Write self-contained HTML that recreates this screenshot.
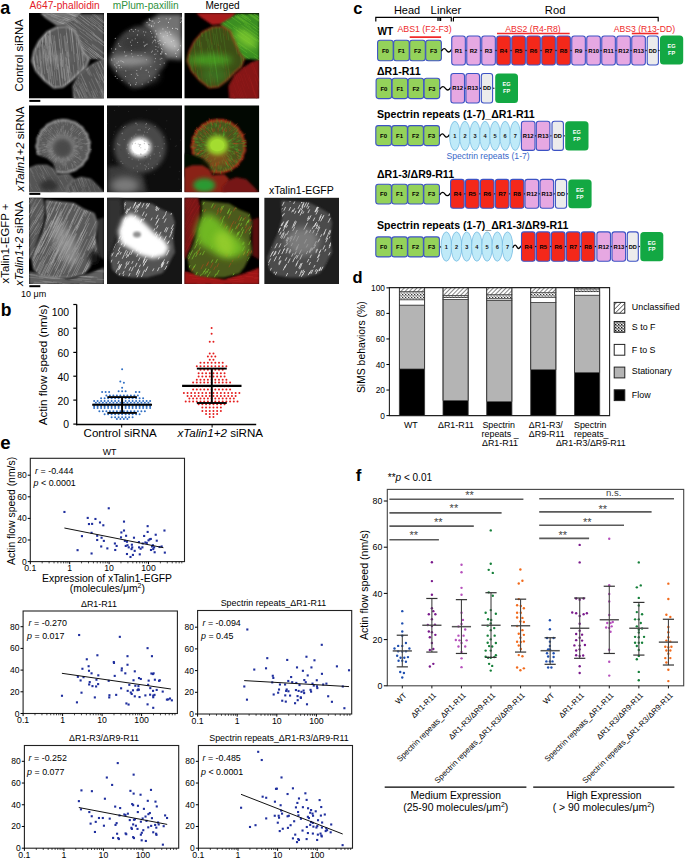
<!DOCTYPE html>
<html><head><meta charset="utf-8"><style>
html,body{margin:0;padding:0;background:#fff;}
svg{display:block;}
text{font-family:"Liberation Sans",sans-serif;}
</style></head><body>
<svg width="685" height="860" viewBox="0 0 685 860" font-family="Liberation Sans">
<defs>
<filter id="bl1" x="-20%" y="-20%" width="140%" height="140%"><feGaussianBlur stdDeviation="1"/></filter>
<filter id="bl2" x="-30%" y="-30%" width="160%" height="160%"><feGaussianBlur stdDeviation="2"/></filter>
<filter id="bl3" x="-50%" y="-50%" width="200%" height="200%"><feGaussianBlur stdDeviation="3.5"/></filter>
<filter id="bl5" x="-50%" y="-50%" width="200%" height="200%"><feGaussianBlur stdDeviation="5"/></filter>
<pattern id="hatch" width="3" height="3" patternUnits="userSpaceOnUse" patternTransform="rotate(45)"><rect width="3" height="3" fill="#fff"/><line x1="0" y1="0" x2="0" y2="3" stroke="#222" stroke-width="1.1"/></pattern>
<pattern id="hatchL" width="3.2" height="3.2" patternUnits="userSpaceOnUse" patternTransform="rotate(45)"><rect width="3.2" height="3.2" fill="#fff"/><line x1="0" y1="0" x2="0" y2="3.2" stroke="#222" stroke-width="1.2"/></pattern>
<pattern id="stip" width="3" height="3" patternUnits="userSpaceOnUse"><rect width="3" height="3" fill="#bbb"/><rect x="0" y="0" width="1" height="1" fill="#333"/><rect x="1.5" y="1.5" width="1" height="1" fill="#444"/><rect x="2" y="0" width="1" height="1" fill="#fff"/><rect x="0.5" y="2" width="1" height="1" fill="#fff"/></pattern>
<pattern id="stipL" width="3" height="3" patternUnits="userSpaceOnUse"><rect width="3" height="3" fill="#999"/><rect x="0" y="0" width="1" height="1" fill="#111"/><rect x="1.5" y="1.5" width="1" height="1" fill="#222"/><rect x="2" y="0" width="1" height="1" fill="#fff"/><rect x="0.5" y="2" width="1" height="1" fill="#eee"/></pattern>
</defs>
<clipPath id="cp1"><rect x="0" y="0" width="75.0" height="85.6"/></clipPath>
<g transform="translate(29.0,13.0)" clip-path="url(#cp1)">
<rect x="0.00" y="0.00" width="75.00" height="85.60" fill="#000" stroke="none" stroke-width="1" rx="0" />
<polygon points="12.0,0.0 52.0,0.0 46.0,7.0 38.0,11.0 28.0,12.0 22.0,8.0 16.0,4.0" fill="#6e6e6e" opacity="1" stroke="#b8b8b8" stroke-width="1" filter="url(#bl1)"/>
<clipPath id="cc1"><polygon points="12.0,0.0 52.0,0.0 46.0,7.0 38.0,11.0 28.0,12.0 22.0,8.0 16.0,4.0"/></clipPath>
<g clip-path="url(#cc1)">
<line x1="23.8" y1="1.5" x2="30.7" y2="4.0" stroke="#c0c0c0" stroke-width="0.6" opacity="0.45"/>
<line x1="43.0" y1="4.9" x2="54.1" y2="9.0" stroke="#c0c0c0" stroke-width="0.6" opacity="0.45"/>
<line x1="28.4" y1="2.5" x2="39.8" y2="6.7" stroke="#c0c0c0" stroke-width="0.6" opacity="0.45"/>
<line x1="29.6" y1="7.4" x2="40.5" y2="11.4" stroke="#c0c0c0" stroke-width="0.6" opacity="0.45"/>
<line x1="42.1" y1="4.0" x2="49.0" y2="6.5" stroke="#c0c0c0" stroke-width="0.6" opacity="0.45"/>
<line x1="14.5" y1="7.4" x2="21.5" y2="9.9" stroke="#c0c0c0" stroke-width="0.6" opacity="0.45"/>
<line x1="35.1" y1="6.3" x2="41.2" y2="8.6" stroke="#c0c0c0" stroke-width="0.6" opacity="0.45"/>
<line x1="37.1" y1="-1.9" x2="49.6" y2="2.7" stroke="#c0c0c0" stroke-width="0.6" opacity="0.45"/>
<line x1="40.0" y1="0.5" x2="51.3" y2="4.7" stroke="#c0c0c0" stroke-width="0.6" opacity="0.45"/>
<line x1="35.8" y1="-0.5" x2="46.8" y2="3.5" stroke="#c0c0c0" stroke-width="0.6" opacity="0.45"/>
<line x1="11.4" y1="8.9" x2="22.5" y2="13.0" stroke="#c0c0c0" stroke-width="0.6" opacity="0.45"/>
<line x1="47.1" y1="-0.8" x2="55.3" y2="2.1" stroke="#c0c0c0" stroke-width="0.6" opacity="0.45"/>
<line x1="33.3" y1="6.0" x2="40.3" y2="8.6" stroke="#c0c0c0" stroke-width="0.6" opacity="0.45"/>
<line x1="43.5" y1="8.7" x2="51.5" y2="11.6" stroke="#c0c0c0" stroke-width="0.6" opacity="0.45"/>
<line x1="13.4" y1="6.4" x2="22.3" y2="9.6" stroke="#c0c0c0" stroke-width="0.6" opacity="0.45"/>
<line x1="34.2" y1="4.3" x2="42.9" y2="7.5" stroke="#c0c0c0" stroke-width="0.6" opacity="0.45"/>
<line x1="8.2" y1="-0.1" x2="17.5" y2="3.3" stroke="#c0c0c0" stroke-width="0.6" opacity="0.45"/>
<line x1="35.4" y1="3.0" x2="46.9" y2="7.2" stroke="#c0c0c0" stroke-width="0.6" opacity="0.45"/>
<line x1="28.2" y1="8.6" x2="39.0" y2="12.5" stroke="#c0c0c0" stroke-width="0.6" opacity="0.45"/>
<line x1="21.8" y1="0.5" x2="28.0" y2="2.8" stroke="#c0c0c0" stroke-width="0.6" opacity="0.45"/>
<line x1="7.3" y1="8.1" x2="19.9" y2="12.6" stroke="#c0c0c0" stroke-width="0.6" opacity="0.45"/>
<line x1="36.6" y1="-0.7" x2="47.5" y2="3.3" stroke="#c0c0c0" stroke-width="0.6" opacity="0.45"/>
<line x1="11.7" y1="8.7" x2="22.5" y2="12.6" stroke="#c0c0c0" stroke-width="0.6" opacity="0.45"/>
<line x1="37.5" y1="5.7" x2="46.5" y2="8.9" stroke="#c0c0c0" stroke-width="0.6" opacity="0.45"/>
<line x1="42.2" y1="10.2" x2="49.7" y2="12.9" stroke="#c0c0c0" stroke-width="0.6" opacity="0.45"/>
<line x1="24.0" y1="6.8" x2="35.0" y2="10.8" stroke="#c0c0c0" stroke-width="0.6" opacity="0.45"/>
<line x1="21.8" y1="3.0" x2="35.1" y2="7.8" stroke="#c0c0c0" stroke-width="0.6" opacity="0.45"/>
<line x1="17.5" y1="0.5" x2="28.6" y2="4.6" stroke="#c0c0c0" stroke-width="0.6" opacity="0.45"/>
<line x1="19.0" y1="9.3" x2="27.2" y2="12.3" stroke="#c0c0c0" stroke-width="0.6" opacity="0.45"/>
<line x1="42.7" y1="2.3" x2="55.3" y2="6.9" stroke="#c0c0c0" stroke-width="0.6" opacity="0.45"/>
</g>
<polygon points="36.0,11.0 46.0,5.0 52.0,1.0 75.0,1.0 75.0,47.0 66.0,46.0 58.0,46.0 53.0,38.0 48.0,26.0" fill="#585858" opacity="1" filter="url(#bl1)"/>
<clipPath id="cc2"><polygon points="36.0,11.0 46.0,5.0 52.0,1.0 75.0,1.0 75.0,47.0 66.0,46.0 58.0,46.0 53.0,38.0 48.0,26.0"/></clipPath>
<g clip-path="url(#cc2)">
<line x1="38.5" y1="0.5" x2="51.9" y2="11.0" stroke="#b4b4b4" stroke-width="0.6" opacity="0.5"/>
<line x1="35.3" y1="-1.2" x2="48.8" y2="9.3" stroke="#b4b4b4" stroke-width="0.6" opacity="0.5"/>
<line x1="62.8" y1="30.8" x2="80.8" y2="44.8" stroke="#b4b4b4" stroke-width="0.6" opacity="0.5"/>
<line x1="38.6" y1="21.0" x2="50.7" y2="30.4" stroke="#b4b4b4" stroke-width="0.6" opacity="0.5"/>
<line x1="37.1" y1="1.5" x2="48.4" y2="10.3" stroke="#b4b4b4" stroke-width="0.6" opacity="0.5"/>
<line x1="62.9" y1="31.9" x2="81.4" y2="46.3" stroke="#b4b4b4" stroke-width="0.6" opacity="0.5"/>
<line x1="61.0" y1="5.0" x2="73.4" y2="14.8" stroke="#b4b4b4" stroke-width="0.6" opacity="0.5"/>
<line x1="50.9" y1="27.2" x2="70.0" y2="42.1" stroke="#b4b4b4" stroke-width="0.6" opacity="0.5"/>
<line x1="62.3" y1="-1.3" x2="78.3" y2="11.2" stroke="#b4b4b4" stroke-width="0.6" opacity="0.5"/>
<line x1="56.8" y1="20.0" x2="67.6" y2="28.5" stroke="#b4b4b4" stroke-width="0.6" opacity="0.5"/>
<line x1="44.5" y1="-2.7" x2="64.5" y2="12.9" stroke="#b4b4b4" stroke-width="0.6" opacity="0.5"/>
<line x1="63.6" y1="21.4" x2="75.9" y2="31.0" stroke="#b4b4b4" stroke-width="0.6" opacity="0.5"/>
<line x1="61.8" y1="19.8" x2="81.1" y2="34.9" stroke="#b4b4b4" stroke-width="0.6" opacity="0.5"/>
<line x1="62.2" y1="19.0" x2="75.9" y2="29.7" stroke="#b4b4b4" stroke-width="0.6" opacity="0.5"/>
<line x1="54.0" y1="16.7" x2="64.7" y2="25.0" stroke="#b4b4b4" stroke-width="0.6" opacity="0.5"/>
<line x1="43.3" y1="34.8" x2="52.5" y2="42.0" stroke="#b4b4b4" stroke-width="0.6" opacity="0.5"/>
<line x1="31.8" y1="25.1" x2="43.8" y2="34.5" stroke="#b4b4b4" stroke-width="0.6" opacity="0.5"/>
<line x1="50.4" y1="17.7" x2="63.3" y2="27.7" stroke="#b4b4b4" stroke-width="0.6" opacity="0.5"/>
<line x1="68.1" y1="4.7" x2="81.7" y2="15.3" stroke="#b4b4b4" stroke-width="0.6" opacity="0.5"/>
<line x1="37.9" y1="25.4" x2="49.9" y2="34.8" stroke="#b4b4b4" stroke-width="0.6" opacity="0.5"/>
<line x1="43.6" y1="30.5" x2="56.2" y2="40.3" stroke="#b4b4b4" stroke-width="0.6" opacity="0.5"/>
<line x1="52.8" y1="38.7" x2="62.7" y2="46.5" stroke="#b4b4b4" stroke-width="0.6" opacity="0.5"/>
<line x1="29.4" y1="4.5" x2="47.4" y2="18.5" stroke="#b4b4b4" stroke-width="0.6" opacity="0.5"/>
<line x1="53.7" y1="7.0" x2="66.3" y2="16.9" stroke="#b4b4b4" stroke-width="0.6" opacity="0.5"/>
<line x1="38.3" y1="18.5" x2="47.5" y2="25.7" stroke="#b4b4b4" stroke-width="0.6" opacity="0.5"/>
<line x1="53.1" y1="34.3" x2="73.3" y2="50.1" stroke="#b4b4b4" stroke-width="0.6" opacity="0.5"/>
<line x1="60.2" y1="41.7" x2="69.1" y2="48.6" stroke="#b4b4b4" stroke-width="0.6" opacity="0.5"/>
<line x1="38.2" y1="38.4" x2="56.3" y2="52.5" stroke="#b4b4b4" stroke-width="0.6" opacity="0.5"/>
<line x1="43.9" y1="38.1" x2="60.1" y2="50.7" stroke="#b4b4b4" stroke-width="0.6" opacity="0.5"/>
<line x1="62.4" y1="10.2" x2="73.4" y2="18.8" stroke="#b4b4b4" stroke-width="0.6" opacity="0.5"/>
<line x1="46.7" y1="2.1" x2="60.0" y2="12.5" stroke="#b4b4b4" stroke-width="0.6" opacity="0.5"/>
<line x1="69.1" y1="12.8" x2="77.9" y2="19.7" stroke="#b4b4b4" stroke-width="0.6" opacity="0.5"/>
<line x1="28.7" y1="1.7" x2="46.8" y2="15.9" stroke="#b4b4b4" stroke-width="0.6" opacity="0.5"/>
<line x1="45.2" y1="10.5" x2="55.1" y2="18.2" stroke="#b4b4b4" stroke-width="0.6" opacity="0.5"/>
<line x1="68.7" y1="16.1" x2="79.9" y2="24.9" stroke="#b4b4b4" stroke-width="0.6" opacity="0.5"/>
<line x1="33.0" y1="-0.6" x2="43.7" y2="7.7" stroke="#b4b4b4" stroke-width="0.6" opacity="0.5"/>
<line x1="57.8" y1="4.3" x2="67.0" y2="11.5" stroke="#b4b4b4" stroke-width="0.6" opacity="0.5"/>
<line x1="44.7" y1="4.3" x2="65.5" y2="20.6" stroke="#b4b4b4" stroke-width="0.6" opacity="0.5"/>
<line x1="31.7" y1="18.3" x2="49.8" y2="32.4" stroke="#b4b4b4" stroke-width="0.6" opacity="0.5"/>
<line x1="44.7" y1="40.8" x2="59.2" y2="52.1" stroke="#b4b4b4" stroke-width="0.6" opacity="0.5"/>
<line x1="40.9" y1="16.3" x2="50.0" y2="23.4" stroke="#b4b4b4" stroke-width="0.6" opacity="0.5"/>
<line x1="42.7" y1="4.8" x2="62.2" y2="20.0" stroke="#b4b4b4" stroke-width="0.6" opacity="0.5"/>
<line x1="63.9" y1="20.4" x2="72.9" y2="27.5" stroke="#b4b4b4" stroke-width="0.6" opacity="0.5"/>
<line x1="40.3" y1="7.8" x2="51.5" y2="16.5" stroke="#b4b4b4" stroke-width="0.6" opacity="0.5"/>
<line x1="39.8" y1="36.9" x2="50.2" y2="45.1" stroke="#b4b4b4" stroke-width="0.6" opacity="0.5"/>
<line x1="30.2" y1="37.6" x2="45.8" y2="49.8" stroke="#b4b4b4" stroke-width="0.6" opacity="0.5"/>
<line x1="64.8" y1="11.9" x2="84.4" y2="27.2" stroke="#b4b4b4" stroke-width="0.6" opacity="0.5"/>
<line x1="52.7" y1="30.5" x2="70.4" y2="44.3" stroke="#b4b4b4" stroke-width="0.6" opacity="0.5"/>
<line x1="49.7" y1="0.9" x2="60.9" y2="9.7" stroke="#b4b4b4" stroke-width="0.6" opacity="0.5"/>
<line x1="60.1" y1="34.6" x2="80.0" y2="50.2" stroke="#b4b4b4" stroke-width="0.6" opacity="0.5"/>
<line x1="39.9" y1="24.0" x2="58.3" y2="38.4" stroke="#b4b4b4" stroke-width="0.6" opacity="0.5"/>
<line x1="53.5" y1="32.6" x2="68.6" y2="44.4" stroke="#b4b4b4" stroke-width="0.6" opacity="0.5"/>
<line x1="55.6" y1="27.9" x2="67.5" y2="37.2" stroke="#b4b4b4" stroke-width="0.6" opacity="0.5"/>
<line x1="67.2" y1="41.3" x2="76.8" y2="48.7" stroke="#b4b4b4" stroke-width="0.6" opacity="0.5"/>
<line x1="65.5" y1="38.7" x2="82.3" y2="51.8" stroke="#b4b4b4" stroke-width="0.6" opacity="0.5"/>
<line x1="32.6" y1="38.4" x2="42.8" y2="46.3" stroke="#b4b4b4" stroke-width="0.6" opacity="0.5"/>
<line x1="69.1" y1="28.0" x2="78.5" y2="35.4" stroke="#b4b4b4" stroke-width="0.6" opacity="0.5"/>
<line x1="34.7" y1="24.1" x2="50.3" y2="36.3" stroke="#b4b4b4" stroke-width="0.6" opacity="0.5"/>
<line x1="59.5" y1="39.2" x2="70.8" y2="48.1" stroke="#b4b4b4" stroke-width="0.6" opacity="0.5"/>
<line x1="31.7" y1="40.0" x2="40.5" y2="46.9" stroke="#b4b4b4" stroke-width="0.6" opacity="0.5"/>
<line x1="60.9" y1="-0.9" x2="79.4" y2="13.6" stroke="#b4b4b4" stroke-width="0.6" opacity="0.5"/>
<line x1="58.9" y1="35.4" x2="74.2" y2="47.4" stroke="#b4b4b4" stroke-width="0.6" opacity="0.5"/>
<line x1="61.9" y1="3.7" x2="78.7" y2="16.8" stroke="#b4b4b4" stroke-width="0.6" opacity="0.5"/>
<line x1="39.9" y1="35.0" x2="57.9" y2="49.1" stroke="#b4b4b4" stroke-width="0.6" opacity="0.5"/>
<line x1="49.9" y1="21.7" x2="58.9" y2="28.7" stroke="#b4b4b4" stroke-width="0.6" opacity="0.5"/>
<line x1="30.0" y1="22.6" x2="44.6" y2="34.0" stroke="#b4b4b4" stroke-width="0.6" opacity="0.5"/>
<line x1="64.5" y1="24.9" x2="74.9" y2="33.0" stroke="#b4b4b4" stroke-width="0.6" opacity="0.5"/>
<line x1="42.6" y1="30.4" x2="57.6" y2="42.2" stroke="#b4b4b4" stroke-width="0.6" opacity="0.5"/>
<line x1="27.1" y1="32.2" x2="45.8" y2="46.8" stroke="#b4b4b4" stroke-width="0.6" opacity="0.5"/>
<line x1="32.7" y1="20.8" x2="46.0" y2="31.2" stroke="#b4b4b4" stroke-width="0.6" opacity="0.5"/>
</g>
<polygon points="44.0,73.0 50.0,62.0 58.0,55.0 66.0,50.0 75.0,46.0 75.0,86.0 45.0,86.0" fill="#545454" opacity="1" stroke="#a0a0a0" stroke-width="0.8" filter="url(#bl1)"/>
<clipPath id="cc3"><polygon points="44.0,73.0 50.0,62.0 58.0,55.0 66.0,50.0 75.0,46.0 75.0,86.0 45.0,86.0"/></clipPath>
<g clip-path="url(#cc3)">
<line x1="60.0" y1="68.5" x2="66.7" y2="82.9" stroke="#a8a8a8" stroke-width="0.6" opacity="0.45"/>
<line x1="69.6" y1="67.8" x2="76.8" y2="83.4" stroke="#a8a8a8" stroke-width="0.6" opacity="0.45"/>
<line x1="41.2" y1="56.7" x2="48.6" y2="72.5" stroke="#a8a8a8" stroke-width="0.6" opacity="0.45"/>
<line x1="62.3" y1="78.1" x2="66.0" y2="86.0" stroke="#a8a8a8" stroke-width="0.6" opacity="0.45"/>
<line x1="55.7" y1="49.9" x2="61.3" y2="61.8" stroke="#a8a8a8" stroke-width="0.6" opacity="0.45"/>
<line x1="59.7" y1="42.1" x2="63.9" y2="51.0" stroke="#a8a8a8" stroke-width="0.6" opacity="0.45"/>
<line x1="49.4" y1="75.6" x2="55.9" y2="89.7" stroke="#a8a8a8" stroke-width="0.6" opacity="0.45"/>
<line x1="47.1" y1="73.8" x2="50.8" y2="81.9" stroke="#a8a8a8" stroke-width="0.6" opacity="0.45"/>
<line x1="61.6" y1="47.7" x2="64.7" y2="54.5" stroke="#a8a8a8" stroke-width="0.6" opacity="0.45"/>
<line x1="69.0" y1="50.0" x2="73.1" y2="58.8" stroke="#a8a8a8" stroke-width="0.6" opacity="0.45"/>
<line x1="72.2" y1="76.1" x2="76.7" y2="85.7" stroke="#a8a8a8" stroke-width="0.6" opacity="0.45"/>
<line x1="70.7" y1="60.9" x2="76.9" y2="74.2" stroke="#a8a8a8" stroke-width="0.6" opacity="0.45"/>
<line x1="47.2" y1="77.0" x2="53.5" y2="90.3" stroke="#a8a8a8" stroke-width="0.6" opacity="0.45"/>
<line x1="71.7" y1="76.9" x2="76.2" y2="86.6" stroke="#a8a8a8" stroke-width="0.6" opacity="0.45"/>
<line x1="53.3" y1="48.5" x2="57.1" y2="56.7" stroke="#a8a8a8" stroke-width="0.6" opacity="0.45"/>
<line x1="43.1" y1="51.8" x2="48.9" y2="64.3" stroke="#a8a8a8" stroke-width="0.6" opacity="0.45"/>
<line x1="41.8" y1="68.1" x2="46.4" y2="78.1" stroke="#a8a8a8" stroke-width="0.6" opacity="0.45"/>
<line x1="51.0" y1="73.1" x2="56.3" y2="84.4" stroke="#a8a8a8" stroke-width="0.6" opacity="0.45"/>
<line x1="50.6" y1="58.5" x2="56.9" y2="72.0" stroke="#a8a8a8" stroke-width="0.6" opacity="0.45"/>
<line x1="44.1" y1="81.5" x2="47.4" y2="88.5" stroke="#a8a8a8" stroke-width="0.6" opacity="0.45"/>
<line x1="65.6" y1="76.3" x2="68.9" y2="83.3" stroke="#a8a8a8" stroke-width="0.6" opacity="0.45"/>
<line x1="65.6" y1="54.5" x2="71.3" y2="66.8" stroke="#a8a8a8" stroke-width="0.6" opacity="0.45"/>
<line x1="42.3" y1="43.6" x2="46.3" y2="52.1" stroke="#a8a8a8" stroke-width="0.6" opacity="0.45"/>
<line x1="70.3" y1="46.9" x2="76.9" y2="60.9" stroke="#a8a8a8" stroke-width="0.6" opacity="0.45"/>
<line x1="70.5" y1="78.6" x2="75.2" y2="88.7" stroke="#a8a8a8" stroke-width="0.6" opacity="0.45"/>
<line x1="51.7" y1="59.9" x2="58.3" y2="74.1" stroke="#a8a8a8" stroke-width="0.6" opacity="0.45"/>
<line x1="44.0" y1="68.7" x2="50.7" y2="83.1" stroke="#a8a8a8" stroke-width="0.6" opacity="0.45"/>
<line x1="67.0" y1="39.6" x2="74.3" y2="55.4" stroke="#a8a8a8" stroke-width="0.6" opacity="0.45"/>
<line x1="43.9" y1="53.3" x2="49.8" y2="65.9" stroke="#a8a8a8" stroke-width="0.6" opacity="0.45"/>
<line x1="68.8" y1="51.8" x2="76.1" y2="67.4" stroke="#a8a8a8" stroke-width="0.6" opacity="0.45"/>
<line x1="58.6" y1="53.6" x2="63.2" y2="63.4" stroke="#a8a8a8" stroke-width="0.6" opacity="0.45"/>
<line x1="47.6" y1="45.0" x2="51.4" y2="53.2" stroke="#a8a8a8" stroke-width="0.6" opacity="0.45"/>
<line x1="63.4" y1="81.7" x2="67.3" y2="90.0" stroke="#a8a8a8" stroke-width="0.6" opacity="0.45"/>
<line x1="42.7" y1="79.5" x2="48.3" y2="91.4" stroke="#a8a8a8" stroke-width="0.6" opacity="0.45"/>
<line x1="53.7" y1="49.3" x2="59.5" y2="61.7" stroke="#a8a8a8" stroke-width="0.6" opacity="0.45"/>
<line x1="67.1" y1="58.8" x2="72.1" y2="69.6" stroke="#a8a8a8" stroke-width="0.6" opacity="0.45"/>
<line x1="44.1" y1="79.1" x2="47.4" y2="86.2" stroke="#a8a8a8" stroke-width="0.6" opacity="0.45"/>
<line x1="57.4" y1="75.5" x2="61.2" y2="83.6" stroke="#a8a8a8" stroke-width="0.6" opacity="0.45"/>
<line x1="63.7" y1="77.6" x2="69.7" y2="90.4" stroke="#a8a8a8" stroke-width="0.6" opacity="0.45"/>
<line x1="65.9" y1="44.8" x2="71.0" y2="55.7" stroke="#a8a8a8" stroke-width="0.6" opacity="0.45"/>
<line x1="46.4" y1="75.0" x2="50.9" y2="84.6" stroke="#a8a8a8" stroke-width="0.6" opacity="0.45"/>
<line x1="54.6" y1="78.5" x2="61.5" y2="93.4" stroke="#a8a8a8" stroke-width="0.6" opacity="0.45"/>
<line x1="71.6" y1="58.4" x2="76.9" y2="69.9" stroke="#a8a8a8" stroke-width="0.6" opacity="0.45"/>
<line x1="64.4" y1="60.4" x2="68.8" y2="69.9" stroke="#a8a8a8" stroke-width="0.6" opacity="0.45"/>
<line x1="54.1" y1="46.7" x2="58.9" y2="57.1" stroke="#a8a8a8" stroke-width="0.6" opacity="0.45"/>
<line x1="71.7" y1="78.0" x2="77.6" y2="90.8" stroke="#a8a8a8" stroke-width="0.6" opacity="0.45"/>
<line x1="57.7" y1="55.7" x2="61.3" y2="63.4" stroke="#a8a8a8" stroke-width="0.6" opacity="0.45"/>
<line x1="48.9" y1="69.8" x2="56.0" y2="84.8" stroke="#a8a8a8" stroke-width="0.6" opacity="0.45"/>
<line x1="51.9" y1="70.4" x2="58.5" y2="84.5" stroke="#a8a8a8" stroke-width="0.6" opacity="0.45"/>
<line x1="62.3" y1="65.5" x2="68.8" y2="79.6" stroke="#a8a8a8" stroke-width="0.6" opacity="0.45"/>
<line x1="53.1" y1="69.4" x2="57.5" y2="78.9" stroke="#a8a8a8" stroke-width="0.6" opacity="0.45"/>
<line x1="55.9" y1="70.1" x2="62.2" y2="83.5" stroke="#a8a8a8" stroke-width="0.6" opacity="0.45"/>
<line x1="50.1" y1="77.3" x2="56.1" y2="90.3" stroke="#a8a8a8" stroke-width="0.6" opacity="0.45"/>
<line x1="59.2" y1="40.5" x2="64.8" y2="52.5" stroke="#a8a8a8" stroke-width="0.6" opacity="0.45"/>
<line x1="49.2" y1="67.3" x2="54.4" y2="78.5" stroke="#a8a8a8" stroke-width="0.6" opacity="0.45"/>
<line x1="66.0" y1="64.7" x2="72.7" y2="79.1" stroke="#a8a8a8" stroke-width="0.6" opacity="0.45"/>
<line x1="51.6" y1="64.9" x2="58.0" y2="78.7" stroke="#a8a8a8" stroke-width="0.6" opacity="0.45"/>
<line x1="66.2" y1="52.6" x2="73.1" y2="67.4" stroke="#a8a8a8" stroke-width="0.6" opacity="0.45"/>
<line x1="67.2" y1="65.5" x2="74.7" y2="81.6" stroke="#a8a8a8" stroke-width="0.6" opacity="0.45"/>
<line x1="70.9" y1="60.8" x2="76.4" y2="72.6" stroke="#a8a8a8" stroke-width="0.6" opacity="0.45"/>
</g>
<polygon points="5.0,38.0 10.0,28.0 18.0,19.0 28.0,14.0 38.0,13.0 46.0,18.0 51.0,30.0 55.0,40.0 60.0,46.0 57.0,54.0 50.0,60.0 43.0,67.0 34.0,74.0 25.0,75.0 15.0,67.0 7.0,58.0 3.0,48.0" fill="#585858" opacity="1" stroke="#c0c0c0" stroke-width="1.1" filter="url(#bl1)"/>
<clipPath id="cc4"><polygon points="5.0,38.0 10.0,28.0 18.0,19.0 28.0,14.0 38.0,13.0 46.0,18.0 51.0,30.0 55.0,40.0 60.0,46.0 57.0,54.0 50.0,60.0 43.0,67.0 34.0,74.0 25.0,75.0 15.0,67.0 7.0,58.0 3.0,48.0"/></clipPath>
<g clip-path="url(#cc4)">
<line x1="15.5" y1="36.2" x2="17.7" y2="57.3" stroke="#b8b8b8" stroke-width="0.6" opacity="0.5"/>
<line x1="36.6" y1="44.2" x2="38.2" y2="59.4" stroke="#b8b8b8" stroke-width="0.6" opacity="0.5"/>
<line x1="2.8" y1="55.4" x2="4.7" y2="74.4" stroke="#b8b8b8" stroke-width="0.6" opacity="0.5"/>
<line x1="15.1" y1="63.2" x2="17.6" y2="86.3" stroke="#b8b8b8" stroke-width="0.6" opacity="0.5"/>
<line x1="49.3" y1="29.3" x2="52.1" y2="55.7" stroke="#b8b8b8" stroke-width="0.6" opacity="0.5"/>
<line x1="10.0" y1="36.9" x2="13.2" y2="67.8" stroke="#b8b8b8" stroke-width="0.6" opacity="0.5"/>
<line x1="31.4" y1="45.5" x2="34.2" y2="72.5" stroke="#b8b8b8" stroke-width="0.6" opacity="0.5"/>
<line x1="5.3" y1="47.3" x2="8.0" y2="72.7" stroke="#b8b8b8" stroke-width="0.6" opacity="0.5"/>
<line x1="18.6" y1="-0.5" x2="21.8" y2="30.3" stroke="#b8b8b8" stroke-width="0.6" opacity="0.5"/>
<line x1="28.3" y1="42.0" x2="31.6" y2="73.1" stroke="#b8b8b8" stroke-width="0.6" opacity="0.5"/>
<line x1="42.6" y1="59.3" x2="44.8" y2="80.9" stroke="#b8b8b8" stroke-width="0.6" opacity="0.5"/>
<line x1="47.0" y1="24.5" x2="50.3" y2="56.6" stroke="#b8b8b8" stroke-width="0.6" opacity="0.5"/>
<line x1="52.2" y1="10.8" x2="54.0" y2="27.3" stroke="#b8b8b8" stroke-width="0.6" opacity="0.5"/>
<line x1="14.2" y1="61.6" x2="16.5" y2="84.1" stroke="#b8b8b8" stroke-width="0.6" opacity="0.5"/>
<line x1="37.5" y1="19.8" x2="40.0" y2="43.6" stroke="#b8b8b8" stroke-width="0.6" opacity="0.5"/>
<line x1="23.7" y1="22.1" x2="26.3" y2="47.4" stroke="#b8b8b8" stroke-width="0.6" opacity="0.5"/>
<line x1="34.9" y1="55.5" x2="37.7" y2="82.7" stroke="#b8b8b8" stroke-width="0.6" opacity="0.5"/>
<line x1="54.2" y1="49.5" x2="57.7" y2="82.7" stroke="#b8b8b8" stroke-width="0.6" opacity="0.5"/>
<line x1="39.6" y1="7.8" x2="42.9" y2="38.5" stroke="#b8b8b8" stroke-width="0.6" opacity="0.5"/>
<line x1="56.7" y1="56.6" x2="59.3" y2="81.6" stroke="#b8b8b8" stroke-width="0.6" opacity="0.5"/>
<line x1="42.1" y1="11.0" x2="45.3" y2="41.2" stroke="#b8b8b8" stroke-width="0.6" opacity="0.5"/>
<line x1="34.9" y1="23.1" x2="36.5" y2="38.2" stroke="#b8b8b8" stroke-width="0.6" opacity="0.5"/>
<line x1="50.9" y1="66.5" x2="52.5" y2="82.2" stroke="#b8b8b8" stroke-width="0.6" opacity="0.5"/>
<line x1="47.7" y1="30.0" x2="49.5" y2="46.9" stroke="#b8b8b8" stroke-width="0.6" opacity="0.5"/>
<line x1="18.1" y1="45.2" x2="21.4" y2="76.1" stroke="#b8b8b8" stroke-width="0.6" opacity="0.5"/>
<line x1="4.7" y1="43.7" x2="6.3" y2="58.5" stroke="#b8b8b8" stroke-width="0.6" opacity="0.5"/>
<line x1="42.3" y1="18.0" x2="45.6" y2="49.1" stroke="#b8b8b8" stroke-width="0.6" opacity="0.5"/>
<line x1="57.1" y1="27.6" x2="60.7" y2="61.0" stroke="#b8b8b8" stroke-width="0.6" opacity="0.5"/>
<line x1="19.3" y1="5.0" x2="22.0" y2="30.6" stroke="#b8b8b8" stroke-width="0.6" opacity="0.5"/>
<line x1="3.6" y1="14.3" x2="5.9" y2="36.2" stroke="#b8b8b8" stroke-width="0.6" opacity="0.5"/>
<line x1="37.0" y1="15.3" x2="38.6" y2="30.1" stroke="#b8b8b8" stroke-width="0.6" opacity="0.5"/>
<line x1="50.7" y1="16.2" x2="54.2" y2="48.8" stroke="#b8b8b8" stroke-width="0.6" opacity="0.5"/>
<line x1="52.9" y1="25.0" x2="55.3" y2="47.9" stroke="#b8b8b8" stroke-width="0.6" opacity="0.5"/>
<line x1="31.3" y1="40.2" x2="34.0" y2="65.7" stroke="#b8b8b8" stroke-width="0.6" opacity="0.5"/>
<line x1="33.2" y1="35.3" x2="36.6" y2="67.6" stroke="#b8b8b8" stroke-width="0.6" opacity="0.5"/>
<line x1="30.4" y1="25.8" x2="33.4" y2="53.7" stroke="#b8b8b8" stroke-width="0.6" opacity="0.5"/>
<line x1="14.8" y1="15.2" x2="18.3" y2="48.2" stroke="#b8b8b8" stroke-width="0.6" opacity="0.5"/>
<line x1="32.0" y1="39.9" x2="33.4" y2="54.1" stroke="#b8b8b8" stroke-width="0.6" opacity="0.5"/>
<line x1="25.9" y1="41.8" x2="27.4" y2="56.1" stroke="#b8b8b8" stroke-width="0.6" opacity="0.5"/>
<line x1="37.3" y1="44.6" x2="38.9" y2="59.7" stroke="#b8b8b8" stroke-width="0.6" opacity="0.5"/>
<line x1="37.3" y1="28.3" x2="40.2" y2="55.5" stroke="#b8b8b8" stroke-width="0.6" opacity="0.5"/>
<line x1="21.6" y1="42.7" x2="24.6" y2="71.0" stroke="#b8b8b8" stroke-width="0.6" opacity="0.5"/>
<line x1="2.8" y1="3.2" x2="5.7" y2="30.3" stroke="#b8b8b8" stroke-width="0.6" opacity="0.5"/>
<line x1="56.7" y1="17.2" x2="59.1" y2="40.0" stroke="#b8b8b8" stroke-width="0.6" opacity="0.5"/>
<line x1="35.7" y1="22.3" x2="37.9" y2="43.4" stroke="#b8b8b8" stroke-width="0.6" opacity="0.5"/>
<line x1="19.5" y1="23.1" x2="22.2" y2="48.7" stroke="#b8b8b8" stroke-width="0.6" opacity="0.5"/>
<line x1="18.6" y1="21.9" x2="21.6" y2="50.9" stroke="#b8b8b8" stroke-width="0.6" opacity="0.5"/>
<line x1="3.0" y1="34.2" x2="6.0" y2="62.4" stroke="#b8b8b8" stroke-width="0.6" opacity="0.5"/>
<line x1="19.1" y1="12.0" x2="22.2" y2="41.6" stroke="#b8b8b8" stroke-width="0.6" opacity="0.5"/>
<line x1="15.4" y1="13.4" x2="17.8" y2="35.8" stroke="#b8b8b8" stroke-width="0.6" opacity="0.5"/>
<line x1="41.7" y1="9.2" x2="43.9" y2="29.4" stroke="#b8b8b8" stroke-width="0.6" opacity="0.5"/>
<line x1="20.8" y1="53.4" x2="23.2" y2="75.9" stroke="#b8b8b8" stroke-width="0.6" opacity="0.5"/>
<line x1="50.7" y1="13.3" x2="52.8" y2="33.7" stroke="#b8b8b8" stroke-width="0.6" opacity="0.5"/>
<line x1="38.9" y1="56.5" x2="41.3" y2="79.2" stroke="#b8b8b8" stroke-width="0.6" opacity="0.5"/>
<line x1="14.6" y1="8.4" x2="17.1" y2="32.6" stroke="#b8b8b8" stroke-width="0.6" opacity="0.5"/>
<line x1="12.3" y1="47.9" x2="15.5" y2="78.2" stroke="#b8b8b8" stroke-width="0.6" opacity="0.5"/>
<line x1="11.9" y1="15.4" x2="15.0" y2="45.1" stroke="#b8b8b8" stroke-width="0.6" opacity="0.5"/>
<line x1="38.5" y1="52.7" x2="40.7" y2="73.3" stroke="#b8b8b8" stroke-width="0.6" opacity="0.5"/>
<line x1="8.8" y1="16.4" x2="11.9" y2="45.8" stroke="#b8b8b8" stroke-width="0.6" opacity="0.5"/>
<line x1="17.3" y1="23.4" x2="19.6" y2="45.5" stroke="#b8b8b8" stroke-width="0.6" opacity="0.5"/>
<line x1="25.3" y1="22.5" x2="28.6" y2="54.3" stroke="#b8b8b8" stroke-width="0.6" opacity="0.5"/>
<line x1="10.2" y1="-2.9" x2="13.6" y2="29.4" stroke="#b8b8b8" stroke-width="0.6" opacity="0.5"/>
<line x1="52.0" y1="63.0" x2="54.3" y2="85.4" stroke="#b8b8b8" stroke-width="0.6" opacity="0.5"/>
<line x1="56.2" y1="61.4" x2="58.1" y2="79.6" stroke="#b8b8b8" stroke-width="0.6" opacity="0.5"/>
<line x1="44.1" y1="51.5" x2="46.9" y2="78.3" stroke="#b8b8b8" stroke-width="0.6" opacity="0.5"/>
<line x1="31.5" y1="20.6" x2="33.7" y2="41.2" stroke="#b8b8b8" stroke-width="0.6" opacity="0.5"/>
<line x1="14.6" y1="4.5" x2="17.3" y2="29.9" stroke="#b8b8b8" stroke-width="0.6" opacity="0.5"/>
<line x1="18.6" y1="55.8" x2="20.1" y2="70.6" stroke="#b8b8b8" stroke-width="0.6" opacity="0.5"/>
<line x1="52.8" y1="40.0" x2="56.2" y2="72.0" stroke="#b8b8b8" stroke-width="0.6" opacity="0.5"/>
<line x1="52.8" y1="56.2" x2="55.4" y2="81.4" stroke="#b8b8b8" stroke-width="0.6" opacity="0.5"/>
<line x1="2.8" y1="50.6" x2="4.7" y2="67.8" stroke="#b8b8b8" stroke-width="0.6" opacity="0.5"/>
<line x1="18.8" y1="42.0" x2="21.4" y2="66.2" stroke="#b8b8b8" stroke-width="0.6" opacity="0.5"/>
<line x1="25.2" y1="58.3" x2="27.9" y2="84.1" stroke="#b8b8b8" stroke-width="0.6" opacity="0.5"/>
<line x1="20.8" y1="13.3" x2="24.1" y2="44.0" stroke="#b8b8b8" stroke-width="0.6" opacity="0.5"/>
<line x1="29.1" y1="51.1" x2="31.3" y2="71.9" stroke="#b8b8b8" stroke-width="0.6" opacity="0.5"/>
<line x1="12.7" y1="31.2" x2="15.8" y2="61.1" stroke="#b8b8b8" stroke-width="0.6" opacity="0.5"/>
<line x1="11.1" y1="46.1" x2="14.4" y2="78.0" stroke="#b8b8b8" stroke-width="0.6" opacity="0.5"/>
<line x1="48.2" y1="57.0" x2="49.7" y2="71.1" stroke="#b8b8b8" stroke-width="0.6" opacity="0.5"/>
<line x1="38.0" y1="59.0" x2="39.6" y2="73.9" stroke="#b8b8b8" stroke-width="0.6" opacity="0.5"/>
<line x1="17.2" y1="17.6" x2="19.7" y2="41.8" stroke="#b8b8b8" stroke-width="0.6" opacity="0.5"/>
<line x1="25.6" y1="27.8" x2="28.6" y2="56.8" stroke="#b8b8b8" stroke-width="0.6" opacity="0.5"/>
<line x1="2.2" y1="8.2" x2="4.0" y2="24.6" stroke="#b8b8b8" stroke-width="0.6" opacity="0.5"/>
<line x1="8.4" y1="0.8" x2="11.8" y2="33.7" stroke="#b8b8b8" stroke-width="0.6" opacity="0.5"/>
<line x1="50.5" y1="6.5" x2="52.9" y2="30.2" stroke="#b8b8b8" stroke-width="0.6" opacity="0.5"/>
<line x1="19.9" y1="22.1" x2="22.1" y2="42.9" stroke="#b8b8b8" stroke-width="0.6" opacity="0.5"/>
<line x1="38.8" y1="38.9" x2="41.0" y2="59.8" stroke="#b8b8b8" stroke-width="0.6" opacity="0.5"/>
<line x1="13.0" y1="25.2" x2="14.8" y2="41.6" stroke="#b8b8b8" stroke-width="0.6" opacity="0.5"/>
<line x1="33.5" y1="46.7" x2="35.8" y2="68.1" stroke="#b8b8b8" stroke-width="0.6" opacity="0.5"/>
<line x1="6.4" y1="13.5" x2="8.7" y2="34.7" stroke="#b8b8b8" stroke-width="0.6" opacity="0.5"/>
<line x1="36.3" y1="50.9" x2="38.6" y2="72.2" stroke="#b8b8b8" stroke-width="0.6" opacity="0.5"/>
<line x1="47.5" y1="40.5" x2="49.8" y2="62.8" stroke="#b8b8b8" stroke-width="0.6" opacity="0.5"/>
<line x1="22.8" y1="29.9" x2="25.7" y2="57.6" stroke="#b8b8b8" stroke-width="0.6" opacity="0.5"/>
<line x1="25.8" y1="44.6" x2="28.2" y2="67.5" stroke="#b8b8b8" stroke-width="0.6" opacity="0.5"/>
<line x1="15.5" y1="32.5" x2="18.4" y2="60.0" stroke="#b8b8b8" stroke-width="0.6" opacity="0.5"/>
<line x1="5.9" y1="28.2" x2="8.2" y2="50.5" stroke="#b8b8b8" stroke-width="0.6" opacity="0.5"/>
<line x1="52.0" y1="60.5" x2="54.3" y2="81.7" stroke="#b8b8b8" stroke-width="0.6" opacity="0.5"/>
<line x1="53.2" y1="52.5" x2="55.2" y2="71.6" stroke="#b8b8b8" stroke-width="0.6" opacity="0.5"/>
<line x1="27.9" y1="5.7" x2="31.0" y2="35.5" stroke="#b8b8b8" stroke-width="0.6" opacity="0.5"/>
<line x1="39.2" y1="53.3" x2="42.3" y2="82.7" stroke="#b8b8b8" stroke-width="0.6" opacity="0.5"/>
<line x1="39.7" y1="46.0" x2="42.4" y2="70.9" stroke="#b8b8b8" stroke-width="0.6" opacity="0.5"/>
<line x1="8.1" y1="42.4" x2="9.6" y2="56.5" stroke="#b8b8b8" stroke-width="0.6" opacity="0.5"/>
<line x1="10.4" y1="53.6" x2="12.0" y2="68.4" stroke="#b8b8b8" stroke-width="0.6" opacity="0.5"/>
<line x1="6.6" y1="3.6" x2="9.9" y2="34.7" stroke="#b8b8b8" stroke-width="0.6" opacity="0.5"/>
<line x1="11.6" y1="-0.7" x2="14.8" y2="29.6" stroke="#b8b8b8" stroke-width="0.6" opacity="0.5"/>
<line x1="8.5" y1="51.8" x2="11.3" y2="78.9" stroke="#b8b8b8" stroke-width="0.6" opacity="0.5"/>
<line x1="49.3" y1="59.4" x2="52.0" y2="84.7" stroke="#b8b8b8" stroke-width="0.6" opacity="0.5"/>
<line x1="47.0" y1="0.8" x2="50.0" y2="29.7" stroke="#b8b8b8" stroke-width="0.6" opacity="0.5"/>
<line x1="31.3" y1="49.3" x2="33.0" y2="65.3" stroke="#b8b8b8" stroke-width="0.6" opacity="0.5"/>
<line x1="44.9" y1="63.4" x2="46.5" y2="78.5" stroke="#b8b8b8" stroke-width="0.6" opacity="0.5"/>
<line x1="19.9" y1="32.9" x2="23.1" y2="63.0" stroke="#b8b8b8" stroke-width="0.6" opacity="0.5"/>
</g>
<ellipse cx="25" cy="45" rx="18" ry="4" fill="#9a9a9a" opacity="0.45" filter="url(#bl3)"/>
</g>
<clipPath id="cp2"><rect x="0" y="0" width="75.0" height="85.6"/></clipPath>
<g transform="translate(107.0,13.0)" clip-path="url(#cp2)">
<rect x="0.00" y="0.00" width="75.00" height="85.60" fill="#000" stroke="none" stroke-width="1" rx="0" />
<polygon points="36.0,11.0 46.0,5.0 52.0,1.0 75.0,1.0 75.0,47.0 66.0,46.0 58.0,46.0 53.0,38.0 48.0,26.0" fill="#727272" opacity="1" filter="url(#bl2)"/>
<ellipse cx="62" cy="28" rx="14" ry="7" fill="#c4c4c4" opacity="0.9" filter="url(#bl3)" transform="rotate(40 62 28)"/>
<polygon points="5.0,38.0 10.0,28.0 18.0,19.0 28.0,14.0 38.0,13.0 46.0,18.0 51.0,30.0 55.0,40.0 60.0,46.0 57.0,54.0 50.0,60.0 43.0,67.0 34.0,74.0 25.0,75.0 15.0,67.0 7.0,58.0 3.0,48.0" fill="#4a4a4a" opacity="1" filter="url(#bl2)"/>
<ellipse cx="28" cy="30" rx="16" ry="9" fill="#333" opacity="0.7" filter="url(#bl3)"/>
<ellipse cx="24" cy="48" rx="22" ry="5" fill="#a4a4a4" opacity="0.85" filter="url(#bl3)"/>
<ellipse cx="38" cy="62" rx="14" ry="9" fill="#5c5c5c" opacity="0.7" filter="url(#bl3)"/>
<circle cx="48.2" cy="64.8" r="0.55" fill="#c8c8c8" opacity="0.75"/>
<circle cx="30.6" cy="29.5" r="0.55" fill="#c8c8c8" opacity="0.75"/>
<circle cx="29.8" cy="60.9" r="0.55" fill="#c8c8c8" opacity="0.75"/>
<circle cx="24.3" cy="61.5" r="0.55" fill="#c8c8c8" opacity="0.75"/>
<circle cx="18.5" cy="63.5" r="0.55" fill="#c8c8c8" opacity="0.75"/>
<circle cx="44.6" cy="39.1" r="0.55" fill="#c8c8c8" opacity="0.75"/>
<circle cx="33.7" cy="56.0" r="0.55" fill="#c8c8c8" opacity="0.75"/>
<circle cx="14.0" cy="47.9" r="0.55" fill="#c8c8c8" opacity="0.75"/>
<circle cx="48.9" cy="29.7" r="0.55" fill="#c8c8c8" opacity="0.75"/>
<circle cx="48.8" cy="56.2" r="0.55" fill="#c8c8c8" opacity="0.75"/>
<circle cx="51.1" cy="34.1" r="0.55" fill="#c8c8c8" opacity="0.75"/>
<circle cx="8.3" cy="63.4" r="0.55" fill="#c8c8c8" opacity="0.75"/>
<circle cx="48.9" cy="41.0" r="0.55" fill="#c8c8c8" opacity="0.75"/>
<circle cx="8.3" cy="25.4" r="0.55" fill="#c8c8c8" opacity="0.75"/>
<circle cx="39.2" cy="31.3" r="0.55" fill="#c8c8c8" opacity="0.75"/>
<circle cx="57.2" cy="50.1" r="0.55" fill="#c8c8c8" opacity="0.75"/>
<circle cx="14.4" cy="54.3" r="0.55" fill="#c8c8c8" opacity="0.75"/>
<circle cx="23.5" cy="71.8" r="0.55" fill="#c8c8c8" opacity="0.75"/>
<circle cx="54.8" cy="45.4" r="0.55" fill="#c8c8c8" opacity="0.75"/>
<circle cx="39.7" cy="57.0" r="0.55" fill="#c8c8c8" opacity="0.75"/>
<circle cx="4.6" cy="35.8" r="0.55" fill="#c8c8c8" opacity="0.75"/>
<circle cx="37.3" cy="32.2" r="0.55" fill="#c8c8c8" opacity="0.75"/>
<circle cx="36.6" cy="18.7" r="0.55" fill="#c8c8c8" opacity="0.75"/>
<circle cx="53.2" cy="46.1" r="0.55" fill="#c8c8c8" opacity="0.75"/>
<circle cx="9.7" cy="54.8" r="0.55" fill="#c8c8c8" opacity="0.75"/>
<circle cx="20.8" cy="25.4" r="0.55" fill="#c8c8c8" opacity="0.75"/>
<circle cx="30.6" cy="21.7" r="0.55" fill="#c8c8c8" opacity="0.75"/>
<circle cx="15.0" cy="67.5" r="0.55" fill="#c8c8c8" opacity="0.75"/>
<circle cx="22.0" cy="70.0" r="0.55" fill="#c8c8c8" opacity="0.75"/>
<circle cx="38.4" cy="32.3" r="0.55" fill="#c8c8c8" opacity="0.75"/>
<circle cx="24.5" cy="37.5" r="0.55" fill="#c8c8c8" opacity="0.75"/>
<circle cx="6.1" cy="39.6" r="0.55" fill="#c8c8c8" opacity="0.75"/>
<circle cx="45.5" cy="38.1" r="0.55" fill="#c8c8c8" opacity="0.75"/>
<circle cx="41.2" cy="69.0" r="0.55" fill="#c8c8c8" opacity="0.75"/>
<circle cx="28.5" cy="65.4" r="0.55" fill="#c8c8c8" opacity="0.75"/>
<circle cx="48.4" cy="45.6" r="0.55" fill="#c8c8c8" opacity="0.75"/>
<circle cx="29.8" cy="57.5" r="0.55" fill="#c8c8c8" opacity="0.75"/>
<circle cx="26.3" cy="18.4" r="0.55" fill="#c8c8c8" opacity="0.75"/>
<circle cx="45.6" cy="29.7" r="0.55" fill="#c8c8c8" opacity="0.75"/>
<circle cx="30.8" cy="62.4" r="0.55" fill="#c8c8c8" opacity="0.75"/>
<circle cx="10.0" cy="50.1" r="0.55" fill="#c8c8c8" opacity="0.75"/>
<circle cx="23.6" cy="29.1" r="0.55" fill="#c8c8c8" opacity="0.75"/>
<circle cx="28.7" cy="71.4" r="0.55" fill="#c8c8c8" opacity="0.75"/>
<circle cx="17.5" cy="38.9" r="0.55" fill="#c8c8c8" opacity="0.75"/>
<circle cx="53.1" cy="51.6" r="0.55" fill="#c8c8c8" opacity="0.75"/>
<circle cx="18.3" cy="42.9" r="0.55" fill="#c8c8c8" opacity="0.75"/>
<circle cx="30.3" cy="22.0" r="0.55" fill="#c8c8c8" opacity="0.75"/>
<circle cx="24.5" cy="32.3" r="0.55" fill="#c8c8c8" opacity="0.75"/>
<circle cx="48.9" cy="33.4" r="0.55" fill="#c8c8c8" opacity="0.75"/>
<circle cx="55.6" cy="36.7" r="0.55" fill="#c8c8c8" opacity="0.75"/>
<circle cx="37.4" cy="33.2" r="0.55" fill="#c8c8c8" opacity="0.75"/>
<circle cx="25.7" cy="43.7" r="0.55" fill="#c8c8c8" opacity="0.75"/>
<circle cx="28.6" cy="16.6" r="0.55" fill="#c8c8c8" opacity="0.75"/>
<circle cx="9.4" cy="58.3" r="0.55" fill="#c8c8c8" opacity="0.75"/>
<circle cx="23.6" cy="72.1" r="0.55" fill="#c8c8c8" opacity="0.75"/>
<circle cx="38.0" cy="39.6" r="0.55" fill="#c8c8c8" opacity="0.75"/>
<circle cx="47.6" cy="64.3" r="0.55" fill="#c8c8c8" opacity="0.75"/>
<circle cx="31.0" cy="42.5" r="0.55" fill="#c8c8c8" opacity="0.75"/>
<circle cx="8.7" cy="35.8" r="0.55" fill="#c8c8c8" opacity="0.75"/>
<circle cx="11.3" cy="52.4" r="0.55" fill="#c8c8c8" opacity="0.75"/>
<circle cx="37.6" cy="22.1" r="0.55" fill="#c8c8c8" opacity="0.75"/>
<circle cx="38.8" cy="19.1" r="0.55" fill="#c8c8c8" opacity="0.75"/>
<circle cx="9.0" cy="53.7" r="0.55" fill="#c8c8c8" opacity="0.75"/>
<circle cx="29.4" cy="69.7" r="0.55" fill="#c8c8c8" opacity="0.75"/>
<circle cx="38.9" cy="57.2" r="0.55" fill="#c8c8c8" opacity="0.75"/>
<circle cx="10.2" cy="65.5" r="0.55" fill="#c8c8c8" opacity="0.75"/>
<circle cx="7.8" cy="51.9" r="0.55" fill="#c8c8c8" opacity="0.75"/>
<circle cx="53.9" cy="41.5" r="0.55" fill="#c8c8c8" opacity="0.75"/>
<circle cx="42.5" cy="62.9" r="0.55" fill="#c8c8c8" opacity="0.75"/>
<circle cx="54.8" cy="40.8" r="0.55" fill="#c8c8c8" opacity="0.75"/>
<circle cx="47.4" cy="41.2" r="0.55" fill="#c8c8c8" opacity="0.75"/>
<circle cx="18.8" cy="57.9" r="0.55" fill="#c8c8c8" opacity="0.75"/>
<circle cx="51.9" cy="30.6" r="0.55" fill="#c8c8c8" opacity="0.75"/>
<circle cx="39.4" cy="46.7" r="0.55" fill="#c8c8c8" opacity="0.75"/>
<circle cx="24.1" cy="16.3" r="0.55" fill="#c8c8c8" opacity="0.75"/>
<circle cx="22.6" cy="17.9" r="0.55" fill="#c8c8c8" opacity="0.75"/>
<circle cx="44.7" cy="20.2" r="0.55" fill="#c8c8c8" opacity="0.75"/>
<circle cx="34.2" cy="42.2" r="0.55" fill="#c8c8c8" opacity="0.75"/>
<circle cx="31.2" cy="17.7" r="0.55" fill="#c8c8c8" opacity="0.75"/>
<circle cx="7.2" cy="45.8" r="0.55" fill="#c8c8c8" opacity="0.75"/>
<circle cx="4.7" cy="46.1" r="0.55" fill="#c8c8c8" opacity="0.75"/>
<circle cx="11.6" cy="30.7" r="0.55" fill="#c8c8c8" opacity="0.75"/>
<circle cx="11.6" cy="48.8" r="0.55" fill="#c8c8c8" opacity="0.75"/>
<circle cx="25.1" cy="27.1" r="0.55" fill="#c8c8c8" opacity="0.75"/>
<circle cx="15.6" cy="48.5" r="0.55" fill="#c8c8c8" opacity="0.75"/>
<circle cx="54.9" cy="39.4" r="0.55" fill="#c8c8c8" opacity="0.75"/>
<circle cx="12.3" cy="32.9" r="0.55" fill="#c8c8c8" opacity="0.75"/>
<circle cx="16.7" cy="49.1" r="0.55" fill="#c8c8c8" opacity="0.75"/>
<circle cx="47.8" cy="48.8" r="0.55" fill="#c8c8c8" opacity="0.75"/>
<circle cx="13.7" cy="33.5" r="0.55" fill="#c8c8c8" opacity="0.75"/>
<circle cx="24.7" cy="40.8" r="0.55" fill="#c8c8c8" opacity="0.75"/>
<circle cx="34.4" cy="54.7" r="0.55" fill="#c8c8c8" opacity="0.75"/>
<circle cx="43.8" cy="53.6" r="0.55" fill="#c8c8c8" opacity="0.75"/>
<circle cx="48.9" cy="36.5" r="0.55" fill="#c8c8c8" opacity="0.75"/>
<circle cx="12.4" cy="52.4" r="0.55" fill="#c8c8c8" opacity="0.75"/>
<circle cx="24.9" cy="16.8" r="0.55" fill="#c8c8c8" opacity="0.75"/>
<circle cx="9.5" cy="57.8" r="0.55" fill="#c8c8c8" opacity="0.75"/>
<circle cx="8.7" cy="36.2" r="0.55" fill="#c8c8c8" opacity="0.75"/>
<circle cx="4.8" cy="47.2" r="0.55" fill="#c8c8c8" opacity="0.75"/>
<circle cx="47.8" cy="27.2" r="0.55" fill="#c8c8c8" opacity="0.75"/>
<circle cx="35.2" cy="71.1" r="0.55" fill="#c8c8c8" opacity="0.75"/>
<circle cx="19.7" cy="42.7" r="0.55" fill="#c8c8c8" opacity="0.75"/>
<circle cx="44.3" cy="67.4" r="0.55" fill="#c8c8c8" opacity="0.75"/>
<circle cx="12.6" cy="54.7" r="0.55" fill="#c8c8c8" opacity="0.75"/>
<circle cx="41.5" cy="59.0" r="0.55" fill="#c8c8c8" opacity="0.75"/>
<circle cx="40.1" cy="31.1" r="0.55" fill="#c8c8c8" opacity="0.75"/>
<circle cx="28.3" cy="25.7" r="0.55" fill="#c8c8c8" opacity="0.75"/>
<circle cx="52.0" cy="62.1" r="0.55" fill="#c8c8c8" opacity="0.75"/>
<circle cx="47.9" cy="26.5" r="0.55" fill="#c8c8c8" opacity="0.75"/>
<circle cx="36.8" cy="29.1" r="0.55" fill="#c8c8c8" opacity="0.75"/>
<circle cx="51.3" cy="9.5" r="0.55" fill="#e0e0e0" opacity="0.8"/>
<circle cx="62.8" cy="6.1" r="0.55" fill="#e0e0e0" opacity="0.8"/>
<circle cx="58.8" cy="18.7" r="0.55" fill="#e0e0e0" opacity="0.8"/>
<circle cx="42.4" cy="6.9" r="0.55" fill="#e0e0e0" opacity="0.8"/>
<circle cx="54.9" cy="38.6" r="0.55" fill="#e0e0e0" opacity="0.8"/>
<circle cx="44.3" cy="12.6" r="0.55" fill="#e0e0e0" opacity="0.8"/>
<circle cx="60.2" cy="20.1" r="0.55" fill="#e0e0e0" opacity="0.8"/>
<circle cx="74.2" cy="5.0" r="0.55" fill="#e0e0e0" opacity="0.8"/>
<circle cx="70.0" cy="15.5" r="0.55" fill="#e0e0e0" opacity="0.8"/>
<circle cx="45.0" cy="8.1" r="0.55" fill="#e0e0e0" opacity="0.8"/>
<circle cx="50.8" cy="38.1" r="0.55" fill="#e0e0e0" opacity="0.8"/>
<circle cx="46.3" cy="28.0" r="0.55" fill="#e0e0e0" opacity="0.8"/>
<circle cx="62.4" cy="19.0" r="0.55" fill="#e0e0e0" opacity="0.8"/>
<circle cx="59.2" cy="5.7" r="0.55" fill="#e0e0e0" opacity="0.8"/>
<circle cx="42.1" cy="11.9" r="0.55" fill="#e0e0e0" opacity="0.8"/>
<circle cx="63.8" cy="21.4" r="0.55" fill="#e0e0e0" opacity="0.8"/>
<circle cx="51.0" cy="28.2" r="0.55" fill="#e0e0e0" opacity="0.8"/>
<circle cx="55.9" cy="15.9" r="0.55" fill="#e0e0e0" opacity="0.8"/>
<circle cx="67.8" cy="33.1" r="0.55" fill="#e0e0e0" opacity="0.8"/>
<circle cx="48.5" cy="27.7" r="0.55" fill="#e0e0e0" opacity="0.8"/>
<circle cx="58.4" cy="40.6" r="0.55" fill="#e0e0e0" opacity="0.8"/>
<circle cx="65.5" cy="15.4" r="0.55" fill="#e0e0e0" opacity="0.8"/>
<circle cx="74.3" cy="8.1" r="0.55" fill="#e0e0e0" opacity="0.8"/>
<circle cx="54.6" cy="35.6" r="0.55" fill="#e0e0e0" opacity="0.8"/>
<circle cx="45.3" cy="24.0" r="0.55" fill="#e0e0e0" opacity="0.8"/>
<circle cx="66.8" cy="27.6" r="0.55" fill="#e0e0e0" opacity="0.8"/>
<circle cx="70.6" cy="16.5" r="0.55" fill="#e0e0e0" opacity="0.8"/>
<circle cx="64.3" cy="28.6" r="0.55" fill="#e0e0e0" opacity="0.8"/>
<circle cx="60.3" cy="22.6" r="0.55" fill="#e0e0e0" opacity="0.8"/>
<circle cx="69.4" cy="43.6" r="0.55" fill="#e0e0e0" opacity="0.8"/>
<circle cx="56.6" cy="31.6" r="0.55" fill="#e0e0e0" opacity="0.8"/>
<circle cx="68.8" cy="15.2" r="0.55" fill="#e0e0e0" opacity="0.8"/>
<circle cx="53.5" cy="31.8" r="0.55" fill="#e0e0e0" opacity="0.8"/>
<circle cx="45.9" cy="8.0" r="0.55" fill="#e0e0e0" opacity="0.8"/>
<circle cx="44.5" cy="13.6" r="0.55" fill="#e0e0e0" opacity="0.8"/>
<circle cx="53.7" cy="40.5" r="0.55" fill="#e0e0e0" opacity="0.8"/>
<circle cx="59.2" cy="41.0" r="0.55" fill="#e0e0e0" opacity="0.8"/>
<circle cx="68.7" cy="40.2" r="0.55" fill="#e0e0e0" opacity="0.8"/>
<circle cx="49.7" cy="20.9" r="0.55" fill="#e0e0e0" opacity="0.8"/>
<circle cx="73.5" cy="9.5" r="0.55" fill="#e0e0e0" opacity="0.8"/>
<circle cx="46.2" cy="13.0" r="0.55" fill="#e0e0e0" opacity="0.8"/>
<circle cx="48.2" cy="23.9" r="0.55" fill="#e0e0e0" opacity="0.8"/>
<circle cx="60.6" cy="14.3" r="0.55" fill="#e0e0e0" opacity="0.8"/>
<circle cx="52.9" cy="27.4" r="0.55" fill="#e0e0e0" opacity="0.8"/>
<circle cx="73.4" cy="32.7" r="0.55" fill="#e0e0e0" opacity="0.8"/>
<circle cx="58.0" cy="29.6" r="0.55" fill="#e0e0e0" opacity="0.8"/>
<circle cx="63.7" cy="5.3" r="0.55" fill="#e0e0e0" opacity="0.8"/>
<circle cx="71.5" cy="36.5" r="0.55" fill="#e0e0e0" opacity="0.8"/>
<circle cx="70.6" cy="37.3" r="0.55" fill="#e0e0e0" opacity="0.8"/>
<circle cx="53.7" cy="20.2" r="0.55" fill="#e0e0e0" opacity="0.8"/>
<circle cx="42.2" cy="5.9" r="0.55" fill="#e0e0e0" opacity="0.8"/>
<circle cx="47.3" cy="10.0" r="0.55" fill="#e0e0e0" opacity="0.8"/>
<circle cx="51.9" cy="5.3" r="0.55" fill="#e0e0e0" opacity="0.8"/>
<circle cx="40.0" cy="9.5" r="0.55" fill="#e0e0e0" opacity="0.8"/>
<circle cx="43.6" cy="18.6" r="0.55" fill="#e0e0e0" opacity="0.8"/>
<circle cx="61.5" cy="9.4" r="0.55" fill="#e0e0e0" opacity="0.8"/>
<circle cx="48.8" cy="17.9" r="0.55" fill="#e0e0e0" opacity="0.8"/>
<circle cx="52.7" cy="8.3" r="0.55" fill="#e0e0e0" opacity="0.8"/>
<circle cx="56.3" cy="23.8" r="0.55" fill="#e0e0e0" opacity="0.8"/>
<circle cx="43.0" cy="7.4" r="0.55" fill="#e0e0e0" opacity="0.8"/>
</g>
<clipPath id="cp3"><rect x="0" y="0" width="75.0" height="85.6"/></clipPath>
<g transform="translate(184.3,13.0)" clip-path="url(#cp3)">
<rect x="0.00" y="0.00" width="75.00" height="85.60" fill="#000" stroke="none" stroke-width="1" rx="0" />
<polygon points="12.0,0.0 52.0,0.0 46.0,7.0 38.0,11.0 28.0,12.0 22.0,8.0 16.0,4.0" fill="#a81a1a" opacity="1" filter="url(#bl1)"/>
<polygon points="44.0,73.0 50.0,62.0 58.0,55.0 66.0,50.0 75.0,46.0 75.0,86.0 45.0,86.0" fill="#861616" opacity="1" filter="url(#bl1)"/>
<clipPath id="cc5"><polygon points="44.0,73.0 50.0,62.0 58.0,55.0 66.0,50.0 75.0,46.0 75.0,86.0 45.0,86.0"/></clipPath>
<g clip-path="url(#cc5)">
<line x1="50.0" y1="61.8" x2="53.1" y2="70.4" stroke="#a02020" stroke-width="0.6" opacity="0.5"/>
<line x1="67.2" y1="49.0" x2="71.7" y2="61.5" stroke="#a02020" stroke-width="0.6" opacity="0.5"/>
<line x1="69.7" y1="53.6" x2="75.7" y2="70.2" stroke="#a02020" stroke-width="0.6" opacity="0.5"/>
<line x1="64.3" y1="61.3" x2="69.1" y2="74.6" stroke="#a02020" stroke-width="0.6" opacity="0.5"/>
<line x1="59.1" y1="52.0" x2="65.2" y2="68.8" stroke="#a02020" stroke-width="0.6" opacity="0.5"/>
<line x1="53.7" y1="77.6" x2="59.3" y2="93.1" stroke="#a02020" stroke-width="0.6" opacity="0.5"/>
<line x1="42.7" y1="50.4" x2="47.0" y2="62.2" stroke="#a02020" stroke-width="0.6" opacity="0.5"/>
<line x1="66.9" y1="46.5" x2="71.6" y2="59.7" stroke="#a02020" stroke-width="0.6" opacity="0.5"/>
<line x1="52.4" y1="69.3" x2="58.3" y2="85.5" stroke="#a02020" stroke-width="0.6" opacity="0.5"/>
<line x1="65.0" y1="46.5" x2="70.3" y2="61.0" stroke="#a02020" stroke-width="0.6" opacity="0.5"/>
<line x1="55.5" y1="73.6" x2="59.7" y2="85.3" stroke="#a02020" stroke-width="0.6" opacity="0.5"/>
<line x1="69.3" y1="77.9" x2="74.9" y2="93.0" stroke="#a02020" stroke-width="0.6" opacity="0.5"/>
<line x1="67.3" y1="72.3" x2="72.0" y2="85.2" stroke="#a02020" stroke-width="0.6" opacity="0.5"/>
<line x1="47.3" y1="79.6" x2="51.5" y2="91.3" stroke="#a02020" stroke-width="0.6" opacity="0.5"/>
<line x1="42.5" y1="57.8" x2="46.5" y2="68.9" stroke="#a02020" stroke-width="0.6" opacity="0.5"/>
<line x1="48.7" y1="80.3" x2="51.7" y2="88.5" stroke="#a02020" stroke-width="0.6" opacity="0.5"/>
<line x1="70.4" y1="63.6" x2="73.6" y2="72.4" stroke="#a02020" stroke-width="0.6" opacity="0.5"/>
<line x1="53.6" y1="59.9" x2="56.6" y2="68.1" stroke="#a02020" stroke-width="0.6" opacity="0.5"/>
<line x1="64.6" y1="63.7" x2="70.7" y2="80.4" stroke="#a02020" stroke-width="0.6" opacity="0.5"/>
<line x1="66.7" y1="69.0" x2="72.8" y2="85.9" stroke="#a02020" stroke-width="0.6" opacity="0.5"/>
<line x1="70.6" y1="65.6" x2="75.1" y2="77.9" stroke="#a02020" stroke-width="0.6" opacity="0.5"/>
<line x1="57.3" y1="70.5" x2="63.2" y2="86.6" stroke="#a02020" stroke-width="0.6" opacity="0.5"/>
<line x1="68.4" y1="75.9" x2="71.1" y2="83.2" stroke="#a02020" stroke-width="0.6" opacity="0.5"/>
<line x1="54.7" y1="43.1" x2="59.4" y2="55.9" stroke="#a02020" stroke-width="0.6" opacity="0.5"/>
<line x1="59.2" y1="60.7" x2="64.8" y2="76.2" stroke="#a02020" stroke-width="0.6" opacity="0.5"/>
<line x1="48.6" y1="68.7" x2="53.3" y2="81.6" stroke="#a02020" stroke-width="0.6" opacity="0.5"/>
<line x1="49.2" y1="81.4" x2="52.0" y2="88.9" stroke="#a02020" stroke-width="0.6" opacity="0.5"/>
<line x1="56.1" y1="61.0" x2="60.8" y2="73.9" stroke="#a02020" stroke-width="0.6" opacity="0.5"/>
<line x1="71.6" y1="60.2" x2="77.3" y2="76.0" stroke="#a02020" stroke-width="0.6" opacity="0.5"/>
<line x1="51.6" y1="61.0" x2="54.7" y2="69.5" stroke="#a02020" stroke-width="0.6" opacity="0.5"/>
</g>
<polygon points="36.0,11.0 46.0,5.0 52.0,1.0 75.0,1.0 75.0,47.0 66.0,46.0 58.0,46.0 53.0,38.0 48.0,26.0" fill="#3a8e22" opacity="1" filter="url(#bl1)"/>
<clipPath id="cc6"><polygon points="36.0,11.0 46.0,5.0 52.0,1.0 75.0,1.0 75.0,47.0 66.0,46.0 58.0,46.0 53.0,38.0 48.0,26.0"/></clipPath>
<g clip-path="url(#cc6)">
<line x1="48.7" y1="14.4" x2="59.4" y2="21.9" stroke="#70c830" stroke-width="0.7" opacity="0.5"/>
<line x1="62.1" y1="-4.1" x2="77.5" y2="6.7" stroke="#70c830" stroke-width="0.7" opacity="0.5"/>
<line x1="63.0" y1="-0.9" x2="79.0" y2="10.3" stroke="#70c830" stroke-width="0.7" opacity="0.5"/>
<line x1="53.2" y1="-1.9" x2="66.9" y2="7.7" stroke="#70c830" stroke-width="0.7" opacity="0.5"/>
<line x1="54.4" y1="15.4" x2="72.5" y2="28.1" stroke="#70c830" stroke-width="0.7" opacity="0.5"/>
<line x1="36.9" y1="8.3" x2="47.3" y2="15.6" stroke="#70c830" stroke-width="0.7" opacity="0.5"/>
<line x1="47.5" y1="37.7" x2="64.0" y2="49.3" stroke="#70c830" stroke-width="0.7" opacity="0.5"/>
<line x1="57.0" y1="12.2" x2="75.4" y2="25.1" stroke="#70c830" stroke-width="0.7" opacity="0.5"/>
<line x1="31.2" y1="8.3" x2="48.7" y2="20.5" stroke="#70c830" stroke-width="0.7" opacity="0.5"/>
<line x1="59.2" y1="16.9" x2="69.4" y2="23.9" stroke="#70c830" stroke-width="0.7" opacity="0.5"/>
<line x1="40.1" y1="6.3" x2="52.7" y2="15.1" stroke="#70c830" stroke-width="0.7" opacity="0.5"/>
<line x1="57.5" y1="3.1" x2="77.7" y2="17.2" stroke="#70c830" stroke-width="0.7" opacity="0.5"/>
<line x1="63.4" y1="-1.3" x2="77.2" y2="8.3" stroke="#70c830" stroke-width="0.7" opacity="0.5"/>
<line x1="48.0" y1="-3.0" x2="62.4" y2="7.1" stroke="#70c830" stroke-width="0.7" opacity="0.5"/>
<line x1="63.1" y1="0.4" x2="79.6" y2="11.9" stroke="#70c830" stroke-width="0.7" opacity="0.5"/>
<line x1="30.6" y1="20.5" x2="50.9" y2="34.7" stroke="#70c830" stroke-width="0.7" opacity="0.5"/>
<line x1="38.9" y1="-2.1" x2="49.0" y2="4.9" stroke="#70c830" stroke-width="0.7" opacity="0.5"/>
<line x1="52.0" y1="-1.7" x2="62.1" y2="5.3" stroke="#70c830" stroke-width="0.7" opacity="0.5"/>
<line x1="48.2" y1="38.4" x2="62.5" y2="48.4" stroke="#70c830" stroke-width="0.7" opacity="0.5"/>
<line x1="46.4" y1="26.8" x2="56.6" y2="33.9" stroke="#70c830" stroke-width="0.7" opacity="0.5"/>
<line x1="50.3" y1="3.1" x2="67.0" y2="14.8" stroke="#70c830" stroke-width="0.7" opacity="0.5"/>
<line x1="65.4" y1="-2.1" x2="81.4" y2="9.1" stroke="#70c830" stroke-width="0.7" opacity="0.5"/>
<line x1="53.5" y1="3.5" x2="65.8" y2="12.2" stroke="#70c830" stroke-width="0.7" opacity="0.5"/>
<line x1="69.5" y1="43.2" x2="80.1" y2="50.6" stroke="#70c830" stroke-width="0.7" opacity="0.5"/>
<line x1="57.5" y1="40.5" x2="69.5" y2="48.9" stroke="#70c830" stroke-width="0.7" opacity="0.5"/>
<line x1="53.0" y1="-1.8" x2="66.6" y2="7.8" stroke="#70c830" stroke-width="0.7" opacity="0.5"/>
<line x1="52.9" y1="21.6" x2="71.7" y2="34.7" stroke="#70c830" stroke-width="0.7" opacity="0.5"/>
<line x1="29.4" y1="10.0" x2="49.3" y2="23.9" stroke="#70c830" stroke-width="0.7" opacity="0.5"/>
<line x1="51.7" y1="16.8" x2="65.8" y2="26.7" stroke="#70c830" stroke-width="0.7" opacity="0.5"/>
<line x1="69.8" y1="24.2" x2="79.1" y2="30.7" stroke="#70c830" stroke-width="0.7" opacity="0.5"/>
<line x1="59.9" y1="11.1" x2="74.4" y2="21.2" stroke="#70c830" stroke-width="0.7" opacity="0.5"/>
<line x1="37.8" y1="16.8" x2="50.9" y2="26.0" stroke="#70c830" stroke-width="0.7" opacity="0.5"/>
<line x1="34.3" y1="26.3" x2="44.6" y2="33.6" stroke="#70c830" stroke-width="0.7" opacity="0.5"/>
<line x1="57.2" y1="-4.4" x2="76.0" y2="8.8" stroke="#70c830" stroke-width="0.7" opacity="0.5"/>
<line x1="58.5" y1="17.6" x2="76.5" y2="30.2" stroke="#70c830" stroke-width="0.7" opacity="0.5"/>
<line x1="38.5" y1="29.9" x2="52.9" y2="40.0" stroke="#70c830" stroke-width="0.7" opacity="0.5"/>
<line x1="38.0" y1="40.4" x2="52.0" y2="50.3" stroke="#70c830" stroke-width="0.7" opacity="0.5"/>
<line x1="43.7" y1="35.8" x2="57.4" y2="45.3" stroke="#70c830" stroke-width="0.7" opacity="0.5"/>
<line x1="52.2" y1="2.0" x2="71.9" y2="15.7" stroke="#70c830" stroke-width="0.7" opacity="0.5"/>
<line x1="35.4" y1="-4.1" x2="56.8" y2="10.8" stroke="#70c830" stroke-width="0.7" opacity="0.5"/>
<line x1="32.0" y1="37.0" x2="53.5" y2="52.0" stroke="#70c830" stroke-width="0.7" opacity="0.5"/>
<line x1="54.8" y1="-1.9" x2="64.5" y2="5.0" stroke="#70c830" stroke-width="0.7" opacity="0.5"/>
<line x1="35.8" y1="13.0" x2="52.5" y2="24.7" stroke="#70c830" stroke-width="0.7" opacity="0.5"/>
<line x1="68.3" y1="13.5" x2="79.1" y2="21.1" stroke="#70c830" stroke-width="0.7" opacity="0.5"/>
<line x1="52.9" y1="3.8" x2="63.0" y2="10.9" stroke="#70c830" stroke-width="0.7" opacity="0.5"/>
<line x1="52.8" y1="29.6" x2="62.6" y2="36.5" stroke="#70c830" stroke-width="0.7" opacity="0.5"/>
<line x1="44.3" y1="26.8" x2="62.9" y2="39.9" stroke="#70c830" stroke-width="0.7" opacity="0.5"/>
<line x1="45.4" y1="37.9" x2="56.5" y2="45.7" stroke="#70c830" stroke-width="0.7" opacity="0.5"/>
<line x1="53.8" y1="29.5" x2="74.0" y2="43.5" stroke="#70c830" stroke-width="0.7" opacity="0.5"/>
<line x1="50.5" y1="2.2" x2="60.1" y2="8.9" stroke="#70c830" stroke-width="0.7" opacity="0.5"/>
</g>
<polygon points="5.0,38.0 10.0,28.0 18.0,19.0 28.0,14.0 38.0,13.0 46.0,18.0 51.0,30.0 55.0,40.0 60.0,46.0 57.0,54.0 50.0,60.0 43.0,67.0 34.0,74.0 25.0,75.0 15.0,67.0 7.0,58.0 3.0,48.0" fill="#3e5018" opacity="1" stroke="#a8301c" stroke-width="1.1" filter="url(#bl1)"/>
<clipPath id="cc7"><polygon points="5.0,38.0 10.0,28.0 18.0,19.0 28.0,14.0 38.0,13.0 46.0,18.0 51.0,30.0 55.0,40.0 60.0,46.0 57.0,54.0 50.0,60.0 43.0,67.0 34.0,74.0 25.0,75.0 15.0,67.0 7.0,58.0 3.0,48.0"/></clipPath>
<g clip-path="url(#cc7)">
<line x1="14.8" y1="64.5" x2="17.1" y2="80.8" stroke="#58a030" stroke-width="0.7" opacity="0.35"/>
<line x1="41.9" y1="8.9" x2="44.5" y2="27.6" stroke="#58a030" stroke-width="0.7" opacity="0.35"/>
<line x1="58.1" y1="12.8" x2="61.8" y2="39.1" stroke="#58a030" stroke-width="0.7" opacity="0.35"/>
<line x1="27.5" y1="29.4" x2="30.8" y2="52.8" stroke="#58a030" stroke-width="0.7" opacity="0.35"/>
<line x1="12.9" y1="56.7" x2="15.1" y2="72.3" stroke="#58a030" stroke-width="0.7" opacity="0.35"/>
<line x1="15.0" y1="4.7" x2="17.7" y2="23.8" stroke="#58a030" stroke-width="0.7" opacity="0.35"/>
<line x1="24.7" y1="58.3" x2="27.7" y2="79.5" stroke="#58a030" stroke-width="0.7" opacity="0.35"/>
<line x1="7.2" y1="12.5" x2="11.8" y2="45.6" stroke="#58a030" stroke-width="0.7" opacity="0.35"/>
<line x1="5.1" y1="40.9" x2="8.1" y2="62.0" stroke="#58a030" stroke-width="0.7" opacity="0.35"/>
<line x1="38.8" y1="20.3" x2="42.6" y2="47.6" stroke="#58a030" stroke-width="0.7" opacity="0.35"/>
<line x1="29.2" y1="37.6" x2="33.6" y2="69.0" stroke="#58a030" stroke-width="0.7" opacity="0.35"/>
<line x1="35.1" y1="14.3" x2="37.2" y2="29.4" stroke="#58a030" stroke-width="0.7" opacity="0.35"/>
<line x1="55.7" y1="34.5" x2="58.2" y2="52.1" stroke="#58a030" stroke-width="0.7" opacity="0.35"/>
<line x1="55.0" y1="34.9" x2="58.9" y2="62.9" stroke="#58a030" stroke-width="0.7" opacity="0.35"/>
<line x1="51.8" y1="20.3" x2="54.7" y2="41.1" stroke="#58a030" stroke-width="0.7" opacity="0.35"/>
<line x1="51.0" y1="7.0" x2="55.1" y2="35.7" stroke="#58a030" stroke-width="0.7" opacity="0.35"/>
<line x1="6.6" y1="42.0" x2="10.5" y2="69.5" stroke="#58a030" stroke-width="0.7" opacity="0.35"/>
<line x1="55.5" y1="53.5" x2="58.8" y2="77.1" stroke="#58a030" stroke-width="0.7" opacity="0.35"/>
<line x1="12.6" y1="10.2" x2="16.0" y2="34.4" stroke="#58a030" stroke-width="0.7" opacity="0.35"/>
<line x1="29.9" y1="1.7" x2="34.3" y2="33.1" stroke="#58a030" stroke-width="0.7" opacity="0.35"/>
<line x1="30.6" y1="47.4" x2="33.2" y2="65.5" stroke="#58a030" stroke-width="0.7" opacity="0.35"/>
<line x1="15.5" y1="3.5" x2="18.3" y2="24.0" stroke="#58a030" stroke-width="0.7" opacity="0.35"/>
<line x1="16.7" y1="28.7" x2="19.7" y2="49.8" stroke="#58a030" stroke-width="0.7" opacity="0.35"/>
<line x1="49.3" y1="59.6" x2="51.8" y2="76.9" stroke="#58a030" stroke-width="0.7" opacity="0.35"/>
<line x1="23.7" y1="9.9" x2="27.5" y2="36.7" stroke="#58a030" stroke-width="0.7" opacity="0.35"/>
<line x1="56.5" y1="11.1" x2="60.6" y2="39.9" stroke="#58a030" stroke-width="0.7" opacity="0.35"/>
<line x1="18.1" y1="-0.5" x2="22.1" y2="28.2" stroke="#58a030" stroke-width="0.7" opacity="0.35"/>
<line x1="20.9" y1="12.4" x2="24.1" y2="34.7" stroke="#58a030" stroke-width="0.7" opacity="0.35"/>
<line x1="14.6" y1="27.2" x2="17.8" y2="49.7" stroke="#58a030" stroke-width="0.7" opacity="0.35"/>
<line x1="25.5" y1="39.8" x2="28.2" y2="59.2" stroke="#58a030" stroke-width="0.7" opacity="0.35"/>
<line x1="7.3" y1="10.3" x2="9.5" y2="26.3" stroke="#58a030" stroke-width="0.7" opacity="0.35"/>
<line x1="30.6" y1="20.6" x2="34.8" y2="50.1" stroke="#58a030" stroke-width="0.7" opacity="0.35"/>
<line x1="29.5" y1="40.5" x2="34.1" y2="73.4" stroke="#58a030" stroke-width="0.7" opacity="0.35"/>
<line x1="5.4" y1="5.8" x2="7.8" y2="22.3" stroke="#58a030" stroke-width="0.7" opacity="0.35"/>
<line x1="23.0" y1="34.4" x2="27.0" y2="62.7" stroke="#58a030" stroke-width="0.7" opacity="0.35"/>
<line x1="22.1" y1="65.9" x2="24.0" y2="79.8" stroke="#58a030" stroke-width="0.7" opacity="0.35"/>
<line x1="48.5" y1="10.6" x2="52.8" y2="41.5" stroke="#58a030" stroke-width="0.7" opacity="0.35"/>
<line x1="2.9" y1="58.5" x2="6.9" y2="87.1" stroke="#58a030" stroke-width="0.7" opacity="0.35"/>
<line x1="58.2" y1="40.3" x2="60.7" y2="57.6" stroke="#58a030" stroke-width="0.7" opacity="0.35"/>
<line x1="57.2" y1="32.6" x2="59.4" y2="48.1" stroke="#58a030" stroke-width="0.7" opacity="0.35"/>
<line x1="35.9" y1="32.3" x2="39.1" y2="55.4" stroke="#58a030" stroke-width="0.7" opacity="0.35"/>
<line x1="10.0" y1="8.0" x2="13.6" y2="33.1" stroke="#58a030" stroke-width="0.7" opacity="0.35"/>
<line x1="27.2" y1="9.6" x2="30.4" y2="32.0" stroke="#58a030" stroke-width="0.7" opacity="0.35"/>
<line x1="42.7" y1="45.9" x2="46.0" y2="68.9" stroke="#58a030" stroke-width="0.7" opacity="0.35"/>
<line x1="24.2" y1="26.2" x2="26.7" y2="44.5" stroke="#58a030" stroke-width="0.7" opacity="0.35"/>
<line x1="57.4" y1="6.4" x2="60.2" y2="26.4" stroke="#a04a20" stroke-width="0.6" opacity="0.35"/>
<line x1="29.5" y1="63.6" x2="31.7" y2="79.2" stroke="#a04a20" stroke-width="0.6" opacity="0.35"/>
<line x1="53.7" y1="11.0" x2="57.1" y2="34.7" stroke="#a04a20" stroke-width="0.6" opacity="0.35"/>
<line x1="25.5" y1="17.0" x2="27.6" y2="31.7" stroke="#a04a20" stroke-width="0.6" opacity="0.35"/>
<line x1="37.9" y1="7.5" x2="40.0" y2="22.8" stroke="#a04a20" stroke-width="0.6" opacity="0.35"/>
<line x1="2.8" y1="11.2" x2="4.5" y2="23.4" stroke="#a04a20" stroke-width="0.6" opacity="0.35"/>
<line x1="14.7" y1="19.7" x2="17.6" y2="40.4" stroke="#a04a20" stroke-width="0.6" opacity="0.35"/>
<line x1="25.1" y1="55.0" x2="28.3" y2="77.3" stroke="#a04a20" stroke-width="0.6" opacity="0.35"/>
<line x1="52.8" y1="62.8" x2="55.3" y2="80.7" stroke="#a04a20" stroke-width="0.6" opacity="0.35"/>
<line x1="40.0" y1="58.9" x2="42.5" y2="76.4" stroke="#a04a20" stroke-width="0.6" opacity="0.35"/>
<line x1="9.9" y1="36.6" x2="12.3" y2="53.9" stroke="#a04a20" stroke-width="0.6" opacity="0.35"/>
<line x1="12.4" y1="12.5" x2="14.1" y2="25.0" stroke="#a04a20" stroke-width="0.6" opacity="0.35"/>
<line x1="41.4" y1="53.9" x2="44.1" y2="72.9" stroke="#a04a20" stroke-width="0.6" opacity="0.35"/>
<line x1="26.6" y1="9.8" x2="28.0" y2="19.7" stroke="#a04a20" stroke-width="0.6" opacity="0.35"/>
<line x1="39.2" y1="37.7" x2="41.5" y2="54.0" stroke="#a04a20" stroke-width="0.6" opacity="0.35"/>
<line x1="11.9" y1="14.4" x2="13.6" y2="26.8" stroke="#a04a20" stroke-width="0.6" opacity="0.35"/>
<line x1="9.3" y1="43.1" x2="11.3" y2="57.2" stroke="#a04a20" stroke-width="0.6" opacity="0.35"/>
<line x1="33.4" y1="30.9" x2="35.9" y2="48.4" stroke="#a04a20" stroke-width="0.6" opacity="0.35"/>
<line x1="44.6" y1="55.4" x2="46.3" y2="67.4" stroke="#a04a20" stroke-width="0.6" opacity="0.35"/>
<line x1="56.2" y1="55.3" x2="59.2" y2="76.5" stroke="#a04a20" stroke-width="0.6" opacity="0.35"/>
<line x1="27.3" y1="61.4" x2="30.3" y2="82.6" stroke="#a04a20" stroke-width="0.6" opacity="0.35"/>
<line x1="15.1" y1="44.8" x2="18.1" y2="66.4" stroke="#a04a20" stroke-width="0.6" opacity="0.35"/>
<line x1="44.7" y1="60.2" x2="47.1" y2="77.4" stroke="#a04a20" stroke-width="0.6" opacity="0.35"/>
<line x1="39.9" y1="8.2" x2="42.6" y2="27.3" stroke="#a04a20" stroke-width="0.6" opacity="0.35"/>
<line x1="9.8" y1="46.7" x2="12.9" y2="69.1" stroke="#a04a20" stroke-width="0.6" opacity="0.35"/>
</g>
<ellipse cx="26" cy="47" rx="22" ry="6" fill="#4cae28" opacity="0.8" filter="url(#bl3)"/>
<ellipse cx="30" cy="62" rx="14" ry="8" fill="#3c8a2a" opacity="0.5" filter="url(#bl3)"/>
<ellipse cx="62" cy="26" rx="13" ry="7" fill="#8ad430" opacity="0.75" filter="url(#bl3)" transform="rotate(35 62 26)"/>
</g>
<clipPath id="cp4"><rect x="0" y="0" width="75.0" height="87.0"/></clipPath>
<g transform="translate(29.0,105.3)" clip-path="url(#cp4)">
<rect x="0.00" y="0.00" width="75.00" height="87.00" fill="#000" stroke="none" stroke-width="1" rx="0" />
<polygon points="60.1,41.0 61.0,45.1 58.8,49.2 58.4,53.0 55.0,56.6 53.5,59.7 49.2,62.4 46.8,64.6 41.8,66.2 38.9,67.2 33.6,67.5 30.7,67.2 25.4,66.2 22.8,64.6 18.0,62.4 16.1,59.7 12.2,56.6 11.2,53.0 8.4,49.2 8.6,45.1 7.1,41.0 8.6,36.9 8.4,32.8 11.2,29.0 12.2,25.4 16.1,22.3 18.0,19.6 22.8,17.4 25.4,15.8 30.7,14.8 33.6,14.5 38.9,14.8 41.8,15.8 46.8,17.4 49.2,19.6 53.5,22.3 55.0,25.4 58.4,29.0 58.8,32.8 61.0,36.9" fill="#5a5a5a" opacity="1" stroke="#b4b4b4" stroke-width="1.4" filter="url(#bl1)"/>
<line x1="15.7" y1="41.6" x2="11.6" y2="41.8" stroke="#a0a0a0" stroke-width="0.6" opacity="0.4"/>
<line x1="27.6" y1="54.4" x2="26.0" y2="57.8" stroke="#a0a0a0" stroke-width="0.6" opacity="0.4"/>
<line x1="18.7" y1="42.3" x2="15.7" y2="42.6" stroke="#a0a0a0" stroke-width="0.6" opacity="0.4"/>
<line x1="28.0" y1="52.0" x2="26.3" y2="55.1" stroke="#a0a0a0" stroke-width="0.6" opacity="0.4"/>
<line x1="50.0" y1="28.4" x2="52.8" y2="26.2" stroke="#a0a0a0" stroke-width="0.6" opacity="0.4"/>
<line x1="25.4" y1="55.1" x2="24.1" y2="57.1" stroke="#a0a0a0" stroke-width="0.6" opacity="0.4"/>
<line x1="32.1" y1="26.7" x2="31.7" y2="24.0" stroke="#a0a0a0" stroke-width="0.6" opacity="0.4"/>
<line x1="49.0" y1="39.2" x2="53.4" y2="38.6" stroke="#a0a0a0" stroke-width="0.6" opacity="0.4"/>
<line x1="18.2" y1="26.5" x2="15.6" y2="24.1" stroke="#a0a0a0" stroke-width="0.6" opacity="0.4"/>
<line x1="43.0" y1="59.7" x2="44.1" y2="62.0" stroke="#a0a0a0" stroke-width="0.6" opacity="0.4"/>
<line x1="24.0" y1="47.6" x2="22.2" y2="48.7" stroke="#a0a0a0" stroke-width="0.6" opacity="0.4"/>
<line x1="27.1" y1="48.5" x2="25.1" y2="50.7" stroke="#a0a0a0" stroke-width="0.6" opacity="0.4"/>
<line x1="48.7" y1="20.8" x2="50.5" y2="18.3" stroke="#a0a0a0" stroke-width="0.6" opacity="0.4"/>
<line x1="45.8" y1="50.5" x2="47.5" y2="51.9" stroke="#a0a0a0" stroke-width="0.6" opacity="0.4"/>
<line x1="37.9" y1="59.9" x2="38.6" y2="63.4" stroke="#a0a0a0" stroke-width="0.6" opacity="0.4"/>
<line x1="51.0" y1="44.4" x2="54.0" y2="45.0" stroke="#a0a0a0" stroke-width="0.6" opacity="0.4"/>
<line x1="24.4" y1="48.2" x2="22.0" y2="50.0" stroke="#a0a0a0" stroke-width="0.6" opacity="0.4"/>
<line x1="50.2" y1="53.2" x2="53.1" y2="55.3" stroke="#a0a0a0" stroke-width="0.6" opacity="0.4"/>
<line x1="22.9" y1="29.3" x2="19.8" y2="26.2" stroke="#a0a0a0" stroke-width="0.6" opacity="0.4"/>
<line x1="25.1" y1="50.6" x2="23.1" y2="52.7" stroke="#a0a0a0" stroke-width="0.6" opacity="0.4"/>
<line x1="44.6" y1="34.6" x2="47.9" y2="32.5" stroke="#a0a0a0" stroke-width="0.6" opacity="0.4"/>
<line x1="55.1" y1="32.4" x2="58.0" y2="31.2" stroke="#a0a0a0" stroke-width="0.6" opacity="0.4"/>
<line x1="12.1" y1="48.1" x2="8.5" y2="49.3" stroke="#a0a0a0" stroke-width="0.6" opacity="0.4"/>
<line x1="38.4" y1="29.1" x2="39.7" y2="25.8" stroke="#a0a0a0" stroke-width="0.6" opacity="0.4"/>
<line x1="33.0" y1="27.5" x2="32.8" y2="25.0" stroke="#a0a0a0" stroke-width="0.6" opacity="0.4"/>
<line x1="44.0" y1="25.4" x2="45.7" y2="22.9" stroke="#a0a0a0" stroke-width="0.6" opacity="0.4"/>
<line x1="20.2" y1="42.2" x2="17.6" y2="42.5" stroke="#a0a0a0" stroke-width="0.6" opacity="0.4"/>
<line x1="46.6" y1="50.9" x2="48.4" y2="52.4" stroke="#a0a0a0" stroke-width="0.6" opacity="0.4"/>
<line x1="53.4" y1="26.3" x2="56.2" y2="24.2" stroke="#a0a0a0" stroke-width="0.6" opacity="0.4"/>
<line x1="50.0" y1="51.2" x2="52.0" y2="52.5" stroke="#a0a0a0" stroke-width="0.6" opacity="0.4"/>
<line x1="25.8" y1="49.6" x2="23.5" y2="52.0" stroke="#a0a0a0" stroke-width="0.6" opacity="0.4"/>
<line x1="46.6" y1="47.5" x2="48.9" y2="48.6" stroke="#a0a0a0" stroke-width="0.6" opacity="0.4"/>
<line x1="10.6" y1="46.1" x2="7.2" y2="46.8" stroke="#a0a0a0" stroke-width="0.6" opacity="0.4"/>
<line x1="38.2" y1="20.6" x2="38.9" y2="17.3" stroke="#a0a0a0" stroke-width="0.6" opacity="0.4"/>
<line x1="43.9" y1="45.5" x2="46.0" y2="46.5" stroke="#a0a0a0" stroke-width="0.6" opacity="0.4"/>
<line x1="19.0" y1="39.5" x2="14.7" y2="39.0" stroke="#a0a0a0" stroke-width="0.6" opacity="0.4"/>
<line x1="37.7" y1="52.4" x2="38.9" y2="55.8" stroke="#a0a0a0" stroke-width="0.6" opacity="0.4"/>
<line x1="25.5" y1="34.3" x2="23.3" y2="32.5" stroke="#a0a0a0" stroke-width="0.6" opacity="0.4"/>
<line x1="13.0" y1="48.7" x2="9.3" y2="50.0" stroke="#a0a0a0" stroke-width="0.6" opacity="0.4"/>
<line x1="46.6" y1="28.1" x2="49.7" y2="25.0" stroke="#a0a0a0" stroke-width="0.6" opacity="0.4"/>
<line x1="19.9" y1="43.7" x2="17.6" y2="44.1" stroke="#a0a0a0" stroke-width="0.6" opacity="0.4"/>
<line x1="43.7" y1="23.8" x2="45.5" y2="20.7" stroke="#a0a0a0" stroke-width="0.6" opacity="0.4"/>
<line x1="53.3" y1="38.3" x2="56.0" y2="38.0" stroke="#a0a0a0" stroke-width="0.6" opacity="0.4"/>
<line x1="25.9" y1="18.5" x2="25.1" y2="16.2" stroke="#a0a0a0" stroke-width="0.6" opacity="0.4"/>
<line x1="49.2" y1="35.4" x2="51.4" y2="34.6" stroke="#a0a0a0" stroke-width="0.6" opacity="0.4"/>
<line x1="12.3" y1="39.9" x2="9.1" y2="39.7" stroke="#a0a0a0" stroke-width="0.6" opacity="0.4"/>
<line x1="31.4" y1="62.4" x2="31.1" y2="64.6" stroke="#a0a0a0" stroke-width="0.6" opacity="0.4"/>
<line x1="26.7" y1="27.4" x2="25.0" y2="24.3" stroke="#a0a0a0" stroke-width="0.6" opacity="0.4"/>
<line x1="19.8" y1="40.4" x2="17.3" y2="40.3" stroke="#a0a0a0" stroke-width="0.6" opacity="0.4"/>
<line x1="41.2" y1="25.8" x2="42.4" y2="23.3" stroke="#a0a0a0" stroke-width="0.6" opacity="0.4"/>
<line x1="16.0" y1="29.2" x2="14.1" y2="28.0" stroke="#a0a0a0" stroke-width="0.6" opacity="0.4"/>
<line x1="22.1" y1="44.2" x2="18.3" y2="45.2" stroke="#a0a0a0" stroke-width="0.6" opacity="0.4"/>
<line x1="55.6" y1="47.3" x2="58.8" y2="48.3" stroke="#a0a0a0" stroke-width="0.6" opacity="0.4"/>
<line x1="16.0" y1="39.2" x2="13.4" y2="38.9" stroke="#a0a0a0" stroke-width="0.6" opacity="0.4"/>
<line x1="22.0" y1="44.7" x2="19.2" y2="45.6" stroke="#a0a0a0" stroke-width="0.6" opacity="0.4"/>
<line x1="18.2" y1="30.1" x2="15.9" y2="28.5" stroke="#a0a0a0" stroke-width="0.6" opacity="0.4"/>
<line x1="17.8" y1="26.5" x2="14.8" y2="23.9" stroke="#a0a0a0" stroke-width="0.6" opacity="0.4"/>
<line x1="51.5" y1="41.4" x2="53.9" y2="41.4" stroke="#a0a0a0" stroke-width="0.6" opacity="0.4"/>
<line x1="41.9" y1="24.0" x2="43.2" y2="21.2" stroke="#a0a0a0" stroke-width="0.6" opacity="0.4"/>
<line x1="20.4" y1="29.8" x2="18.4" y2="28.2" stroke="#a0a0a0" stroke-width="0.6" opacity="0.4"/>
<line x1="43.3" y1="35.4" x2="45.1" y2="34.4" stroke="#a0a0a0" stroke-width="0.6" opacity="0.4"/>
<line x1="30.7" y1="52.7" x2="29.9" y2="55.5" stroke="#a0a0a0" stroke-width="0.6" opacity="0.4"/>
<line x1="22.2" y1="30.5" x2="18.8" y2="27.5" stroke="#a0a0a0" stroke-width="0.6" opacity="0.4"/>
<line x1="22.8" y1="62.4" x2="20.8" y2="66.3" stroke="#a0a0a0" stroke-width="0.6" opacity="0.4"/>
<line x1="12.9" y1="34.4" x2="10.8" y2="33.8" stroke="#a0a0a0" stroke-width="0.6" opacity="0.4"/>
<line x1="49.2" y1="34.3" x2="51.8" y2="33.1" stroke="#a0a0a0" stroke-width="0.6" opacity="0.4"/>
<line x1="48.1" y1="33.4" x2="50.1" y2="32.4" stroke="#a0a0a0" stroke-width="0.6" opacity="0.4"/>
<line x1="55.7" y1="44.8" x2="58.1" y2="45.2" stroke="#a0a0a0" stroke-width="0.6" opacity="0.4"/>
<line x1="26.6" y1="32.5" x2="23.9" y2="29.4" stroke="#a0a0a0" stroke-width="0.6" opacity="0.4"/>
<line x1="49.2" y1="38.0" x2="53.1" y2="37.3" stroke="#a0a0a0" stroke-width="0.6" opacity="0.4"/>
<line x1="44.8" y1="32.9" x2="47.4" y2="31.0" stroke="#a0a0a0" stroke-width="0.6" opacity="0.4"/>
<line x1="58.3" y1="40.7" x2="61.7" y2="40.7" stroke="#a0a0a0" stroke-width="0.6" opacity="0.4"/>
<line x1="24.2" y1="37.9" x2="20.3" y2="36.7" stroke="#a0a0a0" stroke-width="0.6" opacity="0.4"/>
<line x1="51.4" y1="34.9" x2="53.9" y2="34.1" stroke="#a0a0a0" stroke-width="0.6" opacity="0.4"/>
<line x1="47.7" y1="54.9" x2="50.3" y2="57.6" stroke="#a0a0a0" stroke-width="0.6" opacity="0.4"/>
<line x1="15.5" y1="28.0" x2="13.8" y2="26.8" stroke="#a0a0a0" stroke-width="0.6" opacity="0.4"/>
<line x1="45.5" y1="41.5" x2="48.3" y2="41.6" stroke="#a0a0a0" stroke-width="0.6" opacity="0.4"/>
<line x1="47.0" y1="45.1" x2="49.4" y2="45.9" stroke="#a0a0a0" stroke-width="0.6" opacity="0.4"/>
<line x1="40.9" y1="24.5" x2="41.9" y2="22.2" stroke="#a0a0a0" stroke-width="0.6" opacity="0.4"/>
<line x1="21.7" y1="40.5" x2="17.2" y2="40.3" stroke="#a0a0a0" stroke-width="0.6" opacity="0.4"/>
<line x1="45.4" y1="48.3" x2="48.3" y2="50.2" stroke="#a0a0a0" stroke-width="0.6" opacity="0.4"/>
<line x1="49.6" y1="28.7" x2="51.4" y2="27.3" stroke="#a0a0a0" stroke-width="0.6" opacity="0.4"/>
<line x1="17.7" y1="27.7" x2="14.3" y2="24.9" stroke="#a0a0a0" stroke-width="0.6" opacity="0.4"/>
<line x1="25.1" y1="30.5" x2="22.5" y2="27.4" stroke="#a0a0a0" stroke-width="0.6" opacity="0.4"/>
<line x1="26.7" y1="18.8" x2="25.9" y2="16.4" stroke="#a0a0a0" stroke-width="0.6" opacity="0.4"/>
<line x1="42.9" y1="26.3" x2="44.3" y2="24.1" stroke="#a0a0a0" stroke-width="0.6" opacity="0.4"/>
<line x1="33.7" y1="52.5" x2="33.6" y2="56.7" stroke="#a0a0a0" stroke-width="0.6" opacity="0.4"/>
<line x1="46.2" y1="56.2" x2="47.8" y2="58.3" stroke="#a0a0a0" stroke-width="0.6" opacity="0.4"/>
<line x1="34.0" y1="56.3" x2="34.0" y2="60.4" stroke="#a0a0a0" stroke-width="0.6" opacity="0.4"/>
<line x1="48.5" y1="47.4" x2="51.1" y2="48.6" stroke="#a0a0a0" stroke-width="0.6" opacity="0.4"/>
<line x1="14.7" y1="42.8" x2="10.6" y2="43.1" stroke="#a0a0a0" stroke-width="0.6" opacity="0.4"/>
<line x1="19.0" y1="23.9" x2="16.2" y2="20.7" stroke="#a0a0a0" stroke-width="0.6" opacity="0.4"/>
<line x1="38.0" y1="31.4" x2="38.9" y2="29.4" stroke="#a0a0a0" stroke-width="0.6" opacity="0.4"/>
<line x1="21.2" y1="39.1" x2="18.3" y2="38.6" stroke="#a0a0a0" stroke-width="0.6" opacity="0.4"/>
<line x1="16.3" y1="37.7" x2="12.5" y2="36.9" stroke="#a0a0a0" stroke-width="0.6" opacity="0.4"/>
<line x1="35.9" y1="27.9" x2="36.4" y2="24.5" stroke="#a0a0a0" stroke-width="0.6" opacity="0.4"/>
<line x1="17.6" y1="43.8" x2="13.8" y2="44.5" stroke="#a0a0a0" stroke-width="0.6" opacity="0.4"/>
<line x1="29.4" y1="20.9" x2="28.8" y2="18.0" stroke="#a0a0a0" stroke-width="0.6" opacity="0.4"/>
<line x1="50.2" y1="50.4" x2="52.5" y2="51.8" stroke="#a0a0a0" stroke-width="0.6" opacity="0.4"/>
<line x1="29.7" y1="51.7" x2="28.9" y2="53.7" stroke="#a0a0a0" stroke-width="0.6" opacity="0.4"/>
<line x1="11.1" y1="49.4" x2="7.8" y2="50.6" stroke="#a0a0a0" stroke-width="0.6" opacity="0.4"/>
<line x1="33.5" y1="65.3" x2="33.4" y2="67.7" stroke="#a0a0a0" stroke-width="0.6" opacity="0.4"/>
<line x1="29.0" y1="31.1" x2="27.0" y2="27.2" stroke="#a0a0a0" stroke-width="0.6" opacity="0.4"/>
<line x1="53.1" y1="29.0" x2="55.6" y2="27.5" stroke="#a0a0a0" stroke-width="0.6" opacity="0.4"/>
<line x1="17.3" y1="46.1" x2="13.2" y2="47.4" stroke="#a0a0a0" stroke-width="0.6" opacity="0.4"/>
<line x1="22.1" y1="34.2" x2="18.4" y2="32.1" stroke="#a0a0a0" stroke-width="0.6" opacity="0.4"/>
<line x1="15.5" y1="50.9" x2="11.7" y2="53.0" stroke="#a0a0a0" stroke-width="0.6" opacity="0.4"/>
<line x1="35.7" y1="29.3" x2="36.3" y2="25.3" stroke="#a0a0a0" stroke-width="0.6" opacity="0.4"/>
<line x1="10.2" y1="48.5" x2="7.4" y2="49.4" stroke="#a0a0a0" stroke-width="0.6" opacity="0.4"/>
<line x1="39.2" y1="51.6" x2="41.2" y2="55.6" stroke="#a0a0a0" stroke-width="0.6" opacity="0.4"/>
<line x1="24.8" y1="45.3" x2="21.8" y2="46.7" stroke="#a0a0a0" stroke-width="0.6" opacity="0.4"/>
<line x1="46.7" y1="37.6" x2="50.9" y2="36.5" stroke="#a0a0a0" stroke-width="0.6" opacity="0.4"/>
<line x1="47.1" y1="40.7" x2="49.6" y2="40.7" stroke="#a0a0a0" stroke-width="0.6" opacity="0.4"/>
<line x1="41.0" y1="50.1" x2="42.3" y2="51.7" stroke="#a0a0a0" stroke-width="0.6" opacity="0.4"/>
<line x1="38.4" y1="62.6" x2="39.0" y2="65.6" stroke="#a0a0a0" stroke-width="0.6" opacity="0.4"/>
<line x1="17.6" y1="51.2" x2="15.6" y2="52.4" stroke="#a0a0a0" stroke-width="0.6" opacity="0.4"/>
<line x1="36.3" y1="27.4" x2="36.9" y2="24.2" stroke="#a0a0a0" stroke-width="0.6" opacity="0.4"/>
<line x1="36.7" y1="54.6" x2="37.2" y2="56.9" stroke="#a0a0a0" stroke-width="0.6" opacity="0.4"/>
<line x1="21.1" y1="51.3" x2="19.4" y2="52.7" stroke="#a0a0a0" stroke-width="0.6" opacity="0.4"/>
<line x1="41.4" y1="28.0" x2="43.2" y2="24.8" stroke="#a0a0a0" stroke-width="0.6" opacity="0.4"/>
<line x1="37.9" y1="50.9" x2="39.5" y2="55.0" stroke="#a0a0a0" stroke-width="0.6" opacity="0.4"/>
<line x1="34.7" y1="51.2" x2="34.9" y2="55.5" stroke="#a0a0a0" stroke-width="0.6" opacity="0.4"/>
<line x1="25.0" y1="45.5" x2="21.8" y2="47.2" stroke="#a0a0a0" stroke-width="0.6" opacity="0.4"/>
<line x1="21.1" y1="61.9" x2="19.0" y2="65.3" stroke="#a0a0a0" stroke-width="0.6" opacity="0.4"/>
<line x1="23.2" y1="23.6" x2="21.7" y2="21.2" stroke="#a0a0a0" stroke-width="0.6" opacity="0.4"/>
<line x1="54.8" y1="29.1" x2="57.1" y2="27.8" stroke="#a0a0a0" stroke-width="0.6" opacity="0.4"/>
<line x1="44.4" y1="44.5" x2="47.5" y2="45.5" stroke="#a0a0a0" stroke-width="0.6" opacity="0.4"/>
<line x1="17.8" y1="26.0" x2="14.6" y2="23.1" stroke="#a0a0a0" stroke-width="0.6" opacity="0.4"/>
<line x1="21.6" y1="52.1" x2="19.4" y2="54.1" stroke="#a0a0a0" stroke-width="0.6" opacity="0.4"/>
<line x1="45.0" y1="33.6" x2="47.0" y2="32.3" stroke="#a0a0a0" stroke-width="0.6" opacity="0.4"/>
<line x1="41.9" y1="63.5" x2="42.7" y2="65.8" stroke="#a0a0a0" stroke-width="0.6" opacity="0.4"/>
<line x1="47.7" y1="40.6" x2="50.7" y2="40.5" stroke="#a0a0a0" stroke-width="0.6" opacity="0.4"/>
<line x1="44.4" y1="63.3" x2="45.3" y2="65.3" stroke="#a0a0a0" stroke-width="0.6" opacity="0.4"/>
<line x1="44.8" y1="58.3" x2="46.5" y2="61.0" stroke="#a0a0a0" stroke-width="0.6" opacity="0.4"/>
<line x1="21.0" y1="51.6" x2="17.7" y2="54.3" stroke="#a0a0a0" stroke-width="0.6" opacity="0.4"/>
<line x1="44.8" y1="55.8" x2="46.3" y2="57.8" stroke="#a0a0a0" stroke-width="0.6" opacity="0.4"/>
<line x1="18.2" y1="41.3" x2="15.2" y2="41.3" stroke="#a0a0a0" stroke-width="0.6" opacity="0.4"/>
<line x1="30.1" y1="50.4" x2="29.2" y2="52.7" stroke="#a0a0a0" stroke-width="0.6" opacity="0.4"/>
<line x1="32.3" y1="25.3" x2="32.1" y2="23.0" stroke="#a0a0a0" stroke-width="0.6" opacity="0.4"/>
<line x1="50.3" y1="54.0" x2="52.2" y2="55.5" stroke="#a0a0a0" stroke-width="0.6" opacity="0.4"/>
<line x1="50.7" y1="34.6" x2="52.7" y2="33.8" stroke="#a0a0a0" stroke-width="0.6" opacity="0.4"/>
<line x1="25.8" y1="58.5" x2="23.9" y2="62.5" stroke="#a0a0a0" stroke-width="0.6" opacity="0.4"/>
<line x1="45.7" y1="34.3" x2="48.8" y2="32.5" stroke="#a0a0a0" stroke-width="0.6" opacity="0.4"/>
<line x1="13.3" y1="30.5" x2="11.1" y2="29.4" stroke="#a0a0a0" stroke-width="0.6" opacity="0.4"/>
<line x1="15.4" y1="39.1" x2="12.2" y2="38.7" stroke="#a0a0a0" stroke-width="0.6" opacity="0.4"/>
<line x1="23.9" y1="42.8" x2="21.5" y2="43.2" stroke="#a0a0a0" stroke-width="0.6" opacity="0.4"/>
<line x1="48.0" y1="36.8" x2="52.2" y2="35.5" stroke="#a0a0a0" stroke-width="0.6" opacity="0.4"/>
<line x1="44.0" y1="41.7" x2="48.2" y2="42.0" stroke="#a0a0a0" stroke-width="0.6" opacity="0.4"/>
<line x1="27.6" y1="62.9" x2="27.0" y2="64.8" stroke="#a0a0a0" stroke-width="0.6" opacity="0.4"/>
<line x1="16.5" y1="26.8" x2="14.4" y2="25.2" stroke="#a0a0a0" stroke-width="0.6" opacity="0.4"/>
<line x1="46.9" y1="24.6" x2="49.4" y2="21.4" stroke="#a0a0a0" stroke-width="0.6" opacity="0.4"/>
<line x1="25.0" y1="50.2" x2="23.0" y2="52.3" stroke="#a0a0a0" stroke-width="0.6" opacity="0.4"/>
<line x1="28.1" y1="53.3" x2="26.3" y2="57.1" stroke="#a0a0a0" stroke-width="0.6" opacity="0.4"/>
<line x1="42.7" y1="58.4" x2="44.1" y2="61.2" stroke="#a0a0a0" stroke-width="0.6" opacity="0.4"/>
<line x1="16.8" y1="44.2" x2="13.7" y2="44.8" stroke="#a0a0a0" stroke-width="0.6" opacity="0.4"/>
<line x1="53.0" y1="34.5" x2="56.8" y2="33.2" stroke="#a0a0a0" stroke-width="0.6" opacity="0.4"/>
<line x1="34.1" y1="58.7" x2="34.2" y2="62.5" stroke="#a0a0a0" stroke-width="0.6" opacity="0.4"/>
<line x1="26.2" y1="20.2" x2="25.5" y2="18.3" stroke="#a0a0a0" stroke-width="0.6" opacity="0.4"/>
<line x1="52.1" y1="53.8" x2="54.5" y2="55.5" stroke="#a0a0a0" stroke-width="0.6" opacity="0.4"/>
<line x1="37.0" y1="57.3" x2="37.5" y2="59.7" stroke="#a0a0a0" stroke-width="0.6" opacity="0.4"/>
<line x1="32.7" y1="24.8" x2="32.4" y2="20.8" stroke="#a0a0a0" stroke-width="0.6" opacity="0.4"/>
<line x1="9.5" y1="45.8" x2="7.5" y2="46.2" stroke="#a0a0a0" stroke-width="0.6" opacity="0.4"/>
<line x1="41.3" y1="32.1" x2="43.4" y2="29.7" stroke="#a0a0a0" stroke-width="0.6" opacity="0.4"/>
<line x1="35.4" y1="57.0" x2="35.8" y2="61.2" stroke="#a0a0a0" stroke-width="0.6" opacity="0.4"/>
<line x1="36.3" y1="56.8" x2="36.8" y2="60.1" stroke="#a0a0a0" stroke-width="0.6" opacity="0.4"/>
<line x1="48.1" y1="51.8" x2="50.3" y2="53.5" stroke="#a0a0a0" stroke-width="0.6" opacity="0.4"/>
<line x1="57.4" y1="37.9" x2="60.7" y2="37.4" stroke="#a0a0a0" stroke-width="0.6" opacity="0.4"/>
<line x1="44.3" y1="36.4" x2="46.2" y2="35.5" stroke="#a0a0a0" stroke-width="0.6" opacity="0.4"/>
<line x1="14.3" y1="53.8" x2="10.7" y2="56.1" stroke="#a0a0a0" stroke-width="0.6" opacity="0.4"/>
<line x1="56.0" y1="38.9" x2="59.0" y2="38.6" stroke="#a0a0a0" stroke-width="0.6" opacity="0.4"/>
<line x1="36.6" y1="19.8" x2="37.0" y2="16.6" stroke="#a0a0a0" stroke-width="0.6" opacity="0.4"/>
<line x1="42.8" y1="21.9" x2="43.8" y2="19.6" stroke="#a0a0a0" stroke-width="0.6" opacity="0.4"/>
<line x1="46.5" y1="45.7" x2="50.3" y2="47.0" stroke="#a0a0a0" stroke-width="0.6" opacity="0.4"/>
<line x1="21.4" y1="48.6" x2="18.1" y2="50.6" stroke="#a0a0a0" stroke-width="0.6" opacity="0.4"/>
<line x1="39.6" y1="53.6" x2="40.5" y2="55.7" stroke="#a0a0a0" stroke-width="0.6" opacity="0.4"/>
<line x1="45.4" y1="33.4" x2="47.8" y2="31.8" stroke="#a0a0a0" stroke-width="0.6" opacity="0.4"/>
<line x1="22.0" y1="36.8" x2="18.0" y2="35.3" stroke="#a0a0a0" stroke-width="0.6" opacity="0.4"/>
<line x1="37.6" y1="30.1" x2="38.4" y2="27.8" stroke="#a0a0a0" stroke-width="0.6" opacity="0.4"/>
<line x1="41.3" y1="30.0" x2="42.9" y2="27.5" stroke="#a0a0a0" stroke-width="0.6" opacity="0.4"/>
<line x1="42.1" y1="29.0" x2="44.0" y2="26.2" stroke="#a0a0a0" stroke-width="0.6" opacity="0.4"/>
<line x1="15.6" y1="50.6" x2="12.1" y2="52.4" stroke="#a0a0a0" stroke-width="0.6" opacity="0.4"/>
<line x1="38.4" y1="28.4" x2="39.6" y2="25.1" stroke="#a0a0a0" stroke-width="0.6" opacity="0.4"/>
<line x1="43.8" y1="63.5" x2="44.9" y2="66.0" stroke="#a0a0a0" stroke-width="0.6" opacity="0.4"/>
<line x1="20.9" y1="37.1" x2="17.6" y2="36.1" stroke="#a0a0a0" stroke-width="0.6" opacity="0.4"/>
<line x1="30.5" y1="51.2" x2="29.9" y2="53.2" stroke="#a0a0a0" stroke-width="0.6" opacity="0.4"/>
<line x1="30.8" y1="27.9" x2="30.3" y2="25.6" stroke="#a0a0a0" stroke-width="0.6" opacity="0.4"/>
<line x1="28.3" y1="19.4" x2="27.6" y2="16.9" stroke="#a0a0a0" stroke-width="0.6" opacity="0.4"/>
<line x1="12.3" y1="32.0" x2="8.4" y2="30.4" stroke="#a0a0a0" stroke-width="0.6" opacity="0.4"/>
<line x1="14.1" y1="45.2" x2="10.6" y2="45.9" stroke="#a0a0a0" stroke-width="0.6" opacity="0.4"/>
<line x1="36.5" y1="17.0" x2="36.8" y2="14.5" stroke="#a0a0a0" stroke-width="0.6" opacity="0.4"/>
<line x1="15.3" y1="56.5" x2="13.3" y2="58.2" stroke="#a0a0a0" stroke-width="0.6" opacity="0.4"/>
<line x1="28.2" y1="62.7" x2="27.5" y2="65.4" stroke="#a0a0a0" stroke-width="0.6" opacity="0.4"/>
<line x1="24.7" y1="35.0" x2="20.9" y2="32.5" stroke="#a0a0a0" stroke-width="0.6" opacity="0.4"/>
<line x1="24.8" y1="34.8" x2="22.8" y2="33.5" stroke="#a0a0a0" stroke-width="0.6" opacity="0.4"/>
<line x1="48.9" y1="51.5" x2="52.0" y2="53.7" stroke="#a0a0a0" stroke-width="0.6" opacity="0.4"/>
<line x1="15.5" y1="30.4" x2="11.9" y2="28.3" stroke="#a0a0a0" stroke-width="0.6" opacity="0.4"/>
<line x1="16.3" y1="40.1" x2="12.7" y2="39.9" stroke="#a0a0a0" stroke-width="0.6" opacity="0.4"/>
<line x1="27.4" y1="18.8" x2="26.4" y2="15.4" stroke="#a0a0a0" stroke-width="0.6" opacity="0.4"/>
<line x1="17.6" y1="52.0" x2="14.3" y2="54.2" stroke="#a0a0a0" stroke-width="0.6" opacity="0.4"/>
<line x1="21.9" y1="32.6" x2="19.2" y2="30.7" stroke="#a0a0a0" stroke-width="0.6" opacity="0.4"/>
<line x1="21.4" y1="38.2" x2="17.3" y2="37.3" stroke="#a0a0a0" stroke-width="0.6" opacity="0.4"/>
<line x1="55.6" y1="49.0" x2="58.1" y2="49.9" stroke="#a0a0a0" stroke-width="0.6" opacity="0.4"/>
<line x1="25.1" y1="62.7" x2="23.9" y2="65.6" stroke="#a0a0a0" stroke-width="0.6" opacity="0.4"/>
<line x1="25.1" y1="34.9" x2="22.5" y2="33.1" stroke="#a0a0a0" stroke-width="0.6" opacity="0.4"/>
<line x1="17.7" y1="33.2" x2="15.2" y2="31.9" stroke="#a0a0a0" stroke-width="0.6" opacity="0.4"/>
<line x1="44.3" y1="44.3" x2="46.5" y2="45.0" stroke="#a0a0a0" stroke-width="0.6" opacity="0.4"/>
<line x1="34.1" y1="25.0" x2="34.2" y2="20.7" stroke="#a0a0a0" stroke-width="0.6" opacity="0.4"/>
<line x1="33.8" y1="23.7" x2="33.8" y2="20.1" stroke="#a0a0a0" stroke-width="0.6" opacity="0.4"/>
<line x1="30.6" y1="18.3" x2="30.2" y2="16.1" stroke="#a0a0a0" stroke-width="0.6" opacity="0.4"/>
<line x1="23.4" y1="45.5" x2="19.9" y2="47.0" stroke="#a0a0a0" stroke-width="0.6" opacity="0.4"/>
<line x1="12.0" y1="44.6" x2="9.8" y2="44.9" stroke="#a0a0a0" stroke-width="0.6" opacity="0.4"/>
<line x1="40.9" y1="31.4" x2="42.2" y2="29.7" stroke="#a0a0a0" stroke-width="0.6" opacity="0.4"/>
<line x1="32.0" y1="55.5" x2="31.7" y2="57.7" stroke="#a0a0a0" stroke-width="0.6" opacity="0.4"/>
<line x1="47.2" y1="20.3" x2="49.2" y2="17.3" stroke="#a0a0a0" stroke-width="0.6" opacity="0.4"/>
<line x1="18.0" y1="41.2" x2="15.3" y2="41.2" stroke="#a0a0a0" stroke-width="0.6" opacity="0.4"/>
<line x1="16.6" y1="45.0" x2="12.9" y2="45.8" stroke="#a0a0a0" stroke-width="0.6" opacity="0.4"/>
<line x1="23.2" y1="52.5" x2="20.4" y2="55.5" stroke="#a0a0a0" stroke-width="0.6" opacity="0.4"/>
<line x1="31.0" y1="30.2" x2="30.1" y2="27.1" stroke="#a0a0a0" stroke-width="0.6" opacity="0.4"/>
<line x1="26.8" y1="52.8" x2="25.0" y2="55.6" stroke="#a0a0a0" stroke-width="0.6" opacity="0.4"/>
<line x1="36.1" y1="58.8" x2="36.4" y2="61.2" stroke="#a0a0a0" stroke-width="0.6" opacity="0.4"/>
<line x1="32.2" y1="53.8" x2="31.7" y2="57.4" stroke="#a0a0a0" stroke-width="0.6" opacity="0.4"/>
<line x1="38.9" y1="63.0" x2="39.5" y2="65.5" stroke="#a0a0a0" stroke-width="0.6" opacity="0.4"/>
<line x1="42.7" y1="48.3" x2="45.8" y2="50.9" stroke="#a0a0a0" stroke-width="0.6" opacity="0.4"/>
<line x1="18.8" y1="34.6" x2="16.7" y2="33.8" stroke="#a0a0a0" stroke-width="0.6" opacity="0.4"/>
<line x1="29.5" y1="28.8" x2="28.0" y2="24.8" stroke="#a0a0a0" stroke-width="0.6" opacity="0.4"/>
<line x1="27.6" y1="23.1" x2="26.7" y2="20.3" stroke="#a0a0a0" stroke-width="0.6" opacity="0.4"/>
<line x1="41.8" y1="24.7" x2="43.0" y2="22.2" stroke="#a0a0a0" stroke-width="0.6" opacity="0.4"/>
<line x1="19.9" y1="26.1" x2="17.1" y2="23.1" stroke="#a0a0a0" stroke-width="0.6" opacity="0.4"/>
<line x1="23.3" y1="23.6" x2="22.0" y2="21.5" stroke="#a0a0a0" stroke-width="0.6" opacity="0.4"/>
<line x1="45.3" y1="26.6" x2="46.9" y2="24.5" stroke="#a0a0a0" stroke-width="0.6" opacity="0.4"/>
<line x1="43.6" y1="33.2" x2="46.3" y2="31.1" stroke="#a0a0a0" stroke-width="0.6" opacity="0.4"/>
<line x1="57.6" y1="34.8" x2="60.6" y2="33.9" stroke="#a0a0a0" stroke-width="0.6" opacity="0.4"/>
<line x1="55.0" y1="30.0" x2="57.6" y2="28.6" stroke="#a0a0a0" stroke-width="0.6" opacity="0.4"/>
<line x1="42.0" y1="49.1" x2="45.0" y2="52.2" stroke="#a0a0a0" stroke-width="0.6" opacity="0.4"/>
<line x1="51.3" y1="41.7" x2="54.3" y2="41.8" stroke="#a0a0a0" stroke-width="0.6" opacity="0.4"/>
<line x1="42.2" y1="52.7" x2="43.4" y2="54.4" stroke="#a0a0a0" stroke-width="0.6" opacity="0.4"/>
<line x1="30.8" y1="60.2" x2="30.3" y2="62.7" stroke="#a0a0a0" stroke-width="0.6" opacity="0.4"/>
<line x1="22.5" y1="45.4" x2="19.0" y2="46.8" stroke="#a0a0a0" stroke-width="0.6" opacity="0.4"/>
<line x1="13.0" y1="35.2" x2="10.3" y2="34.5" stroke="#a0a0a0" stroke-width="0.6" opacity="0.4"/>
<line x1="51.5" y1="57.8" x2="53.1" y2="59.4" stroke="#a0a0a0" stroke-width="0.6" opacity="0.4"/>
<line x1="14.3" y1="33.6" x2="11.1" y2="32.4" stroke="#a0a0a0" stroke-width="0.6" opacity="0.4"/>
<line x1="58.5" y1="43.7" x2="62.7" y2="44.2" stroke="#a0a0a0" stroke-width="0.6" opacity="0.4"/>
<line x1="43.5" y1="55.2" x2="45.7" y2="58.5" stroke="#a0a0a0" stroke-width="0.6" opacity="0.4"/>
<line x1="45.1" y1="49.9" x2="48.4" y2="52.5" stroke="#a0a0a0" stroke-width="0.6" opacity="0.4"/>
<line x1="12.0" y1="42.7" x2="8.5" y2="42.9" stroke="#a0a0a0" stroke-width="0.6" opacity="0.4"/>
<line x1="28.9" y1="28.1" x2="27.6" y2="24.6" stroke="#a0a0a0" stroke-width="0.6" opacity="0.4"/>
<line x1="48.1" y1="41.4" x2="52.5" y2="41.5" stroke="#a0a0a0" stroke-width="0.6" opacity="0.4"/>
<line x1="40.5" y1="31.7" x2="42.6" y2="28.7" stroke="#a0a0a0" stroke-width="0.6" opacity="0.4"/>
<line x1="56.6" y1="38.5" x2="60.8" y2="38.0" stroke="#a0a0a0" stroke-width="0.6" opacity="0.4"/>
<line x1="46.1" y1="58.8" x2="48.2" y2="61.8" stroke="#a0a0a0" stroke-width="0.6" opacity="0.4"/>
<line x1="46.2" y1="47.8" x2="49.8" y2="49.8" stroke="#a0a0a0" stroke-width="0.6" opacity="0.4"/>
<line x1="45.2" y1="55.4" x2="46.8" y2="57.5" stroke="#a0a0a0" stroke-width="0.6" opacity="0.4"/>
<line x1="55.1" y1="38.7" x2="58.3" y2="38.4" stroke="#a0a0a0" stroke-width="0.6" opacity="0.4"/>
<line x1="20.5" y1="58.9" x2="17.9" y2="62.4" stroke="#a0a0a0" stroke-width="0.6" opacity="0.4"/>
<line x1="42.7" y1="21.9" x2="44.0" y2="18.9" stroke="#a0a0a0" stroke-width="0.6" opacity="0.4"/>
<line x1="21.2" y1="35.9" x2="18.9" y2="34.9" stroke="#a0a0a0" stroke-width="0.6" opacity="0.4"/>
<line x1="15.7" y1="45.4" x2="13.7" y2="45.9" stroke="#a0a0a0" stroke-width="0.6" opacity="0.4"/>
<line x1="18.9" y1="46.1" x2="14.8" y2="47.5" stroke="#a0a0a0" stroke-width="0.6" opacity="0.4"/>
<line x1="27.2" y1="60.9" x2="25.9" y2="64.8" stroke="#a0a0a0" stroke-width="0.6" opacity="0.4"/>
<line x1="49.3" y1="29.0" x2="52.8" y2="26.3" stroke="#a0a0a0" stroke-width="0.6" opacity="0.4"/>
<line x1="45.3" y1="40.3" x2="48.0" y2="40.1" stroke="#a0a0a0" stroke-width="0.6" opacity="0.4"/>
<line x1="34.7" y1="22.0" x2="34.8" y2="19.1" stroke="#a0a0a0" stroke-width="0.6" opacity="0.4"/>
<line x1="22.6" y1="60.9" x2="21.5" y2="62.9" stroke="#a0a0a0" stroke-width="0.6" opacity="0.4"/>
<line x1="45.6" y1="40.9" x2="48.9" y2="40.9" stroke="#a0a0a0" stroke-width="0.6" opacity="0.4"/>
<line x1="12.1" y1="28.9" x2="9.5" y2="27.4" stroke="#a0a0a0" stroke-width="0.6" opacity="0.4"/>
<line x1="23.5" y1="32.3" x2="21.0" y2="30.1" stroke="#a0a0a0" stroke-width="0.6" opacity="0.4"/>
<line x1="38.0" y1="51.2" x2="39.4" y2="54.6" stroke="#a0a0a0" stroke-width="0.6" opacity="0.4"/>
<line x1="42.4" y1="25.0" x2="44.5" y2="21.1" stroke="#a0a0a0" stroke-width="0.6" opacity="0.4"/>
<line x1="42.6" y1="60.2" x2="44.0" y2="63.2" stroke="#a0a0a0" stroke-width="0.6" opacity="0.4"/>
<line x1="23.0" y1="26.3" x2="21.2" y2="23.8" stroke="#a0a0a0" stroke-width="0.6" opacity="0.4"/>
<line x1="33.0" y1="19.2" x2="32.8" y2="15.8" stroke="#a0a0a0" stroke-width="0.6" opacity="0.4"/>
<line x1="40.7" y1="64.0" x2="41.3" y2="66.1" stroke="#a0a0a0" stroke-width="0.6" opacity="0.4"/>
<line x1="48.1" y1="51.9" x2="50.5" y2="53.7" stroke="#a0a0a0" stroke-width="0.6" opacity="0.4"/>
<line x1="26.9" y1="32.7" x2="24.7" y2="30.1" stroke="#a0a0a0" stroke-width="0.6" opacity="0.4"/>
<line x1="49.4" y1="42.8" x2="53.3" y2="43.2" stroke="#a0a0a0" stroke-width="0.6" opacity="0.4"/>
<line x1="33.1" y1="55.8" x2="32.9" y2="59.3" stroke="#a0a0a0" stroke-width="0.6" opacity="0.4"/>
<line x1="42.3" y1="57.7" x2="43.4" y2="59.8" stroke="#a0a0a0" stroke-width="0.6" opacity="0.4"/>
<line x1="29.6" y1="26.0" x2="28.6" y2="22.7" stroke="#a0a0a0" stroke-width="0.6" opacity="0.4"/>
<line x1="49.0" y1="29.6" x2="51.8" y2="27.4" stroke="#a0a0a0" stroke-width="0.6" opacity="0.4"/>
<line x1="29.6" y1="16.6" x2="29.2" y2="14.3" stroke="#a0a0a0" stroke-width="0.6" opacity="0.4"/>
<line x1="36.4" y1="60.9" x2="36.9" y2="64.8" stroke="#a0a0a0" stroke-width="0.6" opacity="0.4"/>
<line x1="50.1" y1="42.5" x2="52.8" y2="42.8" stroke="#a0a0a0" stroke-width="0.6" opacity="0.4"/>
<line x1="45.1" y1="55.6" x2="46.8" y2="57.8" stroke="#a0a0a0" stroke-width="0.6" opacity="0.4"/>
<line x1="24.9" y1="63.0" x2="23.8" y2="65.7" stroke="#a0a0a0" stroke-width="0.6" opacity="0.4"/>
<line x1="11.6" y1="30.9" x2="7.9" y2="29.2" stroke="#a0a0a0" stroke-width="0.6" opacity="0.4"/>
<line x1="27.5" y1="52.3" x2="26.2" y2="54.5" stroke="#a0a0a0" stroke-width="0.6" opacity="0.4"/>
<line x1="34.5" y1="28.7" x2="34.6" y2="24.7" stroke="#a0a0a0" stroke-width="0.6" opacity="0.4"/>
<line x1="35.4" y1="30.6" x2="36.0" y2="26.6" stroke="#a0a0a0" stroke-width="0.6" opacity="0.4"/>
<line x1="29.5" y1="30.7" x2="28.6" y2="28.6" stroke="#a0a0a0" stroke-width="0.6" opacity="0.4"/>
<line x1="22.0" y1="24.7" x2="20.5" y2="22.6" stroke="#a0a0a0" stroke-width="0.6" opacity="0.4"/>
<line x1="41.3" y1="19.1" x2="42.2" y2="16.5" stroke="#a0a0a0" stroke-width="0.6" opacity="0.4"/>
<line x1="19.3" y1="41.3" x2="16.8" y2="41.4" stroke="#a0a0a0" stroke-width="0.6" opacity="0.4"/>
<line x1="32.0" y1="26.9" x2="31.6" y2="23.4" stroke="#a0a0a0" stroke-width="0.6" opacity="0.4"/>
<line x1="20.4" y1="38.9" x2="18.1" y2="38.6" stroke="#a0a0a0" stroke-width="0.6" opacity="0.4"/>
<line x1="29.5" y1="17.5" x2="28.8" y2="13.5" stroke="#a0a0a0" stroke-width="0.6" opacity="0.4"/>
<line x1="49.1" y1="31.1" x2="51.9" y2="29.2" stroke="#a0a0a0" stroke-width="0.6" opacity="0.4"/>
<line x1="21.6" y1="27.8" x2="18.6" y2="24.7" stroke="#a0a0a0" stroke-width="0.6" opacity="0.4"/>
<line x1="28.2" y1="31.0" x2="27.1" y2="29.1" stroke="#a0a0a0" stroke-width="0.6" opacity="0.4"/>
<line x1="46.5" y1="47.5" x2="49.1" y2="48.8" stroke="#a0a0a0" stroke-width="0.6" opacity="0.4"/>
<line x1="21.8" y1="26.8" x2="19.5" y2="24.1" stroke="#a0a0a0" stroke-width="0.6" opacity="0.4"/>
<polygon points="0.0,48.0 10.0,50.0 18.0,53.0 24.0,58.0 27.0,66.0 24.0,72.0 0.0,72.0" fill="#000" opacity="1" filter="url(#bl1)"/>
<circle cx="33" cy="43" r="12" fill="none" stroke="#8a8a8a" stroke-width="3" filter="url(#bl2)"/>
<ellipse cx="34" cy="43" rx="8" ry="8" fill="#4a4a4a" opacity="1" filter="url(#bl2)"/>
<polygon points="0.0,63.0 8.0,60.0 18.0,60.0 25.0,64.0 28.0,70.0 40.0,69.0 45.0,74.0 42.0,88.0 0.0,88.0" fill="#555" opacity="1" stroke="#909090" stroke-width="0.8" filter="url(#bl1)"/>
<clipPath id="cc8"><polygon points="0.0,63.0 8.0,60.0 18.0,60.0 25.0,64.0 28.0,70.0 40.0,69.0 45.0,74.0 42.0,88.0 0.0,88.0"/></clipPath>
<g clip-path="url(#cc8)">
<line x1="38.8" y1="59.7" x2="44.7" y2="70.0" stroke="#8a8a8a" stroke-width="0.6" opacity="0.45"/>
<line x1="7.9" y1="68.1" x2="13.5" y2="77.9" stroke="#8a8a8a" stroke-width="0.6" opacity="0.45"/>
<line x1="14.5" y1="71.6" x2="17.5" y2="76.9" stroke="#8a8a8a" stroke-width="0.6" opacity="0.45"/>
<line x1="41.7" y1="84.9" x2="44.8" y2="90.3" stroke="#8a8a8a" stroke-width="0.6" opacity="0.45"/>
<line x1="3.4" y1="69.5" x2="7.7" y2="77.0" stroke="#8a8a8a" stroke-width="0.6" opacity="0.45"/>
<line x1="32.6" y1="65.6" x2="37.2" y2="73.6" stroke="#8a8a8a" stroke-width="0.6" opacity="0.45"/>
<line x1="5.8" y1="63.5" x2="8.6" y2="68.4" stroke="#8a8a8a" stroke-width="0.6" opacity="0.45"/>
<line x1="22.2" y1="71.7" x2="26.9" y2="79.8" stroke="#8a8a8a" stroke-width="0.6" opacity="0.45"/>
<line x1="40.3" y1="65.4" x2="44.0" y2="71.8" stroke="#8a8a8a" stroke-width="0.6" opacity="0.45"/>
<line x1="19.0" y1="83.4" x2="22.6" y2="89.6" stroke="#8a8a8a" stroke-width="0.6" opacity="0.45"/>
<line x1="10.6" y1="67.7" x2="15.5" y2="76.2" stroke="#8a8a8a" stroke-width="0.6" opacity="0.45"/>
<line x1="10.1" y1="60.5" x2="15.1" y2="69.2" stroke="#8a8a8a" stroke-width="0.6" opacity="0.45"/>
<line x1="24.6" y1="74.0" x2="27.2" y2="78.4" stroke="#8a8a8a" stroke-width="0.6" opacity="0.45"/>
<line x1="9.3" y1="59.6" x2="13.1" y2="66.1" stroke="#8a8a8a" stroke-width="0.6" opacity="0.45"/>
<line x1="38.0" y1="83.0" x2="43.5" y2="92.4" stroke="#8a8a8a" stroke-width="0.6" opacity="0.45"/>
<line x1="13.8" y1="71.0" x2="19.5" y2="80.7" stroke="#8a8a8a" stroke-width="0.6" opacity="0.45"/>
<line x1="12.9" y1="66.8" x2="17.9" y2="75.5" stroke="#8a8a8a" stroke-width="0.6" opacity="0.45"/>
<line x1="13.5" y1="70.0" x2="17.3" y2="76.5" stroke="#8a8a8a" stroke-width="0.6" opacity="0.45"/>
<line x1="35.6" y1="72.1" x2="38.5" y2="77.0" stroke="#8a8a8a" stroke-width="0.6" opacity="0.45"/>
<line x1="-0.7" y1="75.5" x2="2.2" y2="80.5" stroke="#8a8a8a" stroke-width="0.6" opacity="0.45"/>
<line x1="27.9" y1="62.4" x2="32.3" y2="70.0" stroke="#8a8a8a" stroke-width="0.6" opacity="0.45"/>
<line x1="14.0" y1="75.8" x2="16.9" y2="80.9" stroke="#8a8a8a" stroke-width="0.6" opacity="0.45"/>
<line x1="16.7" y1="75.4" x2="20.1" y2="81.3" stroke="#8a8a8a" stroke-width="0.6" opacity="0.45"/>
<line x1="41.7" y1="82.7" x2="47.6" y2="92.9" stroke="#8a8a8a" stroke-width="0.6" opacity="0.45"/>
<line x1="39.7" y1="82.5" x2="44.2" y2="90.3" stroke="#8a8a8a" stroke-width="0.6" opacity="0.45"/>
<line x1="36.3" y1="69.0" x2="39.1" y2="73.7" stroke="#8a8a8a" stroke-width="0.6" opacity="0.45"/>
<line x1="39.9" y1="82.8" x2="43.3" y2="88.7" stroke="#8a8a8a" stroke-width="0.6" opacity="0.45"/>
<line x1="14.4" y1="62.2" x2="19.4" y2="70.9" stroke="#8a8a8a" stroke-width="0.6" opacity="0.45"/>
<line x1="6.3" y1="80.5" x2="8.9" y2="85.1" stroke="#8a8a8a" stroke-width="0.6" opacity="0.45"/>
<line x1="16.0" y1="78.3" x2="20.2" y2="85.5" stroke="#8a8a8a" stroke-width="0.6" opacity="0.45"/>
<line x1="3.8" y1="56.6" x2="8.6" y2="65.1" stroke="#8a8a8a" stroke-width="0.6" opacity="0.45"/>
<line x1="1.1" y1="63.9" x2="5.7" y2="71.9" stroke="#8a8a8a" stroke-width="0.6" opacity="0.45"/>
<line x1="11.3" y1="56.5" x2="16.5" y2="65.6" stroke="#8a8a8a" stroke-width="0.6" opacity="0.45"/>
<line x1="31.1" y1="74.7" x2="34.0" y2="79.6" stroke="#8a8a8a" stroke-width="0.6" opacity="0.45"/>
<line x1="19.7" y1="83.3" x2="24.0" y2="90.7" stroke="#8a8a8a" stroke-width="0.6" opacity="0.45"/>
<line x1="9.6" y1="83.0" x2="13.3" y2="89.4" stroke="#8a8a8a" stroke-width="0.6" opacity="0.45"/>
<line x1="20.8" y1="59.8" x2="26.3" y2="69.4" stroke="#8a8a8a" stroke-width="0.6" opacity="0.45"/>
<line x1="28.6" y1="71.2" x2="32.9" y2="78.5" stroke="#8a8a8a" stroke-width="0.6" opacity="0.45"/>
<line x1="13.2" y1="69.2" x2="17.4" y2="76.6" stroke="#8a8a8a" stroke-width="0.6" opacity="0.45"/>
<line x1="-1.7" y1="75.5" x2="3.5" y2="84.4" stroke="#8a8a8a" stroke-width="0.6" opacity="0.45"/>
<line x1="-1.2" y1="59.5" x2="3.8" y2="68.1" stroke="#8a8a8a" stroke-width="0.6" opacity="0.45"/>
<line x1="13.1" y1="59.7" x2="18.0" y2="68.2" stroke="#8a8a8a" stroke-width="0.6" opacity="0.45"/>
<line x1="41.9" y1="65.9" x2="46.5" y2="73.9" stroke="#8a8a8a" stroke-width="0.6" opacity="0.45"/>
<line x1="22.5" y1="71.6" x2="27.0" y2="79.6" stroke="#8a8a8a" stroke-width="0.6" opacity="0.45"/>
<line x1="38.3" y1="79.3" x2="43.9" y2="89.0" stroke="#8a8a8a" stroke-width="0.6" opacity="0.45"/>
<line x1="28.4" y1="76.9" x2="33.6" y2="85.8" stroke="#8a8a8a" stroke-width="0.6" opacity="0.45"/>
<line x1="30.8" y1="74.7" x2="36.0" y2="83.7" stroke="#8a8a8a" stroke-width="0.6" opacity="0.45"/>
<line x1="0.2" y1="60.6" x2="5.0" y2="68.9" stroke="#8a8a8a" stroke-width="0.6" opacity="0.45"/>
<line x1="16.7" y1="62.3" x2="21.4" y2="70.5" stroke="#8a8a8a" stroke-width="0.6" opacity="0.45"/>
<line x1="7.3" y1="78.1" x2="10.9" y2="84.3" stroke="#8a8a8a" stroke-width="0.6" opacity="0.45"/>
</g>
<ellipse cx="20" cy="80" rx="9" ry="6" fill="#333" opacity="1" filter="url(#bl2)"/>
<polygon points="38.0,82.0 44.0,75.0 52.0,72.0 62.0,74.0 70.0,82.0 75.0,88.0 38.0,88.0" fill="#505050" opacity="1" stroke="#909090" stroke-width="0.8" filter="url(#bl1)"/>
<clipPath id="cc9"><polygon points="38.0,82.0 44.0,75.0 52.0,72.0 62.0,74.0 70.0,82.0 75.0,88.0 38.0,88.0"/></clipPath>
<g clip-path="url(#cc9)">
<line x1="52.5" y1="71.4" x2="56.4" y2="82.0" stroke="#8a8a8a" stroke-width="0.6" opacity="0.45"/>
<line x1="54.2" y1="68.6" x2="57.7" y2="78.2" stroke="#8a8a8a" stroke-width="0.6" opacity="0.45"/>
<line x1="39.8" y1="72.6" x2="41.7" y2="77.8" stroke="#8a8a8a" stroke-width="0.6" opacity="0.45"/>
<line x1="59.7" y1="81.1" x2="62.8" y2="89.8" stroke="#8a8a8a" stroke-width="0.6" opacity="0.45"/>
<line x1="44.3" y1="80.3" x2="48.1" y2="90.7" stroke="#8a8a8a" stroke-width="0.6" opacity="0.45"/>
<line x1="48.5" y1="71.8" x2="51.8" y2="80.9" stroke="#8a8a8a" stroke-width="0.6" opacity="0.45"/>
<line x1="72.1" y1="81.4" x2="75.9" y2="91.8" stroke="#8a8a8a" stroke-width="0.6" opacity="0.45"/>
<line x1="62.9" y1="71.3" x2="66.1" y2="80.0" stroke="#8a8a8a" stroke-width="0.6" opacity="0.45"/>
<line x1="52.4" y1="78.3" x2="55.3" y2="86.2" stroke="#8a8a8a" stroke-width="0.6" opacity="0.45"/>
<line x1="44.7" y1="83.9" x2="46.5" y2="88.8" stroke="#8a8a8a" stroke-width="0.6" opacity="0.45"/>
<line x1="48.6" y1="71.7" x2="52.6" y2="82.8" stroke="#8a8a8a" stroke-width="0.6" opacity="0.45"/>
<line x1="40.4" y1="75.8" x2="44.3" y2="86.7" stroke="#8a8a8a" stroke-width="0.6" opacity="0.45"/>
<line x1="59.3" y1="83.2" x2="62.0" y2="90.5" stroke="#8a8a8a" stroke-width="0.6" opacity="0.45"/>
<line x1="52.9" y1="74.4" x2="55.5" y2="81.5" stroke="#8a8a8a" stroke-width="0.6" opacity="0.45"/>
<line x1="48.8" y1="67.6" x2="52.9" y2="78.8" stroke="#8a8a8a" stroke-width="0.6" opacity="0.45"/>
<line x1="63.7" y1="78.8" x2="66.6" y2="87.0" stroke="#8a8a8a" stroke-width="0.6" opacity="0.45"/>
<line x1="43.4" y1="70.1" x2="47.4" y2="81.1" stroke="#8a8a8a" stroke-width="0.6" opacity="0.45"/>
<line x1="66.7" y1="74.5" x2="70.2" y2="84.1" stroke="#8a8a8a" stroke-width="0.6" opacity="0.45"/>
<line x1="72.2" y1="69.1" x2="74.8" y2="76.2" stroke="#8a8a8a" stroke-width="0.6" opacity="0.45"/>
<line x1="51.4" y1="73.3" x2="54.4" y2="81.6" stroke="#8a8a8a" stroke-width="0.6" opacity="0.45"/>
<line x1="47.0" y1="68.7" x2="50.8" y2="79.1" stroke="#8a8a8a" stroke-width="0.6" opacity="0.45"/>
<line x1="52.7" y1="82.0" x2="54.7" y2="87.6" stroke="#8a8a8a" stroke-width="0.6" opacity="0.45"/>
<line x1="48.5" y1="77.4" x2="50.3" y2="82.4" stroke="#8a8a8a" stroke-width="0.6" opacity="0.45"/>
<line x1="52.0" y1="71.2" x2="54.7" y2="78.5" stroke="#8a8a8a" stroke-width="0.6" opacity="0.45"/>
<line x1="47.4" y1="80.4" x2="50.3" y2="88.5" stroke="#8a8a8a" stroke-width="0.6" opacity="0.45"/>
<line x1="45.9" y1="77.5" x2="48.7" y2="85.3" stroke="#8a8a8a" stroke-width="0.6" opacity="0.45"/>
<line x1="44.7" y1="80.2" x2="47.8" y2="88.7" stroke="#8a8a8a" stroke-width="0.6" opacity="0.45"/>
<line x1="37.1" y1="77.0" x2="39.8" y2="84.3" stroke="#8a8a8a" stroke-width="0.6" opacity="0.45"/>
<line x1="39.6" y1="83.1" x2="42.8" y2="91.9" stroke="#8a8a8a" stroke-width="0.6" opacity="0.45"/>
<line x1="73.4" y1="75.8" x2="76.1" y2="83.4" stroke="#8a8a8a" stroke-width="0.6" opacity="0.45"/>
<line x1="42.4" y1="78.7" x2="45.2" y2="86.6" stroke="#8a8a8a" stroke-width="0.6" opacity="0.45"/>
<line x1="43.1" y1="81.1" x2="46.2" y2="89.7" stroke="#8a8a8a" stroke-width="0.6" opacity="0.45"/>
<line x1="39.8" y1="84.0" x2="42.5" y2="91.4" stroke="#8a8a8a" stroke-width="0.6" opacity="0.45"/>
<line x1="71.3" y1="76.1" x2="73.1" y2="81.1" stroke="#8a8a8a" stroke-width="0.6" opacity="0.45"/>
<line x1="56.5" y1="73.6" x2="60.1" y2="83.4" stroke="#8a8a8a" stroke-width="0.6" opacity="0.45"/>
<line x1="55.0" y1="74.2" x2="57.7" y2="81.6" stroke="#8a8a8a" stroke-width="0.6" opacity="0.45"/>
<line x1="54.0" y1="78.7" x2="57.7" y2="88.7" stroke="#8a8a8a" stroke-width="0.6" opacity="0.45"/>
<line x1="51.8" y1="71.9" x2="53.6" y2="76.7" stroke="#8a8a8a" stroke-width="0.6" opacity="0.45"/>
<line x1="58.3" y1="70.6" x2="62.1" y2="80.9" stroke="#8a8a8a" stroke-width="0.6" opacity="0.45"/>
<line x1="52.7" y1="84.7" x2="54.6" y2="89.9" stroke="#8a8a8a" stroke-width="0.6" opacity="0.45"/>
</g>
</g>
<clipPath id="cp5"><rect x="0" y="0" width="75.0" height="87.0"/></clipPath>
<g transform="translate(107.0,105.3)" clip-path="url(#cp5)">
<rect x="0.00" y="0.00" width="75.00" height="87.00" fill="#0e0e0e" stroke="none" stroke-width="1" rx="0" />
<polygon points="0.0,62.0 14.0,60.0 26.0,64.0 36.0,70.0 40.0,88.0 0.0,88.0" fill="#3a3a3a" opacity="1" filter="url(#bl2)"/>
<ellipse cx="18" cy="80" rx="14" ry="8" fill="#7a7a7a" opacity="1" filter="url(#bl3)"/>
<circle cx="33" cy="42" r="26" fill="#4a4a4a" filter="url(#bl2)"/>
<ellipse cx="33" cy="42" rx="11" ry="10" fill="#ffffff" opacity="1" filter="url(#bl2)"/>
<ellipse cx="33" cy="42" rx="8" ry="7" fill="#ffffff" opacity="1"/>
<circle cx="37.3" cy="38.3" r="0.55" fill="#9a9a9a" opacity="0.7"/>
<circle cx="37.6" cy="26.7" r="0.55" fill="#9a9a9a" opacity="0.7"/>
<circle cx="50.1" cy="58.8" r="0.55" fill="#9a9a9a" opacity="0.7"/>
<circle cx="41.6" cy="24.3" r="0.55" fill="#9a9a9a" opacity="0.7"/>
<circle cx="34.6" cy="33.0" r="0.55" fill="#9a9a9a" opacity="0.7"/>
<circle cx="52.6" cy="47.4" r="0.55" fill="#9a9a9a" opacity="0.7"/>
<circle cx="27.2" cy="30.7" r="0.55" fill="#9a9a9a" opacity="0.7"/>
<circle cx="42.8" cy="39.8" r="0.55" fill="#9a9a9a" opacity="0.7"/>
<circle cx="43.4" cy="50.4" r="0.55" fill="#9a9a9a" opacity="0.7"/>
<circle cx="14.0" cy="55.9" r="0.55" fill="#9a9a9a" opacity="0.7"/>
<circle cx="39.5" cy="18.3" r="0.55" fill="#9a9a9a" opacity="0.7"/>
<circle cx="56.9" cy="31.7" r="0.55" fill="#9a9a9a" opacity="0.7"/>
<circle cx="26.4" cy="62.7" r="0.55" fill="#9a9a9a" opacity="0.7"/>
<circle cx="23.7" cy="44.5" r="0.55" fill="#9a9a9a" opacity="0.7"/>
<circle cx="30.1" cy="19.4" r="0.55" fill="#9a9a9a" opacity="0.7"/>
<circle cx="38.0" cy="59.9" r="0.55" fill="#9a9a9a" opacity="0.7"/>
<circle cx="15.3" cy="27.7" r="0.55" fill="#9a9a9a" opacity="0.7"/>
<circle cx="28.9" cy="17.9" r="0.55" fill="#9a9a9a" opacity="0.7"/>
<circle cx="33.3" cy="58.5" r="0.55" fill="#9a9a9a" opacity="0.7"/>
<circle cx="41.9" cy="43.7" r="0.55" fill="#9a9a9a" opacity="0.7"/>
<circle cx="37.1" cy="35.5" r="0.55" fill="#9a9a9a" opacity="0.7"/>
<circle cx="38.9" cy="21.9" r="0.55" fill="#9a9a9a" opacity="0.7"/>
<circle cx="48.1" cy="21.0" r="0.55" fill="#9a9a9a" opacity="0.7"/>
<circle cx="15.8" cy="58.0" r="0.55" fill="#9a9a9a" opacity="0.7"/>
<circle cx="57.2" cy="38.5" r="0.55" fill="#9a9a9a" opacity="0.7"/>
<circle cx="28.9" cy="28.8" r="0.55" fill="#9a9a9a" opacity="0.7"/>
<circle cx="21.6" cy="48.1" r="0.55" fill="#9a9a9a" opacity="0.7"/>
<circle cx="16.5" cy="22.2" r="0.55" fill="#9a9a9a" opacity="0.7"/>
<circle cx="31.2" cy="24.6" r="0.55" fill="#9a9a9a" opacity="0.7"/>
<circle cx="41.4" cy="58.7" r="0.55" fill="#9a9a9a" opacity="0.7"/>
<circle cx="48.2" cy="41.0" r="0.55" fill="#9a9a9a" opacity="0.7"/>
<circle cx="25.4" cy="38.6" r="0.55" fill="#9a9a9a" opacity="0.7"/>
<circle cx="24.6" cy="32.6" r="0.55" fill="#9a9a9a" opacity="0.7"/>
<circle cx="11.2" cy="39.3" r="0.55" fill="#9a9a9a" opacity="0.7"/>
<circle cx="37.9" cy="36.3" r="0.55" fill="#9a9a9a" opacity="0.7"/>
<circle cx="53.1" cy="51.0" r="0.55" fill="#9a9a9a" opacity="0.7"/>
<circle cx="19.8" cy="43.3" r="0.55" fill="#9a9a9a" opacity="0.7"/>
<circle cx="55.3" cy="43.0" r="0.55" fill="#9a9a9a" opacity="0.7"/>
<circle cx="38.9" cy="19.3" r="0.55" fill="#9a9a9a" opacity="0.7"/>
<circle cx="32.9" cy="40.0" r="0.55" fill="#9a9a9a" opacity="0.7"/>
<circle cx="28.3" cy="37.9" r="0.55" fill="#9a9a9a" opacity="0.7"/>
<circle cx="38.0" cy="44.0" r="0.55" fill="#9a9a9a" opacity="0.7"/>
<circle cx="33.0" cy="24.6" r="0.55" fill="#9a9a9a" opacity="0.7"/>
<circle cx="30.4" cy="66.4" r="0.55" fill="#9a9a9a" opacity="0.7"/>
<circle cx="29.0" cy="17.8" r="0.55" fill="#9a9a9a" opacity="0.7"/>
<circle cx="7.2" cy="43.8" r="0.55" fill="#9a9a9a" opacity="0.7"/>
<circle cx="12.8" cy="39.6" r="0.55" fill="#9a9a9a" opacity="0.7"/>
<circle cx="31.3" cy="38.7" r="0.55" fill="#9a9a9a" opacity="0.7"/>
<circle cx="33.6" cy="39.2" r="0.55" fill="#9a9a9a" opacity="0.7"/>
<circle cx="45.5" cy="62.7" r="0.55" fill="#9a9a9a" opacity="0.7"/>
<circle cx="44.0" cy="38.0" r="0.55" fill="#9a9a9a" opacity="0.7"/>
<circle cx="41.4" cy="63.3" r="0.55" fill="#9a9a9a" opacity="0.7"/>
<circle cx="15.1" cy="28.3" r="0.55" fill="#9a9a9a" opacity="0.7"/>
<circle cx="39.8" cy="51.7" r="0.55" fill="#9a9a9a" opacity="0.7"/>
<circle cx="41.1" cy="46.6" r="0.55" fill="#9a9a9a" opacity="0.7"/>
<circle cx="51.0" cy="40.9" r="0.55" fill="#9a9a9a" opacity="0.7"/>
<circle cx="30.1" cy="60.7" r="0.55" fill="#9a9a9a" opacity="0.7"/>
<circle cx="45.1" cy="62.2" r="0.55" fill="#9a9a9a" opacity="0.7"/>
<circle cx="42.5" cy="23.3" r="0.55" fill="#9a9a9a" opacity="0.7"/>
<circle cx="38.5" cy="63.8" r="0.55" fill="#9a9a9a" opacity="0.7"/>
<circle cx="17.2" cy="34.2" r="0.55" fill="#9a9a9a" opacity="0.7"/>
<circle cx="18.0" cy="21.0" r="0.55" fill="#9a9a9a" opacity="0.7"/>
<circle cx="31.6" cy="54.7" r="0.55" fill="#9a9a9a" opacity="0.7"/>
<circle cx="43.8" cy="43.2" r="0.55" fill="#9a9a9a" opacity="0.7"/>
<circle cx="29.4" cy="50.5" r="0.55" fill="#9a9a9a" opacity="0.7"/>
<circle cx="36.4" cy="29.8" r="0.55" fill="#9a9a9a" opacity="0.7"/>
<circle cx="26.3" cy="48.6" r="0.55" fill="#9a9a9a" opacity="0.7"/>
<circle cx="40.2" cy="26.9" r="0.55" fill="#9a9a9a" opacity="0.7"/>
<circle cx="39.3" cy="61.5" r="0.55" fill="#9a9a9a" opacity="0.7"/>
<circle cx="53.2" cy="49.9" r="0.55" fill="#9a9a9a" opacity="0.7"/>
<circle cx="10.7" cy="38.0" r="0.55" fill="#9a9a9a" opacity="0.7"/>
<circle cx="20.5" cy="39.8" r="0.55" fill="#9a9a9a" opacity="0.7"/>
<circle cx="47.2" cy="48.7" r="0.55" fill="#9a9a9a" opacity="0.7"/>
<circle cx="22.0" cy="52.1" r="0.55" fill="#9a9a9a" opacity="0.7"/>
<circle cx="33.8" cy="42.4" r="0.55" fill="#9a9a9a" opacity="0.7"/>
<circle cx="21.0" cy="39.0" r="0.55" fill="#9a9a9a" opacity="0.7"/>
<circle cx="25.1" cy="53.8" r="0.55" fill="#9a9a9a" opacity="0.7"/>
<circle cx="32.6" cy="39.2" r="0.55" fill="#9a9a9a" opacity="0.7"/>
<circle cx="32.3" cy="41.0" r="0.55" fill="#9a9a9a" opacity="0.7"/>
<circle cx="43.6" cy="53.4" r="0.55" fill="#9a9a9a" opacity="0.7"/>
<circle cx="33.9" cy="48.7" r="0.5" fill="#3a3a3a" opacity="0.8"/>
<circle cx="69.3" cy="40.5" r="0.5" fill="#3a3a3a" opacity="0.8"/>
<circle cx="38.1" cy="51.1" r="0.5" fill="#3a3a3a" opacity="0.8"/>
<circle cx="13.8" cy="44.5" r="0.5" fill="#3a3a3a" opacity="0.8"/>
<circle cx="47.2" cy="69.0" r="0.5" fill="#3a3a3a" opacity="0.8"/>
<circle cx="7.1" cy="26.4" r="0.5" fill="#3a3a3a" opacity="0.8"/>
<circle cx="6.8" cy="70.4" r="0.5" fill="#3a3a3a" opacity="0.8"/>
<circle cx="52.0" cy="3.6" r="0.5" fill="#3a3a3a" opacity="0.8"/>
<circle cx="73.7" cy="83.9" r="0.5" fill="#3a3a3a" opacity="0.8"/>
<circle cx="49.0" cy="53.6" r="0.5" fill="#3a3a3a" opacity="0.8"/>
<circle cx="11.8" cy="1.3" r="0.5" fill="#3a3a3a" opacity="0.8"/>
<circle cx="39.6" cy="5.2" r="0.5" fill="#3a3a3a" opacity="0.8"/>
<circle cx="14.3" cy="21.0" r="0.5" fill="#3a3a3a" opacity="0.8"/>
<circle cx="2.3" cy="40.4" r="0.5" fill="#3a3a3a" opacity="0.8"/>
<circle cx="33.0" cy="73.3" r="0.5" fill="#3a3a3a" opacity="0.8"/>
<circle cx="38.9" cy="55.7" r="0.5" fill="#3a3a3a" opacity="0.8"/>
<circle cx="37.5" cy="57.6" r="0.5" fill="#3a3a3a" opacity="0.8"/>
<circle cx="34.3" cy="24.2" r="0.5" fill="#3a3a3a" opacity="0.8"/>
<circle cx="74.8" cy="86.6" r="0.5" fill="#3a3a3a" opacity="0.8"/>
<circle cx="63.0" cy="61.6" r="0.5" fill="#3a3a3a" opacity="0.8"/>
<circle cx="23.6" cy="20.0" r="0.5" fill="#3a3a3a" opacity="0.8"/>
<circle cx="21.7" cy="6.1" r="0.5" fill="#3a3a3a" opacity="0.8"/>
<circle cx="57.5" cy="34.8" r="0.5" fill="#3a3a3a" opacity="0.8"/>
<circle cx="63.5" cy="33.6" r="0.5" fill="#3a3a3a" opacity="0.8"/>
<circle cx="71.9" cy="73.7" r="0.5" fill="#3a3a3a" opacity="0.8"/>
<circle cx="0.0" cy="18.2" r="0.5" fill="#3a3a3a" opacity="0.8"/>
<circle cx="68.3" cy="40.9" r="0.5" fill="#3a3a3a" opacity="0.8"/>
<circle cx="73.5" cy="34.6" r="0.5" fill="#3a3a3a" opacity="0.8"/>
<circle cx="5.5" cy="54.8" r="0.5" fill="#3a3a3a" opacity="0.8"/>
<circle cx="58.4" cy="23.5" r="0.5" fill="#3a3a3a" opacity="0.8"/>
<circle cx="6.5" cy="28.9" r="0.5" fill="#3a3a3a" opacity="0.8"/>
<circle cx="72.3" cy="65.9" r="0.5" fill="#3a3a3a" opacity="0.8"/>
<circle cx="8.8" cy="21.4" r="0.5" fill="#3a3a3a" opacity="0.8"/>
<circle cx="7.6" cy="5.2" r="0.5" fill="#3a3a3a" opacity="0.8"/>
<circle cx="59.8" cy="15.5" r="0.5" fill="#3a3a3a" opacity="0.8"/>
<circle cx="41.9" cy="38.9" r="0.5" fill="#3a3a3a" opacity="0.8"/>
<circle cx="14.3" cy="63.7" r="0.5" fill="#3a3a3a" opacity="0.8"/>
<circle cx="9.8" cy="56.0" r="0.5" fill="#3a3a3a" opacity="0.8"/>
<circle cx="8.7" cy="36.6" r="0.5" fill="#3a3a3a" opacity="0.8"/>
<circle cx="16.0" cy="23.5" r="0.5" fill="#3a3a3a" opacity="0.8"/>
</g>
<clipPath id="cp6"><rect x="0" y="0" width="75.0" height="87.0"/></clipPath>
<g transform="translate(184.3,105.3)" clip-path="url(#cp6)">
<rect x="0.00" y="0.00" width="75.00" height="87.00" fill="#020802" stroke="none" stroke-width="1" rx="0" />
<polygon points="60.1,41.0 61.0,45.1 58.8,49.2 58.4,53.0 55.0,56.6 53.5,59.7 49.2,62.4 46.8,64.6 41.8,66.2 38.9,67.2 33.6,67.5 30.7,67.2 25.4,66.2 22.8,64.6 18.0,62.4 16.1,59.7 12.2,56.6 11.2,53.0 8.4,49.2 8.6,45.1 7.1,41.0 8.6,36.9 8.4,32.8 11.2,29.0 12.2,25.4 16.1,22.3 18.0,19.6 22.8,17.4 25.4,15.8 30.7,14.8 33.6,14.5 38.9,14.8 41.8,15.8 46.8,17.4 49.2,19.6 53.5,22.3 55.0,25.4 58.4,29.0 58.8,32.8 61.0,36.9" fill="#4a561a" opacity="1" stroke="#c02a1a" stroke-width="1.6" filter="url(#bl1)"/>
<line x1="14.8" y1="43.9" x2="11.8" y2="44.4" stroke="#4aa830" stroke-width="0.7" opacity="0.5"/>
<line x1="43.0" y1="36.1" x2="46.9" y2="33.9" stroke="#4aa830" stroke-width="0.7" opacity="0.5"/>
<line x1="27.7" y1="19.9" x2="26.6" y2="16.0" stroke="#4aa830" stroke-width="0.7" opacity="0.5"/>
<line x1="40.7" y1="62.3" x2="41.8" y2="65.7" stroke="#4aa830" stroke-width="0.7" opacity="0.5"/>
<line x1="47.8" y1="59.3" x2="49.6" y2="61.8" stroke="#4aa830" stroke-width="0.7" opacity="0.5"/>
<line x1="32.0" y1="29.9" x2="31.3" y2="26.3" stroke="#4aa830" stroke-width="0.7" opacity="0.5"/>
<line x1="45.0" y1="41.4" x2="47.2" y2="41.4" stroke="#4aa830" stroke-width="0.7" opacity="0.5"/>
<line x1="52.1" y1="46.3" x2="54.5" y2="47.1" stroke="#4aa830" stroke-width="0.7" opacity="0.5"/>
<line x1="41.3" y1="62.0" x2="42.6" y2="65.7" stroke="#4aa830" stroke-width="0.7" opacity="0.5"/>
<line x1="23.5" y1="49.0" x2="20.4" y2="51.3" stroke="#4aa830" stroke-width="0.7" opacity="0.5"/>
<line x1="19.4" y1="36.3" x2="16.7" y2="35.4" stroke="#4aa830" stroke-width="0.7" opacity="0.5"/>
<line x1="22.6" y1="54.0" x2="21.0" y2="55.9" stroke="#4aa830" stroke-width="0.7" opacity="0.5"/>
<line x1="51.0" y1="41.2" x2="53.5" y2="41.2" stroke="#4aa830" stroke-width="0.7" opacity="0.5"/>
<line x1="47.3" y1="45.9" x2="50.8" y2="47.2" stroke="#4aa830" stroke-width="0.7" opacity="0.5"/>
<line x1="39.0" y1="31.8" x2="40.9" y2="28.3" stroke="#4aa830" stroke-width="0.7" opacity="0.5"/>
<line x1="26.5" y1="62.6" x2="25.1" y2="66.6" stroke="#4aa830" stroke-width="0.7" opacity="0.5"/>
<line x1="28.1" y1="59.7" x2="27.1" y2="63.0" stroke="#4aa830" stroke-width="0.7" opacity="0.5"/>
<line x1="36.0" y1="65.4" x2="36.2" y2="69.0" stroke="#4aa830" stroke-width="0.7" opacity="0.5"/>
<line x1="45.6" y1="37.1" x2="48.1" y2="36.3" stroke="#4aa830" stroke-width="0.7" opacity="0.5"/>
<line x1="46.8" y1="34.1" x2="49.3" y2="32.7" stroke="#4aa830" stroke-width="0.7" opacity="0.5"/>
<line x1="30.7" y1="63.2" x2="30.3" y2="65.9" stroke="#4aa830" stroke-width="0.7" opacity="0.5"/>
<line x1="42.1" y1="49.4" x2="45.1" y2="52.4" stroke="#4aa830" stroke-width="0.7" opacity="0.5"/>
<line x1="45.8" y1="45.3" x2="48.4" y2="46.3" stroke="#4aa830" stroke-width="0.7" opacity="0.5"/>
<line x1="13.2" y1="32.5" x2="9.1" y2="30.8" stroke="#4aa830" stroke-width="0.7" opacity="0.5"/>
<line x1="14.2" y1="44.4" x2="11.4" y2="44.9" stroke="#4aa830" stroke-width="0.7" opacity="0.5"/>
<line x1="23.5" y1="40.0" x2="19.6" y2="39.6" stroke="#4aa830" stroke-width="0.7" opacity="0.5"/>
<line x1="14.4" y1="36.6" x2="10.4" y2="35.7" stroke="#4aa830" stroke-width="0.7" opacity="0.5"/>
<line x1="44.9" y1="18.8" x2="46.6" y2="15.4" stroke="#4aa830" stroke-width="0.7" opacity="0.5"/>
<line x1="45.5" y1="50.5" x2="48.3" y2="52.7" stroke="#4aa830" stroke-width="0.7" opacity="0.5"/>
<line x1="45.0" y1="52.4" x2="47.1" y2="54.6" stroke="#4aa830" stroke-width="0.7" opacity="0.5"/>
<line x1="44.6" y1="53.3" x2="47.1" y2="56.1" stroke="#4aa830" stroke-width="0.7" opacity="0.5"/>
<line x1="52.0" y1="32.5" x2="55.2" y2="31.0" stroke="#4aa830" stroke-width="0.7" opacity="0.5"/>
<line x1="45.7" y1="62.8" x2="47.6" y2="66.3" stroke="#4aa830" stroke-width="0.7" opacity="0.5"/>
<line x1="27.9" y1="25.0" x2="26.7" y2="21.8" stroke="#4aa830" stroke-width="0.7" opacity="0.5"/>
<line x1="46.5" y1="48.2" x2="48.3" y2="49.2" stroke="#4aa830" stroke-width="0.7" opacity="0.5"/>
<line x1="49.4" y1="39.9" x2="53.0" y2="39.6" stroke="#4aa830" stroke-width="0.7" opacity="0.5"/>
<line x1="34.4" y1="23.9" x2="34.5" y2="19.5" stroke="#4aa830" stroke-width="0.7" opacity="0.5"/>
<line x1="51.2" y1="38.9" x2="53.3" y2="38.7" stroke="#4aa830" stroke-width="0.7" opacity="0.5"/>
<line x1="37.7" y1="23.7" x2="38.1" y2="21.7" stroke="#4aa830" stroke-width="0.7" opacity="0.5"/>
<line x1="31.2" y1="22.1" x2="30.5" y2="17.7" stroke="#4aa830" stroke-width="0.7" opacity="0.5"/>
<line x1="20.8" y1="31.7" x2="19.0" y2="30.4" stroke="#4aa830" stroke-width="0.7" opacity="0.5"/>
<line x1="45.1" y1="58.9" x2="47.2" y2="62.4" stroke="#4aa830" stroke-width="0.7" opacity="0.5"/>
<line x1="23.1" y1="55.9" x2="21.6" y2="57.9" stroke="#4aa830" stroke-width="0.7" opacity="0.5"/>
<line x1="47.4" y1="41.1" x2="49.7" y2="41.1" stroke="#4aa830" stroke-width="0.7" opacity="0.5"/>
<line x1="38.9" y1="30.8" x2="40.0" y2="28.6" stroke="#4aa830" stroke-width="0.7" opacity="0.5"/>
<line x1="13.1" y1="52.2" x2="10.7" y2="53.5" stroke="#4aa830" stroke-width="0.7" opacity="0.5"/>
<line x1="25.9" y1="60.8" x2="24.7" y2="63.7" stroke="#4aa830" stroke-width="0.7" opacity="0.5"/>
<line x1="49.1" y1="31.8" x2="51.4" y2="30.4" stroke="#4aa830" stroke-width="0.7" opacity="0.5"/>
<line x1="49.2" y1="29.3" x2="51.7" y2="27.4" stroke="#4aa830" stroke-width="0.7" opacity="0.5"/>
<line x1="41.2" y1="27.9" x2="42.4" y2="25.7" stroke="#4aa830" stroke-width="0.7" opacity="0.5"/>
<line x1="37.7" y1="54.4" x2="38.7" y2="58.3" stroke="#4aa830" stroke-width="0.7" opacity="0.5"/>
<line x1="38.8" y1="29.4" x2="39.6" y2="27.5" stroke="#4aa830" stroke-width="0.7" opacity="0.5"/>
<line x1="37.9" y1="50.3" x2="39.3" y2="53.5" stroke="#4aa830" stroke-width="0.7" opacity="0.5"/>
<line x1="24.4" y1="58.0" x2="23.2" y2="60.1" stroke="#4aa830" stroke-width="0.7" opacity="0.5"/>
<line x1="22.1" y1="23.4" x2="20.5" y2="21.1" stroke="#4aa830" stroke-width="0.7" opacity="0.5"/>
<line x1="48.0" y1="38.6" x2="52.4" y2="37.9" stroke="#4aa830" stroke-width="0.7" opacity="0.5"/>
<line x1="57.4" y1="38.3" x2="60.5" y2="38.0" stroke="#4aa830" stroke-width="0.7" opacity="0.5"/>
<line x1="42.8" y1="18.7" x2="43.8" y2="16.0" stroke="#4aa830" stroke-width="0.7" opacity="0.5"/>
<line x1="35.5" y1="25.8" x2="35.8" y2="23.2" stroke="#4aa830" stroke-width="0.7" opacity="0.5"/>
<line x1="50.0" y1="27.9" x2="53.0" y2="25.4" stroke="#4aa830" stroke-width="0.7" opacity="0.5"/>
<line x1="48.6" y1="48.2" x2="50.5" y2="49.1" stroke="#4aa830" stroke-width="0.7" opacity="0.5"/>
<line x1="15.7" y1="39.8" x2="12.7" y2="39.7" stroke="#4aa830" stroke-width="0.7" opacity="0.5"/>
<line x1="17.7" y1="44.8" x2="15.7" y2="45.2" stroke="#4aa830" stroke-width="0.7" opacity="0.5"/>
<line x1="17.8" y1="54.5" x2="15.3" y2="56.6" stroke="#4aa830" stroke-width="0.7" opacity="0.5"/>
<line x1="47.1" y1="41.8" x2="49.6" y2="41.9" stroke="#4aa830" stroke-width="0.7" opacity="0.5"/>
<line x1="49.6" y1="43.4" x2="52.2" y2="43.8" stroke="#4aa830" stroke-width="0.7" opacity="0.5"/>
<line x1="14.3" y1="48.7" x2="10.2" y2="50.3" stroke="#4aa830" stroke-width="0.7" opacity="0.5"/>
<line x1="22.4" y1="37.2" x2="18.4" y2="35.8" stroke="#4aa830" stroke-width="0.7" opacity="0.5"/>
<line x1="53.3" y1="31.1" x2="55.6" y2="29.9" stroke="#4aa830" stroke-width="0.7" opacity="0.5"/>
<line x1="20.5" y1="38.9" x2="16.9" y2="38.3" stroke="#4aa830" stroke-width="0.7" opacity="0.5"/>
<line x1="51.1" y1="29.6" x2="53.8" y2="27.8" stroke="#4aa830" stroke-width="0.7" opacity="0.5"/>
<line x1="30.4" y1="29.0" x2="29.5" y2="26.1" stroke="#4aa830" stroke-width="0.7" opacity="0.5"/>
<line x1="44.2" y1="44.9" x2="46.3" y2="45.6" stroke="#4aa830" stroke-width="0.7" opacity="0.5"/>
<line x1="21.0" y1="46.7" x2="17.4" y2="48.3" stroke="#4aa830" stroke-width="0.7" opacity="0.5"/>
<line x1="41.1" y1="56.9" x2="42.4" y2="60.0" stroke="#4aa830" stroke-width="0.7" opacity="0.5"/>
<line x1="27.4" y1="54.1" x2="26.1" y2="56.7" stroke="#4aa830" stroke-width="0.7" opacity="0.5"/>
<line x1="17.6" y1="24.6" x2="15.3" y2="22.4" stroke="#4aa830" stroke-width="0.7" opacity="0.5"/>
<line x1="45.9" y1="39.7" x2="49.7" y2="39.2" stroke="#4aa830" stroke-width="0.7" opacity="0.5"/>
<line x1="17.3" y1="28.6" x2="15.5" y2="27.3" stroke="#4aa830" stroke-width="0.7" opacity="0.5"/>
<line x1="41.8" y1="47.3" x2="43.7" y2="48.9" stroke="#4aa830" stroke-width="0.7" opacity="0.5"/>
<line x1="12.5" y1="29.6" x2="9.6" y2="28.1" stroke="#4aa830" stroke-width="0.7" opacity="0.5"/>
<line x1="35.2" y1="30.8" x2="35.4" y2="28.8" stroke="#4aa830" stroke-width="0.7" opacity="0.5"/>
<line x1="19.4" y1="56.2" x2="17.8" y2="57.9" stroke="#4aa830" stroke-width="0.7" opacity="0.5"/>
<line x1="23.7" y1="18.7" x2="22.2" y2="15.4" stroke="#4aa830" stroke-width="0.7" opacity="0.5"/>
<line x1="40.0" y1="25.1" x2="41.6" y2="21.1" stroke="#4aa830" stroke-width="0.7" opacity="0.5"/>
<line x1="51.7" y1="25.7" x2="54.0" y2="23.7" stroke="#4aa830" stroke-width="0.7" opacity="0.5"/>
<line x1="22.7" y1="30.2" x2="20.8" y2="28.4" stroke="#4aa830" stroke-width="0.7" opacity="0.5"/>
<line x1="48.6" y1="33.6" x2="50.8" y2="32.5" stroke="#4aa830" stroke-width="0.7" opacity="0.5"/>
<line x1="53.9" y1="50.9" x2="56.6" y2="52.2" stroke="#4aa830" stroke-width="0.7" opacity="0.5"/>
<line x1="51.6" y1="44.5" x2="54.6" y2="45.1" stroke="#4aa830" stroke-width="0.7" opacity="0.5"/>
<line x1="19.2" y1="42.7" x2="16.0" y2="43.0" stroke="#4aa830" stroke-width="0.7" opacity="0.5"/>
<line x1="18.0" y1="41.1" x2="15.6" y2="41.1" stroke="#4aa830" stroke-width="0.7" opacity="0.5"/>
<line x1="51.5" y1="45.9" x2="54.5" y2="46.8" stroke="#4aa830" stroke-width="0.7" opacity="0.5"/>
<line x1="43.6" y1="44.9" x2="46.2" y2="45.9" stroke="#4aa830" stroke-width="0.7" opacity="0.5"/>
<line x1="43.1" y1="50.6" x2="45.3" y2="53.0" stroke="#4aa830" stroke-width="0.7" opacity="0.5"/>
<line x1="27.6" y1="32.2" x2="25.5" y2="29.3" stroke="#4aa830" stroke-width="0.7" opacity="0.5"/>
<line x1="25.3" y1="30.1" x2="23.3" y2="27.6" stroke="#4aa830" stroke-width="0.7" opacity="0.5"/>
<line x1="58.4" y1="37.5" x2="62.1" y2="37.0" stroke="#4aa830" stroke-width="0.7" opacity="0.5"/>
<line x1="19.2" y1="47.7" x2="15.9" y2="49.2" stroke="#4aa830" stroke-width="0.7" opacity="0.5"/>
<line x1="51.0" y1="39.8" x2="54.6" y2="39.6" stroke="#4aa830" stroke-width="0.7" opacity="0.5"/>
<line x1="31.2" y1="52.4" x2="30.6" y2="54.7" stroke="#4aa830" stroke-width="0.7" opacity="0.5"/>
<line x1="35.8" y1="62.2" x2="36.0" y2="64.7" stroke="#4aa830" stroke-width="0.7" opacity="0.5"/>
<line x1="43.1" y1="53.1" x2="45.5" y2="56.3" stroke="#4aa830" stroke-width="0.7" opacity="0.5"/>
<line x1="51.3" y1="36.7" x2="55.6" y2="35.7" stroke="#4aa830" stroke-width="0.7" opacity="0.5"/>
<line x1="29.9" y1="65.6" x2="29.2" y2="70.0" stroke="#4aa830" stroke-width="0.7" opacity="0.5"/>
<line x1="32.8" y1="17.0" x2="32.6" y2="12.9" stroke="#4aa830" stroke-width="0.7" opacity="0.5"/>
<line x1="38.7" y1="31.4" x2="40.0" y2="28.6" stroke="#4aa830" stroke-width="0.7" opacity="0.5"/>
<line x1="54.3" y1="47.9" x2="57.5" y2="49.0" stroke="#4aa830" stroke-width="0.7" opacity="0.5"/>
<line x1="34.1" y1="59.6" x2="34.1" y2="63.5" stroke="#4aa830" stroke-width="0.7" opacity="0.5"/>
<line x1="40.8" y1="20.6" x2="41.8" y2="17.6" stroke="#4aa830" stroke-width="0.7" opacity="0.5"/>
<line x1="38.9" y1="26.7" x2="40.1" y2="23.3" stroke="#4aa830" stroke-width="0.7" opacity="0.5"/>
<line x1="45.4" y1="56.1" x2="47.2" y2="58.5" stroke="#4aa830" stroke-width="0.7" opacity="0.5"/>
<line x1="23.4" y1="45.2" x2="19.7" y2="46.6" stroke="#4aa830" stroke-width="0.7" opacity="0.5"/>
<line x1="49.4" y1="55.3" x2="51.9" y2="57.6" stroke="#4aa830" stroke-width="0.7" opacity="0.5"/>
<line x1="58.3" y1="40.8" x2="62.6" y2="40.8" stroke="#4aa830" stroke-width="0.7" opacity="0.5"/>
<line x1="38.6" y1="31.1" x2="40.2" y2="27.4" stroke="#4aa830" stroke-width="0.7" opacity="0.5"/>
<line x1="45.5" y1="42.3" x2="49.4" y2="42.7" stroke="#4aa830" stroke-width="0.7" opacity="0.5"/>
<line x1="42.0" y1="57.5" x2="43.9" y2="61.4" stroke="#4aa830" stroke-width="0.7" opacity="0.5"/>
<line x1="39.7" y1="50.2" x2="41.1" y2="52.5" stroke="#4aa830" stroke-width="0.7" opacity="0.5"/>
<line x1="46.4" y1="53.0" x2="49.4" y2="55.9" stroke="#4aa830" stroke-width="0.7" opacity="0.5"/>
<line x1="32.1" y1="21.5" x2="31.8" y2="18.2" stroke="#4aa830" stroke-width="0.7" opacity="0.5"/>
<line x1="32.1" y1="20.8" x2="31.8" y2="17.5" stroke="#4aa830" stroke-width="0.7" opacity="0.5"/>
<line x1="21.5" y1="49.3" x2="19.1" y2="50.9" stroke="#4aa830" stroke-width="0.7" opacity="0.5"/>
<line x1="29.5" y1="29.3" x2="28.7" y2="27.4" stroke="#4aa830" stroke-width="0.7" opacity="0.5"/>
<line x1="58.8" y1="40.7" x2="62.4" y2="40.6" stroke="#4aa830" stroke-width="0.7" opacity="0.5"/>
<line x1="40.3" y1="55.4" x2="41.9" y2="59.1" stroke="#4aa830" stroke-width="0.7" opacity="0.5"/>
<line x1="14.6" y1="49.4" x2="11.7" y2="50.6" stroke="#4aa830" stroke-width="0.7" opacity="0.5"/>
<line x1="17.6" y1="34.3" x2="14.8" y2="33.1" stroke="#4aa830" stroke-width="0.7" opacity="0.5"/>
<line x1="24.7" y1="33.2" x2="21.2" y2="30.3" stroke="#4aa830" stroke-width="0.7" opacity="0.5"/>
<line x1="47.7" y1="47.3" x2="50.6" y2="48.6" stroke="#4aa830" stroke-width="0.7" opacity="0.5"/>
<line x1="30.6" y1="52.6" x2="29.8" y2="55.4" stroke="#4aa830" stroke-width="0.7" opacity="0.5"/>
<line x1="27.8" y1="21.6" x2="26.4" y2="17.3" stroke="#4aa830" stroke-width="0.7" opacity="0.5"/>
<line x1="49.8" y1="24.9" x2="52.2" y2="22.5" stroke="#4aa830" stroke-width="0.7" opacity="0.5"/>
<line x1="34.9" y1="56.2" x2="35.1" y2="58.3" stroke="#4aa830" stroke-width="0.7" opacity="0.5"/>
<line x1="45.0" y1="38.6" x2="49.1" y2="37.7" stroke="#4aa830" stroke-width="0.7" opacity="0.5"/>
<line x1="44.6" y1="54.5" x2="46.0" y2="56.3" stroke="#4aa830" stroke-width="0.7" opacity="0.5"/>
<line x1="23.9" y1="58.2" x2="22.2" y2="61.1" stroke="#4aa830" stroke-width="0.7" opacity="0.5"/>
<line x1="23.7" y1="50.7" x2="20.6" y2="53.5" stroke="#4aa830" stroke-width="0.7" opacity="0.5"/>
<line x1="10.0" y1="41.6" x2="6.2" y2="41.7" stroke="#4aa830" stroke-width="0.7" opacity="0.5"/>
<line x1="16.5" y1="58.1" x2="15.0" y2="59.7" stroke="#4aa830" stroke-width="0.7" opacity="0.5"/>
<line x1="46.7" y1="26.2" x2="48.3" y2="24.4" stroke="#4aa830" stroke-width="0.7" opacity="0.5"/>
<line x1="44.4" y1="57.3" x2="45.5" y2="59.1" stroke="#4aa830" stroke-width="0.7" opacity="0.5"/>
<line x1="18.1" y1="40.9" x2="15.0" y2="40.9" stroke="#4aa830" stroke-width="0.7" opacity="0.5"/>
<line x1="17.2" y1="33.1" x2="15.0" y2="32.0" stroke="#4aa830" stroke-width="0.7" opacity="0.5"/>
<line x1="51.4" y1="56.4" x2="53.1" y2="57.9" stroke="#4aa830" stroke-width="0.7" opacity="0.5"/>
<line x1="24.6" y1="25.4" x2="22.7" y2="22.2" stroke="#4aa830" stroke-width="0.7" opacity="0.5"/>
<line x1="14.6" y1="48.0" x2="11.7" y2="49.1" stroke="#4aa830" stroke-width="0.7" opacity="0.5"/>
<line x1="24.9" y1="50.2" x2="22.0" y2="53.2" stroke="#4aa830" stroke-width="0.7" opacity="0.5"/>
<line x1="19.1" y1="39.7" x2="15.0" y2="39.3" stroke="#4aa830" stroke-width="0.7" opacity="0.5"/>
<line x1="20.0" y1="34.7" x2="16.4" y2="33.1" stroke="#4aa830" stroke-width="0.7" opacity="0.5"/>
<line x1="41.8" y1="56.1" x2="42.7" y2="58.0" stroke="#4aa830" stroke-width="0.7" opacity="0.5"/>
<line x1="31.4" y1="57.1" x2="30.8" y2="61.1" stroke="#4aa830" stroke-width="0.7" opacity="0.5"/>
<line x1="41.4" y1="48.7" x2="44.4" y2="51.8" stroke="#4aa830" stroke-width="0.7" opacity="0.5"/>
<line x1="45.2" y1="19.6" x2="46.6" y2="16.8" stroke="#4aa830" stroke-width="0.7" opacity="0.5"/>
<line x1="44.5" y1="52.9" x2="47.1" y2="55.9" stroke="#4aa830" stroke-width="0.7" opacity="0.5"/>
<line x1="58.2" y1="35.8" x2="62.0" y2="35.0" stroke="#4aa830" stroke-width="0.7" opacity="0.5"/>
<line x1="27.5" y1="28.6" x2="25.6" y2="24.8" stroke="#4aa830" stroke-width="0.7" opacity="0.5"/>
<line x1="17.3" y1="50.6" x2="13.6" y2="52.7" stroke="#4aa830" stroke-width="0.7" opacity="0.5"/>
<line x1="48.3" y1="34.9" x2="51.8" y2="33.3" stroke="#4aa830" stroke-width="0.7" opacity="0.5"/>
<line x1="22.8" y1="40.2" x2="20.1" y2="40.0" stroke="#4aa830" stroke-width="0.7" opacity="0.5"/>
<line x1="28.4" y1="26.0" x2="26.9" y2="21.9" stroke="#4aa830" stroke-width="0.7" opacity="0.5"/>
<line x1="48.8" y1="29.8" x2="51.9" y2="27.4" stroke="#4aa830" stroke-width="0.7" opacity="0.5"/>
<line x1="51.3" y1="44.1" x2="55.1" y2="44.8" stroke="#4aa830" stroke-width="0.7" opacity="0.5"/>
<line x1="43.5" y1="53.5" x2="45.2" y2="55.8" stroke="#4aa830" stroke-width="0.7" opacity="0.5"/>
<line x1="25.9" y1="47.5" x2="22.9" y2="50.0" stroke="#4aa830" stroke-width="0.7" opacity="0.5"/>
<line x1="14.9" y1="26.1" x2="11.6" y2="23.5" stroke="#4aa830" stroke-width="0.7" opacity="0.5"/>
<line x1="43.4" y1="62.0" x2="44.8" y2="65.1" stroke="#4aa830" stroke-width="0.7" opacity="0.5"/>
<line x1="35.5" y1="60.2" x2="35.8" y2="63.2" stroke="#4aa830" stroke-width="0.7" opacity="0.5"/>
<line x1="13.7" y1="37.4" x2="10.7" y2="36.9" stroke="#4aa830" stroke-width="0.7" opacity="0.5"/>
<line x1="36.8" y1="60.0" x2="37.3" y2="63.2" stroke="#4aa830" stroke-width="0.7" opacity="0.5"/>
<line x1="51.3" y1="55.6" x2="53.1" y2="57.1" stroke="#4aa830" stroke-width="0.7" opacity="0.5"/>
<line x1="46.4" y1="52.5" x2="49.0" y2="55.0" stroke="#4aa830" stroke-width="0.7" opacity="0.5"/>
<line x1="52.8" y1="49.7" x2="56.5" y2="51.4" stroke="#4aa830" stroke-width="0.7" opacity="0.5"/>
<line x1="19.8" y1="32.0" x2="17.9" y2="30.8" stroke="#4aa830" stroke-width="0.7" opacity="0.5"/>
<line x1="47.9" y1="41.4" x2="51.2" y2="41.6" stroke="#4aa830" stroke-width="0.7" opacity="0.5"/>
<line x1="15.8" y1="37.7" x2="13.1" y2="37.2" stroke="#4aa830" stroke-width="0.7" opacity="0.5"/>
<line x1="51.0" y1="44.3" x2="54.6" y2="45.0" stroke="#4aa830" stroke-width="0.7" opacity="0.5"/>
<line x1="53.3" y1="52.4" x2="56.7" y2="54.5" stroke="#4aa830" stroke-width="0.7" opacity="0.5"/>
<line x1="20.0" y1="25.6" x2="17.4" y2="22.9" stroke="#4aa830" stroke-width="0.7" opacity="0.5"/>
<line x1="21.9" y1="28.5" x2="19.2" y2="25.7" stroke="#4aa830" stroke-width="0.7" opacity="0.5"/>
<line x1="24.6" y1="23.3" x2="23.6" y2="21.3" stroke="#4aa830" stroke-width="0.7" opacity="0.5"/>
<line x1="50.9" y1="54.5" x2="53.4" y2="56.5" stroke="#4aa830" stroke-width="0.7" opacity="0.5"/>
<line x1="39.0" y1="29.4" x2="40.5" y2="26.1" stroke="#4aa830" stroke-width="0.7" opacity="0.5"/>
<line x1="18.3" y1="44.8" x2="14.9" y2="45.6" stroke="#4aa830" stroke-width="0.7" opacity="0.5"/>
<line x1="17.9" y1="30.3" x2="15.4" y2="28.5" stroke="#4aa830" stroke-width="0.7" opacity="0.5"/>
<line x1="22.4" y1="58.7" x2="20.4" y2="61.8" stroke="#4aa830" stroke-width="0.7" opacity="0.5"/>
<line x1="24.7" y1="48.0" x2="22.5" y2="49.7" stroke="#4aa830" stroke-width="0.7" opacity="0.5"/>
<line x1="44.1" y1="48.7" x2="47.6" y2="51.3" stroke="#4aa830" stroke-width="0.7" opacity="0.5"/>
<line x1="49.3" y1="22.4" x2="52.1" y2="18.9" stroke="#4aa830" stroke-width="0.7" opacity="0.5"/>
<line x1="21.6" y1="44.2" x2="19.4" y2="44.7" stroke="#4aa830" stroke-width="0.7" opacity="0.5"/>
<line x1="43.4" y1="59.5" x2="44.9" y2="62.6" stroke="#4aa830" stroke-width="0.7" opacity="0.5"/>
<line x1="16.0" y1="40.1" x2="12.7" y2="40.0" stroke="#4aa830" stroke-width="0.7" opacity="0.5"/>
<line x1="39.0" y1="53.6" x2="39.9" y2="55.8" stroke="#4aa830" stroke-width="0.7" opacity="0.5"/>
<line x1="18.9" y1="21.3" x2="17.4" y2="19.3" stroke="#4aa830" stroke-width="0.7" opacity="0.5"/>
<line x1="19.6" y1="43.5" x2="17.3" y2="43.9" stroke="#4aa830" stroke-width="0.7" opacity="0.5"/>
<line x1="46.6" y1="62.1" x2="48.0" y2="64.5" stroke="#4aa830" stroke-width="0.7" opacity="0.5"/>
<line x1="31.3" y1="57.7" x2="30.8" y2="60.7" stroke="#4aa830" stroke-width="0.7" opacity="0.5"/>
<line x1="22.3" y1="44.5" x2="18.9" y2="45.5" stroke="#4aa830" stroke-width="0.7" opacity="0.5"/>
<line x1="37.7" y1="24.5" x2="38.6" y2="20.3" stroke="#4aa830" stroke-width="0.7" opacity="0.5"/>
<line x1="42.1" y1="57.9" x2="43.9" y2="61.7" stroke="#4aa830" stroke-width="0.7" opacity="0.5"/>
<line x1="14.5" y1="51.5" x2="12.0" y2="52.8" stroke="#4aa830" stroke-width="0.7" opacity="0.5"/>
<line x1="43.3" y1="45.3" x2="46.9" y2="47.0" stroke="#4aa830" stroke-width="0.7" opacity="0.5"/>
<line x1="41.2" y1="53.1" x2="43.2" y2="56.4" stroke="#4aa830" stroke-width="0.7" opacity="0.5"/>
<line x1="44.3" y1="36.3" x2="47.5" y2="34.8" stroke="#4aa830" stroke-width="0.7" opacity="0.5"/>
<line x1="31.8" y1="30.5" x2="31.4" y2="28.2" stroke="#4aa830" stroke-width="0.7" opacity="0.5"/>
<line x1="20.8" y1="21.6" x2="19.0" y2="19.1" stroke="#4aa830" stroke-width="0.7" opacity="0.5"/>
<line x1="43.7" y1="36.7" x2="47.2" y2="35.2" stroke="#4aa830" stroke-width="0.7" opacity="0.5"/>
<line x1="39.1" y1="63.1" x2="39.9" y2="66.4" stroke="#4aa830" stroke-width="0.7" opacity="0.5"/>
<line x1="50.4" y1="42.7" x2="53.7" y2="43.1" stroke="#4aa830" stroke-width="0.7" opacity="0.5"/>
<line x1="44.5" y1="35.8" x2="48.3" y2="33.9" stroke="#4aa830" stroke-width="0.7" opacity="0.5"/>
<line x1="36.9" y1="24.0" x2="37.2" y2="21.7" stroke="#4aa830" stroke-width="0.7" opacity="0.5"/>
<line x1="36.7" y1="17.8" x2="37.1" y2="14.7" stroke="#4aa830" stroke-width="0.7" opacity="0.5"/>
<line x1="38.7" y1="28.3" x2="39.8" y2="25.2" stroke="#4aa830" stroke-width="0.7" opacity="0.5"/>
<line x1="53.3" y1="35.6" x2="56.4" y2="34.8" stroke="#4aa830" stroke-width="0.7" opacity="0.5"/>
<line x1="16.3" y1="57.4" x2="14.5" y2="59.1" stroke="#4aa830" stroke-width="0.7" opacity="0.5"/>
<line x1="13.4" y1="34.3" x2="11.3" y2="33.6" stroke="#4aa830" stroke-width="0.7" opacity="0.5"/>
<line x1="46.6" y1="52.2" x2="48.2" y2="53.6" stroke="#4aa830" stroke-width="0.7" opacity="0.5"/>
<line x1="41.1" y1="55.7" x2="42.9" y2="59.5" stroke="#4aa830" stroke-width="0.7" opacity="0.5"/>
<line x1="12.3" y1="34.1" x2="8.6" y2="32.9" stroke="#4aa830" stroke-width="0.7" opacity="0.5"/>
<line x1="13.6" y1="33.6" x2="9.3" y2="32.1" stroke="#4aa830" stroke-width="0.7" opacity="0.5"/>
<line x1="19.0" y1="49.9" x2="15.5" y2="52.0" stroke="#c83a20" stroke-width="0.7" opacity="0.45"/>
<line x1="14.9" y1="48.0" x2="11.7" y2="49.2" stroke="#c83a20" stroke-width="0.7" opacity="0.45"/>
<line x1="22.5" y1="59.4" x2="20.3" y2="63.0" stroke="#c83a20" stroke-width="0.7" opacity="0.45"/>
<line x1="52.6" y1="50.1" x2="55.0" y2="51.2" stroke="#c83a20" stroke-width="0.7" opacity="0.45"/>
<line x1="22.0" y1="23.2" x2="20.8" y2="21.4" stroke="#c83a20" stroke-width="0.7" opacity="0.45"/>
<line x1="49.4" y1="54.2" x2="52.6" y2="56.9" stroke="#c83a20" stroke-width="0.7" opacity="0.45"/>
<line x1="41.0" y1="18.2" x2="41.7" y2="15.9" stroke="#c83a20" stroke-width="0.7" opacity="0.45"/>
<line x1="21.6" y1="57.9" x2="19.9" y2="60.2" stroke="#c83a20" stroke-width="0.7" opacity="0.45"/>
<line x1="37.0" y1="65.9" x2="37.5" y2="69.4" stroke="#c83a20" stroke-width="0.7" opacity="0.45"/>
<line x1="18.2" y1="52.8" x2="15.2" y2="55.0" stroke="#c83a20" stroke-width="0.7" opacity="0.45"/>
<line x1="35.4" y1="17.7" x2="35.5" y2="14.9" stroke="#c83a20" stroke-width="0.7" opacity="0.45"/>
<line x1="56.7" y1="36.3" x2="59.3" y2="35.8" stroke="#c83a20" stroke-width="0.7" opacity="0.45"/>
<line x1="43.0" y1="57.9" x2="44.3" y2="60.2" stroke="#c83a20" stroke-width="0.7" opacity="0.45"/>
<line x1="44.1" y1="31.2" x2="47.0" y2="28.4" stroke="#c83a20" stroke-width="0.7" opacity="0.45"/>
<line x1="46.5" y1="61.2" x2="48.1" y2="63.8" stroke="#c83a20" stroke-width="0.7" opacity="0.45"/>
<line x1="51.5" y1="60.0" x2="53.5" y2="62.3" stroke="#c83a20" stroke-width="0.7" opacity="0.45"/>
<line x1="51.7" y1="38.6" x2="54.3" y2="38.2" stroke="#c83a20" stroke-width="0.7" opacity="0.45"/>
<line x1="18.6" y1="35.4" x2="15.4" y2="34.3" stroke="#c83a20" stroke-width="0.7" opacity="0.45"/>
<line x1="28.2" y1="20.1" x2="27.7" y2="18.1" stroke="#c83a20" stroke-width="0.7" opacity="0.45"/>
<line x1="25.5" y1="26.0" x2="24.0" y2="23.3" stroke="#c83a20" stroke-width="0.7" opacity="0.45"/>
<line x1="49.3" y1="22.0" x2="50.8" y2="20.2" stroke="#c83a20" stroke-width="0.7" opacity="0.45"/>
<line x1="53.3" y1="53.5" x2="55.9" y2="55.2" stroke="#c83a20" stroke-width="0.7" opacity="0.45"/>
<line x1="28.3" y1="20.0" x2="27.1" y2="15.7" stroke="#c83a20" stroke-width="0.7" opacity="0.45"/>
<line x1="50.6" y1="21.0" x2="53.3" y2="17.8" stroke="#c83a20" stroke-width="0.7" opacity="0.45"/>
<line x1="16.9" y1="33.1" x2="14.7" y2="32.1" stroke="#c83a20" stroke-width="0.7" opacity="0.45"/>
<line x1="44.6" y1="24.2" x2="46.4" y2="21.5" stroke="#c83a20" stroke-width="0.7" opacity="0.45"/>
<line x1="29.2" y1="58.3" x2="28.3" y2="61.4" stroke="#c83a20" stroke-width="0.7" opacity="0.45"/>
<line x1="23.0" y1="27.1" x2="21.5" y2="25.3" stroke="#c83a20" stroke-width="0.7" opacity="0.45"/>
<line x1="13.1" y1="26.7" x2="10.2" y2="24.8" stroke="#c83a20" stroke-width="0.7" opacity="0.45"/>
<line x1="50.0" y1="38.8" x2="54.0" y2="38.3" stroke="#c83a20" stroke-width="0.7" opacity="0.45"/>
<line x1="20.0" y1="37.6" x2="17.7" y2="37.0" stroke="#c83a20" stroke-width="0.7" opacity="0.45"/>
<line x1="29.6" y1="17.6" x2="29.2" y2="15.3" stroke="#c83a20" stroke-width="0.7" opacity="0.45"/>
<line x1="24.0" y1="18.5" x2="22.9" y2="16.1" stroke="#c83a20" stroke-width="0.7" opacity="0.45"/>
<line x1="41.5" y1="27.0" x2="42.7" y2="25.0" stroke="#c83a20" stroke-width="0.7" opacity="0.45"/>
<line x1="41.1" y1="17.4" x2="42.2" y2="13.8" stroke="#c83a20" stroke-width="0.7" opacity="0.45"/>
<line x1="12.1" y1="40.8" x2="8.7" y2="40.7" stroke="#c83a20" stroke-width="0.7" opacity="0.45"/>
<line x1="14.3" y1="25.4" x2="11.8" y2="23.4" stroke="#c83a20" stroke-width="0.7" opacity="0.45"/>
<line x1="31.8" y1="57.5" x2="31.4" y2="60.8" stroke="#c83a20" stroke-width="0.7" opacity="0.45"/>
<line x1="35.3" y1="22.4" x2="35.4" y2="19.8" stroke="#c83a20" stroke-width="0.7" opacity="0.45"/>
<line x1="46.0" y1="60.2" x2="47.1" y2="61.9" stroke="#c83a20" stroke-width="0.7" opacity="0.45"/>
<line x1="23.9" y1="53.3" x2="21.5" y2="56.3" stroke="#c83a20" stroke-width="0.7" opacity="0.45"/>
<line x1="32.4" y1="18.8" x2="32.2" y2="16.6" stroke="#c83a20" stroke-width="0.7" opacity="0.45"/>
<line x1="32.2" y1="58.2" x2="31.7" y2="62.5" stroke="#c83a20" stroke-width="0.7" opacity="0.45"/>
<line x1="55.6" y1="32.1" x2="58.8" y2="30.8" stroke="#c83a20" stroke-width="0.7" opacity="0.45"/>
<line x1="15.6" y1="51.3" x2="12.7" y2="53.0" stroke="#c83a20" stroke-width="0.7" opacity="0.45"/>
<line x1="22.4" y1="52.7" x2="20.9" y2="54.3" stroke="#c83a20" stroke-width="0.7" opacity="0.45"/>
<line x1="32.9" y1="56.9" x2="32.7" y2="60.7" stroke="#c83a20" stroke-width="0.7" opacity="0.45"/>
<line x1="39.7" y1="26.1" x2="41.2" y2="22.2" stroke="#c83a20" stroke-width="0.7" opacity="0.45"/>
<line x1="35.9" y1="22.7" x2="36.3" y2="18.9" stroke="#c83a20" stroke-width="0.7" opacity="0.45"/>
<line x1="12.2" y1="42.6" x2="8.3" y2="42.9" stroke="#c83a20" stroke-width="0.7" opacity="0.45"/>
<line x1="52.5" y1="31.3" x2="54.8" y2="30.1" stroke="#c83a20" stroke-width="0.7" opacity="0.45"/>
<line x1="20.8" y1="23.5" x2="18.8" y2="20.9" stroke="#c83a20" stroke-width="0.7" opacity="0.45"/>
<line x1="17.0" y1="60.6" x2="14.1" y2="63.9" stroke="#c83a20" stroke-width="0.7" opacity="0.45"/>
<line x1="35.6" y1="21.2" x2="35.9" y2="17.5" stroke="#c83a20" stroke-width="0.7" opacity="0.45"/>
<line x1="40.2" y1="54.2" x2="41.4" y2="56.6" stroke="#c83a20" stroke-width="0.7" opacity="0.45"/>
<line x1="14.7" y1="24.2" x2="11.7" y2="21.7" stroke="#c83a20" stroke-width="0.7" opacity="0.45"/>
<line x1="24.7" y1="29.1" x2="22.2" y2="25.9" stroke="#c83a20" stroke-width="0.7" opacity="0.45"/>
<line x1="49.6" y1="46.2" x2="52.8" y2="47.3" stroke="#c83a20" stroke-width="0.7" opacity="0.45"/>
<line x1="38.0" y1="26.9" x2="39.1" y2="23.1" stroke="#c83a20" stroke-width="0.7" opacity="0.45"/>
<line x1="20.5" y1="23.8" x2="18.4" y2="21.1" stroke="#c83a20" stroke-width="0.7" opacity="0.45"/>
<line x1="57.7" y1="36.4" x2="59.7" y2="36.0" stroke="#c83a20" stroke-width="0.7" opacity="0.45"/>
<line x1="52.7" y1="29.7" x2="56.5" y2="27.5" stroke="#c83a20" stroke-width="0.7" opacity="0.45"/>
<line x1="51.9" y1="35.0" x2="54.2" y2="34.2" stroke="#c83a20" stroke-width="0.7" opacity="0.45"/>
<line x1="48.0" y1="38.3" x2="50.4" y2="37.8" stroke="#c83a20" stroke-width="0.7" opacity="0.45"/>
<line x1="39.7" y1="64.0" x2="40.3" y2="66.4" stroke="#c83a20" stroke-width="0.7" opacity="0.45"/>
<line x1="21.6" y1="29.7" x2="19.0" y2="27.3" stroke="#c83a20" stroke-width="0.7" opacity="0.45"/>
<line x1="13.2" y1="52.5" x2="10.1" y2="54.2" stroke="#c83a20" stroke-width="0.7" opacity="0.45"/>
<line x1="49.0" y1="38.4" x2="51.2" y2="38.1" stroke="#c83a20" stroke-width="0.7" opacity="0.45"/>
<line x1="13.4" y1="28.9" x2="9.7" y2="26.7" stroke="#c83a20" stroke-width="0.7" opacity="0.45"/>
<line x1="53.1" y1="58.1" x2="55.4" y2="60.1" stroke="#c83a20" stroke-width="0.7" opacity="0.45"/>
<line x1="46.4" y1="34.0" x2="49.0" y2="32.5" stroke="#c83a20" stroke-width="0.7" opacity="0.45"/>
<line x1="12.7" y1="32.5" x2="8.9" y2="31.0" stroke="#c83a20" stroke-width="0.7" opacity="0.45"/>
<line x1="48.7" y1="55.5" x2="50.4" y2="57.2" stroke="#c83a20" stroke-width="0.7" opacity="0.45"/>
<line x1="29.6" y1="26.7" x2="28.4" y2="22.7" stroke="#c83a20" stroke-width="0.7" opacity="0.45"/>
<line x1="14.9" y1="49.0" x2="11.6" y2="50.4" stroke="#c83a20" stroke-width="0.7" opacity="0.45"/>
<line x1="55.8" y1="52.9" x2="58.8" y2="54.6" stroke="#c83a20" stroke-width="0.7" opacity="0.45"/>
<line x1="11.2" y1="42.5" x2="8.2" y2="42.7" stroke="#c83a20" stroke-width="0.7" opacity="0.45"/>
<line x1="47.4" y1="36.0" x2="49.4" y2="35.2" stroke="#c83a20" stroke-width="0.7" opacity="0.45"/>
<line x1="18.1" y1="24.6" x2="15.5" y2="21.9" stroke="#c83a20" stroke-width="0.7" opacity="0.45"/>
<line x1="49.0" y1="47.6" x2="51.4" y2="48.6" stroke="#c83a20" stroke-width="0.7" opacity="0.45"/>
<line x1="48.7" y1="25.5" x2="50.6" y2="23.6" stroke="#c83a20" stroke-width="0.7" opacity="0.45"/>
<line x1="32.6" y1="63.0" x2="32.5" y2="65.9" stroke="#c83a20" stroke-width="0.7" opacity="0.45"/>
<line x1="31.3" y1="63.2" x2="31.0" y2="65.6" stroke="#c83a20" stroke-width="0.7" opacity="0.45"/>
<line x1="25.4" y1="54.6" x2="23.9" y2="56.9" stroke="#c83a20" stroke-width="0.7" opacity="0.45"/>
<line x1="30.6" y1="26.0" x2="30.0" y2="23.2" stroke="#c83a20" stroke-width="0.7" opacity="0.45"/>
<line x1="18.0" y1="52.0" x2="15.5" y2="53.7" stroke="#c83a20" stroke-width="0.7" opacity="0.45"/>
<line x1="27.1" y1="57.7" x2="25.4" y2="61.6" stroke="#c83a20" stroke-width="0.7" opacity="0.45"/>
<line x1="18.6" y1="51.2" x2="16.3" y2="52.7" stroke="#c83a20" stroke-width="0.7" opacity="0.45"/>
<line x1="20.1" y1="24.4" x2="17.2" y2="21.1" stroke="#c83a20" stroke-width="0.7" opacity="0.45"/>
<line x1="52.7" y1="30.9" x2="56.2" y2="29.1" stroke="#c83a20" stroke-width="0.7" opacity="0.45"/>
<line x1="53.7" y1="44.7" x2="57.1" y2="45.4" stroke="#c83a20" stroke-width="0.7" opacity="0.45"/>
<line x1="27.0" y1="65.2" x2="26.0" y2="68.6" stroke="#c83a20" stroke-width="0.7" opacity="0.45"/>
<line x1="51.2" y1="53.4" x2="53.3" y2="54.9" stroke="#c83a20" stroke-width="0.7" opacity="0.45"/>
<line x1="34.3" y1="56.3" x2="34.3" y2="59.7" stroke="#c83a20" stroke-width="0.7" opacity="0.45"/>
<line x1="47.8" y1="53.4" x2="50.7" y2="56.0" stroke="#c83a20" stroke-width="0.7" opacity="0.45"/>
<line x1="41.2" y1="25.8" x2="42.6" y2="22.8" stroke="#c83a20" stroke-width="0.7" opacity="0.45"/>
<line x1="33.9" y1="26.5" x2="33.8" y2="23.3" stroke="#c83a20" stroke-width="0.7" opacity="0.45"/>
<line x1="17.7" y1="25.1" x2="15.1" y2="22.6" stroke="#c83a20" stroke-width="0.7" opacity="0.45"/>
<line x1="15.4" y1="47.5" x2="12.2" y2="48.6" stroke="#c83a20" stroke-width="0.7" opacity="0.45"/>
<line x1="19.7" y1="45.0" x2="16.6" y2="45.9" stroke="#c83a20" stroke-width="0.7" opacity="0.45"/>
<line x1="13.1" y1="39.1" x2="9.4" y2="38.8" stroke="#c83a20" stroke-width="0.7" opacity="0.45"/>
<line x1="51.8" y1="48.8" x2="54.3" y2="50.0" stroke="#c83a20" stroke-width="0.7" opacity="0.45"/>
<line x1="11.5" y1="42.3" x2="8.0" y2="42.5" stroke="#c83a20" stroke-width="0.7" opacity="0.45"/>
<line x1="41.3" y1="62.7" x2="42.7" y2="66.9" stroke="#c83a20" stroke-width="0.7" opacity="0.45"/>
<line x1="17.2" y1="46.5" x2="13.3" y2="47.8" stroke="#c83a20" stroke-width="0.7" opacity="0.45"/>
<line x1="14.8" y1="47.9" x2="12.2" y2="48.9" stroke="#c83a20" stroke-width="0.7" opacity="0.45"/>
<line x1="22.2" y1="28.7" x2="20.4" y2="26.8" stroke="#c83a20" stroke-width="0.7" opacity="0.45"/>
<line x1="48.4" y1="28.2" x2="51.4" y2="25.5" stroke="#c83a20" stroke-width="0.7" opacity="0.45"/>
<line x1="46.2" y1="55.3" x2="48.1" y2="57.5" stroke="#c83a20" stroke-width="0.7" opacity="0.45"/>
<line x1="29.9" y1="59.8" x2="29.1" y2="63.5" stroke="#c83a20" stroke-width="0.7" opacity="0.45"/>
<line x1="44.8" y1="26.1" x2="47.2" y2="22.7" stroke="#c83a20" stroke-width="0.7" opacity="0.45"/>
<line x1="53.8" y1="28.0" x2="57.1" y2="25.8" stroke="#c83a20" stroke-width="0.7" opacity="0.45"/>
<line x1="17.1" y1="58.0" x2="15.6" y2="59.4" stroke="#c83a20" stroke-width="0.7" opacity="0.45"/>
<line x1="20.7" y1="25.3" x2="19.2" y2="23.5" stroke="#c83a20" stroke-width="0.7" opacity="0.45"/>
<line x1="22.0" y1="49.1" x2="20.2" y2="50.4" stroke="#c83a20" stroke-width="0.7" opacity="0.45"/>
<line x1="41.6" y1="54.4" x2="43.6" y2="58.0" stroke="#c83a20" stroke-width="0.7" opacity="0.45"/>
<line x1="32.2" y1="64.6" x2="31.9" y2="67.7" stroke="#c83a20" stroke-width="0.7" opacity="0.45"/>
<line x1="22.1" y1="20.3" x2="21.0" y2="18.4" stroke="#c83a20" stroke-width="0.7" opacity="0.45"/>
<line x1="51.6" y1="46.9" x2="54.8" y2="47.9" stroke="#c83a20" stroke-width="0.7" opacity="0.45"/>
<line x1="28.8" y1="27.1" x2="27.4" y2="23.2" stroke="#c83a20" stroke-width="0.7" opacity="0.45"/>
<line x1="52.4" y1="51.6" x2="54.2" y2="52.6" stroke="#c83a20" stroke-width="0.7" opacity="0.45"/>
<line x1="27.4" y1="16.3" x2="26.8" y2="13.8" stroke="#c83a20" stroke-width="0.7" opacity="0.45"/>
<line x1="10.7" y1="36.3" x2="8.6" y2="35.9" stroke="#c83a20" stroke-width="0.7" opacity="0.45"/>
<line x1="42.4" y1="55.8" x2="43.8" y2="58.3" stroke="#c83a20" stroke-width="0.7" opacity="0.45"/>
<line x1="13.9" y1="40.2" x2="11.3" y2="40.1" stroke="#c83a20" stroke-width="0.7" opacity="0.45"/>
<line x1="21.1" y1="50.7" x2="18.2" y2="52.8" stroke="#c83a20" stroke-width="0.7" opacity="0.45"/>
<line x1="43.7" y1="22.5" x2="44.7" y2="20.6" stroke="#c83a20" stroke-width="0.7" opacity="0.45"/>
<line x1="53.8" y1="44.4" x2="56.2" y2="44.9" stroke="#c83a20" stroke-width="0.7" opacity="0.45"/>
<line x1="40.1" y1="57.4" x2="41.2" y2="60.2" stroke="#c83a20" stroke-width="0.7" opacity="0.45"/>
<line x1="17.7" y1="45.3" x2="14.7" y2="46.1" stroke="#c83a20" stroke-width="0.7" opacity="0.45"/>
<line x1="22.3" y1="61.7" x2="21.0" y2="64.0" stroke="#c83a20" stroke-width="0.7" opacity="0.45"/>
<line x1="52.7" y1="56.9" x2="54.3" y2="58.2" stroke="#c83a20" stroke-width="0.7" opacity="0.45"/>
<line x1="57.1" y1="50.5" x2="59.1" y2="51.4" stroke="#c83a20" stroke-width="0.7" opacity="0.45"/>
<line x1="49.4" y1="38.5" x2="52.2" y2="38.0" stroke="#c83a20" stroke-width="0.7" opacity="0.45"/>
<line x1="17.4" y1="26.2" x2="14.6" y2="23.7" stroke="#c83a20" stroke-width="0.7" opacity="0.45"/>
<line x1="18.5" y1="30.9" x2="16.0" y2="29.2" stroke="#c83a20" stroke-width="0.7" opacity="0.45"/>
<line x1="10.0" y1="38.0" x2="7.7" y2="37.7" stroke="#c83a20" stroke-width="0.7" opacity="0.45"/>
<line x1="13.5" y1="26.9" x2="10.6" y2="24.8" stroke="#c83a20" stroke-width="0.7" opacity="0.45"/>
<line x1="17.1" y1="32.8" x2="13.8" y2="31.2" stroke="#c83a20" stroke-width="0.7" opacity="0.45"/>
<line x1="54.8" y1="38.5" x2="58.4" y2="38.1" stroke="#c83a20" stroke-width="0.7" opacity="0.45"/>
<line x1="43.6" y1="52.8" x2="46.4" y2="56.2" stroke="#c83a20" stroke-width="0.7" opacity="0.45"/>
<line x1="45.0" y1="58.5" x2="46.7" y2="61.3" stroke="#c83a20" stroke-width="0.7" opacity="0.45"/>
<line x1="53.0" y1="32.4" x2="55.3" y2="31.4" stroke="#c83a20" stroke-width="0.7" opacity="0.45"/>
<line x1="43.2" y1="57.5" x2="45.1" y2="60.9" stroke="#c83a20" stroke-width="0.7" opacity="0.45"/>
<line x1="38.5" y1="15.8" x2="38.9" y2="13.6" stroke="#c83a20" stroke-width="0.7" opacity="0.45"/>
<line x1="33.8" y1="24.5" x2="33.8" y2="22.1" stroke="#c83a20" stroke-width="0.7" opacity="0.45"/>
<line x1="28.9" y1="56.6" x2="27.6" y2="60.6" stroke="#c83a20" stroke-width="0.7" opacity="0.45"/>
<line x1="15.8" y1="43.6" x2="13.8" y2="43.9" stroke="#c83a20" stroke-width="0.7" opacity="0.45"/>
<line x1="37.8" y1="25.6" x2="38.9" y2="21.4" stroke="#c83a20" stroke-width="0.7" opacity="0.45"/>
<line x1="47.4" y1="58.2" x2="49.6" y2="61.0" stroke="#c83a20" stroke-width="0.7" opacity="0.45"/>
<line x1="57.5" y1="30.3" x2="61.5" y2="28.4" stroke="#c83a20" stroke-width="0.7" opacity="0.45"/>
<line x1="21.6" y1="22.7" x2="19.1" y2="19.1" stroke="#c83a20" stroke-width="0.7" opacity="0.45"/>
<line x1="50.0" y1="56.6" x2="52.9" y2="59.4" stroke="#c83a20" stroke-width="0.7" opacity="0.45"/>
<line x1="10.2" y1="36.4" x2="6.6" y2="35.7" stroke="#c83a20" stroke-width="0.7" opacity="0.45"/>
<line x1="20.3" y1="54.1" x2="17.2" y2="57.0" stroke="#c83a20" stroke-width="0.7" opacity="0.45"/>
<line x1="26.0" y1="16.5" x2="24.7" y2="12.5" stroke="#c83a20" stroke-width="0.7" opacity="0.45"/>
<line x1="11.9" y1="47.2" x2="9.4" y2="47.9" stroke="#c83a20" stroke-width="0.7" opacity="0.45"/>
<line x1="55.3" y1="30.9" x2="58.6" y2="29.4" stroke="#c83a20" stroke-width="0.7" opacity="0.45"/>
<line x1="41.2" y1="26.4" x2="42.2" y2="24.4" stroke="#c83a20" stroke-width="0.7" opacity="0.45"/>
<line x1="51.8" y1="26.7" x2="53.7" y2="25.1" stroke="#c83a20" stroke-width="0.7" opacity="0.45"/>
<polygon points="0.0,48.0 10.0,50.0 18.0,53.0 24.0,58.0 27.0,66.0 24.0,72.0 0.0,72.0" fill="#020802" opacity="1" filter="url(#bl1)"/>
<ellipse cx="33" cy="52" rx="12" ry="10" fill="#b04a1a" opacity="0.5" filter="url(#bl3)"/>
<ellipse cx="33" cy="40" rx="11" ry="10" fill="#9ad22a" opacity="1" filter="url(#bl2)"/>
<ellipse cx="33" cy="40" rx="7" ry="6" fill="#a4dc30" opacity="1"/>
<polygon points="0.0,63.0 8.0,60.0 18.0,60.0 25.0,64.0 28.0,70.0 40.0,69.0 45.0,74.0 42.0,88.0 0.0,88.0" fill="#8a2018" opacity="1" filter="url(#bl1)"/>
<ellipse cx="20" cy="80" rx="11" ry="7" fill="#2a9a30" opacity="1" filter="url(#bl2)"/>
<polygon points="38.0,82.0 44.0,75.0 52.0,72.0 62.0,74.0 70.0,82.0 75.0,88.0 38.0,88.0" fill="#761616" opacity="1" filter="url(#bl1)"/>
</g>
<clipPath id="cp7"><rect x="0" y="0" width="75.0" height="86.5"/></clipPath>
<g transform="translate(29.0,197.6)" clip-path="url(#cp7)">
<rect x="0.00" y="0.00" width="75.00" height="86.50" fill="#000" stroke="none" stroke-width="1" rx="0" />
<polygon points="0.0,0.0 14.0,0.0 16.0,10.0 15.0,22.0 11.0,36.0 6.0,50.0 2.0,60.0 0.0,62.0" fill="#585858" opacity="1" filter="url(#bl1)"/>
<clipPath id="cc10"><polygon points="0.0,0.0 14.0,0.0 16.0,10.0 15.0,22.0 11.0,36.0 6.0,50.0 2.0,60.0 0.0,62.0"/></clipPath>
<g clip-path="url(#cc10)">
<line x1="3.3" y1="41.7" x2="7.1" y2="35.2" stroke="#a8a8a8" stroke-width="0.6" opacity="0.45"/>
<line x1="11.2" y1="58.8" x2="20.2" y2="43.2" stroke="#a8a8a8" stroke-width="0.6" opacity="0.45"/>
<line x1="2.2" y1="15.9" x2="6.2" y2="8.9" stroke="#a8a8a8" stroke-width="0.6" opacity="0.45"/>
<line x1="-0.6" y1="7.9" x2="6.8" y2="-4.9" stroke="#a8a8a8" stroke-width="0.6" opacity="0.45"/>
<line x1="2.0" y1="57.3" x2="9.7" y2="43.9" stroke="#a8a8a8" stroke-width="0.6" opacity="0.45"/>
<line x1="2.8" y1="15.2" x2="8.4" y2="5.5" stroke="#a8a8a8" stroke-width="0.6" opacity="0.45"/>
<line x1="-1.9" y1="44.3" x2="2.9" y2="36.1" stroke="#a8a8a8" stroke-width="0.6" opacity="0.45"/>
<line x1="-0.6" y1="60.3" x2="5.4" y2="49.8" stroke="#a8a8a8" stroke-width="0.6" opacity="0.45"/>
<line x1="11.5" y1="67.0" x2="18.8" y2="54.5" stroke="#a8a8a8" stroke-width="0.6" opacity="0.45"/>
<line x1="1.5" y1="13.5" x2="6.5" y2="4.8" stroke="#a8a8a8" stroke-width="0.6" opacity="0.45"/>
<line x1="9.1" y1="36.3" x2="14.4" y2="27.1" stroke="#a8a8a8" stroke-width="0.6" opacity="0.45"/>
<line x1="-2.6" y1="26.8" x2="3.2" y2="16.7" stroke="#a8a8a8" stroke-width="0.6" opacity="0.45"/>
<line x1="-1.5" y1="20.1" x2="3.8" y2="10.9" stroke="#a8a8a8" stroke-width="0.6" opacity="0.45"/>
<line x1="3.3" y1="36.4" x2="10.0" y2="24.8" stroke="#a8a8a8" stroke-width="0.6" opacity="0.45"/>
<line x1="11.5" y1="22.0" x2="15.7" y2="14.6" stroke="#a8a8a8" stroke-width="0.6" opacity="0.45"/>
<line x1="1.5" y1="19.3" x2="8.2" y2="7.5" stroke="#a8a8a8" stroke-width="0.6" opacity="0.45"/>
<line x1="5.5" y1="23.6" x2="9.7" y2="16.2" stroke="#a8a8a8" stroke-width="0.6" opacity="0.45"/>
<line x1="8.5" y1="44.8" x2="15.5" y2="32.6" stroke="#a8a8a8" stroke-width="0.6" opacity="0.45"/>
<line x1="9.3" y1="56.4" x2="13.2" y2="49.6" stroke="#a8a8a8" stroke-width="0.6" opacity="0.45"/>
<line x1="-0.7" y1="35.7" x2="6.7" y2="22.8" stroke="#a8a8a8" stroke-width="0.6" opacity="0.45"/>
<line x1="5.4" y1="36.0" x2="10.7" y2="26.7" stroke="#a8a8a8" stroke-width="0.6" opacity="0.45"/>
<line x1="-0.6" y1="61.9" x2="8.4" y2="46.5" stroke="#a8a8a8" stroke-width="0.6" opacity="0.45"/>
<line x1="5.8" y1="32.8" x2="10.2" y2="25.1" stroke="#a8a8a8" stroke-width="0.6" opacity="0.45"/>
<line x1="6.1" y1="19.2" x2="13.1" y2="7.0" stroke="#a8a8a8" stroke-width="0.6" opacity="0.45"/>
<line x1="0.3" y1="36.2" x2="8.6" y2="21.8" stroke="#a8a8a8" stroke-width="0.6" opacity="0.45"/>
<line x1="2.3" y1="37.9" x2="7.7" y2="28.5" stroke="#a8a8a8" stroke-width="0.6" opacity="0.45"/>
<line x1="4.6" y1="59.3" x2="10.9" y2="48.3" stroke="#a8a8a8" stroke-width="0.6" opacity="0.45"/>
<line x1="12.4" y1="30.6" x2="18.5" y2="20.0" stroke="#a8a8a8" stroke-width="0.6" opacity="0.45"/>
<line x1="6.7" y1="37.4" x2="14.0" y2="24.8" stroke="#a8a8a8" stroke-width="0.6" opacity="0.45"/>
<line x1="1.7" y1="6.0" x2="7.6" y2="-4.3" stroke="#a8a8a8" stroke-width="0.6" opacity="0.45"/>
<line x1="-2.4" y1="21.4" x2="4.5" y2="9.4" stroke="#a8a8a8" stroke-width="0.6" opacity="0.45"/>
<line x1="7.4" y1="62.7" x2="14.7" y2="50.1" stroke="#a8a8a8" stroke-width="0.6" opacity="0.45"/>
<line x1="5.8" y1="26.8" x2="12.0" y2="15.9" stroke="#a8a8a8" stroke-width="0.6" opacity="0.45"/>
<line x1="1.3" y1="12.0" x2="7.9" y2="0.7" stroke="#a8a8a8" stroke-width="0.6" opacity="0.45"/>
<line x1="6.3" y1="25.7" x2="13.9" y2="12.4" stroke="#a8a8a8" stroke-width="0.6" opacity="0.45"/>
<line x1="4.4" y1="26.3" x2="12.6" y2="12.1" stroke="#a8a8a8" stroke-width="0.6" opacity="0.45"/>
<line x1="-2.4" y1="21.4" x2="3.1" y2="12.0" stroke="#a8a8a8" stroke-width="0.6" opacity="0.45"/>
<line x1="6.3" y1="23.4" x2="15.2" y2="7.9" stroke="#a8a8a8" stroke-width="0.6" opacity="0.45"/>
<line x1="-1.4" y1="33.3" x2="4.8" y2="22.5" stroke="#a8a8a8" stroke-width="0.6" opacity="0.45"/>
<line x1="9.6" y1="19.7" x2="14.2" y2="11.8" stroke="#a8a8a8" stroke-width="0.6" opacity="0.45"/>
<line x1="8.5" y1="54.7" x2="15.3" y2="42.9" stroke="#a8a8a8" stroke-width="0.6" opacity="0.45"/>
<line x1="11.4" y1="29.8" x2="17.5" y2="19.2" stroke="#a8a8a8" stroke-width="0.6" opacity="0.45"/>
<line x1="3.9" y1="14.9" x2="12.0" y2="0.9" stroke="#a8a8a8" stroke-width="0.6" opacity="0.45"/>
<line x1="-3.3" y1="12.2" x2="5.3" y2="-2.6" stroke="#a8a8a8" stroke-width="0.6" opacity="0.45"/>
<line x1="3.0" y1="16.3" x2="11.4" y2="1.8" stroke="#a8a8a8" stroke-width="0.6" opacity="0.45"/>
<line x1="1.1" y1="31.4" x2="4.9" y2="24.8" stroke="#a8a8a8" stroke-width="0.6" opacity="0.45"/>
<line x1="-1.4" y1="36.3" x2="6.0" y2="23.4" stroke="#a8a8a8" stroke-width="0.6" opacity="0.45"/>
<line x1="-1.5" y1="53.4" x2="5.6" y2="41.0" stroke="#a8a8a8" stroke-width="0.6" opacity="0.45"/>
<line x1="7.6" y1="65.3" x2="13.9" y2="54.4" stroke="#a8a8a8" stroke-width="0.6" opacity="0.45"/>
<line x1="-4.1" y1="10.7" x2="4.2" y2="-3.7" stroke="#a8a8a8" stroke-width="0.6" opacity="0.45"/>
</g>
<polygon points="68.0,22.0 75.0,20.0 75.0,62.0 68.0,58.0" fill="#333" opacity="1" filter="url(#bl1)"/>
<polygon points="0.0,74.0 20.0,78.0 40.0,82.0 60.0,76.0 75.0,70.0 75.0,87.0 0.0,87.0" fill="#606060" opacity="1" filter="url(#bl1)"/>
<clipPath id="cc11"><polygon points="0.0,74.0 20.0,78.0 40.0,82.0 60.0,76.0 75.0,70.0 75.0,87.0 0.0,87.0"/></clipPath>
<g clip-path="url(#cc11)">
<line x1="-3.4" y1="79.3" x2="14.4" y2="80.9" stroke="#b0b0b0" stroke-width="0.6" opacity="0.45"/>
<line x1="20.1" y1="78.7" x2="31.5" y2="79.7" stroke="#b0b0b0" stroke-width="0.6" opacity="0.45"/>
<line x1="48.6" y1="81.1" x2="62.3" y2="82.3" stroke="#b0b0b0" stroke-width="0.6" opacity="0.45"/>
<line x1="67.7" y1="81.5" x2="78.7" y2="82.4" stroke="#b0b0b0" stroke-width="0.6" opacity="0.45"/>
<line x1="21.1" y1="80.1" x2="35.9" y2="81.4" stroke="#b0b0b0" stroke-width="0.6" opacity="0.45"/>
<line x1="10.6" y1="83.2" x2="22.7" y2="84.3" stroke="#b0b0b0" stroke-width="0.6" opacity="0.45"/>
<line x1="52.5" y1="71.1" x2="63.3" y2="72.0" stroke="#b0b0b0" stroke-width="0.6" opacity="0.45"/>
<line x1="-3.7" y1="76.6" x2="6.4" y2="77.5" stroke="#b0b0b0" stroke-width="0.6" opacity="0.45"/>
<line x1="17.8" y1="73.0" x2="34.2" y2="74.5" stroke="#b0b0b0" stroke-width="0.6" opacity="0.45"/>
<line x1="41.3" y1="75.4" x2="54.0" y2="76.5" stroke="#b0b0b0" stroke-width="0.6" opacity="0.45"/>
<line x1="5.4" y1="85.3" x2="22.3" y2="86.8" stroke="#b0b0b0" stroke-width="0.6" opacity="0.45"/>
<line x1="34.1" y1="71.8" x2="51.6" y2="73.4" stroke="#b0b0b0" stroke-width="0.6" opacity="0.45"/>
<line x1="10.3" y1="70.4" x2="22.2" y2="71.5" stroke="#b0b0b0" stroke-width="0.6" opacity="0.45"/>
<line x1="23.8" y1="84.1" x2="32.8" y2="84.8" stroke="#b0b0b0" stroke-width="0.6" opacity="0.45"/>
<line x1="0.6" y1="77.2" x2="8.5" y2="77.9" stroke="#b0b0b0" stroke-width="0.6" opacity="0.45"/>
<line x1="41.4" y1="77.6" x2="58.0" y2="79.0" stroke="#b0b0b0" stroke-width="0.6" opacity="0.45"/>
<line x1="62.3" y1="73.3" x2="78.0" y2="74.7" stroke="#b0b0b0" stroke-width="0.6" opacity="0.45"/>
<line x1="33.3" y1="85.8" x2="41.6" y2="86.5" stroke="#b0b0b0" stroke-width="0.6" opacity="0.45"/>
<line x1="30.2" y1="86.3" x2="38.3" y2="87.0" stroke="#b0b0b0" stroke-width="0.6" opacity="0.45"/>
<line x1="17.2" y1="74.8" x2="28.5" y2="75.8" stroke="#b0b0b0" stroke-width="0.6" opacity="0.45"/>
<line x1="66.4" y1="72.5" x2="82.5" y2="74.0" stroke="#b0b0b0" stroke-width="0.6" opacity="0.45"/>
<line x1="15.5" y1="84.5" x2="24.5" y2="85.3" stroke="#b0b0b0" stroke-width="0.6" opacity="0.45"/>
<line x1="3.7" y1="86.4" x2="11.3" y2="87.1" stroke="#b0b0b0" stroke-width="0.6" opacity="0.45"/>
<line x1="41.4" y1="72.9" x2="54.9" y2="74.1" stroke="#b0b0b0" stroke-width="0.6" opacity="0.45"/>
<line x1="16.5" y1="80.0" x2="31.1" y2="81.2" stroke="#b0b0b0" stroke-width="0.6" opacity="0.45"/>
<line x1="48.2" y1="71.4" x2="64.3" y2="72.8" stroke="#b0b0b0" stroke-width="0.6" opacity="0.45"/>
<line x1="9.9" y1="79.4" x2="25.9" y2="80.8" stroke="#b0b0b0" stroke-width="0.6" opacity="0.45"/>
<line x1="51.5" y1="78.5" x2="64.2" y2="79.6" stroke="#b0b0b0" stroke-width="0.6" opacity="0.45"/>
<line x1="4.7" y1="84.4" x2="18.4" y2="85.5" stroke="#b0b0b0" stroke-width="0.6" opacity="0.45"/>
<line x1="50.5" y1="85.8" x2="65.3" y2="87.1" stroke="#b0b0b0" stroke-width="0.6" opacity="0.45"/>
<line x1="17.9" y1="77.8" x2="27.2" y2="78.6" stroke="#b0b0b0" stroke-width="0.6" opacity="0.45"/>
<line x1="13.6" y1="83.9" x2="28.0" y2="85.2" stroke="#b0b0b0" stroke-width="0.6" opacity="0.45"/>
<line x1="6.6" y1="78.4" x2="18.4" y2="79.4" stroke="#b0b0b0" stroke-width="0.6" opacity="0.45"/>
<line x1="55.6" y1="83.6" x2="66.8" y2="84.6" stroke="#b0b0b0" stroke-width="0.6" opacity="0.45"/>
<line x1="-0.4" y1="72.6" x2="12.9" y2="73.8" stroke="#b0b0b0" stroke-width="0.6" opacity="0.45"/>
<line x1="19.7" y1="69.9" x2="34.9" y2="71.3" stroke="#b0b0b0" stroke-width="0.6" opacity="0.45"/>
<line x1="42.2" y1="75.2" x2="50.0" y2="75.9" stroke="#b0b0b0" stroke-width="0.6" opacity="0.45"/>
<line x1="22.5" y1="79.6" x2="30.7" y2="80.3" stroke="#b0b0b0" stroke-width="0.6" opacity="0.45"/>
<line x1="4.1" y1="70.4" x2="11.9" y2="71.0" stroke="#b0b0b0" stroke-width="0.6" opacity="0.45"/>
<line x1="38.8" y1="81.5" x2="53.0" y2="82.7" stroke="#b0b0b0" stroke-width="0.6" opacity="0.45"/>
<line x1="20.1" y1="75.7" x2="27.7" y2="76.4" stroke="#b0b0b0" stroke-width="0.6" opacity="0.45"/>
<line x1="55.8" y1="78.6" x2="65.2" y2="79.4" stroke="#b0b0b0" stroke-width="0.6" opacity="0.45"/>
<line x1="2.8" y1="74.2" x2="14.3" y2="75.2" stroke="#b0b0b0" stroke-width="0.6" opacity="0.45"/>
<line x1="44.7" y1="70.5" x2="60.3" y2="71.9" stroke="#b0b0b0" stroke-width="0.6" opacity="0.45"/>
<line x1="10.7" y1="72.0" x2="24.7" y2="73.2" stroke="#b0b0b0" stroke-width="0.6" opacity="0.45"/>
<line x1="3.8" y1="86.1" x2="18.4" y2="87.4" stroke="#b0b0b0" stroke-width="0.6" opacity="0.45"/>
<line x1="46.6" y1="78.6" x2="63.2" y2="80.1" stroke="#b0b0b0" stroke-width="0.6" opacity="0.45"/>
<line x1="59.5" y1="79.0" x2="68.5" y2="79.7" stroke="#b0b0b0" stroke-width="0.6" opacity="0.45"/>
<line x1="44.9" y1="86.5" x2="54.9" y2="87.3" stroke="#b0b0b0" stroke-width="0.6" opacity="0.45"/>
<line x1="44.4" y1="71.2" x2="60.5" y2="72.6" stroke="#b0b0b0" stroke-width="0.6" opacity="0.45"/>
</g>
<polygon points="17.0,3.0 45.0,6.0 55.0,12.0 65.0,16.0 68.0,25.0 66.0,40.0 68.0,55.0 64.0,62.0 60.0,70.0 55.0,76.0 40.0,80.0 25.0,80.0 12.0,78.0 5.0,72.0 3.0,60.0 8.0,48.0 14.0,35.0 18.0,20.0" fill="#5a5a5a" opacity="1" stroke="#a8a8a8" stroke-width="0.9" filter="url(#bl1)"/>
<clipPath id="cc12"><polygon points="17.0,3.0 45.0,6.0 55.0,12.0 65.0,16.0 68.0,25.0 66.0,40.0 68.0,55.0 64.0,62.0 60.0,70.0 55.0,76.0 40.0,80.0 25.0,80.0 12.0,78.0 5.0,72.0 3.0,60.0 8.0,48.0 14.0,35.0 18.0,20.0"/></clipPath>
<g clip-path="url(#cc12)">
<line x1="28.8" y1="64.0" x2="38.9" y2="43.2" stroke="#bcbcbc" stroke-width="0.7" opacity="0.5"/>
<line x1="8.3" y1="12.1" x2="16.3" y2="-4.4" stroke="#bcbcbc" stroke-width="0.7" opacity="0.5"/>
<line x1="15.6" y1="76.0" x2="26.0" y2="54.8" stroke="#bcbcbc" stroke-width="0.7" opacity="0.5"/>
<line x1="37.0" y1="56.4" x2="47.2" y2="35.6" stroke="#bcbcbc" stroke-width="0.7" opacity="0.5"/>
<line x1="9.2" y1="43.5" x2="15.7" y2="30.3" stroke="#bcbcbc" stroke-width="0.7" opacity="0.5"/>
<line x1="56.2" y1="19.1" x2="67.5" y2="-4.0" stroke="#bcbcbc" stroke-width="0.7" opacity="0.5"/>
<line x1="4.0" y1="63.8" x2="11.7" y2="48.0" stroke="#bcbcbc" stroke-width="0.7" opacity="0.5"/>
<line x1="26.6" y1="73.4" x2="32.0" y2="62.3" stroke="#bcbcbc" stroke-width="0.7" opacity="0.5"/>
<line x1="2.4" y1="82.7" x2="11.5" y2="64.2" stroke="#bcbcbc" stroke-width="0.7" opacity="0.5"/>
<line x1="2.8" y1="91.5" x2="15.0" y2="66.5" stroke="#bcbcbc" stroke-width="0.7" opacity="0.5"/>
<line x1="7.2" y1="42.0" x2="13.4" y2="29.2" stroke="#bcbcbc" stroke-width="0.7" opacity="0.5"/>
<line x1="20.1" y1="57.5" x2="26.5" y2="44.2" stroke="#bcbcbc" stroke-width="0.7" opacity="0.5"/>
<line x1="45.0" y1="13.6" x2="51.6" y2="0.3" stroke="#bcbcbc" stroke-width="0.7" opacity="0.5"/>
<line x1="51.8" y1="42.4" x2="60.2" y2="25.3" stroke="#bcbcbc" stroke-width="0.7" opacity="0.5"/>
<line x1="37.7" y1="48.0" x2="45.8" y2="31.4" stroke="#bcbcbc" stroke-width="0.7" opacity="0.5"/>
<line x1="-1.2" y1="71.6" x2="11.2" y2="46.2" stroke="#bcbcbc" stroke-width="0.7" opacity="0.5"/>
<line x1="62.5" y1="62.2" x2="70.4" y2="46.0" stroke="#bcbcbc" stroke-width="0.7" opacity="0.5"/>
<line x1="21.5" y1="66.6" x2="31.7" y2="45.7" stroke="#bcbcbc" stroke-width="0.7" opacity="0.5"/>
<line x1="6.4" y1="29.2" x2="14.4" y2="13.0" stroke="#bcbcbc" stroke-width="0.7" opacity="0.5"/>
<line x1="31.8" y1="74.5" x2="40.7" y2="56.2" stroke="#bcbcbc" stroke-width="0.7" opacity="0.5"/>
<line x1="0.6" y1="75.0" x2="9.0" y2="57.7" stroke="#bcbcbc" stroke-width="0.7" opacity="0.5"/>
<line x1="32.5" y1="28.7" x2="40.9" y2="11.5" stroke="#bcbcbc" stroke-width="0.7" opacity="0.5"/>
<line x1="25.2" y1="68.6" x2="31.2" y2="56.3" stroke="#bcbcbc" stroke-width="0.7" opacity="0.5"/>
<line x1="33.6" y1="27.4" x2="43.9" y2="6.1" stroke="#bcbcbc" stroke-width="0.7" opacity="0.5"/>
<line x1="1.5" y1="32.3" x2="9.3" y2="16.3" stroke="#bcbcbc" stroke-width="0.7" opacity="0.5"/>
<line x1="40.1" y1="15.9" x2="48.7" y2="-1.9" stroke="#bcbcbc" stroke-width="0.7" opacity="0.5"/>
<line x1="12.2" y1="33.7" x2="21.0" y2="15.7" stroke="#bcbcbc" stroke-width="0.7" opacity="0.5"/>
<line x1="59.2" y1="52.6" x2="71.5" y2="27.4" stroke="#bcbcbc" stroke-width="0.7" opacity="0.5"/>
<line x1="9.9" y1="82.3" x2="17.9" y2="66.0" stroke="#bcbcbc" stroke-width="0.7" opacity="0.5"/>
<line x1="9.3" y1="72.9" x2="21.3" y2="48.4" stroke="#bcbcbc" stroke-width="0.7" opacity="0.5"/>
<line x1="-2.0" y1="34.9" x2="8.9" y2="12.4" stroke="#bcbcbc" stroke-width="0.7" opacity="0.5"/>
<line x1="22.6" y1="27.1" x2="27.9" y2="16.1" stroke="#bcbcbc" stroke-width="0.7" opacity="0.5"/>
<line x1="-0.7" y1="63.5" x2="11.9" y2="37.8" stroke="#bcbcbc" stroke-width="0.7" opacity="0.5"/>
<line x1="65.2" y1="47.4" x2="70.6" y2="36.2" stroke="#bcbcbc" stroke-width="0.7" opacity="0.5"/>
<line x1="18.3" y1="75.3" x2="29.7" y2="52.0" stroke="#bcbcbc" stroke-width="0.7" opacity="0.5"/>
<line x1="40.0" y1="30.0" x2="49.1" y2="11.3" stroke="#bcbcbc" stroke-width="0.7" opacity="0.5"/>
<line x1="30.4" y1="58.7" x2="37.6" y2="43.9" stroke="#bcbcbc" stroke-width="0.7" opacity="0.5"/>
<line x1="61.3" y1="78.5" x2="67.8" y2="65.2" stroke="#bcbcbc" stroke-width="0.7" opacity="0.5"/>
<line x1="18.3" y1="77.7" x2="25.6" y2="62.7" stroke="#bcbcbc" stroke-width="0.7" opacity="0.5"/>
<line x1="59.2" y1="53.3" x2="69.5" y2="32.0" stroke="#bcbcbc" stroke-width="0.7" opacity="0.5"/>
<line x1="45.1" y1="27.0" x2="52.5" y2="11.9" stroke="#bcbcbc" stroke-width="0.7" opacity="0.5"/>
<line x1="14.4" y1="66.2" x2="24.8" y2="45.0" stroke="#bcbcbc" stroke-width="0.7" opacity="0.5"/>
<line x1="7.4" y1="79.8" x2="15.7" y2="62.7" stroke="#bcbcbc" stroke-width="0.7" opacity="0.5"/>
<line x1="12.4" y1="49.3" x2="24.9" y2="23.7" stroke="#bcbcbc" stroke-width="0.7" opacity="0.5"/>
<line x1="33.4" y1="63.4" x2="45.4" y2="38.8" stroke="#bcbcbc" stroke-width="0.7" opacity="0.5"/>
<line x1="61.4" y1="70.1" x2="69.7" y2="53.0" stroke="#bcbcbc" stroke-width="0.7" opacity="0.5"/>
<line x1="35.7" y1="83.7" x2="46.8" y2="61.0" stroke="#bcbcbc" stroke-width="0.7" opacity="0.5"/>
<line x1="36.7" y1="37.9" x2="44.7" y2="21.6" stroke="#bcbcbc" stroke-width="0.7" opacity="0.5"/>
<line x1="48.1" y1="51.9" x2="53.5" y2="40.9" stroke="#bcbcbc" stroke-width="0.7" opacity="0.5"/>
<line x1="43.6" y1="84.0" x2="54.7" y2="61.2" stroke="#bcbcbc" stroke-width="0.7" opacity="0.5"/>
<line x1="56.7" y1="82.5" x2="65.9" y2="63.7" stroke="#bcbcbc" stroke-width="0.7" opacity="0.5"/>
<line x1="51.3" y1="38.4" x2="57.3" y2="26.1" stroke="#bcbcbc" stroke-width="0.7" opacity="0.5"/>
<line x1="19.9" y1="39.5" x2="32.0" y2="14.6" stroke="#bcbcbc" stroke-width="0.7" opacity="0.5"/>
<line x1="42.9" y1="54.8" x2="52.7" y2="34.6" stroke="#bcbcbc" stroke-width="0.7" opacity="0.5"/>
<line x1="5.9" y1="54.8" x2="16.3" y2="33.5" stroke="#bcbcbc" stroke-width="0.7" opacity="0.5"/>
<line x1="24.5" y1="30.4" x2="32.7" y2="13.5" stroke="#bcbcbc" stroke-width="0.7" opacity="0.5"/>
<line x1="20.9" y1="62.2" x2="27.2" y2="49.3" stroke="#bcbcbc" stroke-width="0.7" opacity="0.5"/>
<line x1="3.7" y1="37.7" x2="14.1" y2="16.4" stroke="#bcbcbc" stroke-width="0.7" opacity="0.5"/>
<line x1="46.3" y1="66.2" x2="58.4" y2="41.3" stroke="#bcbcbc" stroke-width="0.7" opacity="0.5"/>
<line x1="22.3" y1="14.4" x2="31.2" y2="-3.8" stroke="#bcbcbc" stroke-width="0.7" opacity="0.5"/>
<line x1="26.8" y1="27.2" x2="36.9" y2="6.4" stroke="#bcbcbc" stroke-width="0.7" opacity="0.5"/>
<line x1="21.3" y1="29.2" x2="29.0" y2="13.5" stroke="#bcbcbc" stroke-width="0.7" opacity="0.5"/>
<line x1="60.4" y1="11.7" x2="68.3" y2="-4.5" stroke="#bcbcbc" stroke-width="0.7" opacity="0.5"/>
<line x1="17.0" y1="27.2" x2="25.4" y2="9.8" stroke="#bcbcbc" stroke-width="0.7" opacity="0.5"/>
<line x1="12.8" y1="82.9" x2="21.8" y2="64.6" stroke="#bcbcbc" stroke-width="0.7" opacity="0.5"/>
<line x1="44.0" y1="24.4" x2="52.7" y2="6.6" stroke="#bcbcbc" stroke-width="0.7" opacity="0.5"/>
<line x1="38.9" y1="75.2" x2="46.0" y2="60.6" stroke="#bcbcbc" stroke-width="0.7" opacity="0.5"/>
<line x1="27.2" y1="80.5" x2="38.6" y2="57.1" stroke="#bcbcbc" stroke-width="0.7" opacity="0.5"/>
<line x1="12.4" y1="55.6" x2="23.2" y2="33.3" stroke="#bcbcbc" stroke-width="0.7" opacity="0.5"/>
<line x1="23.6" y1="65.3" x2="33.8" y2="44.5" stroke="#bcbcbc" stroke-width="0.7" opacity="0.5"/>
<line x1="61.1" y1="56.2" x2="71.3" y2="35.1" stroke="#bcbcbc" stroke-width="0.7" opacity="0.5"/>
<line x1="21.9" y1="67.2" x2="29.6" y2="51.6" stroke="#bcbcbc" stroke-width="0.7" opacity="0.5"/>
<line x1="31.7" y1="38.5" x2="39.3" y2="23.1" stroke="#bcbcbc" stroke-width="0.7" opacity="0.5"/>
<line x1="7.2" y1="29.9" x2="16.5" y2="10.9" stroke="#bcbcbc" stroke-width="0.7" opacity="0.5"/>
<line x1="13.8" y1="18.0" x2="25.0" y2="-4.9" stroke="#bcbcbc" stroke-width="0.7" opacity="0.5"/>
<line x1="16.7" y1="85.0" x2="26.4" y2="65.2" stroke="#bcbcbc" stroke-width="0.7" opacity="0.5"/>
<line x1="22.4" y1="82.4" x2="34.2" y2="58.1" stroke="#bcbcbc" stroke-width="0.7" opacity="0.5"/>
<line x1="18.9" y1="22.9" x2="28.9" y2="2.5" stroke="#bcbcbc" stroke-width="0.7" opacity="0.5"/>
<line x1="52.3" y1="61.2" x2="63.3" y2="38.5" stroke="#bcbcbc" stroke-width="0.7" opacity="0.5"/>
<line x1="26.2" y1="58.0" x2="33.4" y2="43.2" stroke="#bcbcbc" stroke-width="0.7" opacity="0.5"/>
<line x1="25.4" y1="40.5" x2="33.5" y2="23.9" stroke="#bcbcbc" stroke-width="0.7" opacity="0.5"/>
<line x1="25.7" y1="71.8" x2="32.2" y2="58.5" stroke="#bcbcbc" stroke-width="0.7" opacity="0.5"/>
<line x1="10.1" y1="35.3" x2="22.5" y2="9.9" stroke="#bcbcbc" stroke-width="0.7" opacity="0.5"/>
<line x1="31.3" y1="18.8" x2="42.7" y2="-4.6" stroke="#bcbcbc" stroke-width="0.7" opacity="0.5"/>
<line x1="55.8" y1="74.3" x2="63.7" y2="58.1" stroke="#bcbcbc" stroke-width="0.7" opacity="0.5"/>
<line x1="47.6" y1="33.0" x2="53.9" y2="20.1" stroke="#bcbcbc" stroke-width="0.7" opacity="0.5"/>
<line x1="55.8" y1="74.1" x2="62.7" y2="60.2" stroke="#bcbcbc" stroke-width="0.7" opacity="0.5"/>
<line x1="56.4" y1="12.6" x2="64.0" y2="-2.8" stroke="#bcbcbc" stroke-width="0.7" opacity="0.5"/>
<line x1="0.6" y1="22.8" x2="7.1" y2="9.5" stroke="#bcbcbc" stroke-width="0.7" opacity="0.5"/>
<line x1="46.2" y1="32.7" x2="52.9" y2="19.0" stroke="#bcbcbc" stroke-width="0.7" opacity="0.5"/>
<line x1="9.2" y1="38.9" x2="20.8" y2="15.1" stroke="#bcbcbc" stroke-width="0.7" opacity="0.5"/>
<line x1="37.3" y1="21.4" x2="47.6" y2="0.3" stroke="#bcbcbc" stroke-width="0.7" opacity="0.5"/>
<line x1="33.3" y1="46.9" x2="42.4" y2="28.2" stroke="#bcbcbc" stroke-width="0.7" opacity="0.5"/>
<line x1="40.9" y1="73.9" x2="49.8" y2="55.4" stroke="#bcbcbc" stroke-width="0.7" opacity="0.5"/>
<line x1="39.3" y1="49.2" x2="49.3" y2="28.8" stroke="#bcbcbc" stroke-width="0.7" opacity="0.5"/>
<line x1="23.7" y1="44.2" x2="32.8" y2="25.7" stroke="#bcbcbc" stroke-width="0.7" opacity="0.5"/>
<line x1="43.4" y1="36.8" x2="55.5" y2="12.1" stroke="#bcbcbc" stroke-width="0.7" opacity="0.5"/>
<line x1="29.8" y1="79.5" x2="40.1" y2="58.3" stroke="#bcbcbc" stroke-width="0.7" opacity="0.5"/>
<line x1="61.0" y1="64.2" x2="69.4" y2="46.9" stroke="#bcbcbc" stroke-width="0.7" opacity="0.5"/>
<line x1="24.0" y1="60.9" x2="34.8" y2="38.7" stroke="#bcbcbc" stroke-width="0.7" opacity="0.5"/>
<line x1="54.7" y1="18.8" x2="60.4" y2="7.1" stroke="#bcbcbc" stroke-width="0.7" opacity="0.5"/>
<line x1="7.2" y1="15.3" x2="12.9" y2="3.7" stroke="#bcbcbc" stroke-width="0.7" opacity="0.5"/>
<line x1="0.5" y1="28.5" x2="6.6" y2="16.0" stroke="#bcbcbc" stroke-width="0.7" opacity="0.5"/>
<line x1="41.4" y1="63.1" x2="53.7" y2="37.7" stroke="#bcbcbc" stroke-width="0.7" opacity="0.5"/>
<line x1="59.3" y1="73.1" x2="71.6" y2="47.9" stroke="#bcbcbc" stroke-width="0.7" opacity="0.5"/>
<line x1="-1.2" y1="32.9" x2="10.9" y2="8.2" stroke="#bcbcbc" stroke-width="0.7" opacity="0.5"/>
<line x1="28.5" y1="30.0" x2="39.3" y2="7.8" stroke="#bcbcbc" stroke-width="0.7" opacity="0.5"/>
<line x1="26.7" y1="52.6" x2="34.3" y2="37.0" stroke="#bcbcbc" stroke-width="0.7" opacity="0.5"/>
<line x1="13.8" y1="19.7" x2="23.6" y2="-0.3" stroke="#bcbcbc" stroke-width="0.7" opacity="0.5"/>
<line x1="59.5" y1="90.1" x2="70.4" y2="67.8" stroke="#bcbcbc" stroke-width="0.7" opacity="0.5"/>
<line x1="59.9" y1="38.5" x2="67.4" y2="23.2" stroke="#bcbcbc" stroke-width="0.7" opacity="0.5"/>
<line x1="57.9" y1="59.7" x2="68.1" y2="38.8" stroke="#bcbcbc" stroke-width="0.7" opacity="0.5"/>
<line x1="-0.6" y1="29.6" x2="8.2" y2="11.6" stroke="#bcbcbc" stroke-width="0.7" opacity="0.5"/>
<line x1="45.1" y1="77.7" x2="55.9" y2="55.5" stroke="#bcbcbc" stroke-width="0.7" opacity="0.5"/>
<line x1="19.3" y1="44.3" x2="30.9" y2="20.5" stroke="#bcbcbc" stroke-width="0.7" opacity="0.5"/>
<line x1="64.0" y1="47.2" x2="70.7" y2="33.5" stroke="#bcbcbc" stroke-width="0.7" opacity="0.5"/>
<line x1="39.6" y1="52.4" x2="47.6" y2="36.1" stroke="#bcbcbc" stroke-width="0.7" opacity="0.5"/>
<line x1="13.1" y1="42.7" x2="22.9" y2="22.7" stroke="#bcbcbc" stroke-width="0.7" opacity="0.5"/>
<line x1="5.1" y1="57.2" x2="17.4" y2="32.1" stroke="#bcbcbc" stroke-width="0.7" opacity="0.5"/>
<line x1="47.3" y1="31.0" x2="55.6" y2="13.9" stroke="#bcbcbc" stroke-width="0.7" opacity="0.5"/>
<line x1="4.7" y1="69.9" x2="14.6" y2="49.6" stroke="#bcbcbc" stroke-width="0.7" opacity="0.5"/>
<line x1="9.4" y1="55.1" x2="19.1" y2="35.3" stroke="#bcbcbc" stroke-width="0.7" opacity="0.5"/>
<line x1="36.7" y1="39.9" x2="44.3" y2="24.4" stroke="#bcbcbc" stroke-width="0.7" opacity="0.5"/>
<line x1="22.2" y1="87.7" x2="29.9" y2="71.9" stroke="#bcbcbc" stroke-width="0.7" opacity="0.5"/>
<line x1="32.4" y1="45.1" x2="38.9" y2="31.7" stroke="#bcbcbc" stroke-width="0.7" opacity="0.5"/>
<line x1="25.2" y1="26.6" x2="32.8" y2="11.0" stroke="#bcbcbc" stroke-width="0.7" opacity="0.5"/>
<line x1="20.8" y1="42.4" x2="32.9" y2="17.5" stroke="#bcbcbc" stroke-width="0.7" opacity="0.5"/>
<line x1="17.2" y1="39.0" x2="27.3" y2="18.2" stroke="#bcbcbc" stroke-width="0.7" opacity="0.5"/>
<line x1="23.8" y1="53.0" x2="33.8" y2="32.4" stroke="#bcbcbc" stroke-width="0.7" opacity="0.5"/>
<line x1="4.8" y1="60.9" x2="10.8" y2="48.6" stroke="#bcbcbc" stroke-width="0.7" opacity="0.5"/>
<line x1="13.0" y1="78.2" x2="25.5" y2="52.5" stroke="#bcbcbc" stroke-width="0.7" opacity="0.5"/>
<line x1="42.5" y1="24.9" x2="51.0" y2="7.5" stroke="#bcbcbc" stroke-width="0.7" opacity="0.5"/>
<line x1="17.9" y1="74.9" x2="24.9" y2="60.6" stroke="#bcbcbc" stroke-width="0.7" opacity="0.5"/>
<line x1="10.8" y1="62.3" x2="20.7" y2="41.9" stroke="#bcbcbc" stroke-width="0.7" opacity="0.5"/>
<line x1="35.2" y1="52.5" x2="47.5" y2="27.2" stroke="#bcbcbc" stroke-width="0.7" opacity="0.5"/>
<line x1="28.7" y1="83.5" x2="36.9" y2="66.8" stroke="#bcbcbc" stroke-width="0.7" opacity="0.5"/>
<line x1="28.0" y1="41.5" x2="38.5" y2="19.9" stroke="#bcbcbc" stroke-width="0.7" opacity="0.5"/>
<line x1="47.3" y1="30.8" x2="56.4" y2="12.1" stroke="#bcbcbc" stroke-width="0.7" opacity="0.5"/>
<line x1="45.2" y1="52.0" x2="55.3" y2="31.2" stroke="#bcbcbc" stroke-width="0.7" opacity="0.5"/>
<line x1="39.1" y1="66.1" x2="47.0" y2="49.9" stroke="#bcbcbc" stroke-width="0.7" opacity="0.5"/>
<line x1="17.0" y1="17.0" x2="28.8" y2="-7.2" stroke="#bcbcbc" stroke-width="0.7" opacity="0.5"/>
<line x1="48.2" y1="45.7" x2="60.5" y2="20.4" stroke="#bcbcbc" stroke-width="0.7" opacity="0.5"/>
<line x1="55.9" y1="26.4" x2="67.4" y2="3.0" stroke="#bcbcbc" stroke-width="0.7" opacity="0.5"/>
<line x1="26.8" y1="34.5" x2="33.9" y2="19.8" stroke="#bcbcbc" stroke-width="0.7" opacity="0.5"/>
<line x1="27.1" y1="12.8" x2="32.7" y2="1.2" stroke="#bcbcbc" stroke-width="0.7" opacity="0.5"/>
<line x1="7.4" y1="33.3" x2="13.8" y2="20.1" stroke="#bcbcbc" stroke-width="0.7" opacity="0.5"/>
<line x1="6.9" y1="75.3" x2="14.9" y2="58.8" stroke="#bcbcbc" stroke-width="0.7" opacity="0.5"/>
<line x1="28.8" y1="61.7" x2="40.9" y2="36.9" stroke="#bcbcbc" stroke-width="0.7" opacity="0.5"/>
<line x1="6.7" y1="32.5" x2="18.3" y2="8.7" stroke="#bcbcbc" stroke-width="0.7" opacity="0.5"/>
<line x1="57.6" y1="84.1" x2="66.7" y2="65.4" stroke="#bcbcbc" stroke-width="0.7" opacity="0.5"/>
<line x1="20.9" y1="29.8" x2="32.8" y2="5.3" stroke="#bcbcbc" stroke-width="0.7" opacity="0.5"/>
<line x1="47.2" y1="56.8" x2="58.3" y2="34.1" stroke="#bcbcbc" stroke-width="0.7" opacity="0.5"/>
<line x1="14.0" y1="56.3" x2="25.9" y2="31.9" stroke="#bcbcbc" stroke-width="0.7" opacity="0.5"/>
<line x1="6.7" y1="57.3" x2="13.4" y2="43.7" stroke="#bcbcbc" stroke-width="0.7" opacity="0.5"/>
<line x1="52.5" y1="77.9" x2="62.5" y2="57.4" stroke="#bcbcbc" stroke-width="0.7" opacity="0.5"/>
<line x1="26.9" y1="13.8" x2="35.8" y2="-4.5" stroke="#bcbcbc" stroke-width="0.7" opacity="0.5"/>
<line x1="23.4" y1="39.8" x2="29.3" y2="27.8" stroke="#bcbcbc" stroke-width="0.7" opacity="0.5"/>
<line x1="58.1" y1="52.8" x2="67.5" y2="33.6" stroke="#bcbcbc" stroke-width="0.7" opacity="0.5"/>
<line x1="53.1" y1="81.6" x2="62.4" y2="62.5" stroke="#bcbcbc" stroke-width="0.7" opacity="0.5"/>
<line x1="34.4" y1="76.4" x2="42.4" y2="60.0" stroke="#bcbcbc" stroke-width="0.7" opacity="0.5"/>
<line x1="56.0" y1="16.3" x2="67.1" y2="-6.5" stroke="#bcbcbc" stroke-width="0.7" opacity="0.5"/>
<line x1="31.0" y1="63.8" x2="43.6" y2="38.1" stroke="#bcbcbc" stroke-width="0.7" opacity="0.5"/>
<line x1="11.7" y1="45.8" x2="22.9" y2="22.9" stroke="#bcbcbc" stroke-width="0.7" opacity="0.5"/>
<line x1="46.0" y1="54.6" x2="57.0" y2="32.1" stroke="#bcbcbc" stroke-width="0.7" opacity="0.5"/>
<line x1="42.0" y1="80.2" x2="52.0" y2="59.6" stroke="#bcbcbc" stroke-width="0.7" opacity="0.5"/>
<line x1="23.7" y1="31.1" x2="29.5" y2="19.1" stroke="#bcbcbc" stroke-width="0.7" opacity="0.5"/>
<line x1="4.8" y1="19.0" x2="17.2" y2="-6.5" stroke="#bcbcbc" stroke-width="0.7" opacity="0.5"/>
<line x1="9.0" y1="55.8" x2="15.3" y2="43.0" stroke="#bcbcbc" stroke-width="0.7" opacity="0.5"/>
<line x1="62.5" y1="50.8" x2="69.1" y2="37.3" stroke="#bcbcbc" stroke-width="0.7" opacity="0.5"/>
<line x1="50.5" y1="82.0" x2="63.0" y2="56.5" stroke="#bcbcbc" stroke-width="0.7" opacity="0.5"/>
</g>
<ellipse cx="36" cy="46" rx="10" ry="24" fill="#a8a8a8" opacity="0.6" filter="url(#bl3)" transform="rotate(-25 36 46)"/>
<ellipse cx="65" cy="60" rx="5" ry="7" fill="#151515" opacity="1" filter="url(#bl2)"/>
</g>
<clipPath id="cp8"><rect x="0" y="0" width="75.0" height="86.5"/></clipPath>
<g transform="translate(107.0,197.6)" clip-path="url(#cp8)">
<rect x="0.00" y="0.00" width="75.00" height="86.50" fill="#161616" stroke="none" stroke-width="1" rx="0" />
<polygon points="0.0,0.0 14.0,0.0 16.0,10.0 15.0,22.0 11.0,36.0 6.0,50.0 2.0,60.0 0.0,62.0" fill="#333" opacity="1" filter="url(#bl2)"/>
<polygon points="17.0,3.0 45.0,6.0 55.0,12.0 65.0,16.0 68.0,25.0 66.0,40.0 68.0,55.0 64.0,62.0 60.0,70.0 55.0,76.0 40.0,80.0 25.0,80.0 12.0,78.0 5.0,72.0 3.0,60.0 8.0,48.0 14.0,35.0 18.0,20.0" fill="#525252" opacity="1" filter="url(#bl1)"/>
<clipPath id="cc13"><polygon points="17.0,3.0 45.0,6.0 55.0,12.0 65.0,16.0 68.0,25.0 66.0,40.0 68.0,55.0 64.0,62.0 60.0,70.0 55.0,76.0 40.0,80.0 25.0,80.0 12.0,78.0 5.0,72.0 3.0,60.0 8.0,48.0 14.0,35.0 18.0,20.0"/></clipPath>
<g clip-path="url(#cc13)">
<line x1="18.8" y1="58.0" x2="20.9" y2="53.6" stroke="#dcdcdc" stroke-width="1.0" opacity="0.8"/>
<line x1="57.5" y1="18.8" x2="58.9" y2="15.8" stroke="#dcdcdc" stroke-width="1.0" opacity="0.8"/>
<line x1="11.5" y1="22.6" x2="13.7" y2="18.1" stroke="#dcdcdc" stroke-width="1.0" opacity="0.8"/>
<line x1="10.8" y1="45.4" x2="12.2" y2="42.5" stroke="#dcdcdc" stroke-width="1.0" opacity="0.8"/>
<line x1="21.0" y1="38.7" x2="23.3" y2="33.8" stroke="#dcdcdc" stroke-width="1.0" opacity="0.8"/>
<line x1="41.8" y1="5.7" x2="43.3" y2="2.6" stroke="#dcdcdc" stroke-width="1.0" opacity="0.8"/>
<line x1="11.4" y1="72.5" x2="13.7" y2="67.7" stroke="#dcdcdc" stroke-width="1.0" opacity="0.8"/>
<line x1="54.3" y1="68.9" x2="56.5" y2="64.3" stroke="#dcdcdc" stroke-width="1.0" opacity="0.8"/>
<line x1="64.0" y1="65.6" x2="65.5" y2="62.6" stroke="#dcdcdc" stroke-width="1.0" opacity="0.8"/>
<line x1="57.1" y1="42.8" x2="59.4" y2="38.2" stroke="#dcdcdc" stroke-width="1.0" opacity="0.8"/>
<line x1="38.8" y1="37.8" x2="40.5" y2="34.4" stroke="#dcdcdc" stroke-width="1.0" opacity="0.8"/>
<line x1="30.3" y1="28.5" x2="31.6" y2="25.9" stroke="#dcdcdc" stroke-width="1.0" opacity="0.8"/>
<line x1="55.0" y1="67.1" x2="57.6" y2="61.8" stroke="#dcdcdc" stroke-width="1.0" opacity="0.8"/>
<line x1="46.8" y1="48.0" x2="49.0" y2="43.4" stroke="#dcdcdc" stroke-width="1.0" opacity="0.8"/>
<line x1="10.9" y1="56.9" x2="12.7" y2="53.3" stroke="#dcdcdc" stroke-width="1.0" opacity="0.8"/>
<line x1="13.5" y1="20.5" x2="15.4" y2="16.7" stroke="#dcdcdc" stroke-width="1.0" opacity="0.8"/>
<line x1="18.5" y1="40.5" x2="20.5" y2="36.3" stroke="#dcdcdc" stroke-width="1.0" opacity="0.8"/>
<line x1="27.8" y1="15.0" x2="29.6" y2="11.2" stroke="#dcdcdc" stroke-width="1.0" opacity="0.8"/>
<line x1="17.6" y1="22.6" x2="19.0" y2="19.7" stroke="#dcdcdc" stroke-width="1.0" opacity="0.8"/>
<line x1="25.8" y1="10.8" x2="27.9" y2="6.5" stroke="#dcdcdc" stroke-width="1.0" opacity="0.8"/>
<line x1="63.9" y1="35.3" x2="66.1" y2="30.8" stroke="#dcdcdc" stroke-width="1.0" opacity="0.8"/>
<line x1="63.0" y1="7.7" x2="64.3" y2="5.0" stroke="#dcdcdc" stroke-width="1.0" opacity="0.8"/>
<line x1="54.4" y1="69.7" x2="56.4" y2="65.4" stroke="#dcdcdc" stroke-width="1.0" opacity="0.8"/>
<line x1="12.2" y1="37.3" x2="14.6" y2="32.3" stroke="#dcdcdc" stroke-width="1.0" opacity="0.8"/>
<line x1="59.9" y1="66.3" x2="61.3" y2="63.4" stroke="#dcdcdc" stroke-width="1.0" opacity="0.8"/>
<line x1="57.4" y1="34.1" x2="59.6" y2="29.6" stroke="#dcdcdc" stroke-width="1.0" opacity="0.8"/>
<line x1="10.9" y1="79.9" x2="12.9" y2="75.7" stroke="#dcdcdc" stroke-width="1.0" opacity="0.8"/>
<line x1="49.0" y1="21.4" x2="51.0" y2="17.2" stroke="#dcdcdc" stroke-width="1.0" opacity="0.8"/>
<line x1="39.9" y1="50.2" x2="41.6" y2="46.8" stroke="#dcdcdc" stroke-width="1.0" opacity="0.8"/>
<line x1="49.5" y1="30.9" x2="51.1" y2="27.7" stroke="#dcdcdc" stroke-width="1.0" opacity="0.8"/>
<line x1="13.1" y1="57.0" x2="14.3" y2="54.4" stroke="#dcdcdc" stroke-width="1.0" opacity="0.8"/>
<line x1="16.6" y1="10.5" x2="18.7" y2="6.2" stroke="#dcdcdc" stroke-width="1.0" opacity="0.8"/>
<line x1="38.6" y1="46.0" x2="39.7" y2="43.7" stroke="#dcdcdc" stroke-width="1.0" opacity="0.8"/>
<line x1="31.0" y1="30.7" x2="32.2" y2="28.1" stroke="#dcdcdc" stroke-width="1.0" opacity="0.8"/>
<line x1="2.6" y1="81.2" x2="3.8" y2="78.5" stroke="#dcdcdc" stroke-width="1.0" opacity="0.8"/>
<line x1="21.6" y1="25.8" x2="23.6" y2="21.6" stroke="#dcdcdc" stroke-width="1.0" opacity="0.8"/>
<line x1="7.2" y1="40.9" x2="8.9" y2="37.5" stroke="#dcdcdc" stroke-width="1.0" opacity="0.8"/>
<line x1="56.4" y1="5.1" x2="58.0" y2="1.8" stroke="#dcdcdc" stroke-width="1.0" opacity="0.8"/>
<line x1="34.3" y1="79.6" x2="36.2" y2="75.7" stroke="#dcdcdc" stroke-width="1.0" opacity="0.8"/>
<line x1="33.0" y1="56.1" x2="34.6" y2="53.0" stroke="#dcdcdc" stroke-width="1.0" opacity="0.8"/>
<line x1="3.8" y1="44.2" x2="6.3" y2="39.1" stroke="#dcdcdc" stroke-width="1.0" opacity="0.8"/>
<line x1="49.9" y1="25.1" x2="52.1" y2="20.7" stroke="#dcdcdc" stroke-width="1.0" opacity="0.8"/>
<line x1="57.2" y1="25.0" x2="59.2" y2="20.9" stroke="#dcdcdc" stroke-width="1.0" opacity="0.8"/>
<line x1="25.3" y1="23.4" x2="26.9" y2="20.2" stroke="#dcdcdc" stroke-width="1.0" opacity="0.8"/>
<line x1="15.7" y1="31.2" x2="16.8" y2="28.8" stroke="#dcdcdc" stroke-width="1.0" opacity="0.8"/>
<line x1="27.7" y1="12.0" x2="30.0" y2="7.4" stroke="#dcdcdc" stroke-width="1.0" opacity="0.8"/>
<line x1="40.8" y1="5.7" x2="43.1" y2="1.0" stroke="#dcdcdc" stroke-width="1.0" opacity="0.8"/>
<line x1="14.4" y1="42.0" x2="16.4" y2="38.0" stroke="#dcdcdc" stroke-width="1.0" opacity="0.8"/>
<line x1="23.8" y1="27.1" x2="25.5" y2="23.5" stroke="#dcdcdc" stroke-width="1.0" opacity="0.8"/>
<line x1="11.3" y1="70.8" x2="12.5" y2="68.2" stroke="#dcdcdc" stroke-width="1.0" opacity="0.8"/>
<line x1="55.7" y1="21.4" x2="57.3" y2="18.2" stroke="#dcdcdc" stroke-width="1.0" opacity="0.8"/>
<line x1="27.6" y1="6.9" x2="28.9" y2="4.2" stroke="#dcdcdc" stroke-width="1.0" opacity="0.8"/>
<line x1="25.2" y1="39.5" x2="27.7" y2="34.5" stroke="#dcdcdc" stroke-width="1.0" opacity="0.8"/>
<line x1="66.4" y1="8.3" x2="68.3" y2="4.4" stroke="#dcdcdc" stroke-width="1.0" opacity="0.8"/>
<line x1="10.6" y1="66.5" x2="12.2" y2="63.3" stroke="#dcdcdc" stroke-width="1.0" opacity="0.8"/>
<line x1="60.4" y1="46.3" x2="61.7" y2="43.7" stroke="#dcdcdc" stroke-width="1.0" opacity="0.8"/>
<line x1="2.1" y1="24.6" x2="4.5" y2="19.6" stroke="#dcdcdc" stroke-width="1.0" opacity="0.8"/>
<line x1="11.9" y1="41.6" x2="13.6" y2="38.2" stroke="#dcdcdc" stroke-width="1.0" opacity="0.8"/>
<line x1="24.7" y1="66.2" x2="26.1" y2="63.3" stroke="#dcdcdc" stroke-width="1.0" opacity="0.8"/>
<line x1="48.4" y1="56.9" x2="51.0" y2="51.7" stroke="#dcdcdc" stroke-width="1.0" opacity="0.8"/>
<line x1="35.9" y1="75.7" x2="37.7" y2="72.1" stroke="#dcdcdc" stroke-width="1.0" opacity="0.8"/>
<line x1="39.1" y1="53.2" x2="41.5" y2="48.3" stroke="#dcdcdc" stroke-width="1.0" opacity="0.8"/>
<line x1="60.7" y1="13.2" x2="62.0" y2="10.5" stroke="#dcdcdc" stroke-width="1.0" opacity="0.8"/>
<line x1="36.7" y1="67.5" x2="38.7" y2="63.6" stroke="#dcdcdc" stroke-width="1.0" opacity="0.8"/>
<line x1="21.7" y1="78.7" x2="23.2" y2="75.5" stroke="#dcdcdc" stroke-width="1.0" opacity="0.8"/>
<line x1="8.1" y1="8.2" x2="9.2" y2="5.8" stroke="#dcdcdc" stroke-width="1.0" opacity="0.8"/>
<line x1="49.2" y1="13.5" x2="51.3" y2="9.0" stroke="#dcdcdc" stroke-width="1.0" opacity="0.8"/>
<line x1="58.1" y1="82.4" x2="60.5" y2="77.6" stroke="#dcdcdc" stroke-width="1.0" opacity="0.8"/>
<line x1="29.4" y1="53.3" x2="31.8" y2="48.5" stroke="#dcdcdc" stroke-width="1.0" opacity="0.8"/>
<line x1="48.4" y1="27.7" x2="50.7" y2="23.0" stroke="#dcdcdc" stroke-width="1.0" opacity="0.8"/>
<line x1="8.8" y1="29.4" x2="11.4" y2="24.1" stroke="#dcdcdc" stroke-width="1.0" opacity="0.8"/>
<line x1="32.5" y1="26.0" x2="34.8" y2="21.3" stroke="#dcdcdc" stroke-width="1.0" opacity="0.8"/>
<line x1="31.7" y1="4.5" x2="32.8" y2="2.1" stroke="#dcdcdc" stroke-width="1.0" opacity="0.8"/>
<line x1="18.6" y1="31.2" x2="21.1" y2="26.0" stroke="#dcdcdc" stroke-width="1.0" opacity="0.8"/>
<line x1="17.9" y1="70.9" x2="20.3" y2="66.0" stroke="#dcdcdc" stroke-width="1.0" opacity="0.8"/>
<line x1="28.9" y1="81.8" x2="31.2" y2="77.2" stroke="#dcdcdc" stroke-width="1.0" opacity="0.8"/>
<line x1="33.6" y1="25.0" x2="35.4" y2="21.3" stroke="#dcdcdc" stroke-width="1.0" opacity="0.8"/>
<line x1="60.9" y1="45.8" x2="62.3" y2="42.9" stroke="#dcdcdc" stroke-width="1.0" opacity="0.8"/>
<line x1="26.7" y1="41.1" x2="28.1" y2="38.2" stroke="#dcdcdc" stroke-width="1.0" opacity="0.8"/>
<line x1="39.1" y1="8.0" x2="41.4" y2="3.2" stroke="#dcdcdc" stroke-width="1.0" opacity="0.8"/>
<line x1="13.6" y1="13.0" x2="15.6" y2="8.9" stroke="#dcdcdc" stroke-width="1.0" opacity="0.8"/>
<line x1="22.0" y1="73.1" x2="23.9" y2="69.3" stroke="#dcdcdc" stroke-width="1.0" opacity="0.8"/>
<line x1="36.2" y1="68.7" x2="37.6" y2="65.8" stroke="#dcdcdc" stroke-width="1.0" opacity="0.8"/>
<line x1="50.6" y1="54.8" x2="52.3" y2="51.2" stroke="#dcdcdc" stroke-width="1.0" opacity="0.8"/>
<line x1="64.1" y1="7.2" x2="66.6" y2="2.2" stroke="#dcdcdc" stroke-width="1.0" opacity="0.8"/>
<line x1="11.7" y1="69.0" x2="13.0" y2="66.3" stroke="#dcdcdc" stroke-width="1.0" opacity="0.8"/>
<line x1="5.2" y1="44.1" x2="7.7" y2="39.0" stroke="#dcdcdc" stroke-width="1.0" opacity="0.8"/>
<line x1="18.7" y1="42.5" x2="20.7" y2="38.4" stroke="#dcdcdc" stroke-width="1.0" opacity="0.8"/>
<line x1="18.3" y1="45.0" x2="19.4" y2="42.7" stroke="#dcdcdc" stroke-width="1.0" opacity="0.8"/>
<line x1="31.4" y1="63.2" x2="33.0" y2="59.8" stroke="#dcdcdc" stroke-width="1.0" opacity="0.8"/>
<line x1="16.2" y1="9.1" x2="18.4" y2="4.7" stroke="#dcdcdc" stroke-width="1.0" opacity="0.8"/>
<line x1="29.7" y1="75.7" x2="31.9" y2="71.1" stroke="#dcdcdc" stroke-width="1.0" opacity="0.8"/>
<line x1="8.3" y1="76.0" x2="10.8" y2="70.8" stroke="#dcdcdc" stroke-width="1.0" opacity="0.8"/>
<line x1="55.0" y1="69.2" x2="57.2" y2="64.8" stroke="#dcdcdc" stroke-width="1.0" opacity="0.8"/>
<line x1="48.9" y1="56.4" x2="50.9" y2="52.3" stroke="#dcdcdc" stroke-width="1.0" opacity="0.8"/>
<line x1="18.6" y1="15.5" x2="20.8" y2="11.0" stroke="#dcdcdc" stroke-width="1.0" opacity="0.8"/>
<line x1="40.7" y1="9.5" x2="42.8" y2="5.2" stroke="#dcdcdc" stroke-width="1.0" opacity="0.8"/>
<line x1="41.5" y1="44.7" x2="43.8" y2="40.0" stroke="#dcdcdc" stroke-width="1.0" opacity="0.8"/>
<line x1="58.8" y1="34.8" x2="61.1" y2="29.9" stroke="#dcdcdc" stroke-width="1.0" opacity="0.8"/>
<line x1="34.6" y1="48.8" x2="36.3" y2="45.3" stroke="#dcdcdc" stroke-width="1.0" opacity="0.8"/>
<line x1="62.4" y1="39.8" x2="64.9" y2="34.6" stroke="#dcdcdc" stroke-width="1.0" opacity="0.8"/>
<line x1="23.7" y1="57.3" x2="26.2" y2="52.2" stroke="#dcdcdc" stroke-width="1.0" opacity="0.8"/>
<line x1="46.8" y1="33.1" x2="48.0" y2="30.7" stroke="#dcdcdc" stroke-width="1.0" opacity="0.8"/>
<line x1="32.9" y1="37.3" x2="35.3" y2="32.5" stroke="#dcdcdc" stroke-width="1.0" opacity="0.8"/>
<line x1="53.1" y1="80.8" x2="54.9" y2="77.1" stroke="#dcdcdc" stroke-width="1.0" opacity="0.8"/>
<line x1="28.6" y1="48.7" x2="30.8" y2="44.1" stroke="#dcdcdc" stroke-width="1.0" opacity="0.8"/>
<line x1="7.5" y1="20.9" x2="8.9" y2="18.2" stroke="#dcdcdc" stroke-width="1.0" opacity="0.8"/>
<line x1="22.8" y1="28.7" x2="25.4" y2="23.4" stroke="#dcdcdc" stroke-width="1.0" opacity="0.8"/>
<line x1="15.7" y1="76.5" x2="17.3" y2="73.3" stroke="#dcdcdc" stroke-width="1.0" opacity="0.8"/>
<line x1="15.6" y1="79.3" x2="16.9" y2="76.8" stroke="#dcdcdc" stroke-width="1.0" opacity="0.8"/>
<line x1="9.7" y1="14.1" x2="10.9" y2="11.7" stroke="#dcdcdc" stroke-width="1.0" opacity="0.8"/>
<line x1="27.5" y1="20.7" x2="28.8" y2="18.0" stroke="#dcdcdc" stroke-width="1.0" opacity="0.8"/>
<line x1="3.4" y1="58.0" x2="4.6" y2="55.6" stroke="#dcdcdc" stroke-width="1.0" opacity="0.8"/>
<line x1="16.8" y1="49.1" x2="19.3" y2="44.0" stroke="#dcdcdc" stroke-width="1.0" opacity="0.8"/>
<line x1="44.8" y1="59.8" x2="46.9" y2="55.4" stroke="#dcdcdc" stroke-width="1.0" opacity="0.8"/>
<line x1="54.1" y1="70.1" x2="55.5" y2="67.3" stroke="#dcdcdc" stroke-width="1.0" opacity="0.8"/>
<line x1="5.6" y1="52.8" x2="7.5" y2="48.9" stroke="#dcdcdc" stroke-width="1.0" opacity="0.8"/>
<line x1="36.2" y1="64.6" x2="37.5" y2="61.8" stroke="#dcdcdc" stroke-width="1.0" opacity="0.8"/>
<line x1="48.0" y1="37.6" x2="49.8" y2="34.1" stroke="#dcdcdc" stroke-width="1.0" opacity="0.8"/>
<line x1="17.9" y1="26.7" x2="19.9" y2="22.6" stroke="#dcdcdc" stroke-width="1.0" opacity="0.8"/>
<line x1="38.2" y1="74.4" x2="39.8" y2="71.3" stroke="#dcdcdc" stroke-width="1.0" opacity="0.8"/>
<line x1="48.5" y1="12.6" x2="50.6" y2="8.3" stroke="#dcdcdc" stroke-width="1.0" opacity="0.8"/>
<line x1="12.2" y1="71.7" x2="14.7" y2="66.4" stroke="#dcdcdc" stroke-width="1.0" opacity="0.8"/>
<line x1="18.8" y1="66.7" x2="20.3" y2="63.8" stroke="#dcdcdc" stroke-width="1.0" opacity="0.8"/>
<line x1="22.0" y1="12.8" x2="23.7" y2="9.1" stroke="#dcdcdc" stroke-width="1.0" opacity="0.8"/>
<line x1="8.8" y1="59.3" x2="10.8" y2="55.2" stroke="#dcdcdc" stroke-width="1.0" opacity="0.8"/>
<line x1="29.6" y1="59.2" x2="31.0" y2="56.2" stroke="#dcdcdc" stroke-width="1.0" opacity="0.8"/>
<line x1="24.0" y1="32.1" x2="25.1" y2="29.9" stroke="#dcdcdc" stroke-width="1.0" opacity="0.8"/>
<line x1="60.0" y1="11.1" x2="61.3" y2="8.5" stroke="#dcdcdc" stroke-width="1.0" opacity="0.8"/>
<line x1="54.0" y1="67.8" x2="55.8" y2="64.2" stroke="#dcdcdc" stroke-width="1.0" opacity="0.8"/>
<line x1="29.8" y1="14.8" x2="30.9" y2="12.6" stroke="#dcdcdc" stroke-width="1.0" opacity="0.8"/>
<line x1="36.2" y1="23.1" x2="37.5" y2="20.4" stroke="#dcdcdc" stroke-width="1.0" opacity="0.8"/>
<line x1="61.0" y1="6.2" x2="62.7" y2="2.8" stroke="#dcdcdc" stroke-width="1.0" opacity="0.8"/>
<line x1="51.2" y1="61.8" x2="52.5" y2="59.2" stroke="#dcdcdc" stroke-width="1.0" opacity="0.8"/>
<line x1="50.2" y1="48.5" x2="52.3" y2="44.3" stroke="#dcdcdc" stroke-width="1.0" opacity="0.8"/>
<line x1="63.3" y1="66.6" x2="65.3" y2="62.4" stroke="#dcdcdc" stroke-width="1.0" opacity="0.8"/>
<line x1="52.1" y1="42.9" x2="54.0" y2="38.9" stroke="#dcdcdc" stroke-width="1.0" opacity="0.8"/>
<line x1="55.3" y1="52.4" x2="57.0" y2="49.0" stroke="#dcdcdc" stroke-width="1.0" opacity="0.8"/>
<line x1="3.5" y1="65.5" x2="5.1" y2="62.1" stroke="#dcdcdc" stroke-width="1.0" opacity="0.8"/>
<line x1="29.9" y1="27.1" x2="31.9" y2="23.1" stroke="#dcdcdc" stroke-width="1.0" opacity="0.8"/>
<line x1="28.1" y1="69.3" x2="30.1" y2="65.2" stroke="#dcdcdc" stroke-width="1.0" opacity="0.8"/>
<line x1="38.4" y1="65.1" x2="40.2" y2="61.5" stroke="#dcdcdc" stroke-width="1.0" opacity="0.8"/>
<line x1="36.8" y1="63.0" x2="39.0" y2="58.5" stroke="#dcdcdc" stroke-width="1.0" opacity="0.8"/>
<line x1="50.4" y1="73.6" x2="52.3" y2="69.6" stroke="#dcdcdc" stroke-width="1.0" opacity="0.8"/>
<line x1="38.4" y1="19.0" x2="39.8" y2="16.0" stroke="#dcdcdc" stroke-width="1.0" opacity="0.8"/>
<line x1="30.0" y1="43.9" x2="32.5" y2="38.9" stroke="#dcdcdc" stroke-width="1.0" opacity="0.8"/>
<line x1="4.7" y1="32.2" x2="6.9" y2="27.6" stroke="#dcdcdc" stroke-width="1.0" opacity="0.8"/>
<line x1="32.2" y1="69.7" x2="33.5" y2="67.0" stroke="#dcdcdc" stroke-width="1.0" opacity="0.8"/>
<line x1="52.1" y1="38.2" x2="54.1" y2="34.2" stroke="#dcdcdc" stroke-width="1.0" opacity="0.8"/>
<line x1="5.5" y1="36.4" x2="7.9" y2="31.6" stroke="#dcdcdc" stroke-width="1.0" opacity="0.8"/>
<line x1="49.9" y1="48.2" x2="51.7" y2="44.6" stroke="#dcdcdc" stroke-width="1.0" opacity="0.8"/>
<line x1="4.6" y1="58.7" x2="6.4" y2="55.0" stroke="#dcdcdc" stroke-width="1.0" opacity="0.8"/>
<line x1="49.2" y1="51.9" x2="50.9" y2="48.4" stroke="#dcdcdc" stroke-width="1.0" opacity="0.8"/>
<line x1="58.6" y1="15.8" x2="61.1" y2="10.5" stroke="#dcdcdc" stroke-width="1.0" opacity="0.8"/>
<line x1="7.6" y1="79.7" x2="9.6" y2="75.6" stroke="#dcdcdc" stroke-width="1.0" opacity="0.8"/>
<line x1="31.2" y1="77.0" x2="33.0" y2="73.1" stroke="#dcdcdc" stroke-width="1.0" opacity="0.8"/>
<line x1="34.9" y1="10.0" x2="37.2" y2="5.2" stroke="#dcdcdc" stroke-width="1.0" opacity="0.8"/>
<line x1="43.9" y1="22.8" x2="45.2" y2="20.1" stroke="#dcdcdc" stroke-width="1.0" opacity="0.8"/>
<line x1="29.1" y1="77.5" x2="31.5" y2="72.5" stroke="#dcdcdc" stroke-width="1.0" opacity="0.8"/>
<line x1="32.1" y1="8.2" x2="34.4" y2="3.3" stroke="#dcdcdc" stroke-width="1.0" opacity="0.8"/>
<line x1="15.2" y1="61.2" x2="17.1" y2="57.4" stroke="#dcdcdc" stroke-width="1.0" opacity="0.8"/>
<line x1="64.5" y1="16.7" x2="66.8" y2="12.0" stroke="#dcdcdc" stroke-width="1.0" opacity="0.8"/>
<line x1="48.8" y1="6.3" x2="50.8" y2="2.3" stroke="#dcdcdc" stroke-width="1.0" opacity="0.8"/>
<line x1="20.9" y1="59.2" x2="23.4" y2="53.9" stroke="#dcdcdc" stroke-width="1.0" opacity="0.8"/>
<line x1="45.3" y1="43.1" x2="47.3" y2="39.0" stroke="#dcdcdc" stroke-width="1.0" opacity="0.8"/>
<line x1="18.5" y1="40.3" x2="19.8" y2="37.7" stroke="#dcdcdc" stroke-width="1.0" opacity="0.8"/>
<line x1="48.9" y1="10.0" x2="50.8" y2="6.1" stroke="#dcdcdc" stroke-width="1.0" opacity="0.8"/>
<line x1="14.1" y1="47.6" x2="15.3" y2="45.2" stroke="#dcdcdc" stroke-width="1.0" opacity="0.8"/>
<line x1="3.7" y1="53.4" x2="5.9" y2="48.9" stroke="#dcdcdc" stroke-width="1.0" opacity="0.8"/>
<line x1="59.4" y1="57.8" x2="62.0" y2="52.5" stroke="#dcdcdc" stroke-width="1.0" opacity="0.8"/>
<line x1="11.2" y1="53.5" x2="13.3" y2="49.3" stroke="#dcdcdc" stroke-width="1.0" opacity="0.8"/>
<line x1="13.7" y1="15.3" x2="15.1" y2="12.3" stroke="#dcdcdc" stroke-width="1.0" opacity="0.8"/>
<line x1="35.9" y1="65.9" x2="38.1" y2="61.4" stroke="#dcdcdc" stroke-width="1.0" opacity="0.8"/>
<line x1="39.1" y1="11.2" x2="41.3" y2="6.7" stroke="#dcdcdc" stroke-width="1.0" opacity="0.8"/>
<line x1="35.3" y1="18.2" x2="37.3" y2="14.0" stroke="#dcdcdc" stroke-width="1.0" opacity="0.8"/>
<line x1="18.1" y1="28.6" x2="19.9" y2="24.9" stroke="#dcdcdc" stroke-width="1.0" opacity="0.8"/>
<line x1="50.9" y1="13.0" x2="52.7" y2="9.4" stroke="#dcdcdc" stroke-width="1.0" opacity="0.8"/>
<line x1="17.1" y1="57.1" x2="19.5" y2="52.3" stroke="#dcdcdc" stroke-width="1.0" opacity="0.8"/>
<line x1="19.3" y1="60.3" x2="21.1" y2="56.6" stroke="#dcdcdc" stroke-width="1.0" opacity="0.8"/>
<line x1="16.2" y1="26.2" x2="18.1" y2="22.3" stroke="#dcdcdc" stroke-width="1.0" opacity="0.8"/>
<line x1="54.9" y1="50.5" x2="56.0" y2="48.2" stroke="#dcdcdc" stroke-width="1.0" opacity="0.8"/>
<line x1="52.9" y1="49.5" x2="54.7" y2="45.9" stroke="#dcdcdc" stroke-width="1.0" opacity="0.8"/>
<line x1="17.6" y1="39.2" x2="19.8" y2="34.7" stroke="#dcdcdc" stroke-width="1.0" opacity="0.8"/>
<line x1="19.4" y1="16.2" x2="21.8" y2="11.2" stroke="#dcdcdc" stroke-width="1.0" opacity="0.8"/>
<line x1="30.5" y1="11.0" x2="33.0" y2="5.9" stroke="#dcdcdc" stroke-width="1.0" opacity="0.8"/>
<line x1="9.1" y1="33.2" x2="11.1" y2="29.0" stroke="#dcdcdc" stroke-width="1.0" opacity="0.8"/>
<line x1="45.5" y1="73.6" x2="46.9" y2="70.8" stroke="#dcdcdc" stroke-width="1.0" opacity="0.8"/>
<line x1="39.1" y1="72.6" x2="40.9" y2="68.9" stroke="#dcdcdc" stroke-width="1.0" opacity="0.8"/>
<line x1="48.4" y1="41.2" x2="50.5" y2="36.7" stroke="#dcdcdc" stroke-width="1.0" opacity="0.8"/>
<line x1="64.2" y1="31.4" x2="66.4" y2="26.9" stroke="#dcdcdc" stroke-width="1.0" opacity="0.8"/>
<line x1="24.3" y1="73.7" x2="26.6" y2="69.0" stroke="#dcdcdc" stroke-width="1.0" opacity="0.8"/>
<line x1="57.8" y1="72.3" x2="59.8" y2="68.2" stroke="#dcdcdc" stroke-width="1.0" opacity="0.8"/>
<line x1="63.8" y1="17.0" x2="65.8" y2="12.9" stroke="#dcdcdc" stroke-width="1.0" opacity="0.8"/>
<line x1="6.8" y1="50.1" x2="8.9" y2="45.7" stroke="#dcdcdc" stroke-width="1.0" opacity="0.8"/>
<line x1="20.7" y1="67.3" x2="22.4" y2="63.7" stroke="#dcdcdc" stroke-width="1.0" opacity="0.8"/>
<line x1="14.8" y1="19.9" x2="16.8" y2="15.9" stroke="#dcdcdc" stroke-width="1.0" opacity="0.8"/>
<line x1="27.2" y1="8.2" x2="28.8" y2="5.0" stroke="#dcdcdc" stroke-width="1.0" opacity="0.8"/>
<line x1="65.3" y1="41.6" x2="67.4" y2="37.2" stroke="#dcdcdc" stroke-width="1.0" opacity="0.8"/>
<line x1="29.7" y1="10.6" x2="31.7" y2="6.4" stroke="#dcdcdc" stroke-width="1.0" opacity="0.8"/>
<line x1="15.6" y1="14.5" x2="17.7" y2="10.3" stroke="#dcdcdc" stroke-width="1.0" opacity="0.8"/>
</g>
<polygon points="16.0,20.0 24.0,16.0 32.0,20.0 40.0,28.0 48.0,36.0 57.0,42.0 62.0,50.0 58.0,58.0 46.0,61.0 34.0,58.0 24.0,52.0 14.0,46.0 11.0,34.0" fill="#ffffff" opacity="1" filter="url(#bl2)"/>
<ellipse cx="30" cy="37" rx="4" ry="3" fill="#909090" opacity="1" filter="url(#bl1)"/>
</g>
<clipPath id="cp9"><rect x="0" y="0" width="75.0" height="86.5"/></clipPath>
<g transform="translate(184.3,197.6)" clip-path="url(#cp9)">
<rect x="0.00" y="0.00" width="75.00" height="86.50" fill="#000" stroke="none" stroke-width="1" rx="0" />
<polygon points="0.0,0.0 14.0,0.0 16.0,10.0 15.0,22.0 11.0,36.0 6.0,50.0 2.0,60.0 0.0,62.0" fill="#7a1818" opacity="1" filter="url(#bl1)"/>
<clipPath id="cc14"><polygon points="0.0,0.0 14.0,0.0 16.0,10.0 15.0,22.0 11.0,36.0 6.0,50.0 2.0,60.0 0.0,62.0"/></clipPath>
<g clip-path="url(#cc14)">
<line x1="1.1" y1="36.9" x2="7.8" y2="25.3" stroke="#a02020" stroke-width="0.6" opacity="0.5"/>
<line x1="4.2" y1="41.8" x2="10.5" y2="30.9" stroke="#a02020" stroke-width="0.6" opacity="0.5"/>
<line x1="6.1" y1="16.3" x2="10.5" y2="8.8" stroke="#a02020" stroke-width="0.6" opacity="0.5"/>
<line x1="2.1" y1="51.7" x2="6.0" y2="45.0" stroke="#a02020" stroke-width="0.6" opacity="0.5"/>
<line x1="2.3" y1="31.9" x2="9.0" y2="20.4" stroke="#a02020" stroke-width="0.6" opacity="0.5"/>
<line x1="2.6" y1="60.5" x2="11.3" y2="45.5" stroke="#a02020" stroke-width="0.6" opacity="0.5"/>
<line x1="4.9" y1="19.8" x2="13.3" y2="5.3" stroke="#a02020" stroke-width="0.6" opacity="0.5"/>
<line x1="9.7" y1="35.7" x2="17.7" y2="21.9" stroke="#a02020" stroke-width="0.6" opacity="0.5"/>
<line x1="11.7" y1="63.2" x2="16.6" y2="54.7" stroke="#a02020" stroke-width="0.6" opacity="0.5"/>
<line x1="0.9" y1="54.2" x2="6.1" y2="45.3" stroke="#a02020" stroke-width="0.6" opacity="0.5"/>
<line x1="0.5" y1="9.7" x2="8.3" y2="-3.7" stroke="#a02020" stroke-width="0.6" opacity="0.5"/>
<line x1="0.3" y1="16.6" x2="7.3" y2="4.5" stroke="#a02020" stroke-width="0.6" opacity="0.5"/>
<line x1="-0.7" y1="52.3" x2="3.4" y2="45.0" stroke="#a02020" stroke-width="0.6" opacity="0.5"/>
<line x1="13.3" y1="12.1" x2="17.8" y2="4.3" stroke="#a02020" stroke-width="0.6" opacity="0.5"/>
<line x1="4.2" y1="52.9" x2="10.5" y2="42.0" stroke="#a02020" stroke-width="0.6" opacity="0.5"/>
<line x1="7.2" y1="22.1" x2="15.5" y2="7.8" stroke="#a02020" stroke-width="0.6" opacity="0.5"/>
<line x1="-0.7" y1="32.3" x2="7.2" y2="18.5" stroke="#a02020" stroke-width="0.6" opacity="0.5"/>
<line x1="2.5" y1="10.2" x2="10.0" y2="-2.9" stroke="#a02020" stroke-width="0.6" opacity="0.5"/>
<line x1="-1.3" y1="30.3" x2="4.2" y2="20.6" stroke="#a02020" stroke-width="0.6" opacity="0.5"/>
<line x1="3.5" y1="15.9" x2="12.1" y2="1.0" stroke="#a02020" stroke-width="0.6" opacity="0.5"/>
<line x1="10.3" y1="38.6" x2="15.7" y2="29.4" stroke="#a02020" stroke-width="0.6" opacity="0.5"/>
<line x1="3.2" y1="21.2" x2="9.1" y2="11.0" stroke="#a02020" stroke-width="0.6" opacity="0.5"/>
<line x1="5.7" y1="50.1" x2="9.9" y2="42.8" stroke="#a02020" stroke-width="0.6" opacity="0.5"/>
<line x1="11.6" y1="61.3" x2="18.2" y2="50.0" stroke="#a02020" stroke-width="0.6" opacity="0.5"/>
<line x1="6.3" y1="9.8" x2="11.2" y2="1.4" stroke="#a02020" stroke-width="0.6" opacity="0.5"/>
<line x1="-3.1" y1="13.3" x2="4.5" y2="0.3" stroke="#a02020" stroke-width="0.6" opacity="0.5"/>
<line x1="-0.8" y1="49.9" x2="7.1" y2="36.3" stroke="#a02020" stroke-width="0.6" opacity="0.5"/>
<line x1="3.2" y1="48.1" x2="10.1" y2="36.2" stroke="#a02020" stroke-width="0.6" opacity="0.5"/>
<line x1="6.3" y1="42.8" x2="13.5" y2="30.5" stroke="#a02020" stroke-width="0.6" opacity="0.5"/>
<line x1="0.1" y1="65.9" x2="4.9" y2="57.5" stroke="#a02020" stroke-width="0.6" opacity="0.5"/>
</g>
<polygon points="68.0,22.0 75.0,20.0 75.0,62.0 68.0,58.0" fill="#5a1010" opacity="1" filter="url(#bl1)"/>
<polygon points="0.0,74.0 20.0,78.0 40.0,82.0 60.0,76.0 75.0,70.0 75.0,87.0 0.0,87.0" fill="#a01818" opacity="1" filter="url(#bl1)"/>
<clipPath id="cc15"><polygon points="0.0,74.0 20.0,78.0 40.0,82.0 60.0,76.0 75.0,70.0 75.0,87.0 0.0,87.0"/></clipPath>
<g clip-path="url(#cc15)">
<line x1="60.1" y1="78.4" x2="68.8" y2="79.1" stroke="#c02a2a" stroke-width="0.6" opacity="0.5"/>
<line x1="0.7" y1="74.5" x2="17.4" y2="76.0" stroke="#c02a2a" stroke-width="0.6" opacity="0.5"/>
<line x1="64.0" y1="75.4" x2="76.1" y2="76.5" stroke="#c02a2a" stroke-width="0.6" opacity="0.5"/>
<line x1="28.2" y1="85.2" x2="40.3" y2="86.2" stroke="#c02a2a" stroke-width="0.6" opacity="0.5"/>
<line x1="19.7" y1="78.2" x2="27.3" y2="78.9" stroke="#c02a2a" stroke-width="0.6" opacity="0.5"/>
<line x1="30.5" y1="71.5" x2="46.6" y2="72.9" stroke="#c02a2a" stroke-width="0.6" opacity="0.5"/>
<line x1="26.9" y1="85.7" x2="38.8" y2="86.7" stroke="#c02a2a" stroke-width="0.6" opacity="0.5"/>
<line x1="11.9" y1="86.2" x2="28.5" y2="87.6" stroke="#c02a2a" stroke-width="0.6" opacity="0.5"/>
<line x1="-8.2" y1="86.0" x2="8.2" y2="87.4" stroke="#c02a2a" stroke-width="0.6" opacity="0.5"/>
<line x1="61.8" y1="79.0" x2="77.0" y2="80.3" stroke="#c02a2a" stroke-width="0.6" opacity="0.5"/>
<line x1="49.8" y1="75.3" x2="57.5" y2="76.0" stroke="#c02a2a" stroke-width="0.6" opacity="0.5"/>
<line x1="47.5" y1="85.9" x2="56.1" y2="86.6" stroke="#c02a2a" stroke-width="0.6" opacity="0.5"/>
<line x1="46.2" y1="77.9" x2="57.8" y2="78.9" stroke="#c02a2a" stroke-width="0.6" opacity="0.5"/>
<line x1="44.5" y1="79.5" x2="60.1" y2="80.9" stroke="#c02a2a" stroke-width="0.6" opacity="0.5"/>
<line x1="25.2" y1="77.3" x2="39.2" y2="78.5" stroke="#c02a2a" stroke-width="0.6" opacity="0.5"/>
<line x1="13.1" y1="85.2" x2="21.1" y2="85.9" stroke="#c02a2a" stroke-width="0.6" opacity="0.5"/>
<line x1="58.3" y1="71.7" x2="67.4" y2="72.5" stroke="#c02a2a" stroke-width="0.6" opacity="0.5"/>
<line x1="69.7" y1="80.8" x2="80.2" y2="81.7" stroke="#c02a2a" stroke-width="0.6" opacity="0.5"/>
<line x1="44.7" y1="74.6" x2="59.6" y2="75.9" stroke="#c02a2a" stroke-width="0.6" opacity="0.5"/>
<line x1="19.7" y1="76.0" x2="28.3" y2="76.8" stroke="#c02a2a" stroke-width="0.6" opacity="0.5"/>
<line x1="36.0" y1="72.4" x2="49.1" y2="73.5" stroke="#c02a2a" stroke-width="0.6" opacity="0.5"/>
<line x1="26.0" y1="81.7" x2="35.8" y2="82.6" stroke="#c02a2a" stroke-width="0.6" opacity="0.5"/>
<line x1="46.6" y1="70.8" x2="63.3" y2="72.3" stroke="#c02a2a" stroke-width="0.6" opacity="0.5"/>
<line x1="4.7" y1="77.8" x2="13.5" y2="78.6" stroke="#c02a2a" stroke-width="0.6" opacity="0.5"/>
<line x1="58.3" y1="74.5" x2="67.3" y2="75.3" stroke="#c02a2a" stroke-width="0.6" opacity="0.5"/>
<line x1="45.2" y1="83.2" x2="59.2" y2="84.4" stroke="#c02a2a" stroke-width="0.6" opacity="0.5"/>
<line x1="38.5" y1="80.9" x2="55.6" y2="82.4" stroke="#c02a2a" stroke-width="0.6" opacity="0.5"/>
<line x1="13.6" y1="70.7" x2="31.0" y2="72.2" stroke="#c02a2a" stroke-width="0.6" opacity="0.5"/>
<line x1="43.0" y1="81.2" x2="59.5" y2="82.7" stroke="#c02a2a" stroke-width="0.6" opacity="0.5"/>
<line x1="7.8" y1="80.6" x2="20.4" y2="81.7" stroke="#c02a2a" stroke-width="0.6" opacity="0.5"/>
</g>
<polygon points="17.0,3.0 45.0,6.0 55.0,12.0 65.0,16.0 68.0,25.0 66.0,40.0 68.0,55.0 64.0,62.0 60.0,70.0 55.0,76.0 40.0,80.0 25.0,80.0 12.0,78.0 5.0,72.0 3.0,60.0 8.0,48.0 14.0,35.0 18.0,20.0" fill="#4c5a1a" opacity="1" filter="url(#bl1)"/>
<clipPath id="cc16"><polygon points="17.0,3.0 45.0,6.0 55.0,12.0 65.0,16.0 68.0,25.0 66.0,40.0 68.0,55.0 64.0,62.0 60.0,70.0 55.0,76.0 40.0,80.0 25.0,80.0 12.0,78.0 5.0,72.0 3.0,60.0 8.0,48.0 14.0,35.0 18.0,20.0"/></clipPath>
<g clip-path="url(#cc16)">
<line x1="8.9" y1="59.2" x2="11.0" y2="55.0" stroke="#7ac030" stroke-width="1.0" opacity="0.7"/>
<line x1="63.4" y1="25.4" x2="64.9" y2="22.4" stroke="#7ac030" stroke-width="1.0" opacity="0.7"/>
<line x1="49.9" y1="55.3" x2="51.5" y2="52.1" stroke="#7ac030" stroke-width="1.0" opacity="0.7"/>
<line x1="46.3" y1="35.9" x2="48.6" y2="31.2" stroke="#7ac030" stroke-width="1.0" opacity="0.7"/>
<line x1="9.5" y1="22.7" x2="11.9" y2="17.7" stroke="#7ac030" stroke-width="1.0" opacity="0.7"/>
<line x1="25.1" y1="25.4" x2="27.4" y2="20.7" stroke="#7ac030" stroke-width="1.0" opacity="0.7"/>
<line x1="43.1" y1="16.5" x2="45.0" y2="12.5" stroke="#7ac030" stroke-width="1.0" opacity="0.7"/>
<line x1="45.1" y1="17.8" x2="47.2" y2="13.6" stroke="#7ac030" stroke-width="1.0" opacity="0.7"/>
<line x1="10.4" y1="30.2" x2="11.6" y2="27.7" stroke="#7ac030" stroke-width="1.0" opacity="0.7"/>
<line x1="15.4" y1="80.1" x2="17.1" y2="76.5" stroke="#7ac030" stroke-width="1.0" opacity="0.7"/>
<line x1="66.4" y1="38.9" x2="68.4" y2="34.7" stroke="#7ac030" stroke-width="1.0" opacity="0.7"/>
<line x1="59.1" y1="57.2" x2="60.4" y2="54.6" stroke="#7ac030" stroke-width="1.0" opacity="0.7"/>
<line x1="40.6" y1="53.2" x2="42.0" y2="50.4" stroke="#7ac030" stroke-width="1.0" opacity="0.7"/>
<line x1="8.2" y1="72.3" x2="10.1" y2="68.4" stroke="#7ac030" stroke-width="1.0" opacity="0.7"/>
<line x1="14.9" y1="39.3" x2="16.3" y2="36.4" stroke="#7ac030" stroke-width="1.0" opacity="0.7"/>
<line x1="54.3" y1="42.8" x2="55.5" y2="40.3" stroke="#7ac030" stroke-width="1.0" opacity="0.7"/>
<line x1="55.4" y1="11.5" x2="56.9" y2="8.3" stroke="#7ac030" stroke-width="1.0" opacity="0.7"/>
<line x1="4.2" y1="61.3" x2="5.5" y2="58.7" stroke="#7ac030" stroke-width="1.0" opacity="0.7"/>
<line x1="36.3" y1="12.0" x2="38.1" y2="8.3" stroke="#7ac030" stroke-width="1.0" opacity="0.7"/>
<line x1="46.7" y1="46.0" x2="48.4" y2="42.3" stroke="#7ac030" stroke-width="1.0" opacity="0.7"/>
<line x1="33.5" y1="38.7" x2="35.5" y2="34.6" stroke="#7ac030" stroke-width="1.0" opacity="0.7"/>
<line x1="8.4" y1="41.0" x2="9.9" y2="38.0" stroke="#7ac030" stroke-width="1.0" opacity="0.7"/>
<line x1="58.7" y1="76.5" x2="59.9" y2="74.1" stroke="#7ac030" stroke-width="1.0" opacity="0.7"/>
<line x1="11.3" y1="59.2" x2="13.3" y2="55.1" stroke="#7ac030" stroke-width="1.0" opacity="0.7"/>
<line x1="3.0" y1="59.9" x2="5.5" y2="54.7" stroke="#7ac030" stroke-width="1.0" opacity="0.7"/>
<line x1="29.5" y1="31.8" x2="31.5" y2="27.7" stroke="#7ac030" stroke-width="1.0" opacity="0.7"/>
<line x1="63.3" y1="24.9" x2="64.8" y2="21.7" stroke="#7ac030" stroke-width="1.0" opacity="0.7"/>
<line x1="14.4" y1="53.2" x2="16.2" y2="49.5" stroke="#7ac030" stroke-width="1.0" opacity="0.7"/>
<line x1="19.1" y1="34.0" x2="20.2" y2="31.7" stroke="#7ac030" stroke-width="1.0" opacity="0.7"/>
<line x1="22.3" y1="80.7" x2="24.3" y2="76.6" stroke="#7ac030" stroke-width="1.0" opacity="0.7"/>
<line x1="20.5" y1="76.8" x2="22.2" y2="73.4" stroke="#7ac030" stroke-width="1.0" opacity="0.7"/>
<line x1="18.7" y1="7.1" x2="20.0" y2="4.4" stroke="#7ac030" stroke-width="1.0" opacity="0.7"/>
<line x1="14.7" y1="23.2" x2="17.2" y2="18.2" stroke="#7ac030" stroke-width="1.0" opacity="0.7"/>
<line x1="19.2" y1="24.2" x2="21.2" y2="20.1" stroke="#7ac030" stroke-width="1.0" opacity="0.7"/>
<line x1="61.5" y1="27.8" x2="63.7" y2="23.1" stroke="#7ac030" stroke-width="1.0" opacity="0.7"/>
<line x1="26.0" y1="48.3" x2="28.0" y2="44.1" stroke="#7ac030" stroke-width="1.0" opacity="0.7"/>
<line x1="63.3" y1="63.2" x2="65.2" y2="59.4" stroke="#7ac030" stroke-width="1.0" opacity="0.7"/>
<line x1="56.8" y1="32.9" x2="58.5" y2="29.5" stroke="#7ac030" stroke-width="1.0" opacity="0.7"/>
<line x1="64.3" y1="47.4" x2="66.5" y2="42.7" stroke="#7ac030" stroke-width="1.0" opacity="0.7"/>
<line x1="22.4" y1="75.6" x2="24.5" y2="71.4" stroke="#7ac030" stroke-width="1.0" opacity="0.7"/>
<line x1="18.2" y1="76.8" x2="20.0" y2="73.0" stroke="#7ac030" stroke-width="1.0" opacity="0.7"/>
<line x1="24.4" y1="24.5" x2="25.7" y2="21.9" stroke="#7ac030" stroke-width="1.0" opacity="0.7"/>
<line x1="15.4" y1="57.6" x2="16.7" y2="55.0" stroke="#7ac030" stroke-width="1.0" opacity="0.7"/>
<line x1="18.9" y1="39.4" x2="20.8" y2="35.5" stroke="#7ac030" stroke-width="1.0" opacity="0.7"/>
<line x1="27.0" y1="65.0" x2="28.5" y2="61.9" stroke="#7ac030" stroke-width="1.0" opacity="0.7"/>
<line x1="26.3" y1="37.1" x2="27.6" y2="34.4" stroke="#7ac030" stroke-width="1.0" opacity="0.7"/>
<line x1="16.3" y1="16.5" x2="18.6" y2="12.0" stroke="#7ac030" stroke-width="1.0" opacity="0.7"/>
<line x1="11.8" y1="55.9" x2="13.2" y2="53.0" stroke="#7ac030" stroke-width="1.0" opacity="0.7"/>
<line x1="44.2" y1="55.2" x2="45.9" y2="51.9" stroke="#7ac030" stroke-width="1.0" opacity="0.7"/>
<line x1="62.7" y1="55.6" x2="64.6" y2="51.6" stroke="#7ac030" stroke-width="1.0" opacity="0.7"/>
<line x1="5.3" y1="35.8" x2="6.8" y2="32.8" stroke="#7ac030" stroke-width="1.0" opacity="0.7"/>
<line x1="32.3" y1="77.3" x2="34.8" y2="72.4" stroke="#7ac030" stroke-width="1.0" opacity="0.7"/>
<line x1="5.8" y1="58.0" x2="8.3" y2="52.8" stroke="#7ac030" stroke-width="1.0" opacity="0.7"/>
<line x1="37.0" y1="12.9" x2="39.5" y2="8.0" stroke="#7ac030" stroke-width="1.0" opacity="0.7"/>
<line x1="29.5" y1="81.0" x2="31.9" y2="76.0" stroke="#7ac030" stroke-width="1.0" opacity="0.7"/>
<line x1="56.3" y1="75.9" x2="57.5" y2="73.5" stroke="#7ac030" stroke-width="1.0" opacity="0.7"/>
<line x1="53.9" y1="27.8" x2="55.2" y2="25.2" stroke="#7ac030" stroke-width="1.0" opacity="0.7"/>
<line x1="27.1" y1="49.5" x2="28.2" y2="47.2" stroke="#7ac030" stroke-width="1.0" opacity="0.7"/>
<line x1="31.3" y1="65.3" x2="33.2" y2="61.5" stroke="#7ac030" stroke-width="1.0" opacity="0.7"/>
<line x1="36.0" y1="28.5" x2="38.6" y2="23.2" stroke="#7ac030" stroke-width="1.0" opacity="0.7"/>
<line x1="18.1" y1="57.6" x2="20.2" y2="53.3" stroke="#7ac030" stroke-width="1.0" opacity="0.7"/>
<line x1="2.3" y1="81.2" x2="3.8" y2="78.2" stroke="#7ac030" stroke-width="1.0" opacity="0.7"/>
<line x1="66.0" y1="77.0" x2="68.5" y2="71.9" stroke="#7ac030" stroke-width="1.0" opacity="0.7"/>
<line x1="57.7" y1="35.5" x2="59.5" y2="31.8" stroke="#7ac030" stroke-width="1.0" opacity="0.7"/>
<line x1="24.9" y1="76.2" x2="26.0" y2="73.9" stroke="#7ac030" stroke-width="1.0" opacity="0.7"/>
<line x1="10.7" y1="79.0" x2="13.1" y2="74.3" stroke="#7ac030" stroke-width="1.0" opacity="0.7"/>
<line x1="47.9" y1="79.5" x2="49.8" y2="75.6" stroke="#7ac030" stroke-width="1.0" opacity="0.7"/>
<line x1="56.1" y1="39.6" x2="58.5" y2="34.6" stroke="#7ac030" stroke-width="1.0" opacity="0.7"/>
<line x1="6.5" y1="38.8" x2="8.5" y2="34.7" stroke="#7ac030" stroke-width="1.0" opacity="0.7"/>
<line x1="53.6" y1="37.7" x2="55.7" y2="33.3" stroke="#7ac030" stroke-width="1.0" opacity="0.7"/>
<line x1="65.2" y1="36.7" x2="66.6" y2="33.8" stroke="#7ac030" stroke-width="1.0" opacity="0.7"/>
<line x1="4.1" y1="71.2" x2="5.9" y2="67.5" stroke="#7ac030" stroke-width="1.0" opacity="0.7"/>
<line x1="27.6" y1="44.3" x2="28.9" y2="41.7" stroke="#7ac030" stroke-width="1.0" opacity="0.7"/>
<line x1="16.7" y1="22.7" x2="18.2" y2="19.6" stroke="#7ac030" stroke-width="1.0" opacity="0.7"/>
<line x1="58.3" y1="23.3" x2="59.5" y2="20.7" stroke="#7ac030" stroke-width="1.0" opacity="0.7"/>
<line x1="58.8" y1="47.2" x2="59.9" y2="44.8" stroke="#7ac030" stroke-width="1.0" opacity="0.7"/>
<line x1="45.8" y1="58.0" x2="47.9" y2="53.7" stroke="#7ac030" stroke-width="1.0" opacity="0.7"/>
<line x1="52.6" y1="37.1" x2="54.1" y2="34.2" stroke="#7ac030" stroke-width="1.0" opacity="0.7"/>
<line x1="50.3" y1="53.4" x2="52.5" y2="48.9" stroke="#7ac030" stroke-width="1.0" opacity="0.7"/>
<line x1="13.9" y1="33.9" x2="16.0" y2="29.5" stroke="#7ac030" stroke-width="1.0" opacity="0.7"/>
<line x1="27.1" y1="51.3" x2="28.9" y2="47.5" stroke="#7ac030" stroke-width="1.0" opacity="0.7"/>
<line x1="51.1" y1="31.7" x2="53.0" y2="27.9" stroke="#7ac030" stroke-width="1.0" opacity="0.7"/>
<line x1="56.2" y1="28.3" x2="57.5" y2="25.5" stroke="#7ac030" stroke-width="1.0" opacity="0.7"/>
<line x1="43.2" y1="15.7" x2="45.6" y2="10.8" stroke="#7ac030" stroke-width="1.0" opacity="0.7"/>
<line x1="19.9" y1="74.6" x2="21.8" y2="70.7" stroke="#7ac030" stroke-width="1.0" opacity="0.7"/>
<line x1="11.9" y1="45.3" x2="14.1" y2="40.9" stroke="#7ac030" stroke-width="1.0" opacity="0.7"/>
<line x1="33.8" y1="53.6" x2="35.4" y2="50.2" stroke="#7ac030" stroke-width="1.0" opacity="0.7"/>
<line x1="64.2" y1="18.8" x2="66.5" y2="14.1" stroke="#7ac030" stroke-width="1.0" opacity="0.7"/>
<line x1="3.9" y1="43.3" x2="5.1" y2="40.8" stroke="#7ac030" stroke-width="1.0" opacity="0.7"/>
<line x1="10.3" y1="50.9" x2="12.8" y2="45.8" stroke="#7ac030" stroke-width="1.0" opacity="0.7"/>
<line x1="22.2" y1="35.9" x2="24.0" y2="32.1" stroke="#7ac030" stroke-width="1.0" opacity="0.7"/>
<line x1="41.5" y1="31.7" x2="43.1" y2="28.3" stroke="#7ac030" stroke-width="1.0" opacity="0.7"/>
<line x1="57.7" y1="47.5" x2="59.3" y2="44.1" stroke="#7ac030" stroke-width="1.0" opacity="0.7"/>
<line x1="55.3" y1="81.7" x2="57.1" y2="78.1" stroke="#7ac030" stroke-width="1.0" opacity="0.7"/>
<line x1="2.8" y1="29.0" x2="5.2" y2="24.0" stroke="#7ac030" stroke-width="1.0" opacity="0.7"/>
<line x1="13.0" y1="20.7" x2="15.3" y2="15.9" stroke="#7ac030" stroke-width="1.0" opacity="0.7"/>
<line x1="9.7" y1="69.9" x2="11.2" y2="66.9" stroke="#7ac030" stroke-width="1.0" opacity="0.7"/>
<line x1="27.6" y1="50.1" x2="28.8" y2="47.5" stroke="#7ac030" stroke-width="1.0" opacity="0.7"/>
<line x1="52.2" y1="39.1" x2="54.5" y2="34.4" stroke="#7ac030" stroke-width="1.0" opacity="0.7"/>
<line x1="51.5" y1="11.3" x2="53.8" y2="6.5" stroke="#7ac030" stroke-width="1.0" opacity="0.7"/>
<line x1="55.4" y1="23.7" x2="57.4" y2="19.6" stroke="#7ac030" stroke-width="1.0" opacity="0.7"/>
<line x1="15.2" y1="46.8" x2="17.5" y2="42.2" stroke="#7ac030" stroke-width="1.0" opacity="0.7"/>
<line x1="26.8" y1="45.4" x2="28.1" y2="42.7" stroke="#7ac030" stroke-width="1.0" opacity="0.7"/>
<line x1="57.9" y1="53.7" x2="60.3" y2="48.8" stroke="#7ac030" stroke-width="1.0" opacity="0.7"/>
<line x1="7.6" y1="61.7" x2="8.9" y2="59.1" stroke="#7ac030" stroke-width="1.0" opacity="0.7"/>
<line x1="37.9" y1="23.3" x2="40.4" y2="18.2" stroke="#7ac030" stroke-width="1.0" opacity="0.7"/>
<line x1="9.0" y1="41.3" x2="10.8" y2="37.6" stroke="#7ac030" stroke-width="1.0" opacity="0.7"/>
<line x1="27.0" y1="10.1" x2="29.1" y2="5.8" stroke="#7ac030" stroke-width="1.0" opacity="0.7"/>
<line x1="64.9" y1="33.3" x2="67.4" y2="28.3" stroke="#7ac030" stroke-width="1.0" opacity="0.7"/>
<line x1="24.1" y1="25.9" x2="25.9" y2="22.2" stroke="#7ac030" stroke-width="1.0" opacity="0.7"/>
<line x1="64.6" y1="6.2" x2="66.9" y2="1.6" stroke="#c04a20" stroke-width="0.9" opacity="0.55"/>
<line x1="12.7" y1="80.1" x2="13.8" y2="77.8" stroke="#c04a20" stroke-width="0.9" opacity="0.55"/>
<line x1="59.0" y1="57.9" x2="61.4" y2="53.0" stroke="#c04a20" stroke-width="0.9" opacity="0.55"/>
<line x1="67.2" y1="23.1" x2="68.8" y2="19.8" stroke="#c04a20" stroke-width="0.9" opacity="0.55"/>
<line x1="48.3" y1="26.1" x2="49.8" y2="23.1" stroke="#c04a20" stroke-width="0.9" opacity="0.55"/>
<line x1="16.6" y1="71.6" x2="19.1" y2="66.6" stroke="#c04a20" stroke-width="0.9" opacity="0.55"/>
<line x1="53.6" y1="22.8" x2="56.1" y2="17.6" stroke="#c04a20" stroke-width="0.9" opacity="0.55"/>
<line x1="35.3" y1="22.7" x2="37.1" y2="19.0" stroke="#c04a20" stroke-width="0.9" opacity="0.55"/>
<line x1="29.3" y1="11.1" x2="31.3" y2="7.1" stroke="#c04a20" stroke-width="0.9" opacity="0.55"/>
<line x1="25.1" y1="49.4" x2="27.7" y2="44.3" stroke="#c04a20" stroke-width="0.9" opacity="0.55"/>
<line x1="43.8" y1="36.7" x2="46.2" y2="31.7" stroke="#c04a20" stroke-width="0.9" opacity="0.55"/>
<line x1="66.4" y1="43.4" x2="69.0" y2="38.1" stroke="#c04a20" stroke-width="0.9" opacity="0.55"/>
<line x1="3.5" y1="15.2" x2="4.9" y2="12.4" stroke="#c04a20" stroke-width="0.9" opacity="0.55"/>
<line x1="62.9" y1="58.4" x2="65.1" y2="53.9" stroke="#c04a20" stroke-width="0.9" opacity="0.55"/>
<line x1="20.4" y1="43.6" x2="22.9" y2="38.6" stroke="#c04a20" stroke-width="0.9" opacity="0.55"/>
<line x1="8.9" y1="13.1" x2="10.1" y2="10.8" stroke="#c04a20" stroke-width="0.9" opacity="0.55"/>
<line x1="32.5" y1="69.7" x2="34.4" y2="65.7" stroke="#c04a20" stroke-width="0.9" opacity="0.55"/>
<line x1="28.4" y1="43.1" x2="29.8" y2="40.3" stroke="#c04a20" stroke-width="0.9" opacity="0.55"/>
<line x1="63.9" y1="31.7" x2="65.4" y2="28.7" stroke="#c04a20" stroke-width="0.9" opacity="0.55"/>
<line x1="22.4" y1="68.1" x2="24.0" y2="64.9" stroke="#c04a20" stroke-width="0.9" opacity="0.55"/>
<line x1="60.9" y1="30.7" x2="62.7" y2="27.1" stroke="#c04a20" stroke-width="0.9" opacity="0.55"/>
<line x1="6.7" y1="75.3" x2="9.0" y2="70.5" stroke="#c04a20" stroke-width="0.9" opacity="0.55"/>
<line x1="32.9" y1="13.8" x2="34.8" y2="10.0" stroke="#c04a20" stroke-width="0.9" opacity="0.55"/>
<line x1="26.2" y1="70.3" x2="28.7" y2="65.1" stroke="#c04a20" stroke-width="0.9" opacity="0.55"/>
<line x1="50.6" y1="26.3" x2="51.8" y2="23.9" stroke="#c04a20" stroke-width="0.9" opacity="0.55"/>
<line x1="60.4" y1="77.1" x2="61.8" y2="74.4" stroke="#c04a20" stroke-width="0.9" opacity="0.55"/>
<line x1="34.2" y1="42.7" x2="36.8" y2="37.4" stroke="#c04a20" stroke-width="0.9" opacity="0.55"/>
<line x1="4.6" y1="10.2" x2="7.0" y2="5.3" stroke="#c04a20" stroke-width="0.9" opacity="0.55"/>
<line x1="38.9" y1="40.9" x2="41.2" y2="36.2" stroke="#c04a20" stroke-width="0.9" opacity="0.55"/>
<line x1="40.8" y1="57.8" x2="42.3" y2="54.8" stroke="#c04a20" stroke-width="0.9" opacity="0.55"/>
<line x1="7.7" y1="5.3" x2="9.3" y2="2.0" stroke="#c04a20" stroke-width="0.9" opacity="0.55"/>
<line x1="44.3" y1="33.9" x2="46.0" y2="30.6" stroke="#c04a20" stroke-width="0.9" opacity="0.55"/>
<line x1="42.2" y1="59.4" x2="44.2" y2="55.2" stroke="#c04a20" stroke-width="0.9" opacity="0.55"/>
<line x1="22.1" y1="68.7" x2="24.4" y2="63.9" stroke="#c04a20" stroke-width="0.9" opacity="0.55"/>
<line x1="60.5" y1="72.9" x2="61.6" y2="70.6" stroke="#c04a20" stroke-width="0.9" opacity="0.55"/>
<line x1="45.6" y1="31.5" x2="47.3" y2="28.1" stroke="#c04a20" stroke-width="0.9" opacity="0.55"/>
<line x1="35.9" y1="15.6" x2="37.4" y2="12.6" stroke="#c04a20" stroke-width="0.9" opacity="0.55"/>
<line x1="65.9" y1="31.0" x2="68.4" y2="25.9" stroke="#c04a20" stroke-width="0.9" opacity="0.55"/>
<line x1="46.7" y1="28.9" x2="48.3" y2="25.6" stroke="#c04a20" stroke-width="0.9" opacity="0.55"/>
<line x1="41.5" y1="58.7" x2="43.1" y2="55.4" stroke="#c04a20" stroke-width="0.9" opacity="0.55"/>
<line x1="5.6" y1="18.7" x2="8.0" y2="13.8" stroke="#c04a20" stroke-width="0.9" opacity="0.55"/>
<line x1="49.2" y1="13.8" x2="51.6" y2="8.9" stroke="#c04a20" stroke-width="0.9" opacity="0.55"/>
<line x1="39.2" y1="31.3" x2="41.7" y2="26.3" stroke="#c04a20" stroke-width="0.9" opacity="0.55"/>
<line x1="10.6" y1="12.2" x2="12.2" y2="8.9" stroke="#c04a20" stroke-width="0.9" opacity="0.55"/>
<line x1="50.0" y1="47.1" x2="51.9" y2="43.3" stroke="#c04a20" stroke-width="0.9" opacity="0.55"/>
<line x1="60.8" y1="35.7" x2="63.1" y2="31.0" stroke="#c04a20" stroke-width="0.9" opacity="0.55"/>
<line x1="2.6" y1="64.7" x2="4.0" y2="61.9" stroke="#c04a20" stroke-width="0.9" opacity="0.55"/>
<line x1="44.6" y1="69.7" x2="46.7" y2="65.4" stroke="#c04a20" stroke-width="0.9" opacity="0.55"/>
<line x1="39.5" y1="47.7" x2="41.7" y2="43.0" stroke="#c04a20" stroke-width="0.9" opacity="0.55"/>
<line x1="26.0" y1="23.0" x2="27.9" y2="19.0" stroke="#c04a20" stroke-width="0.9" opacity="0.55"/>
<line x1="35.9" y1="13.9" x2="37.8" y2="10.0" stroke="#c04a20" stroke-width="0.9" opacity="0.55"/>
<line x1="32.3" y1="17.3" x2="34.4" y2="12.8" stroke="#c04a20" stroke-width="0.9" opacity="0.55"/>
<line x1="52.4" y1="31.6" x2="54.8" y2="26.6" stroke="#c04a20" stroke-width="0.9" opacity="0.55"/>
<line x1="66.3" y1="55.8" x2="68.0" y2="52.2" stroke="#c04a20" stroke-width="0.9" opacity="0.55"/>
<line x1="19.9" y1="14.6" x2="21.5" y2="11.5" stroke="#c04a20" stroke-width="0.9" opacity="0.55"/>
<line x1="66.7" y1="10.2" x2="69.2" y2="5.1" stroke="#c04a20" stroke-width="0.9" opacity="0.55"/>
<line x1="47.7" y1="64.6" x2="48.9" y2="62.1" stroke="#c04a20" stroke-width="0.9" opacity="0.55"/>
<line x1="43.9" y1="21.0" x2="46.1" y2="16.6" stroke="#c04a20" stroke-width="0.9" opacity="0.55"/>
<line x1="53.7" y1="60.5" x2="55.6" y2="56.6" stroke="#c04a20" stroke-width="0.9" opacity="0.55"/>
<line x1="59.8" y1="22.0" x2="61.2" y2="19.3" stroke="#c04a20" stroke-width="0.9" opacity="0.55"/>
<line x1="58.4" y1="9.1" x2="60.1" y2="5.5" stroke="#c04a20" stroke-width="0.9" opacity="0.55"/>
<line x1="29.5" y1="72.3" x2="31.1" y2="68.8" stroke="#c04a20" stroke-width="0.9" opacity="0.55"/>
<line x1="39.1" y1="43.5" x2="40.9" y2="39.7" stroke="#c04a20" stroke-width="0.9" opacity="0.55"/>
<line x1="32.8" y1="41.1" x2="34.8" y2="37.0" stroke="#c04a20" stroke-width="0.9" opacity="0.55"/>
<line x1="29.9" y1="38.2" x2="32.4" y2="33.0" stroke="#c04a20" stroke-width="0.9" opacity="0.55"/>
<line x1="65.2" y1="24.6" x2="67.7" y2="19.4" stroke="#c04a20" stroke-width="0.9" opacity="0.55"/>
<line x1="3.3" y1="31.1" x2="5.8" y2="26.1" stroke="#c04a20" stroke-width="0.9" opacity="0.55"/>
<line x1="12.7" y1="57.2" x2="15.3" y2="51.8" stroke="#c04a20" stroke-width="0.9" opacity="0.55"/>
<line x1="42.2" y1="39.6" x2="43.4" y2="37.2" stroke="#c04a20" stroke-width="0.9" opacity="0.55"/>
<line x1="31.2" y1="41.1" x2="33.5" y2="36.4" stroke="#c04a20" stroke-width="0.9" opacity="0.55"/>
</g>
<polygon points="16.0,20.0 24.0,16.0 32.0,20.0 40.0,28.0 48.0,36.0 57.0,42.0 62.0,50.0 58.0,58.0 46.0,61.0 34.0,58.0 24.0,52.0 14.0,46.0 11.0,34.0" fill="#70b820" opacity="1" filter="url(#bl3)"/>
<ellipse cx="40" cy="46" rx="9" ry="13" fill="#a8d830" opacity="0.6" filter="url(#bl3)" transform="rotate(-25 40 46)"/>
</g>
<clipPath id="cp10"><rect x="0" y="0" width="74.8" height="86.5"/></clipPath>
<g transform="translate(264.2,197.6)" clip-path="url(#cp10)">
<rect x="0.00" y="0.00" width="74.80" height="86.50" fill="#1e1e1e" stroke="none" stroke-width="1" rx="0" />
<polygon points="17.0,3.0 45.0,5.0 55.0,10.0 65.0,16.0 68.0,25.0 66.0,40.0 68.0,55.0 64.0,62.0 60.0,70.0 55.0,76.0 40.0,80.0 25.0,80.0 12.0,78.0 5.0,72.0 3.0,60.0 8.0,48.0 14.0,35.0 18.0,20.0" fill="#4c4c4c" opacity="1" filter="url(#bl1)"/>
<clipPath id="cc17"><polygon points="17.0,3.0 45.0,5.0 55.0,10.0 65.0,16.0 68.0,25.0 66.0,40.0 68.0,55.0 64.0,62.0 60.0,70.0 55.0,76.0 40.0,80.0 25.0,80.0 12.0,78.0 5.0,72.0 3.0,60.0 8.0,48.0 14.0,35.0 18.0,20.0"/></clipPath>
<g clip-path="url(#cc17)">
<line x1="25.6" y1="41.8" x2="27.4" y2="38.2" stroke="#e4e4e4" stroke-width="1.0" opacity="0.8"/>
<line x1="31.0" y1="36.7" x2="33.1" y2="32.4" stroke="#e4e4e4" stroke-width="1.0" opacity="0.8"/>
<line x1="19.3" y1="53.0" x2="20.4" y2="50.8" stroke="#e4e4e4" stroke-width="1.0" opacity="0.8"/>
<line x1="22.0" y1="30.1" x2="23.3" y2="27.5" stroke="#e4e4e4" stroke-width="1.0" opacity="0.8"/>
<line x1="50.2" y1="29.2" x2="52.5" y2="24.5" stroke="#e4e4e4" stroke-width="1.0" opacity="0.8"/>
<line x1="63.9" y1="25.0" x2="66.4" y2="20.0" stroke="#e4e4e4" stroke-width="1.0" opacity="0.8"/>
<line x1="54.9" y1="55.6" x2="56.1" y2="53.2" stroke="#e4e4e4" stroke-width="1.0" opacity="0.8"/>
<line x1="31.9" y1="52.8" x2="33.5" y2="49.7" stroke="#e4e4e4" stroke-width="1.0" opacity="0.8"/>
<line x1="16.8" y1="28.4" x2="18.3" y2="25.3" stroke="#e4e4e4" stroke-width="1.0" opacity="0.8"/>
<line x1="53.3" y1="31.6" x2="55.1" y2="28.0" stroke="#e4e4e4" stroke-width="1.0" opacity="0.8"/>
<line x1="44.0" y1="77.6" x2="45.6" y2="74.4" stroke="#e4e4e4" stroke-width="1.0" opacity="0.8"/>
<line x1="4.7" y1="80.4" x2="7.0" y2="75.6" stroke="#e4e4e4" stroke-width="1.0" opacity="0.8"/>
<line x1="53.6" y1="44.8" x2="55.1" y2="41.8" stroke="#e4e4e4" stroke-width="1.0" opacity="0.8"/>
<line x1="12.1" y1="28.3" x2="13.9" y2="24.6" stroke="#e4e4e4" stroke-width="1.0" opacity="0.8"/>
<line x1="6.2" y1="59.1" x2="8.4" y2="54.6" stroke="#e4e4e4" stroke-width="1.0" opacity="0.8"/>
<line x1="2.9" y1="69.8" x2="4.8" y2="66.0" stroke="#e4e4e4" stroke-width="1.0" opacity="0.8"/>
<line x1="61.6" y1="42.0" x2="63.9" y2="37.2" stroke="#e4e4e4" stroke-width="1.0" opacity="0.8"/>
<line x1="31.6" y1="52.1" x2="33.5" y2="48.3" stroke="#e4e4e4" stroke-width="1.0" opacity="0.8"/>
<line x1="3.8" y1="15.6" x2="5.2" y2="12.6" stroke="#e4e4e4" stroke-width="1.0" opacity="0.8"/>
<line x1="28.4" y1="33.4" x2="30.4" y2="29.5" stroke="#e4e4e4" stroke-width="1.0" opacity="0.8"/>
<line x1="45.1" y1="35.4" x2="46.7" y2="32.2" stroke="#e4e4e4" stroke-width="1.0" opacity="0.8"/>
<line x1="35.1" y1="78.7" x2="37.4" y2="74.0" stroke="#e4e4e4" stroke-width="1.0" opacity="0.8"/>
<line x1="44.9" y1="67.4" x2="46.3" y2="64.4" stroke="#e4e4e4" stroke-width="1.0" opacity="0.8"/>
<line x1="8.9" y1="11.5" x2="10.2" y2="8.9" stroke="#e4e4e4" stroke-width="1.0" opacity="0.8"/>
<line x1="2.3" y1="53.7" x2="4.8" y2="48.6" stroke="#e4e4e4" stroke-width="1.0" opacity="0.8"/>
<line x1="9.1" y1="58.5" x2="11.7" y2="53.3" stroke="#e4e4e4" stroke-width="1.0" opacity="0.8"/>
<line x1="51.7" y1="16.9" x2="53.8" y2="12.7" stroke="#e4e4e4" stroke-width="1.0" opacity="0.8"/>
<line x1="19.0" y1="17.9" x2="20.2" y2="15.6" stroke="#e4e4e4" stroke-width="1.0" opacity="0.8"/>
<line x1="36.5" y1="75.0" x2="37.8" y2="72.5" stroke="#e4e4e4" stroke-width="1.0" opacity="0.8"/>
<line x1="12.0" y1="34.1" x2="13.1" y2="31.7" stroke="#e4e4e4" stroke-width="1.0" opacity="0.8"/>
<line x1="32.3" y1="61.1" x2="34.1" y2="57.4" stroke="#e4e4e4" stroke-width="1.0" opacity="0.8"/>
<line x1="4.8" y1="6.8" x2="6.2" y2="3.9" stroke="#e4e4e4" stroke-width="1.0" opacity="0.8"/>
<line x1="45.4" y1="76.1" x2="47.3" y2="72.3" stroke="#e4e4e4" stroke-width="1.0" opacity="0.8"/>
<line x1="8.8" y1="21.4" x2="10.6" y2="17.8" stroke="#e4e4e4" stroke-width="1.0" opacity="0.8"/>
<line x1="9.2" y1="13.7" x2="10.9" y2="10.1" stroke="#e4e4e4" stroke-width="1.0" opacity="0.8"/>
<line x1="56.4" y1="23.8" x2="58.9" y2="18.8" stroke="#e4e4e4" stroke-width="1.0" opacity="0.8"/>
<line x1="59.2" y1="37.8" x2="60.7" y2="34.9" stroke="#e4e4e4" stroke-width="1.0" opacity="0.8"/>
<line x1="13.8" y1="56.8" x2="16.2" y2="52.0" stroke="#e4e4e4" stroke-width="1.0" opacity="0.8"/>
<line x1="58.1" y1="20.9" x2="59.8" y2="17.3" stroke="#e4e4e4" stroke-width="1.0" opacity="0.8"/>
<line x1="3.7" y1="28.0" x2="5.2" y2="24.9" stroke="#e4e4e4" stroke-width="1.0" opacity="0.8"/>
<line x1="9.7" y1="11.6" x2="12.4" y2="6.2" stroke="#e4e4e4" stroke-width="1.0" opacity="0.8"/>
<line x1="21.9" y1="43.4" x2="23.8" y2="39.5" stroke="#e4e4e4" stroke-width="1.0" opacity="0.8"/>
<line x1="32.8" y1="50.3" x2="34.6" y2="46.5" stroke="#e4e4e4" stroke-width="1.0" opacity="0.8"/>
<line x1="33.8" y1="11.2" x2="35.9" y2="7.0" stroke="#e4e4e4" stroke-width="1.0" opacity="0.8"/>
<line x1="45.7" y1="60.4" x2="47.3" y2="57.1" stroke="#e4e4e4" stroke-width="1.0" opacity="0.8"/>
<line x1="31.9" y1="67.4" x2="34.2" y2="62.8" stroke="#e4e4e4" stroke-width="1.0" opacity="0.8"/>
<line x1="5.7" y1="30.2" x2="7.1" y2="27.4" stroke="#e4e4e4" stroke-width="1.0" opacity="0.8"/>
<line x1="48.4" y1="35.7" x2="50.1" y2="32.2" stroke="#e4e4e4" stroke-width="1.0" opacity="0.8"/>
<line x1="16.4" y1="40.2" x2="18.6" y2="35.7" stroke="#e4e4e4" stroke-width="1.0" opacity="0.8"/>
<line x1="43.2" y1="21.8" x2="44.9" y2="18.3" stroke="#e4e4e4" stroke-width="1.0" opacity="0.8"/>
<line x1="42.3" y1="9.8" x2="44.7" y2="4.7" stroke="#e4e4e4" stroke-width="1.0" opacity="0.8"/>
<line x1="3.8" y1="52.5" x2="5.2" y2="49.8" stroke="#e4e4e4" stroke-width="1.0" opacity="0.8"/>
<line x1="64.4" y1="57.7" x2="65.9" y2="54.8" stroke="#e4e4e4" stroke-width="1.0" opacity="0.8"/>
<line x1="34.5" y1="70.6" x2="36.9" y2="65.6" stroke="#e4e4e4" stroke-width="1.0" opacity="0.8"/>
<line x1="45.0" y1="54.5" x2="47.2" y2="49.9" stroke="#e4e4e4" stroke-width="1.0" opacity="0.8"/>
<line x1="61.5" y1="44.7" x2="63.5" y2="40.5" stroke="#e4e4e4" stroke-width="1.0" opacity="0.8"/>
<line x1="54.2" y1="43.8" x2="55.6" y2="40.9" stroke="#e4e4e4" stroke-width="1.0" opacity="0.8"/>
<line x1="39.6" y1="32.1" x2="41.8" y2="27.7" stroke="#e4e4e4" stroke-width="1.0" opacity="0.8"/>
<line x1="51.0" y1="74.1" x2="52.3" y2="71.5" stroke="#e4e4e4" stroke-width="1.0" opacity="0.8"/>
<line x1="3.4" y1="77.0" x2="5.6" y2="72.4" stroke="#e4e4e4" stroke-width="1.0" opacity="0.8"/>
<line x1="66.6" y1="68.3" x2="69.1" y2="63.0" stroke="#e4e4e4" stroke-width="1.0" opacity="0.8"/>
<line x1="12.1" y1="19.4" x2="14.1" y2="15.2" stroke="#e4e4e4" stroke-width="1.0" opacity="0.8"/>
<line x1="51.0" y1="14.7" x2="53.5" y2="9.4" stroke="#e4e4e4" stroke-width="1.0" opacity="0.8"/>
<line x1="17.1" y1="20.5" x2="18.8" y2="16.9" stroke="#e4e4e4" stroke-width="1.0" opacity="0.8"/>
<line x1="14.2" y1="11.2" x2="15.4" y2="8.7" stroke="#e4e4e4" stroke-width="1.0" opacity="0.8"/>
<line x1="4.1" y1="16.8" x2="6.2" y2="12.4" stroke="#e4e4e4" stroke-width="1.0" opacity="0.8"/>
<line x1="52.8" y1="64.3" x2="54.6" y2="60.7" stroke="#e4e4e4" stroke-width="1.0" opacity="0.8"/>
<line x1="50.7" y1="14.4" x2="53.1" y2="9.4" stroke="#e4e4e4" stroke-width="1.0" opacity="0.8"/>
<line x1="28.8" y1="14.2" x2="30.5" y2="10.7" stroke="#e4e4e4" stroke-width="1.0" opacity="0.8"/>
<line x1="14.7" y1="61.9" x2="16.4" y2="58.5" stroke="#e4e4e4" stroke-width="1.0" opacity="0.8"/>
<line x1="3.5" y1="19.1" x2="4.7" y2="16.6" stroke="#e4e4e4" stroke-width="1.0" opacity="0.8"/>
<line x1="63.7" y1="37.0" x2="66.0" y2="32.3" stroke="#e4e4e4" stroke-width="1.0" opacity="0.8"/>
<line x1="40.5" y1="37.0" x2="42.7" y2="32.5" stroke="#e4e4e4" stroke-width="1.0" opacity="0.8"/>
<line x1="37.6" y1="9.0" x2="40.3" y2="3.7" stroke="#e4e4e4" stroke-width="1.0" opacity="0.8"/>
<line x1="24.8" y1="55.0" x2="26.5" y2="51.4" stroke="#e4e4e4" stroke-width="1.0" opacity="0.8"/>
<line x1="65.0" y1="17.1" x2="66.1" y2="14.6" stroke="#e4e4e4" stroke-width="1.0" opacity="0.8"/>
<line x1="4.6" y1="36.3" x2="7.0" y2="31.4" stroke="#e4e4e4" stroke-width="1.0" opacity="0.8"/>
<line x1="31.4" y1="76.1" x2="32.7" y2="73.4" stroke="#e4e4e4" stroke-width="1.0" opacity="0.8"/>
<line x1="64.6" y1="18.4" x2="67.0" y2="13.4" stroke="#e4e4e4" stroke-width="1.0" opacity="0.8"/>
<line x1="14.7" y1="49.9" x2="16.7" y2="45.8" stroke="#e4e4e4" stroke-width="1.0" opacity="0.8"/>
<line x1="64.9" y1="37.2" x2="67.3" y2="32.3" stroke="#e4e4e4" stroke-width="1.0" opacity="0.8"/>
<line x1="5.4" y1="74.2" x2="7.3" y2="70.3" stroke="#e4e4e4" stroke-width="1.0" opacity="0.8"/>
<line x1="37.1" y1="79.2" x2="38.7" y2="76.0" stroke="#e4e4e4" stroke-width="1.0" opacity="0.8"/>
<line x1="42.1" y1="49.8" x2="43.7" y2="46.6" stroke="#e4e4e4" stroke-width="1.0" opacity="0.8"/>
<line x1="11.8" y1="37.6" x2="13.3" y2="34.5" stroke="#e4e4e4" stroke-width="1.0" opacity="0.8"/>
<line x1="42.0" y1="35.7" x2="43.3" y2="33.2" stroke="#e4e4e4" stroke-width="1.0" opacity="0.8"/>
<line x1="46.8" y1="76.2" x2="48.8" y2="72.0" stroke="#e4e4e4" stroke-width="1.0" opacity="0.8"/>
<line x1="21.1" y1="29.0" x2="23.6" y2="23.7" stroke="#e4e4e4" stroke-width="1.0" opacity="0.8"/>
<line x1="31.3" y1="60.1" x2="32.5" y2="57.6" stroke="#e4e4e4" stroke-width="1.0" opacity="0.8"/>
<line x1="55.2" y1="73.3" x2="56.7" y2="70.3" stroke="#e4e4e4" stroke-width="1.0" opacity="0.8"/>
<line x1="21.7" y1="55.7" x2="24.2" y2="50.4" stroke="#e4e4e4" stroke-width="1.0" opacity="0.8"/>
<line x1="53.5" y1="6.0" x2="54.7" y2="3.4" stroke="#e4e4e4" stroke-width="1.0" opacity="0.8"/>
<line x1="59.5" y1="36.6" x2="62.0" y2="31.3" stroke="#e4e4e4" stroke-width="1.0" opacity="0.8"/>
<line x1="31.5" y1="68.8" x2="32.9" y2="65.8" stroke="#e4e4e4" stroke-width="1.0" opacity="0.8"/>
<line x1="65.1" y1="40.7" x2="66.2" y2="38.4" stroke="#e4e4e4" stroke-width="1.0" opacity="0.8"/>
<line x1="15.0" y1="11.1" x2="16.7" y2="7.6" stroke="#e4e4e4" stroke-width="1.0" opacity="0.8"/>
<line x1="64.0" y1="80.3" x2="66.5" y2="75.2" stroke="#e4e4e4" stroke-width="1.0" opacity="0.8"/>
<line x1="28.5" y1="64.5" x2="30.7" y2="59.9" stroke="#e4e4e4" stroke-width="1.0" opacity="0.8"/>
<line x1="55.9" y1="80.0" x2="58.2" y2="75.2" stroke="#e4e4e4" stroke-width="1.0" opacity="0.8"/>
<line x1="52.0" y1="28.8" x2="53.4" y2="26.0" stroke="#e4e4e4" stroke-width="1.0" opacity="0.8"/>
<line x1="29.0" y1="27.7" x2="31.3" y2="23.1" stroke="#e4e4e4" stroke-width="1.0" opacity="0.8"/>
<line x1="12.1" y1="20.9" x2="14.3" y2="16.3" stroke="#e4e4e4" stroke-width="1.0" opacity="0.8"/>
<line x1="5.0" y1="10.6" x2="6.1" y2="8.3" stroke="#e4e4e4" stroke-width="1.0" opacity="0.8"/>
<line x1="3.2" y1="12.9" x2="5.4" y2="8.3" stroke="#e4e4e4" stroke-width="1.0" opacity="0.8"/>
<line x1="19.6" y1="13.1" x2="21.4" y2="9.3" stroke="#e4e4e4" stroke-width="1.0" opacity="0.8"/>
<line x1="25.6" y1="4.5" x2="26.8" y2="2.0" stroke="#e4e4e4" stroke-width="1.0" opacity="0.8"/>
<line x1="18.9" y1="36.6" x2="20.1" y2="34.0" stroke="#e4e4e4" stroke-width="1.0" opacity="0.8"/>
<line x1="29.0" y1="42.8" x2="31.5" y2="37.7" stroke="#e4e4e4" stroke-width="1.0" opacity="0.8"/>
<line x1="41.9" y1="27.9" x2="43.3" y2="25.0" stroke="#e4e4e4" stroke-width="1.0" opacity="0.8"/>
<line x1="13.6" y1="35.4" x2="16.1" y2="30.2" stroke="#e4e4e4" stroke-width="1.0" opacity="0.8"/>
<line x1="64.9" y1="16.6" x2="67.0" y2="12.3" stroke="#e4e4e4" stroke-width="1.0" opacity="0.8"/>
<line x1="51.5" y1="76.6" x2="53.8" y2="72.0" stroke="#e4e4e4" stroke-width="1.0" opacity="0.8"/>
<line x1="43.4" y1="11.5" x2="44.9" y2="8.5" stroke="#e4e4e4" stroke-width="1.0" opacity="0.8"/>
<line x1="62.9" y1="75.6" x2="65.3" y2="70.6" stroke="#e4e4e4" stroke-width="1.0" opacity="0.8"/>
<line x1="23.7" y1="65.6" x2="26.0" y2="60.9" stroke="#e4e4e4" stroke-width="1.0" opacity="0.8"/>
<line x1="27.8" y1="30.7" x2="29.6" y2="27.0" stroke="#e4e4e4" stroke-width="1.0" opacity="0.8"/>
<line x1="37.4" y1="5.6" x2="38.5" y2="3.3" stroke="#e4e4e4" stroke-width="1.0" opacity="0.8"/>
<line x1="67.1" y1="36.1" x2="68.8" y2="32.6" stroke="#e4e4e4" stroke-width="1.0" opacity="0.8"/>
<line x1="40.2" y1="45.9" x2="42.4" y2="41.5" stroke="#e4e4e4" stroke-width="1.0" opacity="0.8"/>
<line x1="37.0" y1="5.7" x2="38.2" y2="3.3" stroke="#e4e4e4" stroke-width="1.0" opacity="0.8"/>
<line x1="18.8" y1="33.5" x2="21.4" y2="28.1" stroke="#e4e4e4" stroke-width="1.0" opacity="0.8"/>
<line x1="34.1" y1="15.5" x2="36.5" y2="10.6" stroke="#e4e4e4" stroke-width="1.0" opacity="0.8"/>
<line x1="22.4" y1="37.5" x2="24.5" y2="33.3" stroke="#e4e4e4" stroke-width="1.0" opacity="0.8"/>
<line x1="48.9" y1="23.5" x2="50.6" y2="20.0" stroke="#e4e4e4" stroke-width="1.0" opacity="0.8"/>
<line x1="2.4" y1="77.5" x2="4.9" y2="72.5" stroke="#e4e4e4" stroke-width="1.0" opacity="0.8"/>
<line x1="55.2" y1="20.9" x2="57.3" y2="16.7" stroke="#e4e4e4" stroke-width="1.0" opacity="0.8"/>
<line x1="30.4" y1="16.1" x2="31.8" y2="13.2" stroke="#e4e4e4" stroke-width="1.0" opacity="0.8"/>
<line x1="58.7" y1="51.9" x2="60.7" y2="47.7" stroke="#e4e4e4" stroke-width="1.0" opacity="0.8"/>
<line x1="10.6" y1="50.7" x2="13.1" y2="45.7" stroke="#e4e4e4" stroke-width="1.0" opacity="0.8"/>
<line x1="14.8" y1="23.7" x2="17.4" y2="18.5" stroke="#e4e4e4" stroke-width="1.0" opacity="0.8"/>
<line x1="19.5" y1="41.0" x2="22.0" y2="35.9" stroke="#e4e4e4" stroke-width="1.0" opacity="0.8"/>
<line x1="50.0" y1="28.7" x2="51.6" y2="25.4" stroke="#e4e4e4" stroke-width="1.0" opacity="0.8"/>
<line x1="18.1" y1="8.1" x2="20.0" y2="4.2" stroke="#e4e4e4" stroke-width="1.0" opacity="0.8"/>
<line x1="11.3" y1="25.2" x2="13.7" y2="20.4" stroke="#e4e4e4" stroke-width="1.0" opacity="0.8"/>
<line x1="10.2" y1="10.4" x2="11.4" y2="8.0" stroke="#e4e4e4" stroke-width="1.0" opacity="0.8"/>
<line x1="43.3" y1="23.4" x2="44.8" y2="20.3" stroke="#e4e4e4" stroke-width="1.0" opacity="0.8"/>
<line x1="35.6" y1="62.0" x2="38.1" y2="56.7" stroke="#e4e4e4" stroke-width="1.0" opacity="0.8"/>
<line x1="6.3" y1="30.9" x2="7.4" y2="28.6" stroke="#e4e4e4" stroke-width="1.0" opacity="0.8"/>
<line x1="25.1" y1="55.9" x2="26.7" y2="52.6" stroke="#e4e4e4" stroke-width="1.0" opacity="0.8"/>
<line x1="29.6" y1="29.2" x2="32.2" y2="23.9" stroke="#e4e4e4" stroke-width="1.0" opacity="0.8"/>
<line x1="54.6" y1="73.5" x2="56.7" y2="69.3" stroke="#e4e4e4" stroke-width="1.0" opacity="0.8"/>
<line x1="60.5" y1="53.9" x2="61.7" y2="51.3" stroke="#e4e4e4" stroke-width="1.0" opacity="0.8"/>
<line x1="10.6" y1="78.2" x2="12.6" y2="74.2" stroke="#e4e4e4" stroke-width="1.0" opacity="0.8"/>
<line x1="49.7" y1="48.6" x2="52.2" y2="43.5" stroke="#e4e4e4" stroke-width="1.0" opacity="0.8"/>
<line x1="15.3" y1="16.8" x2="16.7" y2="13.8" stroke="#e4e4e4" stroke-width="1.0" opacity="0.8"/>
<line x1="49.7" y1="50.9" x2="51.6" y2="47.0" stroke="#e4e4e4" stroke-width="1.0" opacity="0.8"/>
<line x1="15.5" y1="37.2" x2="17.0" y2="34.1" stroke="#e4e4e4" stroke-width="1.0" opacity="0.8"/>
<line x1="8.1" y1="78.9" x2="10.4" y2="74.1" stroke="#e4e4e4" stroke-width="1.0" opacity="0.8"/>
<line x1="53.3" y1="34.3" x2="55.7" y2="29.4" stroke="#e4e4e4" stroke-width="1.0" opacity="0.8"/>
<line x1="54.4" y1="23.6" x2="57.0" y2="18.4" stroke="#e4e4e4" stroke-width="1.0" opacity="0.8"/>
<line x1="54.9" y1="8.6" x2="56.1" y2="6.0" stroke="#e4e4e4" stroke-width="1.0" opacity="0.8"/>
<line x1="8.0" y1="56.0" x2="9.3" y2="53.3" stroke="#e4e4e4" stroke-width="1.0" opacity="0.8"/>
<line x1="11.7" y1="7.4" x2="13.5" y2="3.8" stroke="#e4e4e4" stroke-width="1.0" opacity="0.8"/>
<line x1="22.2" y1="47.7" x2="23.6" y2="44.9" stroke="#e4e4e4" stroke-width="1.0" opacity="0.8"/>
<line x1="47.6" y1="52.9" x2="49.3" y2="49.4" stroke="#e4e4e4" stroke-width="1.0" opacity="0.8"/>
<line x1="64.8" y1="50.6" x2="66.7" y2="46.6" stroke="#e4e4e4" stroke-width="1.0" opacity="0.8"/>
<line x1="17.3" y1="28.5" x2="19.5" y2="24.0" stroke="#e4e4e4" stroke-width="1.0" opacity="0.8"/>
<line x1="24.7" y1="13.1" x2="26.4" y2="9.5" stroke="#e4e4e4" stroke-width="1.0" opacity="0.8"/>
<line x1="34.1" y1="15.5" x2="35.6" y2="12.5" stroke="#e4e4e4" stroke-width="1.0" opacity="0.8"/>
<line x1="62.3" y1="67.2" x2="64.1" y2="63.6" stroke="#e4e4e4" stroke-width="1.0" opacity="0.8"/>
<line x1="51.6" y1="54.0" x2="53.0" y2="51.2" stroke="#e4e4e4" stroke-width="1.0" opacity="0.8"/>
<line x1="37.7" y1="10.1" x2="39.7" y2="6.0" stroke="#e4e4e4" stroke-width="1.0" opacity="0.8"/>
<line x1="36.9" y1="12.9" x2="38.8" y2="9.0" stroke="#e4e4e4" stroke-width="1.0" opacity="0.8"/>
<line x1="17.5" y1="56.5" x2="20.2" y2="51.1" stroke="#e4e4e4" stroke-width="1.0" opacity="0.8"/>
<line x1="54.4" y1="10.2" x2="56.4" y2="6.1" stroke="#e4e4e4" stroke-width="1.0" opacity="0.8"/>
<line x1="38.1" y1="75.2" x2="39.6" y2="72.1" stroke="#e4e4e4" stroke-width="1.0" opacity="0.8"/>
<line x1="8.4" y1="33.1" x2="10.0" y2="29.8" stroke="#e4e4e4" stroke-width="1.0" opacity="0.8"/>
<line x1="56.8" y1="73.2" x2="58.8" y2="69.1" stroke="#e4e4e4" stroke-width="1.0" opacity="0.8"/>
<line x1="51.7" y1="38.1" x2="53.2" y2="35.0" stroke="#e4e4e4" stroke-width="1.0" opacity="0.8"/>
<line x1="30.5" y1="57.0" x2="32.1" y2="53.8" stroke="#e4e4e4" stroke-width="1.0" opacity="0.8"/>
<line x1="56.1" y1="39.6" x2="57.6" y2="36.6" stroke="#e4e4e4" stroke-width="1.0" opacity="0.8"/>
<line x1="35.3" y1="71.5" x2="37.0" y2="68.1" stroke="#e4e4e4" stroke-width="1.0" opacity="0.8"/>
<line x1="22.3" y1="45.0" x2="24.8" y2="39.8" stroke="#e4e4e4" stroke-width="1.0" opacity="0.8"/>
<line x1="54.0" y1="60.0" x2="55.5" y2="56.9" stroke="#e4e4e4" stroke-width="1.0" opacity="0.8"/>
<line x1="42.0" y1="56.5" x2="43.6" y2="53.3" stroke="#e4e4e4" stroke-width="1.0" opacity="0.8"/>
<line x1="35.9" y1="17.8" x2="38.4" y2="12.7" stroke="#e4e4e4" stroke-width="1.0" opacity="0.8"/>
<line x1="45.3" y1="55.4" x2="47.7" y2="50.6" stroke="#e4e4e4" stroke-width="1.0" opacity="0.8"/>
<line x1="51.5" y1="31.5" x2="53.6" y2="27.3" stroke="#e4e4e4" stroke-width="1.0" opacity="0.8"/>
<line x1="10.3" y1="57.4" x2="12.0" y2="54.0" stroke="#e4e4e4" stroke-width="1.0" opacity="0.8"/>
<line x1="36.5" y1="68.5" x2="38.1" y2="65.3" stroke="#e4e4e4" stroke-width="1.0" opacity="0.8"/>
<line x1="14.5" y1="66.1" x2="16.0" y2="62.9" stroke="#e4e4e4" stroke-width="1.0" opacity="0.8"/>
<line x1="60.9" y1="76.1" x2="62.3" y2="73.4" stroke="#e4e4e4" stroke-width="1.0" opacity="0.8"/>
<line x1="38.4" y1="77.7" x2="40.5" y2="73.4" stroke="#e4e4e4" stroke-width="1.0" opacity="0.8"/>
<line x1="43.7" y1="15.5" x2="45.5" y2="11.9" stroke="#e4e4e4" stroke-width="1.0" opacity="0.8"/>
<line x1="54.4" y1="5.3" x2="56.6" y2="0.8" stroke="#e4e4e4" stroke-width="1.0" opacity="0.8"/>
<line x1="21.9" y1="27.3" x2="24.2" y2="22.5" stroke="#e4e4e4" stroke-width="1.0" opacity="0.8"/>
<line x1="25.7" y1="44.1" x2="28.3" y2="38.7" stroke="#e4e4e4" stroke-width="1.0" opacity="0.8"/>
<line x1="21.9" y1="78.7" x2="23.5" y2="75.4" stroke="#e4e4e4" stroke-width="1.0" opacity="0.8"/>
<line x1="40.0" y1="9.8" x2="42.6" y2="4.5" stroke="#e4e4e4" stroke-width="1.0" opacity="0.8"/>
<line x1="32.0" y1="43.8" x2="34.5" y2="38.5" stroke="#e4e4e4" stroke-width="1.0" opacity="0.8"/>
<line x1="29.3" y1="6.4" x2="31.0" y2="3.1" stroke="#e4e4e4" stroke-width="1.0" opacity="0.8"/>
<line x1="3.3" y1="8.4" x2="5.7" y2="3.4" stroke="#e4e4e4" stroke-width="1.0" opacity="0.8"/>
<line x1="53.0" y1="60.6" x2="55.1" y2="56.3" stroke="#e4e4e4" stroke-width="1.0" opacity="0.8"/>
<line x1="26.9" y1="48.5" x2="28.5" y2="45.3" stroke="#e4e4e4" stroke-width="1.0" opacity="0.8"/>
<line x1="43.0" y1="64.8" x2="44.7" y2="61.4" stroke="#e4e4e4" stroke-width="1.0" opacity="0.8"/>
<line x1="19.7" y1="30.0" x2="21.2" y2="27.1" stroke="#e4e4e4" stroke-width="1.0" opacity="0.8"/>
<line x1="62.1" y1="68.8" x2="63.7" y2="65.6" stroke="#e4e4e4" stroke-width="1.0" opacity="0.8"/>
<line x1="8.6" y1="44.0" x2="10.9" y2="39.3" stroke="#e4e4e4" stroke-width="1.0" opacity="0.8"/>
<line x1="21.0" y1="63.2" x2="22.7" y2="59.8" stroke="#e4e4e4" stroke-width="1.0" opacity="0.8"/>
<line x1="14.7" y1="67.5" x2="16.9" y2="63.0" stroke="#e4e4e4" stroke-width="1.0" opacity="0.8"/>
<line x1="27.4" y1="58.9" x2="29.0" y2="55.6" stroke="#e4e4e4" stroke-width="1.0" opacity="0.8"/>
<line x1="51.6" y1="55.5" x2="53.6" y2="51.5" stroke="#e4e4e4" stroke-width="1.0" opacity="0.8"/>
<line x1="22.1" y1="53.2" x2="23.6" y2="50.2" stroke="#e4e4e4" stroke-width="1.0" opacity="0.8"/>
<line x1="65.0" y1="48.5" x2="67.3" y2="43.9" stroke="#e4e4e4" stroke-width="1.0" opacity="0.8"/>
<line x1="6.0" y1="13.7" x2="7.6" y2="10.4" stroke="#e4e4e4" stroke-width="1.0" opacity="0.8"/>
<line x1="14.4" y1="34.3" x2="16.4" y2="30.2" stroke="#e4e4e4" stroke-width="1.0" opacity="0.8"/>
<line x1="52.1" y1="13.8" x2="54.2" y2="9.5" stroke="#e4e4e4" stroke-width="1.0" opacity="0.8"/>
<line x1="9.9" y1="63.7" x2="12.3" y2="58.7" stroke="#e4e4e4" stroke-width="1.0" opacity="0.8"/>
<line x1="47.9" y1="31.5" x2="49.6" y2="28.2" stroke="#e4e4e4" stroke-width="1.0" opacity="0.8"/>
<line x1="49.5" y1="70.0" x2="50.8" y2="67.4" stroke="#e4e4e4" stroke-width="1.0" opacity="0.8"/>
<line x1="19.0" y1="72.7" x2="21.3" y2="68.0" stroke="#e4e4e4" stroke-width="1.0" opacity="0.8"/>
<line x1="16.6" y1="16.2" x2="17.7" y2="13.8" stroke="#e4e4e4" stroke-width="1.0" opacity="0.8"/>
<line x1="20.5" y1="70.3" x2="22.5" y2="66.3" stroke="#e4e4e4" stroke-width="1.0" opacity="0.8"/>
<line x1="13.5" y1="16.4" x2="14.8" y2="13.8" stroke="#e4e4e4" stroke-width="1.0" opacity="0.8"/>
<line x1="27.5" y1="14.7" x2="28.8" y2="12.1" stroke="#e4e4e4" stroke-width="1.0" opacity="0.8"/>
<line x1="38.5" y1="16.1" x2="39.6" y2="13.8" stroke="#e4e4e4" stroke-width="1.0" opacity="0.8"/>
<line x1="4.4" y1="65.2" x2="6.5" y2="60.9" stroke="#e4e4e4" stroke-width="1.0" opacity="0.8"/>
<line x1="2.4" y1="79.0" x2="4.8" y2="74.0" stroke="#e4e4e4" stroke-width="1.0" opacity="0.8"/>
<line x1="3.1" y1="72.4" x2="4.2" y2="70.1" stroke="#e4e4e4" stroke-width="1.0" opacity="0.8"/>
<line x1="16.1" y1="14.5" x2="18.1" y2="10.5" stroke="#e4e4e4" stroke-width="1.0" opacity="0.8"/>
<line x1="44.9" y1="21.8" x2="46.9" y2="17.7" stroke="#e4e4e4" stroke-width="1.0" opacity="0.8"/>
<line x1="53.5" y1="9.3" x2="54.8" y2="6.5" stroke="#e4e4e4" stroke-width="1.0" opacity="0.8"/>
<line x1="52.9" y1="5.0" x2="54.4" y2="1.8" stroke="#e4e4e4" stroke-width="1.0" opacity="0.8"/>
<line x1="20.1" y1="49.5" x2="21.2" y2="47.3" stroke="#e4e4e4" stroke-width="1.0" opacity="0.8"/>
<line x1="2.0" y1="51.8" x2="4.2" y2="47.2" stroke="#e4e4e4" stroke-width="1.0" opacity="0.8"/>
<line x1="5.8" y1="51.7" x2="7.2" y2="48.8" stroke="#e4e4e4" stroke-width="1.0" opacity="0.8"/>
<line x1="54.9" y1="56.0" x2="56.9" y2="51.8" stroke="#e4e4e4" stroke-width="1.0" opacity="0.8"/>
<line x1="17.4" y1="41.1" x2="20.0" y2="35.8" stroke="#e4e4e4" stroke-width="1.0" opacity="0.8"/>
<line x1="35.0" y1="56.7" x2="37.3" y2="52.0" stroke="#e4e4e4" stroke-width="1.0" opacity="0.8"/>
<line x1="20.1" y1="29.3" x2="22.6" y2="23.9" stroke="#e4e4e4" stroke-width="1.0" opacity="0.8"/>
</g>
<ellipse cx="38" cy="44" rx="17" ry="14" fill="#888" opacity="0.8" filter="url(#bl3)"/>
</g>
<rect x="29.30" y="99.90" width="11.00" height="2.00" fill="#000" stroke="none" stroke-width="1" rx="0" />
<rect x="29.30" y="192.90" width="11.00" height="2.00" fill="#000" stroke="none" stroke-width="1" rx="0" />
<rect x="29.30" y="285.20" width="11.00" height="2.00" fill="#000" stroke="none" stroke-width="1" rx="0" />
<text x="29.50" y="8.60" font-size="10.2" fill="#e3202a" >A647-phalloidin</text>
<text x="112.80" y="8.60" font-size="10.15" fill="#2f9140" >mPlum-paxillin</text>
<text x="205.50" y="8.60" font-size="10.06" fill="#000" >Merged</text>
<text x="269.00" y="194.20" font-size="10.5" fill="#000" >xTalin1-EGFP</text>
<text x="0.30" y="14.10" font-size="17.9" fill="#000" font-weight="bold" >a</text>
<text transform="translate(22.90,55.30) rotate(-90)" x="0" y="0" font-size="11.4" fill="#000" text-anchor="middle" >Control siRNA</text>
<text transform="translate(24.2,149) rotate(-90)" font-size="11.5" text-anchor="middle"><tspan font-style="italic">xTalin1+2</tspan> siRNA</text>
<text transform="translate(9.20,243.50) rotate(-90)" x="0" y="0" font-size="11.4" fill="#000" text-anchor="middle" >xTalin1-EGFP +</text>
<text transform="translate(23.1,243.5) rotate(-90)" font-size="11.5" text-anchor="middle"><tspan font-style="italic">xTalin1+2</tspan> siRNA</text>
<text x="21.00" y="296.60" font-size="9.0" fill="#000" >10 μm</text>
<text x="0.80" y="316.30" font-size="17.5" fill="#000" font-weight="bold" >b</text>
<line x1="76.70" y1="304.60" x2="76.70" y2="425.20" stroke="#000" stroke-width="1.3" />
<line x1="76.00" y1="424.50" x2="256.20" y2="424.50" stroke="#000" stroke-width="1.3" />
<line x1="73.30" y1="424.10" x2="76.70" y2="424.10" stroke="#000" stroke-width="1.2" />
<text x="69.00" y="428.20" font-size="10.4" fill="#000" text-anchor="end" >0</text>
<line x1="73.30" y1="400.10" x2="76.70" y2="400.10" stroke="#000" stroke-width="1.2" />
<text x="69.00" y="404.50" font-size="10.4" fill="#000" text-anchor="end" >20</text>
<line x1="73.30" y1="376.20" x2="76.70" y2="376.20" stroke="#000" stroke-width="1.2" />
<text x="69.00" y="380.70" font-size="10.4" fill="#000" text-anchor="end" >40</text>
<line x1="73.30" y1="352.40" x2="76.70" y2="352.40" stroke="#000" stroke-width="1.2" />
<text x="69.00" y="356.80" font-size="10.4" fill="#000" text-anchor="end" >60</text>
<line x1="73.30" y1="328.20" x2="76.70" y2="328.20" stroke="#000" stroke-width="1.2" />
<text x="69.00" y="336.20" font-size="10.4" fill="#000" text-anchor="end" >80</text>
<line x1="73.30" y1="304.50" x2="76.70" y2="304.50" stroke="#000" stroke-width="1.2" />
<text x="69.00" y="316.10" font-size="10.4" fill="#000" text-anchor="end" >100</text>
<line x1="121.70" y1="424.50" x2="121.70" y2="427.50" stroke="#000" stroke-width="1" />
<line x1="212.10" y1="424.50" x2="212.10" y2="427.50" stroke="#000" stroke-width="1" />
<text transform="translate(47.3,365) rotate(-90)" font-size="11.6" text-anchor="middle">Actin flow speed (nm/s)</text>
<text x="83.60" y="437.20" font-size="11.55" fill="#000" >Control siRNA</text>
<text x="177.4" y="437.4" font-size="11.6"><tspan font-style="italic">xTalin1+2</tspan> siRNA</text>
<circle cx="122.10" cy="369.30" r="1.0" fill="#2f6fc4"/>
<circle cx="120.30" cy="381.40" r="1.0" fill="#2f6fc4"/>
<circle cx="123.90" cy="382.80" r="1.0" fill="#2f6fc4"/>
<circle cx="122.10" cy="387.70" r="1.0" fill="#2f6fc4"/>
<circle cx="118.60" cy="391.30" r="1.0" fill="#2f6fc4"/>
<circle cx="122.10" cy="391.30" r="1.0" fill="#2f6fc4"/>
<circle cx="125.60" cy="391.30" r="1.0" fill="#2f6fc4"/>
<circle cx="102.10" cy="392.00" r="1.0" fill="#2f6fc4"/>
<circle cx="105.60" cy="392.00" r="1.0" fill="#2f6fc4"/>
<circle cx="109.10" cy="392.00" r="1.0" fill="#2f6fc4"/>
<circle cx="135.85" cy="392.00" r="1.0" fill="#2f6fc4"/>
<circle cx="139.35" cy="392.00" r="1.0" fill="#2f6fc4"/>
<circle cx="106.35" cy="395.40" r="1.0" fill="#2f6fc4"/>
<circle cx="109.85" cy="395.40" r="1.0" fill="#2f6fc4"/>
<circle cx="113.35" cy="395.40" r="1.0" fill="#2f6fc4"/>
<circle cx="116.85" cy="395.40" r="1.0" fill="#2f6fc4"/>
<circle cx="120.35" cy="395.40" r="1.0" fill="#2f6fc4"/>
<circle cx="123.85" cy="395.40" r="1.0" fill="#2f6fc4"/>
<circle cx="127.35" cy="395.40" r="1.0" fill="#2f6fc4"/>
<circle cx="130.85" cy="395.40" r="1.0" fill="#2f6fc4"/>
<circle cx="134.35" cy="395.40" r="1.0" fill="#2f6fc4"/>
<circle cx="137.85" cy="395.40" r="1.0" fill="#2f6fc4"/>
<circle cx="101.10" cy="398.20" r="1.0" fill="#2f6fc4"/>
<circle cx="104.60" cy="398.20" r="1.0" fill="#2f6fc4"/>
<circle cx="108.10" cy="398.20" r="1.0" fill="#2f6fc4"/>
<circle cx="111.60" cy="398.20" r="1.0" fill="#2f6fc4"/>
<circle cx="115.10" cy="398.20" r="1.0" fill="#2f6fc4"/>
<circle cx="118.60" cy="398.20" r="1.0" fill="#2f6fc4"/>
<circle cx="122.10" cy="398.20" r="1.0" fill="#2f6fc4"/>
<circle cx="125.60" cy="398.20" r="1.0" fill="#2f6fc4"/>
<circle cx="129.10" cy="398.20" r="1.0" fill="#2f6fc4"/>
<circle cx="132.60" cy="398.20" r="1.0" fill="#2f6fc4"/>
<circle cx="136.10" cy="398.20" r="1.0" fill="#2f6fc4"/>
<circle cx="139.60" cy="398.20" r="1.0" fill="#2f6fc4"/>
<circle cx="143.10" cy="398.20" r="1.0" fill="#2f6fc4"/>
<circle cx="94.10" cy="400.90" r="1.0" fill="#2f6fc4"/>
<circle cx="97.60" cy="400.90" r="1.0" fill="#2f6fc4"/>
<circle cx="101.10" cy="400.90" r="1.0" fill="#2f6fc4"/>
<circle cx="104.60" cy="400.90" r="1.0" fill="#2f6fc4"/>
<circle cx="108.10" cy="400.90" r="1.0" fill="#2f6fc4"/>
<circle cx="111.60" cy="400.90" r="1.0" fill="#2f6fc4"/>
<circle cx="115.10" cy="400.90" r="1.0" fill="#2f6fc4"/>
<circle cx="118.60" cy="400.90" r="1.0" fill="#2f6fc4"/>
<circle cx="122.10" cy="400.90" r="1.0" fill="#2f6fc4"/>
<circle cx="125.60" cy="400.90" r="1.0" fill="#2f6fc4"/>
<circle cx="129.10" cy="400.90" r="1.0" fill="#2f6fc4"/>
<circle cx="132.60" cy="400.90" r="1.0" fill="#2f6fc4"/>
<circle cx="136.10" cy="400.90" r="1.0" fill="#2f6fc4"/>
<circle cx="139.60" cy="400.90" r="1.0" fill="#2f6fc4"/>
<circle cx="143.10" cy="400.90" r="1.0" fill="#2f6fc4"/>
<circle cx="146.60" cy="400.90" r="1.0" fill="#2f6fc4"/>
<circle cx="150.10" cy="400.90" r="1.0" fill="#2f6fc4"/>
<circle cx="95.85" cy="402.70" r="1.0" fill="#2f6fc4"/>
<circle cx="99.35" cy="402.70" r="1.0" fill="#2f6fc4"/>
<circle cx="102.85" cy="402.70" r="1.0" fill="#2f6fc4"/>
<circle cx="106.35" cy="402.70" r="1.0" fill="#2f6fc4"/>
<circle cx="109.85" cy="402.70" r="1.0" fill="#2f6fc4"/>
<circle cx="113.35" cy="402.70" r="1.0" fill="#2f6fc4"/>
<circle cx="116.85" cy="402.70" r="1.0" fill="#2f6fc4"/>
<circle cx="120.35" cy="402.70" r="1.0" fill="#2f6fc4"/>
<circle cx="123.85" cy="402.70" r="1.0" fill="#2f6fc4"/>
<circle cx="127.35" cy="402.70" r="1.0" fill="#2f6fc4"/>
<circle cx="130.85" cy="402.70" r="1.0" fill="#2f6fc4"/>
<circle cx="134.35" cy="402.70" r="1.0" fill="#2f6fc4"/>
<circle cx="137.85" cy="402.70" r="1.0" fill="#2f6fc4"/>
<circle cx="141.35" cy="402.70" r="1.0" fill="#2f6fc4"/>
<circle cx="144.85" cy="402.70" r="1.0" fill="#2f6fc4"/>
<circle cx="148.35" cy="402.70" r="1.0" fill="#2f6fc4"/>
<circle cx="94.10" cy="404.50" r="1.0" fill="#2f6fc4"/>
<circle cx="97.60" cy="404.50" r="1.0" fill="#2f6fc4"/>
<circle cx="101.10" cy="404.50" r="1.0" fill="#2f6fc4"/>
<circle cx="104.60" cy="404.50" r="1.0" fill="#2f6fc4"/>
<circle cx="108.10" cy="404.50" r="1.0" fill="#2f6fc4"/>
<circle cx="111.60" cy="404.50" r="1.0" fill="#2f6fc4"/>
<circle cx="115.10" cy="404.50" r="1.0" fill="#2f6fc4"/>
<circle cx="118.60" cy="404.50" r="1.0" fill="#2f6fc4"/>
<circle cx="122.10" cy="404.50" r="1.0" fill="#2f6fc4"/>
<circle cx="125.60" cy="404.50" r="1.0" fill="#2f6fc4"/>
<circle cx="129.10" cy="404.50" r="1.0" fill="#2f6fc4"/>
<circle cx="132.60" cy="404.50" r="1.0" fill="#2f6fc4"/>
<circle cx="136.10" cy="404.50" r="1.0" fill="#2f6fc4"/>
<circle cx="139.60" cy="404.50" r="1.0" fill="#2f6fc4"/>
<circle cx="143.10" cy="404.50" r="1.0" fill="#2f6fc4"/>
<circle cx="146.60" cy="404.50" r="1.0" fill="#2f6fc4"/>
<circle cx="150.10" cy="404.50" r="1.0" fill="#2f6fc4"/>
<circle cx="94.10" cy="406.30" r="1.0" fill="#2f6fc4"/>
<circle cx="97.60" cy="406.30" r="1.0" fill="#2f6fc4"/>
<circle cx="101.10" cy="406.30" r="1.0" fill="#2f6fc4"/>
<circle cx="104.60" cy="406.30" r="1.0" fill="#2f6fc4"/>
<circle cx="108.10" cy="406.30" r="1.0" fill="#2f6fc4"/>
<circle cx="111.60" cy="406.30" r="1.0" fill="#2f6fc4"/>
<circle cx="115.10" cy="406.30" r="1.0" fill="#2f6fc4"/>
<circle cx="118.60" cy="406.30" r="1.0" fill="#2f6fc4"/>
<circle cx="122.10" cy="406.30" r="1.0" fill="#2f6fc4"/>
<circle cx="125.60" cy="406.30" r="1.0" fill="#2f6fc4"/>
<circle cx="129.10" cy="406.30" r="1.0" fill="#2f6fc4"/>
<circle cx="132.60" cy="406.30" r="1.0" fill="#2f6fc4"/>
<circle cx="136.10" cy="406.30" r="1.0" fill="#2f6fc4"/>
<circle cx="139.60" cy="406.30" r="1.0" fill="#2f6fc4"/>
<circle cx="143.10" cy="406.30" r="1.0" fill="#2f6fc4"/>
<circle cx="146.60" cy="406.30" r="1.0" fill="#2f6fc4"/>
<circle cx="150.10" cy="406.30" r="1.0" fill="#2f6fc4"/>
<circle cx="94.10" cy="408.10" r="1.0" fill="#2f6fc4"/>
<circle cx="97.60" cy="408.10" r="1.0" fill="#2f6fc4"/>
<circle cx="101.10" cy="408.10" r="1.0" fill="#2f6fc4"/>
<circle cx="104.60" cy="408.10" r="1.0" fill="#2f6fc4"/>
<circle cx="108.10" cy="408.10" r="1.0" fill="#2f6fc4"/>
<circle cx="111.60" cy="408.10" r="1.0" fill="#2f6fc4"/>
<circle cx="115.10" cy="408.10" r="1.0" fill="#2f6fc4"/>
<circle cx="118.60" cy="408.10" r="1.0" fill="#2f6fc4"/>
<circle cx="122.10" cy="408.10" r="1.0" fill="#2f6fc4"/>
<circle cx="125.60" cy="408.10" r="1.0" fill="#2f6fc4"/>
<circle cx="129.10" cy="408.10" r="1.0" fill="#2f6fc4"/>
<circle cx="132.60" cy="408.10" r="1.0" fill="#2f6fc4"/>
<circle cx="136.10" cy="408.10" r="1.0" fill="#2f6fc4"/>
<circle cx="139.60" cy="408.10" r="1.0" fill="#2f6fc4"/>
<circle cx="143.10" cy="408.10" r="1.0" fill="#2f6fc4"/>
<circle cx="146.60" cy="408.10" r="1.0" fill="#2f6fc4"/>
<circle cx="150.10" cy="408.10" r="1.0" fill="#2f6fc4"/>
<circle cx="99.35" cy="411.20" r="1.0" fill="#2f6fc4"/>
<circle cx="102.85" cy="411.20" r="1.0" fill="#2f6fc4"/>
<circle cx="106.35" cy="411.20" r="1.0" fill="#2f6fc4"/>
<circle cx="109.85" cy="411.20" r="1.0" fill="#2f6fc4"/>
<circle cx="113.35" cy="411.20" r="1.0" fill="#2f6fc4"/>
<circle cx="116.85" cy="411.20" r="1.0" fill="#2f6fc4"/>
<circle cx="120.35" cy="411.20" r="1.0" fill="#2f6fc4"/>
<circle cx="123.85" cy="411.20" r="1.0" fill="#2f6fc4"/>
<circle cx="127.35" cy="411.20" r="1.0" fill="#2f6fc4"/>
<circle cx="130.85" cy="411.20" r="1.0" fill="#2f6fc4"/>
<circle cx="134.35" cy="411.20" r="1.0" fill="#2f6fc4"/>
<circle cx="137.85" cy="411.20" r="1.0" fill="#2f6fc4"/>
<circle cx="141.35" cy="411.20" r="1.0" fill="#2f6fc4"/>
<circle cx="144.85" cy="411.20" r="1.0" fill="#2f6fc4"/>
<circle cx="104.60" cy="414.30" r="1.0" fill="#2f6fc4"/>
<circle cx="108.10" cy="414.30" r="1.0" fill="#2f6fc4"/>
<circle cx="111.60" cy="414.30" r="1.0" fill="#2f6fc4"/>
<circle cx="115.10" cy="414.30" r="1.0" fill="#2f6fc4"/>
<circle cx="118.60" cy="414.30" r="1.0" fill="#2f6fc4"/>
<circle cx="122.10" cy="414.30" r="1.0" fill="#2f6fc4"/>
<circle cx="125.60" cy="414.30" r="1.0" fill="#2f6fc4"/>
<circle cx="129.10" cy="414.30" r="1.0" fill="#2f6fc4"/>
<circle cx="132.60" cy="414.30" r="1.0" fill="#2f6fc4"/>
<circle cx="136.10" cy="414.30" r="1.0" fill="#2f6fc4"/>
<circle cx="139.60" cy="414.30" r="1.0" fill="#2f6fc4"/>
<circle cx="111.60" cy="417.20" r="1.0" fill="#2f6fc4"/>
<circle cx="115.10" cy="417.20" r="1.0" fill="#2f6fc4"/>
<circle cx="118.60" cy="417.20" r="1.0" fill="#2f6fc4"/>
<circle cx="122.10" cy="417.20" r="1.0" fill="#2f6fc4"/>
<circle cx="125.60" cy="417.20" r="1.0" fill="#2f6fc4"/>
<circle cx="129.10" cy="417.20" r="1.0" fill="#2f6fc4"/>
<circle cx="132.60" cy="417.20" r="1.0" fill="#2f6fc4"/>
<circle cx="116.85" cy="419.00" r="1.0" fill="#2f6fc4"/>
<circle cx="120.35" cy="419.00" r="1.0" fill="#2f6fc4"/>
<circle cx="123.85" cy="419.00" r="1.0" fill="#2f6fc4"/>
<circle cx="127.35" cy="419.00" r="1.0" fill="#2f6fc4"/>
<circle cx="211.60" cy="327.90" r="1.0" fill="#e41e1e"/>
<circle cx="211.60" cy="333.70" r="1.0" fill="#e41e1e"/>
<circle cx="209.75" cy="341.70" r="1.0" fill="#e41e1e"/>
<circle cx="213.45" cy="341.70" r="1.0" fill="#e41e1e"/>
<circle cx="209.75" cy="353.60" r="1.0" fill="#e41e1e"/>
<circle cx="213.45" cy="353.60" r="1.0" fill="#e41e1e"/>
<circle cx="207.90" cy="356.60" r="1.0" fill="#e41e1e"/>
<circle cx="211.60" cy="356.60" r="1.0" fill="#e41e1e"/>
<circle cx="215.30" cy="356.60" r="1.0" fill="#e41e1e"/>
<circle cx="209.75" cy="359.70" r="1.0" fill="#e41e1e"/>
<circle cx="213.45" cy="359.70" r="1.0" fill="#e41e1e"/>
<circle cx="200.50" cy="362.70" r="1.0" fill="#e41e1e"/>
<circle cx="204.20" cy="362.70" r="1.0" fill="#e41e1e"/>
<circle cx="207.90" cy="362.70" r="1.0" fill="#e41e1e"/>
<circle cx="211.60" cy="362.70" r="1.0" fill="#e41e1e"/>
<circle cx="215.30" cy="362.70" r="1.0" fill="#e41e1e"/>
<circle cx="219.00" cy="362.70" r="1.0" fill="#e41e1e"/>
<circle cx="222.70" cy="362.70" r="1.0" fill="#e41e1e"/>
<circle cx="196.80" cy="366.20" r="1.0" fill="#e41e1e"/>
<circle cx="200.50" cy="366.20" r="1.0" fill="#e41e1e"/>
<circle cx="204.20" cy="366.20" r="1.0" fill="#e41e1e"/>
<circle cx="207.90" cy="366.20" r="1.0" fill="#e41e1e"/>
<circle cx="211.60" cy="366.20" r="1.0" fill="#e41e1e"/>
<circle cx="215.30" cy="366.20" r="1.0" fill="#e41e1e"/>
<circle cx="219.00" cy="366.20" r="1.0" fill="#e41e1e"/>
<circle cx="222.70" cy="366.20" r="1.0" fill="#e41e1e"/>
<circle cx="226.40" cy="366.20" r="1.0" fill="#e41e1e"/>
<circle cx="200.50" cy="369.70" r="1.0" fill="#e41e1e"/>
<circle cx="204.20" cy="369.70" r="1.0" fill="#e41e1e"/>
<circle cx="207.90" cy="369.70" r="1.0" fill="#e41e1e"/>
<circle cx="211.60" cy="369.70" r="1.0" fill="#e41e1e"/>
<circle cx="215.30" cy="369.70" r="1.0" fill="#e41e1e"/>
<circle cx="219.00" cy="369.70" r="1.0" fill="#e41e1e"/>
<circle cx="222.70" cy="369.70" r="1.0" fill="#e41e1e"/>
<circle cx="198.65" cy="373.30" r="1.0" fill="#e41e1e"/>
<circle cx="202.35" cy="373.30" r="1.0" fill="#e41e1e"/>
<circle cx="206.05" cy="373.30" r="1.0" fill="#e41e1e"/>
<circle cx="209.75" cy="373.30" r="1.0" fill="#e41e1e"/>
<circle cx="213.45" cy="373.30" r="1.0" fill="#e41e1e"/>
<circle cx="217.15" cy="373.30" r="1.0" fill="#e41e1e"/>
<circle cx="220.85" cy="373.30" r="1.0" fill="#e41e1e"/>
<circle cx="224.55" cy="373.30" r="1.0" fill="#e41e1e"/>
<circle cx="198.65" cy="376.60" r="1.0" fill="#e41e1e"/>
<circle cx="202.35" cy="376.60" r="1.0" fill="#e41e1e"/>
<circle cx="206.05" cy="376.60" r="1.0" fill="#e41e1e"/>
<circle cx="209.75" cy="376.60" r="1.0" fill="#e41e1e"/>
<circle cx="213.45" cy="376.60" r="1.0" fill="#e41e1e"/>
<circle cx="217.15" cy="376.60" r="1.0" fill="#e41e1e"/>
<circle cx="220.85" cy="376.60" r="1.0" fill="#e41e1e"/>
<circle cx="224.55" cy="376.60" r="1.0" fill="#e41e1e"/>
<circle cx="196.80" cy="379.80" r="1.0" fill="#e41e1e"/>
<circle cx="200.50" cy="379.80" r="1.0" fill="#e41e1e"/>
<circle cx="204.20" cy="379.80" r="1.0" fill="#e41e1e"/>
<circle cx="207.90" cy="379.80" r="1.0" fill="#e41e1e"/>
<circle cx="211.60" cy="379.80" r="1.0" fill="#e41e1e"/>
<circle cx="215.30" cy="379.80" r="1.0" fill="#e41e1e"/>
<circle cx="219.00" cy="379.80" r="1.0" fill="#e41e1e"/>
<circle cx="222.70" cy="379.80" r="1.0" fill="#e41e1e"/>
<circle cx="226.40" cy="379.80" r="1.0" fill="#e41e1e"/>
<circle cx="193.10" cy="382.60" r="1.0" fill="#e41e1e"/>
<circle cx="196.80" cy="382.60" r="1.0" fill="#e41e1e"/>
<circle cx="200.50" cy="382.60" r="1.0" fill="#e41e1e"/>
<circle cx="204.20" cy="382.60" r="1.0" fill="#e41e1e"/>
<circle cx="207.90" cy="382.60" r="1.0" fill="#e41e1e"/>
<circle cx="211.60" cy="382.60" r="1.0" fill="#e41e1e"/>
<circle cx="215.30" cy="382.60" r="1.0" fill="#e41e1e"/>
<circle cx="219.00" cy="382.60" r="1.0" fill="#e41e1e"/>
<circle cx="222.70" cy="382.60" r="1.0" fill="#e41e1e"/>
<circle cx="226.40" cy="382.60" r="1.0" fill="#e41e1e"/>
<circle cx="230.10" cy="382.60" r="1.0" fill="#e41e1e"/>
<circle cx="194.95" cy="386.20" r="1.0" fill="#e41e1e"/>
<circle cx="198.65" cy="386.20" r="1.0" fill="#e41e1e"/>
<circle cx="202.35" cy="386.20" r="1.0" fill="#e41e1e"/>
<circle cx="206.05" cy="386.20" r="1.0" fill="#e41e1e"/>
<circle cx="209.75" cy="386.20" r="1.0" fill="#e41e1e"/>
<circle cx="213.45" cy="386.20" r="1.0" fill="#e41e1e"/>
<circle cx="217.15" cy="386.20" r="1.0" fill="#e41e1e"/>
<circle cx="220.85" cy="386.20" r="1.0" fill="#e41e1e"/>
<circle cx="224.55" cy="386.20" r="1.0" fill="#e41e1e"/>
<circle cx="228.25" cy="386.20" r="1.0" fill="#e41e1e"/>
<circle cx="193.10" cy="389.60" r="1.0" fill="#e41e1e"/>
<circle cx="196.80" cy="389.60" r="1.0" fill="#e41e1e"/>
<circle cx="200.50" cy="389.60" r="1.0" fill="#e41e1e"/>
<circle cx="204.20" cy="389.60" r="1.0" fill="#e41e1e"/>
<circle cx="207.90" cy="389.60" r="1.0" fill="#e41e1e"/>
<circle cx="211.60" cy="389.60" r="1.0" fill="#e41e1e"/>
<circle cx="215.30" cy="389.60" r="1.0" fill="#e41e1e"/>
<circle cx="219.00" cy="389.60" r="1.0" fill="#e41e1e"/>
<circle cx="222.70" cy="389.60" r="1.0" fill="#e41e1e"/>
<circle cx="226.40" cy="389.60" r="1.0" fill="#e41e1e"/>
<circle cx="230.10" cy="389.60" r="1.0" fill="#e41e1e"/>
<circle cx="183.85" cy="393.10" r="1.0" fill="#e41e1e"/>
<circle cx="187.55" cy="393.10" r="1.0" fill="#e41e1e"/>
<circle cx="191.25" cy="393.10" r="1.0" fill="#e41e1e"/>
<circle cx="194.95" cy="393.10" r="1.0" fill="#e41e1e"/>
<circle cx="198.65" cy="393.10" r="1.0" fill="#e41e1e"/>
<circle cx="202.35" cy="393.10" r="1.0" fill="#e41e1e"/>
<circle cx="206.05" cy="393.10" r="1.0" fill="#e41e1e"/>
<circle cx="209.75" cy="393.10" r="1.0" fill="#e41e1e"/>
<circle cx="213.45" cy="393.10" r="1.0" fill="#e41e1e"/>
<circle cx="217.15" cy="393.10" r="1.0" fill="#e41e1e"/>
<circle cx="220.85" cy="393.10" r="1.0" fill="#e41e1e"/>
<circle cx="224.55" cy="393.10" r="1.0" fill="#e41e1e"/>
<circle cx="228.25" cy="393.10" r="1.0" fill="#e41e1e"/>
<circle cx="231.95" cy="393.10" r="1.0" fill="#e41e1e"/>
<circle cx="235.65" cy="393.10" r="1.0" fill="#e41e1e"/>
<circle cx="239.35" cy="393.10" r="1.0" fill="#e41e1e"/>
<circle cx="187.55" cy="395.90" r="1.0" fill="#e41e1e"/>
<circle cx="191.25" cy="395.90" r="1.0" fill="#e41e1e"/>
<circle cx="194.95" cy="395.90" r="1.0" fill="#e41e1e"/>
<circle cx="198.65" cy="395.90" r="1.0" fill="#e41e1e"/>
<circle cx="202.35" cy="395.90" r="1.0" fill="#e41e1e"/>
<circle cx="206.05" cy="395.90" r="1.0" fill="#e41e1e"/>
<circle cx="209.75" cy="395.90" r="1.0" fill="#e41e1e"/>
<circle cx="213.45" cy="395.90" r="1.0" fill="#e41e1e"/>
<circle cx="217.15" cy="395.90" r="1.0" fill="#e41e1e"/>
<circle cx="220.85" cy="395.90" r="1.0" fill="#e41e1e"/>
<circle cx="224.55" cy="395.90" r="1.0" fill="#e41e1e"/>
<circle cx="228.25" cy="395.90" r="1.0" fill="#e41e1e"/>
<circle cx="231.95" cy="395.90" r="1.0" fill="#e41e1e"/>
<circle cx="235.65" cy="395.90" r="1.0" fill="#e41e1e"/>
<circle cx="189.40" cy="398.60" r="1.0" fill="#e41e1e"/>
<circle cx="193.10" cy="398.60" r="1.0" fill="#e41e1e"/>
<circle cx="196.80" cy="398.60" r="1.0" fill="#e41e1e"/>
<circle cx="200.50" cy="398.60" r="1.0" fill="#e41e1e"/>
<circle cx="204.20" cy="398.60" r="1.0" fill="#e41e1e"/>
<circle cx="207.90" cy="398.60" r="1.0" fill="#e41e1e"/>
<circle cx="211.60" cy="398.60" r="1.0" fill="#e41e1e"/>
<circle cx="215.30" cy="398.60" r="1.0" fill="#e41e1e"/>
<circle cx="219.00" cy="398.60" r="1.0" fill="#e41e1e"/>
<circle cx="222.70" cy="398.60" r="1.0" fill="#e41e1e"/>
<circle cx="226.40" cy="398.60" r="1.0" fill="#e41e1e"/>
<circle cx="230.10" cy="398.60" r="1.0" fill="#e41e1e"/>
<circle cx="233.80" cy="398.60" r="1.0" fill="#e41e1e"/>
<circle cx="185.70" cy="401.40" r="1.0" fill="#e41e1e"/>
<circle cx="189.40" cy="401.40" r="1.0" fill="#e41e1e"/>
<circle cx="193.10" cy="401.40" r="1.0" fill="#e41e1e"/>
<circle cx="196.80" cy="401.40" r="1.0" fill="#e41e1e"/>
<circle cx="200.50" cy="401.40" r="1.0" fill="#e41e1e"/>
<circle cx="204.20" cy="401.40" r="1.0" fill="#e41e1e"/>
<circle cx="207.90" cy="401.40" r="1.0" fill="#e41e1e"/>
<circle cx="211.60" cy="401.40" r="1.0" fill="#e41e1e"/>
<circle cx="215.30" cy="401.40" r="1.0" fill="#e41e1e"/>
<circle cx="219.00" cy="401.40" r="1.0" fill="#e41e1e"/>
<circle cx="222.70" cy="401.40" r="1.0" fill="#e41e1e"/>
<circle cx="226.40" cy="401.40" r="1.0" fill="#e41e1e"/>
<circle cx="230.10" cy="401.40" r="1.0" fill="#e41e1e"/>
<circle cx="233.80" cy="401.40" r="1.0" fill="#e41e1e"/>
<circle cx="237.50" cy="401.40" r="1.0" fill="#e41e1e"/>
<circle cx="198.65" cy="404.30" r="1.0" fill="#e41e1e"/>
<circle cx="202.35" cy="404.30" r="1.0" fill="#e41e1e"/>
<circle cx="206.05" cy="404.30" r="1.0" fill="#e41e1e"/>
<circle cx="209.75" cy="404.30" r="1.0" fill="#e41e1e"/>
<circle cx="213.45" cy="404.30" r="1.0" fill="#e41e1e"/>
<circle cx="217.15" cy="404.30" r="1.0" fill="#e41e1e"/>
<circle cx="220.85" cy="404.30" r="1.0" fill="#e41e1e"/>
<circle cx="224.55" cy="404.30" r="1.0" fill="#e41e1e"/>
<circle cx="202.35" cy="407.60" r="1.0" fill="#e41e1e"/>
<circle cx="206.05" cy="407.60" r="1.0" fill="#e41e1e"/>
<circle cx="209.75" cy="407.60" r="1.0" fill="#e41e1e"/>
<circle cx="213.45" cy="407.60" r="1.0" fill="#e41e1e"/>
<circle cx="217.15" cy="407.60" r="1.0" fill="#e41e1e"/>
<circle cx="220.85" cy="407.60" r="1.0" fill="#e41e1e"/>
<circle cx="202.35" cy="410.90" r="1.0" fill="#e41e1e"/>
<circle cx="206.05" cy="410.90" r="1.0" fill="#e41e1e"/>
<circle cx="209.75" cy="410.90" r="1.0" fill="#e41e1e"/>
<circle cx="213.45" cy="410.90" r="1.0" fill="#e41e1e"/>
<circle cx="217.15" cy="410.90" r="1.0" fill="#e41e1e"/>
<circle cx="220.85" cy="410.90" r="1.0" fill="#e41e1e"/>
<circle cx="206.05" cy="414.00" r="1.0" fill="#e41e1e"/>
<circle cx="209.75" cy="414.00" r="1.0" fill="#e41e1e"/>
<circle cx="213.45" cy="414.00" r="1.0" fill="#e41e1e"/>
<circle cx="217.15" cy="414.00" r="1.0" fill="#e41e1e"/>
<circle cx="209.75" cy="417.00" r="1.0" fill="#e41e1e"/>
<circle cx="213.45" cy="417.00" r="1.0" fill="#e41e1e"/>
<line x1="92.20" y1="404.70" x2="152.00" y2="404.70" stroke="#000" stroke-width="2.1" />
<line x1="122.10" y1="397.10" x2="122.10" y2="412.90" stroke="#000" stroke-width="1.9" />
<line x1="107.35" y1="397.10" x2="136.85" y2="397.10" stroke="#000" stroke-width="1.9" />
<line x1="107.35" y1="412.90" x2="136.85" y2="412.90" stroke="#000" stroke-width="1.9" />
<line x1="182.10" y1="385.90" x2="241.50" y2="385.90" stroke="#000" stroke-width="2.1" />
<line x1="211.80" y1="368.60" x2="211.80" y2="403.00" stroke="#000" stroke-width="1.9" />
<line x1="196.85" y1="368.60" x2="226.75" y2="368.60" stroke="#000" stroke-width="1.9" />
<line x1="196.85" y1="403.00" x2="226.75" y2="403.00" stroke="#000" stroke-width="1.9" />
<text x="353.20" y="13.90" font-size="16.5" fill="#000" font-weight="bold" >c</text>
<text x="393.90" y="13.80" font-size="11.0" fill="#000" >Head</text>
<text x="430.60" y="13.80" font-size="11.3" fill="#000" >Linker</text>
<text x="565.40" y="13.80" font-size="11.2" fill="#000" text-anchor="end" >Rod</text>
<path d="M375.8,21.4 V17.3 H440 V21 M438,17.3 V21 M440.6,21 V17.3 H451.3 V21.4 M453.4,21.4 V17.3 H658.2 V21.4" fill="none" stroke="#000" stroke-width="1.2"/>
<text x="397.40" y="31.90" font-size="8.8" fill="#ee2a2a" >ABS1 (F2-F3)</text>
<line x1="409.70" y1="37.10" x2="441.10" y2="37.10" stroke="#f02a2a" stroke-width="1.6" />
<text x="505.20" y="31.70" font-size="8.7" fill="#ee2a2a" >ABS2 (R4-R8)</text>
<line x1="497.00" y1="33.50" x2="569.70" y2="33.50" stroke="#f02a2a" stroke-width="1.6" />
<text x="613.70" y="31.50" font-size="8.65" fill="#ee2a2a" >ABS3 (R13-DD)</text>
<line x1="631.80" y1="33.50" x2="658.40" y2="33.50" stroke="#f02a2a" stroke-width="1.6" />
<text x="377.60" y="34.90" font-size="10.1" fill="#000" font-weight="bold" >WT</text>
<rect x="377.60" y="40.20" width="15.60" height="20.50" fill="#94d25a" stroke="#3c52c4" stroke-width="1.1" rx="2.5" />
<text x="385.40" y="52.61" font-size="6.0" fill="#000" text-anchor="middle" font-weight="bold" >F0</text>
<rect x="393.65" y="40.20" width="15.60" height="20.50" fill="#94d25a" stroke="#3c52c4" stroke-width="1.1" rx="2.5" />
<text x="401.45" y="52.61" font-size="6.0" fill="#000" text-anchor="middle" font-weight="bold" >F1</text>
<rect x="409.70" y="40.20" width="15.60" height="20.50" fill="#94d25a" stroke="#3c52c4" stroke-width="1.1" rx="2.5" />
<text x="417.50" y="52.61" font-size="6.0" fill="#000" text-anchor="middle" font-weight="bold" >F2</text>
<rect x="425.75" y="40.20" width="15.60" height="20.50" fill="#94d25a" stroke="#3c52c4" stroke-width="1.1" rx="2.5" />
<text x="433.55" y="52.61" font-size="6.0" fill="#000" text-anchor="middle" font-weight="bold" >F3</text>
<path d="M441.4,51.2 C443.4,47.8 445.0,48.2 446.5,50.4 S449.6,52.8 451.6,49.4" fill="none" stroke="#000" stroke-width="1.3"/>
<rect x="451.75" y="36.00" width="13.60" height="29.00" fill="#e6a8e2" stroke="#3c52c4" stroke-width="1.1" rx="2.5" />
<text x="458.55" y="52.62" font-size="5.9" fill="#000" text-anchor="middle" font-weight="bold" >R1</text>
<rect x="466.75" y="36.00" width="13.60" height="29.00" fill="#e6a8e2" stroke="#3c52c4" stroke-width="1.1" rx="2.5" />
<text x="473.55" y="52.62" font-size="5.9" fill="#000" text-anchor="middle" font-weight="bold" >R2</text>
<rect x="481.75" y="36.00" width="13.60" height="29.00" fill="#e6a8e2" stroke="#3c52c4" stroke-width="1.1" rx="2.5" />
<text x="488.55" y="52.62" font-size="5.9" fill="#000" text-anchor="middle" font-weight="bold" >R3</text>
<rect x="496.75" y="36.00" width="13.60" height="29.00" fill="#f4281a" stroke="#3c52c4" stroke-width="1.1" rx="2.5" />
<text x="503.55" y="52.62" font-size="5.9" fill="#000" text-anchor="middle" font-weight="bold" >R4</text>
<rect x="511.75" y="36.00" width="13.60" height="29.00" fill="#f4281a" stroke="#3c52c4" stroke-width="1.1" rx="2.5" />
<text x="518.55" y="52.62" font-size="5.9" fill="#000" text-anchor="middle" font-weight="bold" >R5</text>
<rect x="526.75" y="36.00" width="13.60" height="29.00" fill="#f4281a" stroke="#3c52c4" stroke-width="1.1" rx="2.5" />
<text x="533.55" y="52.62" font-size="5.9" fill="#000" text-anchor="middle" font-weight="bold" >R6</text>
<rect x="541.75" y="36.00" width="13.60" height="29.00" fill="#f4281a" stroke="#3c52c4" stroke-width="1.1" rx="2.5" />
<text x="548.55" y="52.62" font-size="5.9" fill="#000" text-anchor="middle" font-weight="bold" >R7</text>
<rect x="556.75" y="36.00" width="13.60" height="29.00" fill="#f4281a" stroke="#3c52c4" stroke-width="1.1" rx="2.5" />
<text x="563.55" y="52.62" font-size="5.9" fill="#000" text-anchor="middle" font-weight="bold" >R8</text>
<rect x="571.75" y="36.00" width="13.60" height="29.00" fill="#e6a8e2" stroke="#3c52c4" stroke-width="1.1" rx="2.5" />
<text x="578.55" y="52.62" font-size="5.9" fill="#000" text-anchor="middle" font-weight="bold" >R9</text>
<rect x="586.75" y="36.00" width="13.60" height="29.00" fill="#e6a8e2" stroke="#3c52c4" stroke-width="1.1" rx="2.5" />
<text x="593.55" y="52.62" font-size="5.9" fill="#000" text-anchor="middle" font-weight="bold" >R10</text>
<rect x="601.75" y="36.00" width="13.60" height="29.00" fill="#e6a8e2" stroke="#3c52c4" stroke-width="1.1" rx="2.5" />
<text x="608.55" y="52.62" font-size="5.9" fill="#000" text-anchor="middle" font-weight="bold" >R11</text>
<rect x="616.75" y="36.00" width="13.60" height="29.00" fill="#e6a8e2" stroke="#3c52c4" stroke-width="1.1" rx="2.5" />
<text x="623.55" y="52.62" font-size="5.9" fill="#000" text-anchor="middle" font-weight="bold" >R12</text>
<rect x="631.75" y="36.00" width="13.60" height="29.00" fill="#e6a8e2" stroke="#3c52c4" stroke-width="1.1" rx="2.5" />
<text x="638.55" y="52.62" font-size="5.9" fill="#000" text-anchor="middle" font-weight="bold" >R13</text>
<rect x="647.20" y="36.00" width="11.20" height="29.00" fill="#ececec" stroke="#3c52c4" stroke-width="1.1" rx="2.5" />
<text x="652.80" y="52.52" font-size="5.6" fill="#000" text-anchor="middle" font-weight="bold" >DD</text>
<rect x="660.00" y="35.40" width="23.20" height="29.20" fill="#13a843" stroke="none" stroke-width="1" rx="3.5" />
<text x="671.60" y="48.20" font-size="5.6" fill="#fff" text-anchor="middle" font-weight="bold" >EG</text>
<text x="671.60" y="54.80" font-size="5.6" fill="#fff" text-anchor="middle" font-weight="bold" >FP</text>
<circle cx="466.05" cy="50.50" r="0.7" fill="#111"/>
<circle cx="481.05" cy="50.50" r="0.7" fill="#111"/>
<circle cx="496.05" cy="50.50" r="0.7" fill="#111"/>
<circle cx="511.05" cy="50.50" r="0.7" fill="#111"/>
<circle cx="526.05" cy="50.50" r="0.7" fill="#111"/>
<circle cx="541.05" cy="50.50" r="0.7" fill="#111"/>
<circle cx="556.05" cy="50.50" r="0.7" fill="#111"/>
<circle cx="571.05" cy="50.50" r="0.7" fill="#111"/>
<circle cx="586.05" cy="50.50" r="0.7" fill="#111"/>
<circle cx="601.05" cy="50.50" r="0.7" fill="#111"/>
<circle cx="616.05" cy="50.50" r="0.7" fill="#111"/>
<circle cx="631.05" cy="50.50" r="0.7" fill="#111"/>
<circle cx="646.05" cy="50.50" r="0.7" fill="#111"/>
<circle cx="658.90" cy="50.50" r="0.7" fill="#111"/>
<text x="377.00" y="75.20" font-size="10.6" fill="#000" font-weight="bold" >ΔR1-R11</text>
<rect x="376.10" y="78.20" width="15.60" height="20.40" fill="#94d25a" stroke="#3c52c4" stroke-width="1.1" rx="2.5" />
<text x="383.90" y="90.56" font-size="6.0" fill="#000" text-anchor="middle" font-weight="bold" >F0</text>
<rect x="392.10" y="78.20" width="15.60" height="20.40" fill="#94d25a" stroke="#3c52c4" stroke-width="1.1" rx="2.5" />
<text x="399.90" y="90.56" font-size="6.0" fill="#000" text-anchor="middle" font-weight="bold" >F1</text>
<rect x="408.10" y="78.20" width="15.60" height="20.40" fill="#94d25a" stroke="#3c52c4" stroke-width="1.1" rx="2.5" />
<text x="415.90" y="90.56" font-size="6.0" fill="#000" text-anchor="middle" font-weight="bold" >F2</text>
<rect x="424.10" y="78.20" width="15.60" height="20.40" fill="#94d25a" stroke="#3c52c4" stroke-width="1.1" rx="2.5" />
<text x="431.90" y="90.56" font-size="6.0" fill="#000" text-anchor="middle" font-weight="bold" >F3</text>
<path d="M439.9,89.2 C442.1,85.8 443.7,86.2 445.4,88.4 S448.6,90.8 450.8,87.4" fill="none" stroke="#000" stroke-width="1.3"/>
<rect x="450.90" y="73.50" width="13.60" height="29.50" fill="#e6a8e2" stroke="#3c52c4" stroke-width="1.1" rx="2.5" />
<text x="457.70" y="90.37" font-size="5.9" fill="#000" text-anchor="middle" font-weight="bold" >R12</text>
<rect x="465.90" y="73.50" width="13.60" height="29.50" fill="#e6a8e2" stroke="#3c52c4" stroke-width="1.1" rx="2.5" />
<text x="472.70" y="90.37" font-size="5.9" fill="#000" text-anchor="middle" font-weight="bold" >R13</text>
<rect x="481.30" y="73.50" width="11.30" height="29.50" fill="#ececec" stroke="#3c52c4" stroke-width="1.1" rx="2.5" />
<text x="486.95" y="90.27" font-size="5.6" fill="#000" text-anchor="middle" font-weight="bold" >DD</text>
<rect x="495.20" y="73.50" width="22.80" height="29.50" fill="#13a843" stroke="none" stroke-width="1" rx="3.5" />
<text x="506.60" y="86.45" font-size="5.6" fill="#fff" text-anchor="middle" font-weight="bold" >EG</text>
<text x="506.60" y="93.05" font-size="5.6" fill="#fff" text-anchor="middle" font-weight="bold" >FP</text>
<circle cx="465.20" cy="88.25" r="0.7" fill="#111"/>
<circle cx="480.40" cy="88.25" r="0.7" fill="#111"/>
<circle cx="493.80" cy="88.25" r="0.7" fill="#111"/>
<text x="377.00" y="117.90" font-size="10.6" fill="#000" font-weight="bold" >Spectrin repeats (1-7)_ΔR1-R11</text>
<rect x="375.80" y="125.60" width="15.60" height="20.00" fill="#94d25a" stroke="#3c52c4" stroke-width="1.1" rx="2.5" />
<text x="383.60" y="137.76" font-size="6.0" fill="#000" text-anchor="middle" font-weight="bold" >F0</text>
<rect x="391.80" y="125.60" width="15.60" height="20.00" fill="#94d25a" stroke="#3c52c4" stroke-width="1.1" rx="2.5" />
<text x="399.60" y="137.76" font-size="6.0" fill="#000" text-anchor="middle" font-weight="bold" >F1</text>
<rect x="407.80" y="125.60" width="15.60" height="20.00" fill="#94d25a" stroke="#3c52c4" stroke-width="1.1" rx="2.5" />
<text x="415.60" y="137.76" font-size="6.0" fill="#000" text-anchor="middle" font-weight="bold" >F2</text>
<rect x="423.80" y="125.60" width="15.60" height="20.00" fill="#94d25a" stroke="#3c52c4" stroke-width="1.1" rx="2.5" />
<text x="431.60" y="137.76" font-size="6.0" fill="#000" text-anchor="middle" font-weight="bold" >F3</text>
<path d="M439.6,136.4 C441.6,133.0 443.0,133.4 444.5,135.6 S447.4,138.0 449.4,134.6" fill="none" stroke="#000" stroke-width="1.3"/>
<ellipse cx="454.90" cy="135.85" rx="5.3" ry="14.55" fill="#bfeaf8" stroke="#6ab4e0" stroke-width="0.7"/>
<text x="454.90" y="137.85" font-size="5.6" fill="#111" text-anchor="middle" font-weight="bold" >1</text>
<ellipse cx="464.95" cy="135.85" rx="5.3" ry="14.55" fill="#bfeaf8" stroke="#6ab4e0" stroke-width="0.7"/>
<text x="464.95" y="137.85" font-size="5.6" fill="#111" text-anchor="middle" font-weight="bold" >2</text>
<ellipse cx="475.00" cy="135.85" rx="5.3" ry="14.55" fill="#bfeaf8" stroke="#6ab4e0" stroke-width="0.7"/>
<text x="475.00" y="137.85" font-size="5.6" fill="#111" text-anchor="middle" font-weight="bold" >3</text>
<ellipse cx="485.05" cy="135.85" rx="5.3" ry="14.55" fill="#bfeaf8" stroke="#6ab4e0" stroke-width="0.7"/>
<text x="485.05" y="137.85" font-size="5.6" fill="#111" text-anchor="middle" font-weight="bold" >4</text>
<ellipse cx="495.10" cy="135.85" rx="5.3" ry="14.55" fill="#bfeaf8" stroke="#6ab4e0" stroke-width="0.7"/>
<text x="495.10" y="137.85" font-size="5.6" fill="#111" text-anchor="middle" font-weight="bold" >5</text>
<ellipse cx="505.15" cy="135.85" rx="5.3" ry="14.55" fill="#bfeaf8" stroke="#6ab4e0" stroke-width="0.7"/>
<text x="505.15" y="137.85" font-size="5.6" fill="#111" text-anchor="middle" font-weight="bold" >6</text>
<ellipse cx="515.20" cy="135.85" rx="5.3" ry="14.55" fill="#bfeaf8" stroke="#6ab4e0" stroke-width="0.7"/>
<text x="515.20" y="137.85" font-size="5.6" fill="#111" text-anchor="middle" font-weight="bold" >7</text>
<rect x="521.40" y="121.30" width="13.60" height="29.10" fill="#e6a8e2" stroke="#3c52c4" stroke-width="1.1" rx="2.5" />
<text x="528.20" y="137.97" font-size="5.9" fill="#000" text-anchor="middle" font-weight="bold" >R12</text>
<rect x="536.30" y="121.30" width="13.60" height="29.10" fill="#e6a8e2" stroke="#3c52c4" stroke-width="1.1" rx="2.5" />
<text x="543.10" y="137.97" font-size="5.9" fill="#000" text-anchor="middle" font-weight="bold" >R13</text>
<rect x="552.00" y="121.30" width="11.40" height="29.10" fill="#ececec" stroke="#3c52c4" stroke-width="1.1" rx="2.5" />
<text x="557.70" y="137.87" font-size="5.6" fill="#000" text-anchor="middle" font-weight="bold" >DD</text>
<rect x="565.20" y="121.30" width="23.30" height="29.10" fill="#13a843" stroke="none" stroke-width="1" rx="3.5" />
<text x="576.85" y="134.05" font-size="5.6" fill="#fff" text-anchor="middle" font-weight="bold" >EG</text>
<text x="576.85" y="140.65" font-size="5.6" fill="#fff" text-anchor="middle" font-weight="bold" >FP</text>
<circle cx="535.60" cy="135.85" r="0.7" fill="#111"/>
<circle cx="550.90" cy="135.85" r="0.7" fill="#111"/>
<circle cx="564.30" cy="135.85" r="0.7" fill="#111"/>
<text x="446.40" y="159.20" font-size="8.62" fill="#3868c8" >Spectrin repeats (1-7)</text>
<text x="377.00" y="177.90" font-size="10.6" fill="#000" font-weight="bold" >ΔR1-3/ΔR9-R11</text>
<rect x="375.80" y="184.20" width="15.60" height="19.80" fill="#94d25a" stroke="#3c52c4" stroke-width="1.1" rx="2.5" />
<text x="383.60" y="196.26" font-size="6.0" fill="#000" text-anchor="middle" font-weight="bold" >F0</text>
<rect x="391.80" y="184.20" width="15.60" height="19.80" fill="#94d25a" stroke="#3c52c4" stroke-width="1.1" rx="2.5" />
<text x="399.60" y="196.26" font-size="6.0" fill="#000" text-anchor="middle" font-weight="bold" >F1</text>
<rect x="407.80" y="184.20" width="15.60" height="19.80" fill="#94d25a" stroke="#3c52c4" stroke-width="1.1" rx="2.5" />
<text x="415.60" y="196.26" font-size="6.0" fill="#000" text-anchor="middle" font-weight="bold" >F2</text>
<rect x="423.80" y="184.20" width="15.60" height="19.80" fill="#94d25a" stroke="#3c52c4" stroke-width="1.1" rx="2.5" />
<text x="431.60" y="196.26" font-size="6.0" fill="#000" text-anchor="middle" font-weight="bold" >F3</text>
<path d="M439.7,194.9 C441.8,191.5 443.4,191.9 445.0,194.1 S448.3,196.5 450.4,193.1" fill="none" stroke="#000" stroke-width="1.3"/>
<rect x="450.60" y="179.40" width="13.60" height="28.90" fill="#f4281a" stroke="#3c52c4" stroke-width="1.1" rx="2.5" />
<text x="457.40" y="195.97" font-size="5.9" fill="#000" text-anchor="middle" font-weight="bold" >R4</text>
<rect x="465.52" y="179.40" width="13.60" height="28.90" fill="#f4281a" stroke="#3c52c4" stroke-width="1.1" rx="2.5" />
<text x="472.32" y="195.97" font-size="5.9" fill="#000" text-anchor="middle" font-weight="bold" >R5</text>
<rect x="480.44" y="179.40" width="13.60" height="28.90" fill="#f4281a" stroke="#3c52c4" stroke-width="1.1" rx="2.5" />
<text x="487.24" y="195.97" font-size="5.9" fill="#000" text-anchor="middle" font-weight="bold" >R6</text>
<rect x="495.36" y="179.40" width="13.60" height="28.90" fill="#f4281a" stroke="#3c52c4" stroke-width="1.1" rx="2.5" />
<text x="502.16" y="195.97" font-size="5.9" fill="#000" text-anchor="middle" font-weight="bold" >R7</text>
<rect x="510.28" y="179.40" width="13.60" height="28.90" fill="#f4281a" stroke="#3c52c4" stroke-width="1.1" rx="2.5" />
<text x="517.08" y="195.97" font-size="5.9" fill="#000" text-anchor="middle" font-weight="bold" >R8</text>
<rect x="525.00" y="179.40" width="13.60" height="28.90" fill="#e6a8e2" stroke="#3c52c4" stroke-width="1.1" rx="2.5" />
<text x="531.80" y="195.97" font-size="5.9" fill="#000" text-anchor="middle" font-weight="bold" >R12</text>
<rect x="540.00" y="179.40" width="13.60" height="28.90" fill="#e6a8e2" stroke="#3c52c4" stroke-width="1.1" rx="2.5" />
<text x="546.80" y="195.97" font-size="5.9" fill="#000" text-anchor="middle" font-weight="bold" >R13</text>
<rect x="555.40" y="179.40" width="11.20" height="28.90" fill="#ececec" stroke="#3c52c4" stroke-width="1.1" rx="2.5" />
<text x="561.00" y="195.87" font-size="5.6" fill="#000" text-anchor="middle" font-weight="bold" >DD</text>
<rect x="568.30" y="179.40" width="23.30" height="28.90" fill="#13a843" stroke="none" stroke-width="1" rx="3.5" />
<text x="579.95" y="192.05" font-size="5.6" fill="#fff" text-anchor="middle" font-weight="bold" >EG</text>
<text x="579.95" y="198.65" font-size="5.6" fill="#fff" text-anchor="middle" font-weight="bold" >FP</text>
<circle cx="464.80" cy="193.85" r="0.7" fill="#111"/>
<circle cx="479.72" cy="193.85" r="0.7" fill="#111"/>
<circle cx="494.64" cy="193.85" r="0.7" fill="#111"/>
<circle cx="509.56" cy="193.85" r="0.7" fill="#111"/>
<circle cx="524.48" cy="193.85" r="0.7" fill="#111"/>
<circle cx="539.30" cy="193.85" r="0.7" fill="#111"/>
<circle cx="554.30" cy="193.85" r="0.7" fill="#111"/>
<circle cx="567.40" cy="193.85" r="0.7" fill="#111"/>
<text x="377.00" y="228.70" font-size="10.6" fill="#000" font-weight="bold" >Spectrin repeats (1-7)_ΔR1-3/ΔR9-R11</text>
<rect x="375.80" y="236.90" width="15.60" height="20.00" fill="#94d25a" stroke="#3c52c4" stroke-width="1.1" rx="2.5" />
<text x="383.60" y="249.06" font-size="6.0" fill="#000" text-anchor="middle" font-weight="bold" >F0</text>
<rect x="391.80" y="236.90" width="15.60" height="20.00" fill="#94d25a" stroke="#3c52c4" stroke-width="1.1" rx="2.5" />
<text x="399.60" y="249.06" font-size="6.0" fill="#000" text-anchor="middle" font-weight="bold" >F1</text>
<rect x="407.80" y="236.90" width="15.60" height="20.00" fill="#94d25a" stroke="#3c52c4" stroke-width="1.1" rx="2.5" />
<text x="415.60" y="249.06" font-size="6.0" fill="#000" text-anchor="middle" font-weight="bold" >F2</text>
<rect x="423.80" y="236.90" width="15.60" height="20.00" fill="#94d25a" stroke="#3c52c4" stroke-width="1.1" rx="2.5" />
<text x="431.60" y="249.06" font-size="6.0" fill="#000" text-anchor="middle" font-weight="bold" >F3</text>
<ellipse cx="446.30" cy="246.55" rx="5.3" ry="14.65" fill="#bfeaf8" stroke="#6ab4e0" stroke-width="0.7"/>
<text x="446.30" y="248.55" font-size="5.6" fill="#111" text-anchor="middle" font-weight="bold" >1</text>
<ellipse cx="456.50" cy="246.55" rx="5.3" ry="14.65" fill="#bfeaf8" stroke="#6ab4e0" stroke-width="0.7"/>
<text x="456.50" y="248.55" font-size="5.6" fill="#111" text-anchor="middle" font-weight="bold" >2</text>
<ellipse cx="466.70" cy="246.55" rx="5.3" ry="14.65" fill="#bfeaf8" stroke="#6ab4e0" stroke-width="0.7"/>
<text x="466.70" y="248.55" font-size="5.6" fill="#111" text-anchor="middle" font-weight="bold" >3</text>
<ellipse cx="476.90" cy="246.55" rx="5.3" ry="14.65" fill="#bfeaf8" stroke="#6ab4e0" stroke-width="0.7"/>
<text x="476.90" y="248.55" font-size="5.6" fill="#111" text-anchor="middle" font-weight="bold" >4</text>
<ellipse cx="487.10" cy="246.55" rx="5.3" ry="14.65" fill="#bfeaf8" stroke="#6ab4e0" stroke-width="0.7"/>
<text x="487.10" y="248.55" font-size="5.6" fill="#111" text-anchor="middle" font-weight="bold" >5</text>
<ellipse cx="497.30" cy="246.55" rx="5.3" ry="14.65" fill="#bfeaf8" stroke="#6ab4e0" stroke-width="0.7"/>
<text x="497.30" y="248.55" font-size="5.6" fill="#111" text-anchor="middle" font-weight="bold" >6</text>
<ellipse cx="507.50" cy="246.55" rx="5.3" ry="14.65" fill="#bfeaf8" stroke="#6ab4e0" stroke-width="0.7"/>
<text x="507.50" y="248.55" font-size="5.6" fill="#111" text-anchor="middle" font-weight="bold" >7</text>
<path d="M512.8,247.7 C514.4,244.3 515.7,244.7 516.9,246.9 S519.4,249.3 521.0,245.9" fill="none" stroke="#000" stroke-width="1.3"/>
<rect x="521.50" y="231.90" width="13.60" height="29.30" fill="#f4281a" stroke="#3c52c4" stroke-width="1.1" rx="2.5" />
<text x="528.30" y="248.67" font-size="5.9" fill="#000" text-anchor="middle" font-weight="bold" >R4</text>
<rect x="536.45" y="231.90" width="13.60" height="29.30" fill="#f4281a" stroke="#3c52c4" stroke-width="1.1" rx="2.5" />
<text x="543.25" y="248.67" font-size="5.9" fill="#000" text-anchor="middle" font-weight="bold" >R5</text>
<rect x="551.40" y="231.90" width="13.60" height="29.30" fill="#f4281a" stroke="#3c52c4" stroke-width="1.1" rx="2.5" />
<text x="558.20" y="248.67" font-size="5.9" fill="#000" text-anchor="middle" font-weight="bold" >R6</text>
<rect x="566.35" y="231.90" width="13.60" height="29.30" fill="#f4281a" stroke="#3c52c4" stroke-width="1.1" rx="2.5" />
<text x="573.15" y="248.67" font-size="5.9" fill="#000" text-anchor="middle" font-weight="bold" >R7</text>
<rect x="581.30" y="231.90" width="13.60" height="29.30" fill="#f4281a" stroke="#3c52c4" stroke-width="1.1" rx="2.5" />
<text x="588.10" y="248.67" font-size="5.9" fill="#000" text-anchor="middle" font-weight="bold" >R8</text>
<rect x="596.90" y="231.90" width="13.60" height="29.30" fill="#e6a8e2" stroke="#3c52c4" stroke-width="1.1" rx="2.5" />
<text x="603.70" y="248.67" font-size="5.9" fill="#000" text-anchor="middle" font-weight="bold" >R12</text>
<rect x="612.00" y="231.90" width="13.60" height="29.30" fill="#e6a8e2" stroke="#3c52c4" stroke-width="1.1" rx="2.5" />
<text x="618.80" y="248.67" font-size="5.9" fill="#000" text-anchor="middle" font-weight="bold" >R13</text>
<rect x="627.30" y="231.90" width="11.00" height="29.30" fill="#ececec" stroke="#3c52c4" stroke-width="1.1" rx="2.5" />
<text x="632.80" y="248.57" font-size="5.6" fill="#000" text-anchor="middle" font-weight="bold" >DD</text>
<rect x="640.30" y="231.90" width="23.00" height="29.30" fill="#13a843" stroke="none" stroke-width="1" rx="3.5" />
<text x="651.80" y="244.75" font-size="5.6" fill="#fff" text-anchor="middle" font-weight="bold" >EG</text>
<text x="651.80" y="251.35" font-size="5.6" fill="#fff" text-anchor="middle" font-weight="bold" >FP</text>
<circle cx="535.70" cy="246.55" r="0.7" fill="#111"/>
<circle cx="550.65" cy="246.55" r="0.7" fill="#111"/>
<circle cx="565.60" cy="246.55" r="0.7" fill="#111"/>
<circle cx="580.55" cy="246.55" r="0.7" fill="#111"/>
<circle cx="595.50" cy="246.55" r="0.7" fill="#111"/>
<circle cx="611.30" cy="246.55" r="0.7" fill="#111"/>
<circle cx="626.40" cy="246.55" r="0.7" fill="#111"/>
<circle cx="639.30" cy="246.55" r="0.7" fill="#111"/>
<circle cx="440.50" cy="246.90" r="0.7" fill="#111"/>
<text x="352.60" y="283.30" font-size="16.5" fill="#000" font-weight="bold" >d</text>
<rect x="399.40" y="369.00" width="25.20" height="46.60" fill="#000" stroke="none" stroke-width="1" rx="0" />
<rect x="399.40" y="305.10" width="25.20" height="63.90" fill="#b4b4b4" stroke="#333" stroke-width="0.7" rx="0" />
<rect x="399.40" y="299.80" width="25.20" height="5.30" fill="#fff" stroke="#333" stroke-width="0.7" rx="0" />
<rect x="399.40" y="291.60" width="25.20" height="8.20" fill="url(#stip)" stroke="#333" stroke-width="0.6" rx="0" />
<rect x="399.40" y="287.60" width="25.20" height="4.00" fill="url(#hatch)" stroke="#333" stroke-width="0.6" rx="0" />
<line x1="399.40" y1="287.60" x2="399.40" y2="415.60" stroke="#333" stroke-width="0.8" />
<line x1="424.60" y1="287.60" x2="424.60" y2="415.60" stroke="#333" stroke-width="0.8" />
<rect x="443.00" y="400.50" width="25.20" height="15.10" fill="#000" stroke="none" stroke-width="1" rx="0" />
<rect x="443.00" y="299.40" width="25.20" height="101.10" fill="#b4b4b4" stroke="#333" stroke-width="0.7" rx="0" />
<rect x="443.00" y="297.40" width="25.20" height="2.00" fill="#fff" stroke="#333" stroke-width="0.7" rx="0" />
<rect x="443.00" y="295.30" width="25.20" height="2.10" fill="url(#stip)" stroke="#333" stroke-width="0.6" rx="0" />
<rect x="443.00" y="287.60" width="25.20" height="7.70" fill="url(#hatch)" stroke="#333" stroke-width="0.6" rx="0" />
<line x1="443.00" y1="287.60" x2="443.00" y2="415.60" stroke="#333" stroke-width="0.8" />
<line x1="468.20" y1="287.60" x2="468.20" y2="415.60" stroke="#333" stroke-width="0.8" />
<rect x="486.70" y="401.60" width="25.20" height="14.00" fill="#000" stroke="none" stroke-width="1" rx="0" />
<rect x="486.70" y="300.40" width="25.20" height="101.20" fill="#b4b4b4" stroke="#333" stroke-width="0.7" rx="0" />
<rect x="486.70" y="298.80" width="25.20" height="1.60" fill="#fff" stroke="#333" stroke-width="0.7" rx="0" />
<rect x="486.70" y="294.70" width="25.20" height="4.10" fill="url(#stip)" stroke="#333" stroke-width="0.6" rx="0" />
<rect x="486.70" y="287.60" width="25.20" height="7.10" fill="url(#hatch)" stroke="#333" stroke-width="0.6" rx="0" />
<line x1="486.70" y1="287.60" x2="486.70" y2="415.60" stroke="#333" stroke-width="0.8" />
<line x1="511.90" y1="287.60" x2="511.90" y2="415.60" stroke="#333" stroke-width="0.8" />
<rect x="530.70" y="369.70" width="25.20" height="45.90" fill="#000" stroke="none" stroke-width="1" rx="0" />
<rect x="530.70" y="302.40" width="25.20" height="67.30" fill="#b4b4b4" stroke="#333" stroke-width="0.7" rx="0" />
<rect x="530.70" y="297.20" width="25.20" height="5.20" fill="#fff" stroke="#333" stroke-width="0.7" rx="0" />
<rect x="530.70" y="292.60" width="25.20" height="4.60" fill="url(#stip)" stroke="#333" stroke-width="0.6" rx="0" />
<rect x="530.70" y="287.60" width="25.20" height="5.00" fill="url(#hatch)" stroke="#333" stroke-width="0.6" rx="0" />
<line x1="530.70" y1="287.60" x2="530.70" y2="415.60" stroke="#333" stroke-width="0.8" />
<line x1="555.90" y1="287.60" x2="555.90" y2="415.60" stroke="#333" stroke-width="0.8" />
<rect x="574.50" y="372.50" width="25.20" height="43.10" fill="#000" stroke="none" stroke-width="1" rx="0" />
<rect x="574.50" y="295.20" width="25.20" height="77.30" fill="#b4b4b4" stroke="#333" stroke-width="0.7" rx="0" />
<rect x="574.50" y="291.70" width="25.20" height="3.50" fill="#fff" stroke="#333" stroke-width="0.7" rx="0" />
<rect x="574.50" y="288.80" width="25.20" height="2.90" fill="url(#stip)" stroke="#333" stroke-width="0.6" rx="0" />
<rect x="574.50" y="287.60" width="25.20" height="1.20" fill="url(#hatch)" stroke="#333" stroke-width="0.6" rx="0" />
<line x1="574.50" y1="287.60" x2="574.50" y2="415.60" stroke="#333" stroke-width="0.8" />
<line x1="599.70" y1="287.60" x2="599.70" y2="415.60" stroke="#333" stroke-width="0.8" />
<path d="M389.4,287.6 H609.6 V415.6 H389.4 Z" fill="none" stroke="#222" stroke-width="1.1"/>
<line x1="386.40" y1="415.60" x2="389.40" y2="415.60" stroke="#000" stroke-width="1" />
<text x="385.00" y="418.60" font-size="8.4" fill="#000" text-anchor="end" >0</text>
<line x1="386.40" y1="390.05" x2="389.40" y2="390.05" stroke="#000" stroke-width="1" />
<text x="385.00" y="393.05" font-size="8.4" fill="#000" text-anchor="end" >20</text>
<line x1="386.40" y1="364.50" x2="389.40" y2="364.50" stroke="#000" stroke-width="1" />
<text x="385.00" y="367.50" font-size="8.4" fill="#000" text-anchor="end" >40</text>
<line x1="386.40" y1="338.95" x2="389.40" y2="338.95" stroke="#000" stroke-width="1" />
<text x="385.00" y="341.95" font-size="8.4" fill="#000" text-anchor="end" >60</text>
<line x1="386.40" y1="313.40" x2="389.40" y2="313.40" stroke="#000" stroke-width="1" />
<text x="385.00" y="316.40" font-size="8.4" fill="#000" text-anchor="end" >80</text>
<line x1="386.40" y1="287.85" x2="389.40" y2="287.85" stroke="#000" stroke-width="1" />
<text x="385.00" y="290.85" font-size="8.4" fill="#000" text-anchor="end" >100</text>
<text transform="translate(365.2,347.2) rotate(-90)" font-size="10.4" text-anchor="middle">SiMS behaviors (%)</text>
<text x="403.90" y="428.30" font-size="8.9" fill="#000" >WT</text>
<text x="438.00" y="428.30" font-size="8.9" fill="#000" >ΔR1-R11</text>
<text x="482.40" y="428.30" font-size="8.9" fill="#000" >Spectrin</text>
<text x="481.60" y="436.90" font-size="8.9" fill="#000" >repeats _</text>
<text x="482.00" y="445.70" font-size="8.9" fill="#000" >ΔR1-R11</text>
<text x="528.80" y="428.10" font-size="8.9" fill="#000" >ΔR1-R3/</text>
<text x="528.80" y="436.90" font-size="8.9" fill="#000" >ΔR9-R11</text>
<text x="574.00" y="428.10" font-size="8.9" fill="#000" >Spectrin</text>
<text x="574.00" y="436.90" font-size="8.9" fill="#000" >repeats_</text>
<text x="555.90" y="445.70" font-size="8.9" fill="#000" >ΔR1-R3/ΔR9-R11</text>
<rect x="614.20" y="302.40" width="10.60" height="10.80" fill="url(#hatchL)" stroke="#222" stroke-width="1" rx="0" />
<text x="631.80" y="310.40" font-size="8.9" fill="#000" >Unclassified</text>
<rect x="614.20" y="321.50" width="10.60" height="10.80" fill="url(#stipL)" stroke="#222" stroke-width="1" rx="0" />
<text x="631.80" y="329.60" font-size="8.9" fill="#000" >S to F</text>
<rect x="614.20" y="344.40" width="10.60" height="10.80" fill="#fff" stroke="#222" stroke-width="1" rx="0" />
<text x="631.80" y="352.50" font-size="8.9" fill="#000" >F to S</text>
<rect x="614.20" y="367.10" width="10.60" height="10.80" fill="#b4b4b4" stroke="#222" stroke-width="1" rx="0" />
<text x="631.80" y="374.40" font-size="8.9" fill="#000" >Stationary</text>
<rect x="614.20" y="389.80" width="10.60" height="10.80" fill="#000" stroke="#222" stroke-width="1" rx="0" />
<text x="631.80" y="398.40" font-size="8.9" fill="#000" >Flow</text>
<text x="0.30" y="448.70" font-size="18.6" fill="#000" font-weight="bold" >e</text>
<rect x="30.30" y="458.30" width="154.20" height="103.30" fill="none" stroke="#222" stroke-width="1.1" rx="0" />
<line x1="27.70" y1="561.60" x2="30.30" y2="561.60" stroke="#000" stroke-width="1" />
<text x="26.70" y="564.60" font-size="8.5" fill="#000" text-anchor="end" >0</text>
<line x1="27.70" y1="540.00" x2="30.30" y2="540.00" stroke="#000" stroke-width="1" />
<text x="26.70" y="543.00" font-size="8.5" fill="#000" text-anchor="end" >20</text>
<line x1="27.70" y1="518.40" x2="30.30" y2="518.40" stroke="#000" stroke-width="1" />
<text x="26.70" y="521.40" font-size="8.5" fill="#000" text-anchor="end" >40</text>
<line x1="27.70" y1="496.80" x2="30.30" y2="496.80" stroke="#000" stroke-width="1" />
<text x="26.70" y="499.80" font-size="8.5" fill="#000" text-anchor="end" >60</text>
<line x1="27.70" y1="475.20" x2="30.30" y2="475.20" stroke="#000" stroke-width="1" />
<text x="26.70" y="478.20" font-size="8.5" fill="#000" text-anchor="end" >80</text>
<line x1="30.30" y1="561.60" x2="30.30" y2="564.20" stroke="#000" stroke-width="1" />
<text x="30.30" y="571.40" font-size="8.7" fill="#000" text-anchor="middle" >0.1</text>
<line x1="69.70" y1="561.60" x2="69.70" y2="564.20" stroke="#000" stroke-width="1" />
<text x="69.70" y="571.40" font-size="8.7" fill="#000" text-anchor="middle" >1</text>
<line x1="109.10" y1="561.60" x2="109.10" y2="564.20" stroke="#000" stroke-width="1" />
<text x="109.10" y="571.40" font-size="8.7" fill="#000" text-anchor="middle" >10</text>
<line x1="148.50" y1="561.60" x2="148.50" y2="564.20" stroke="#000" stroke-width="1" />
<text x="148.50" y="571.40" font-size="8.7" fill="#000" text-anchor="middle" >100</text>
<line x1="42.16" y1="561.60" x2="42.16" y2="563.40" stroke="#000" stroke-width="0.7" />
<line x1="49.10" y1="561.60" x2="49.10" y2="563.40" stroke="#000" stroke-width="0.7" />
<line x1="54.02" y1="561.60" x2="54.02" y2="563.40" stroke="#000" stroke-width="0.7" />
<line x1="57.84" y1="561.60" x2="57.84" y2="563.40" stroke="#000" stroke-width="0.7" />
<line x1="60.96" y1="561.60" x2="60.96" y2="563.40" stroke="#000" stroke-width="0.7" />
<line x1="63.60" y1="561.60" x2="63.60" y2="563.40" stroke="#000" stroke-width="0.7" />
<line x1="65.88" y1="561.60" x2="65.88" y2="563.40" stroke="#000" stroke-width="0.7" />
<line x1="67.90" y1="561.60" x2="67.90" y2="563.40" stroke="#000" stroke-width="0.7" />
<line x1="81.56" y1="561.60" x2="81.56" y2="563.40" stroke="#000" stroke-width="0.7" />
<line x1="88.50" y1="561.60" x2="88.50" y2="563.40" stroke="#000" stroke-width="0.7" />
<line x1="93.42" y1="561.60" x2="93.42" y2="563.40" stroke="#000" stroke-width="0.7" />
<line x1="97.24" y1="561.60" x2="97.24" y2="563.40" stroke="#000" stroke-width="0.7" />
<line x1="100.36" y1="561.60" x2="100.36" y2="563.40" stroke="#000" stroke-width="0.7" />
<line x1="103.00" y1="561.60" x2="103.00" y2="563.40" stroke="#000" stroke-width="0.7" />
<line x1="105.28" y1="561.60" x2="105.28" y2="563.40" stroke="#000" stroke-width="0.7" />
<line x1="107.30" y1="561.60" x2="107.30" y2="563.40" stroke="#000" stroke-width="0.7" />
<line x1="120.96" y1="561.60" x2="120.96" y2="563.40" stroke="#000" stroke-width="0.7" />
<line x1="127.90" y1="561.60" x2="127.90" y2="563.40" stroke="#000" stroke-width="0.7" />
<line x1="132.82" y1="561.60" x2="132.82" y2="563.40" stroke="#000" stroke-width="0.7" />
<line x1="136.64" y1="561.60" x2="136.64" y2="563.40" stroke="#000" stroke-width="0.7" />
<line x1="139.76" y1="561.60" x2="139.76" y2="563.40" stroke="#000" stroke-width="0.7" />
<line x1="142.40" y1="561.60" x2="142.40" y2="563.40" stroke="#000" stroke-width="0.7" />
<line x1="144.68" y1="561.60" x2="144.68" y2="563.40" stroke="#000" stroke-width="0.7" />
<line x1="146.70" y1="561.60" x2="146.70" y2="563.40" stroke="#000" stroke-width="0.7" />
<line x1="160.36" y1="561.60" x2="160.36" y2="563.40" stroke="#000" stroke-width="0.7" />
<line x1="167.30" y1="561.60" x2="167.30" y2="563.40" stroke="#000" stroke-width="0.7" />
<line x1="172.22" y1="561.60" x2="172.22" y2="563.40" stroke="#000" stroke-width="0.7" />
<line x1="176.04" y1="561.60" x2="176.04" y2="563.40" stroke="#000" stroke-width="0.7" />
<line x1="179.16" y1="561.60" x2="179.16" y2="563.40" stroke="#000" stroke-width="0.7" />
<line x1="181.80" y1="561.60" x2="181.80" y2="563.40" stroke="#000" stroke-width="0.7" />
<text x="109.60" y="454.50" font-size="8.9" fill="#000" text-anchor="middle" >WT</text>
<text x="35.10" y="474.20" font-size="8.9"><tspan font-style="italic">r</tspan> = -0.444</text>
<text x="33.60" y="486.30" font-size="8.9"><tspan font-style="italic">p</tspan> &lt; 0.0001</text>
<rect x="63.38" y="510.91" width="2.1" height="2.1" fill="#1f2f9e"/>
<rect x="107.70" y="507.23" width="2.1" height="2.1" fill="#1f2f9e"/>
<rect x="86.68" y="516.87" width="2.1" height="2.1" fill="#1f2f9e"/>
<rect x="94.39" y="517.92" width="2.1" height="2.1" fill="#1f2f9e"/>
<rect x="87.91" y="523.00" width="2.1" height="2.1" fill="#1f2f9e"/>
<rect x="91.06" y="522.83" width="2.1" height="2.1" fill="#1f2f9e"/>
<rect x="98.94" y="521.42" width="2.1" height="2.1" fill="#1f2f9e"/>
<rect x="102.27" y="524.23" width="2.1" height="2.1" fill="#1f2f9e"/>
<rect x="122.95" y="520.55" width="2.1" height="2.1" fill="#1f2f9e"/>
<rect x="146.60" y="525.10" width="2.1" height="2.1" fill="#1f2f9e"/>
<rect x="90.53" y="531.76" width="2.1" height="2.1" fill="#1f2f9e"/>
<rect x="80.90" y="535.09" width="2.1" height="2.1" fill="#1f2f9e"/>
<rect x="96.14" y="534.74" width="2.1" height="2.1" fill="#1f2f9e"/>
<rect x="100.52" y="536.67" width="2.1" height="2.1" fill="#1f2f9e"/>
<rect x="96.14" y="538.94" width="2.1" height="2.1" fill="#1f2f9e"/>
<rect x="102.80" y="539.82" width="2.1" height="2.1" fill="#1f2f9e"/>
<rect x="120.32" y="531.41" width="2.1" height="2.1" fill="#1f2f9e"/>
<rect x="122.95" y="529.48" width="2.1" height="2.1" fill="#1f2f9e"/>
<rect x="125.05" y="534.74" width="2.1" height="2.1" fill="#1f2f9e"/>
<rect x="119.97" y="536.32" width="2.1" height="2.1" fill="#1f2f9e"/>
<rect x="132.93" y="536.67" width="2.1" height="2.1" fill="#1f2f9e"/>
<rect x="146.60" y="530.89" width="2.1" height="2.1" fill="#1f2f9e"/>
<rect x="154.66" y="533.69" width="2.1" height="2.1" fill="#1f2f9e"/>
<rect x="163.41" y="529.48" width="2.1" height="2.1" fill="#1f2f9e"/>
<rect x="143.09" y="534.91" width="2.1" height="2.1" fill="#1f2f9e"/>
<rect x="148.70" y="538.24" width="2.1" height="2.1" fill="#1f2f9e"/>
<rect x="149.75" y="537.89" width="2.1" height="2.1" fill="#1f2f9e"/>
<rect x="155.71" y="539.64" width="2.1" height="2.1" fill="#1f2f9e"/>
<rect x="123.82" y="539.82" width="2.1" height="2.1" fill="#1f2f9e"/>
<rect x="125.92" y="540.70" width="2.1" height="2.1" fill="#1f2f9e"/>
<rect x="137.84" y="541.05" width="2.1" height="2.1" fill="#1f2f9e"/>
<rect x="144.32" y="541.40" width="2.1" height="2.1" fill="#1f2f9e"/>
<rect x="145.72" y="541.92" width="2.1" height="2.1" fill="#1f2f9e"/>
<rect x="141.69" y="542.45" width="2.1" height="2.1" fill="#1f2f9e"/>
<rect x="147.47" y="539.29" width="2.1" height="2.1" fill="#1f2f9e"/>
<rect x="113.84" y="542.45" width="2.1" height="2.1" fill="#1f2f9e"/>
<rect x="115.59" y="544.90" width="2.1" height="2.1" fill="#1f2f9e"/>
<rect x="124.70" y="544.90" width="2.1" height="2.1" fill="#1f2f9e"/>
<rect x="126.45" y="544.20" width="2.1" height="2.1" fill="#1f2f9e"/>
<rect x="130.83" y="543.67" width="2.1" height="2.1" fill="#1f2f9e"/>
<rect x="131.18" y="546.30" width="2.1" height="2.1" fill="#1f2f9e"/>
<rect x="127.68" y="546.30" width="2.1" height="2.1" fill="#1f2f9e"/>
<rect x="130.48" y="548.05" width="2.1" height="2.1" fill="#1f2f9e"/>
<rect x="133.63" y="549.81" width="2.1" height="2.1" fill="#1f2f9e"/>
<rect x="138.01" y="546.30" width="2.1" height="2.1" fill="#1f2f9e"/>
<rect x="139.59" y="547.70" width="2.1" height="2.1" fill="#1f2f9e"/>
<rect x="141.34" y="546.30" width="2.1" height="2.1" fill="#1f2f9e"/>
<rect x="151.85" y="544.20" width="2.1" height="2.1" fill="#1f2f9e"/>
<rect x="150.98" y="545.43" width="2.1" height="2.1" fill="#1f2f9e"/>
<rect x="153.08" y="546.30" width="2.1" height="2.1" fill="#1f2f9e"/>
<rect x="158.51" y="545.95" width="2.1" height="2.1" fill="#1f2f9e"/>
<rect x="160.61" y="545.43" width="2.1" height="2.1" fill="#1f2f9e"/>
<rect x="149.93" y="548.93" width="2.1" height="2.1" fill="#1f2f9e"/>
<rect x="153.60" y="551.21" width="2.1" height="2.1" fill="#1f2f9e"/>
<rect x="100.17" y="545.43" width="2.1" height="2.1" fill="#1f2f9e"/>
<rect x="106.30" y="547.35" width="2.1" height="2.1" fill="#1f2f9e"/>
<rect x="114.19" y="548.93" width="2.1" height="2.1" fill="#1f2f9e"/>
<rect x="76.52" y="549.11" width="2.1" height="2.1" fill="#1f2f9e"/>
<rect x="90.53" y="552.43" width="2.1" height="2.1" fill="#1f2f9e"/>
<rect x="125.92" y="552.96" width="2.1" height="2.1" fill="#1f2f9e"/>
<rect x="131.88" y="553.84" width="2.1" height="2.1" fill="#1f2f9e"/>
<rect x="129.43" y="555.94" width="2.1" height="2.1" fill="#1f2f9e"/>
<rect x="138.71" y="553.31" width="2.1" height="2.1" fill="#1f2f9e"/>
<rect x="163.77" y="551.56" width="2.1" height="2.1" fill="#1f2f9e"/>
<rect x="152.20" y="548.05" width="2.1" height="2.1" fill="#1f2f9e"/>
<line x1="64.40" y1="528.00" x2="163.40" y2="547.70" stroke="#111" stroke-width="1.0" />
<rect x="23.10" y="611.00" width="154.30" height="102.50" fill="none" stroke="#222" stroke-width="1.1" rx="0" />
<line x1="20.50" y1="713.50" x2="23.10" y2="713.50" stroke="#000" stroke-width="1" />
<text x="19.50" y="716.50" font-size="8.5" fill="#000" text-anchor="end" >0</text>
<line x1="20.50" y1="691.80" x2="23.10" y2="691.80" stroke="#000" stroke-width="1" />
<text x="19.50" y="694.80" font-size="8.5" fill="#000" text-anchor="end" >20</text>
<line x1="20.50" y1="670.10" x2="23.10" y2="670.10" stroke="#000" stroke-width="1" />
<text x="19.50" y="673.10" font-size="8.5" fill="#000" text-anchor="end" >40</text>
<line x1="20.50" y1="648.40" x2="23.10" y2="648.40" stroke="#000" stroke-width="1" />
<text x="19.50" y="651.40" font-size="8.5" fill="#000" text-anchor="end" >60</text>
<line x1="20.50" y1="626.70" x2="23.10" y2="626.70" stroke="#000" stroke-width="1" />
<text x="19.50" y="629.70" font-size="8.5" fill="#000" text-anchor="end" >80</text>
<line x1="23.10" y1="713.50" x2="23.10" y2="716.10" stroke="#000" stroke-width="1" />
<text x="23.10" y="723.30" font-size="8.7" fill="#000" text-anchor="middle" >0.1</text>
<line x1="62.60" y1="713.50" x2="62.60" y2="716.10" stroke="#000" stroke-width="1" />
<text x="62.60" y="723.30" font-size="8.7" fill="#000" text-anchor="middle" >1</text>
<line x1="102.10" y1="713.50" x2="102.10" y2="716.10" stroke="#000" stroke-width="1" />
<text x="102.10" y="723.30" font-size="8.7" fill="#000" text-anchor="middle" >10</text>
<line x1="141.60" y1="713.50" x2="141.60" y2="716.10" stroke="#000" stroke-width="1" />
<text x="141.60" y="723.30" font-size="8.7" fill="#000" text-anchor="middle" >100</text>
<line x1="34.99" y1="713.50" x2="34.99" y2="715.30" stroke="#000" stroke-width="0.7" />
<line x1="41.95" y1="713.50" x2="41.95" y2="715.30" stroke="#000" stroke-width="0.7" />
<line x1="46.88" y1="713.50" x2="46.88" y2="715.30" stroke="#000" stroke-width="0.7" />
<line x1="50.71" y1="713.50" x2="50.71" y2="715.30" stroke="#000" stroke-width="0.7" />
<line x1="53.84" y1="713.50" x2="53.84" y2="715.30" stroke="#000" stroke-width="0.7" />
<line x1="56.48" y1="713.50" x2="56.48" y2="715.30" stroke="#000" stroke-width="0.7" />
<line x1="58.77" y1="713.50" x2="58.77" y2="715.30" stroke="#000" stroke-width="0.7" />
<line x1="60.79" y1="713.50" x2="60.79" y2="715.30" stroke="#000" stroke-width="0.7" />
<line x1="74.49" y1="713.50" x2="74.49" y2="715.30" stroke="#000" stroke-width="0.7" />
<line x1="81.45" y1="713.50" x2="81.45" y2="715.30" stroke="#000" stroke-width="0.7" />
<line x1="86.38" y1="713.50" x2="86.38" y2="715.30" stroke="#000" stroke-width="0.7" />
<line x1="90.21" y1="713.50" x2="90.21" y2="715.30" stroke="#000" stroke-width="0.7" />
<line x1="93.34" y1="713.50" x2="93.34" y2="715.30" stroke="#000" stroke-width="0.7" />
<line x1="95.98" y1="713.50" x2="95.98" y2="715.30" stroke="#000" stroke-width="0.7" />
<line x1="98.27" y1="713.50" x2="98.27" y2="715.30" stroke="#000" stroke-width="0.7" />
<line x1="100.29" y1="713.50" x2="100.29" y2="715.30" stroke="#000" stroke-width="0.7" />
<line x1="113.99" y1="713.50" x2="113.99" y2="715.30" stroke="#000" stroke-width="0.7" />
<line x1="120.95" y1="713.50" x2="120.95" y2="715.30" stroke="#000" stroke-width="0.7" />
<line x1="125.88" y1="713.50" x2="125.88" y2="715.30" stroke="#000" stroke-width="0.7" />
<line x1="129.71" y1="713.50" x2="129.71" y2="715.30" stroke="#000" stroke-width="0.7" />
<line x1="132.84" y1="713.50" x2="132.84" y2="715.30" stroke="#000" stroke-width="0.7" />
<line x1="135.48" y1="713.50" x2="135.48" y2="715.30" stroke="#000" stroke-width="0.7" />
<line x1="137.77" y1="713.50" x2="137.77" y2="715.30" stroke="#000" stroke-width="0.7" />
<line x1="139.79" y1="713.50" x2="139.79" y2="715.30" stroke="#000" stroke-width="0.7" />
<line x1="153.49" y1="713.50" x2="153.49" y2="715.30" stroke="#000" stroke-width="0.7" />
<line x1="160.45" y1="713.50" x2="160.45" y2="715.30" stroke="#000" stroke-width="0.7" />
<line x1="165.38" y1="713.50" x2="165.38" y2="715.30" stroke="#000" stroke-width="0.7" />
<line x1="169.21" y1="713.50" x2="169.21" y2="715.30" stroke="#000" stroke-width="0.7" />
<line x1="172.34" y1="713.50" x2="172.34" y2="715.30" stroke="#000" stroke-width="0.7" />
<line x1="174.98" y1="713.50" x2="174.98" y2="715.30" stroke="#000" stroke-width="0.7" />
<text x="98.90" y="607.40" font-size="8.9" fill="#000" text-anchor="middle" >ΔR1-R11</text>
<text x="28.60" y="626.00" font-size="8.9"><tspan font-style="italic">r</tspan> = -0.270</text>
<text x="27.10" y="638.60" font-size="8.9"><tspan font-style="italic">p</tspan> = 0.017</text>
<rect x="78.09" y="633.96" width="2.1" height="2.1" fill="#1f2f9e"/>
<rect x="118.78" y="635.79" width="2.1" height="2.1" fill="#1f2f9e"/>
<rect x="146.52" y="647.10" width="2.1" height="2.1" fill="#1f2f9e"/>
<rect x="96.34" y="654.22" width="2.1" height="2.1" fill="#1f2f9e"/>
<rect x="126.45" y="655.13" width="2.1" height="2.1" fill="#1f2f9e"/>
<rect x="150.90" y="655.13" width="2.1" height="2.1" fill="#1f2f9e"/>
<rect x="85.75" y="658.23" width="2.1" height="2.1" fill="#1f2f9e"/>
<rect x="112.76" y="660.97" width="2.1" height="2.1" fill="#1f2f9e"/>
<rect x="112.94" y="661.88" width="2.1" height="2.1" fill="#1f2f9e"/>
<rect x="126.45" y="663.71" width="2.1" height="2.1" fill="#1f2f9e"/>
<rect x="87.58" y="665.17" width="2.1" height="2.1" fill="#1f2f9e"/>
<rect x="81.37" y="667.72" width="2.1" height="2.1" fill="#1f2f9e"/>
<rect x="120.79" y="667.36" width="2.1" height="2.1" fill="#1f2f9e"/>
<rect x="120.61" y="669.36" width="2.1" height="2.1" fill="#1f2f9e"/>
<rect x="87.94" y="669.73" width="2.1" height="2.1" fill="#1f2f9e"/>
<rect x="124.26" y="672.28" width="2.1" height="2.1" fill="#1f2f9e"/>
<rect x="133.74" y="670.28" width="2.1" height="2.1" fill="#1f2f9e"/>
<rect x="90.50" y="672.28" width="2.1" height="2.1" fill="#1f2f9e"/>
<rect x="150.35" y="672.47" width="2.1" height="2.1" fill="#1f2f9e"/>
<rect x="152.54" y="672.28" width="2.1" height="2.1" fill="#1f2f9e"/>
<rect x="151.81" y="673.01" width="2.1" height="2.1" fill="#1f2f9e"/>
<rect x="97.25" y="674.29" width="2.1" height="2.1" fill="#1f2f9e"/>
<rect x="113.67" y="674.84" width="2.1" height="2.1" fill="#1f2f9e"/>
<rect x="76.81" y="675.75" width="2.1" height="2.1" fill="#1f2f9e"/>
<rect x="82.47" y="676.12" width="2.1" height="2.1" fill="#1f2f9e"/>
<rect x="79.55" y="679.40" width="2.1" height="2.1" fill="#1f2f9e"/>
<rect x="95.42" y="678.67" width="2.1" height="2.1" fill="#1f2f9e"/>
<rect x="107.65" y="679.77" width="2.1" height="2.1" fill="#1f2f9e"/>
<rect x="132.47" y="679.22" width="2.1" height="2.1" fill="#1f2f9e"/>
<rect x="137.94" y="677.03" width="2.1" height="2.1" fill="#1f2f9e"/>
<rect x="139.77" y="677.94" width="2.1" height="2.1" fill="#1f2f9e"/>
<rect x="147.61" y="679.58" width="2.1" height="2.1" fill="#1f2f9e"/>
<rect x="153.82" y="678.67" width="2.1" height="2.1" fill="#1f2f9e"/>
<rect x="158.01" y="679.77" width="2.1" height="2.1" fill="#1f2f9e"/>
<rect x="158.74" y="679.22" width="2.1" height="2.1" fill="#1f2f9e"/>
<rect x="88.67" y="681.04" width="2.1" height="2.1" fill="#1f2f9e"/>
<rect x="97.07" y="683.05" width="2.1" height="2.1" fill="#1f2f9e"/>
<rect x="88.12" y="683.42" width="2.1" height="2.1" fill="#1f2f9e"/>
<rect x="91.41" y="685.06" width="2.1" height="2.1" fill="#1f2f9e"/>
<rect x="95.06" y="685.42" width="2.1" height="2.1" fill="#1f2f9e"/>
<rect x="128.27" y="683.78" width="2.1" height="2.1" fill="#1f2f9e"/>
<rect x="134.29" y="684.69" width="2.1" height="2.1" fill="#1f2f9e"/>
<rect x="137.39" y="685.06" width="2.1" height="2.1" fill="#1f2f9e"/>
<rect x="147.07" y="683.78" width="2.1" height="2.1" fill="#1f2f9e"/>
<rect x="149.26" y="687.07" width="2.1" height="2.1" fill="#1f2f9e"/>
<rect x="120.06" y="687.25" width="2.1" height="2.1" fill="#1f2f9e"/>
<rect x="137.21" y="688.34" width="2.1" height="2.1" fill="#1f2f9e"/>
<rect x="137.76" y="688.71" width="2.1" height="2.1" fill="#1f2f9e"/>
<rect x="136.48" y="689.07" width="2.1" height="2.1" fill="#1f2f9e"/>
<rect x="131.92" y="689.26" width="2.1" height="2.1" fill="#1f2f9e"/>
<rect x="126.63" y="689.80" width="2.1" height="2.1" fill="#1f2f9e"/>
<rect x="155.64" y="688.89" width="2.1" height="2.1" fill="#1f2f9e"/>
<rect x="151.99" y="689.80" width="2.1" height="2.1" fill="#1f2f9e"/>
<rect x="161.66" y="690.53" width="2.1" height="2.1" fill="#1f2f9e"/>
<rect x="129.73" y="691.45" width="2.1" height="2.1" fill="#1f2f9e"/>
<rect x="130.64" y="692.91" width="2.1" height="2.1" fill="#1f2f9e"/>
<rect x="80.46" y="691.63" width="2.1" height="2.1" fill="#1f2f9e"/>
<rect x="60.93" y="694.73" width="2.1" height="2.1" fill="#1f2f9e"/>
<rect x="93.78" y="696.37" width="2.1" height="2.1" fill="#1f2f9e"/>
<rect x="108.38" y="694.18" width="2.1" height="2.1" fill="#1f2f9e"/>
<rect x="108.20" y="696.37" width="2.1" height="2.1" fill="#1f2f9e"/>
<rect x="115.13" y="693.82" width="2.1" height="2.1" fill="#1f2f9e"/>
<rect x="133.74" y="695.28" width="2.1" height="2.1" fill="#1f2f9e"/>
<rect x="138.49" y="696.01" width="2.1" height="2.1" fill="#1f2f9e"/>
<rect x="144.33" y="694.36" width="2.1" height="2.1" fill="#1f2f9e"/>
<rect x="149.07" y="693.64" width="2.1" height="2.1" fill="#1f2f9e"/>
<rect x="152.18" y="694.55" width="2.1" height="2.1" fill="#1f2f9e"/>
<rect x="153.45" y="693.82" width="2.1" height="2.1" fill="#1f2f9e"/>
<rect x="152.18" y="696.19" width="2.1" height="2.1" fill="#1f2f9e"/>
<rect x="75.90" y="701.30" width="2.1" height="2.1" fill="#1f2f9e"/>
<rect x="125.35" y="702.39" width="2.1" height="2.1" fill="#1f2f9e"/>
<rect x="127.54" y="703.49" width="2.1" height="2.1" fill="#1f2f9e"/>
<rect x="146.52" y="703.31" width="2.1" height="2.1" fill="#1f2f9e"/>
<rect x="152.18" y="706.77" width="2.1" height="2.1" fill="#1f2f9e"/>
<rect x="167.14" y="698.38" width="2.1" height="2.1" fill="#1f2f9e"/>
<rect x="168.96" y="697.47" width="2.1" height="2.1" fill="#1f2f9e"/>
<rect x="170.79" y="699.29" width="2.1" height="2.1" fill="#1f2f9e"/>
<rect x="165.86" y="698.56" width="2.1" height="2.1" fill="#1f2f9e"/>
<line x1="61.90" y1="673.30" x2="170.90" y2="689.00" stroke="#111" stroke-width="1.0" />
<rect x="197.60" y="610.50" width="154.10" height="103.50" fill="none" stroke="#222" stroke-width="1.1" rx="0" />
<line x1="195.00" y1="714.00" x2="197.60" y2="714.00" stroke="#000" stroke-width="1" />
<text x="194.00" y="717.00" font-size="8.5" fill="#000" text-anchor="end" >0</text>
<line x1="195.00" y1="692.30" x2="197.60" y2="692.30" stroke="#000" stroke-width="1" />
<text x="194.00" y="695.30" font-size="8.5" fill="#000" text-anchor="end" >20</text>
<line x1="195.00" y1="670.60" x2="197.60" y2="670.60" stroke="#000" stroke-width="1" />
<text x="194.00" y="673.60" font-size="8.5" fill="#000" text-anchor="end" >40</text>
<line x1="195.00" y1="648.90" x2="197.60" y2="648.90" stroke="#000" stroke-width="1" />
<text x="194.00" y="651.90" font-size="8.5" fill="#000" text-anchor="end" >60</text>
<line x1="195.00" y1="627.20" x2="197.60" y2="627.20" stroke="#000" stroke-width="1" />
<text x="194.00" y="630.20" font-size="8.5" fill="#000" text-anchor="end" >80</text>
<line x1="197.60" y1="714.00" x2="197.60" y2="716.60" stroke="#000" stroke-width="1" />
<text x="197.60" y="723.80" font-size="8.7" fill="#000" text-anchor="middle" >0.1</text>
<line x1="237.20" y1="714.00" x2="237.20" y2="716.60" stroke="#000" stroke-width="1" />
<text x="237.20" y="723.80" font-size="8.7" fill="#000" text-anchor="middle" >1</text>
<line x1="276.80" y1="714.00" x2="276.80" y2="716.60" stroke="#000" stroke-width="1" />
<text x="276.80" y="723.80" font-size="8.7" fill="#000" text-anchor="middle" >10</text>
<line x1="316.40" y1="714.00" x2="316.40" y2="716.60" stroke="#000" stroke-width="1" />
<text x="316.40" y="723.80" font-size="8.7" fill="#000" text-anchor="middle" >100</text>
<line x1="209.52" y1="714.00" x2="209.52" y2="715.80" stroke="#000" stroke-width="0.7" />
<line x1="216.49" y1="714.00" x2="216.49" y2="715.80" stroke="#000" stroke-width="0.7" />
<line x1="221.44" y1="714.00" x2="221.44" y2="715.80" stroke="#000" stroke-width="0.7" />
<line x1="225.28" y1="714.00" x2="225.28" y2="715.80" stroke="#000" stroke-width="0.7" />
<line x1="228.41" y1="714.00" x2="228.41" y2="715.80" stroke="#000" stroke-width="0.7" />
<line x1="231.07" y1="714.00" x2="231.07" y2="715.80" stroke="#000" stroke-width="0.7" />
<line x1="233.36" y1="714.00" x2="233.36" y2="715.80" stroke="#000" stroke-width="0.7" />
<line x1="235.39" y1="714.00" x2="235.39" y2="715.80" stroke="#000" stroke-width="0.7" />
<line x1="249.12" y1="714.00" x2="249.12" y2="715.80" stroke="#000" stroke-width="0.7" />
<line x1="256.09" y1="714.00" x2="256.09" y2="715.80" stroke="#000" stroke-width="0.7" />
<line x1="261.04" y1="714.00" x2="261.04" y2="715.80" stroke="#000" stroke-width="0.7" />
<line x1="264.88" y1="714.00" x2="264.88" y2="715.80" stroke="#000" stroke-width="0.7" />
<line x1="268.01" y1="714.00" x2="268.01" y2="715.80" stroke="#000" stroke-width="0.7" />
<line x1="270.67" y1="714.00" x2="270.67" y2="715.80" stroke="#000" stroke-width="0.7" />
<line x1="272.96" y1="714.00" x2="272.96" y2="715.80" stroke="#000" stroke-width="0.7" />
<line x1="274.99" y1="714.00" x2="274.99" y2="715.80" stroke="#000" stroke-width="0.7" />
<line x1="288.72" y1="714.00" x2="288.72" y2="715.80" stroke="#000" stroke-width="0.7" />
<line x1="295.69" y1="714.00" x2="295.69" y2="715.80" stroke="#000" stroke-width="0.7" />
<line x1="300.64" y1="714.00" x2="300.64" y2="715.80" stroke="#000" stroke-width="0.7" />
<line x1="304.48" y1="714.00" x2="304.48" y2="715.80" stroke="#000" stroke-width="0.7" />
<line x1="307.61" y1="714.00" x2="307.61" y2="715.80" stroke="#000" stroke-width="0.7" />
<line x1="310.27" y1="714.00" x2="310.27" y2="715.80" stroke="#000" stroke-width="0.7" />
<line x1="312.56" y1="714.00" x2="312.56" y2="715.80" stroke="#000" stroke-width="0.7" />
<line x1="314.59" y1="714.00" x2="314.59" y2="715.80" stroke="#000" stroke-width="0.7" />
<line x1="328.32" y1="714.00" x2="328.32" y2="715.80" stroke="#000" stroke-width="0.7" />
<line x1="335.29" y1="714.00" x2="335.29" y2="715.80" stroke="#000" stroke-width="0.7" />
<line x1="340.24" y1="714.00" x2="340.24" y2="715.80" stroke="#000" stroke-width="0.7" />
<line x1="344.08" y1="714.00" x2="344.08" y2="715.80" stroke="#000" stroke-width="0.7" />
<line x1="347.21" y1="714.00" x2="347.21" y2="715.80" stroke="#000" stroke-width="0.7" />
<line x1="349.87" y1="714.00" x2="349.87" y2="715.80" stroke="#000" stroke-width="0.7" />
<text x="273.40" y="605.80" font-size="8.9" fill="#000" text-anchor="middle" >Spectrin repeats_ΔR1-R11</text>
<text x="202.50" y="626.00" font-size="8.9"><tspan font-style="italic">r</tspan> = -0.094</text>
<text x="201.00" y="638.60" font-size="8.9"><tspan font-style="italic">p</tspan> = 0.45</text>
<rect x="246.28" y="628.44" width="2.1" height="2.1" fill="#1f2f9e"/>
<rect x="320.72" y="643.76" width="2.1" height="2.1" fill="#1f2f9e"/>
<rect x="266.22" y="657.11" width="2.1" height="2.1" fill="#1f2f9e"/>
<rect x="286.17" y="658.89" width="2.1" height="2.1" fill="#1f2f9e"/>
<rect x="305.40" y="655.69" width="2.1" height="2.1" fill="#1f2f9e"/>
<rect x="313.42" y="659.25" width="2.1" height="2.1" fill="#1f2f9e"/>
<rect x="253.22" y="668.51" width="2.1" height="2.1" fill="#1f2f9e"/>
<rect x="264.98" y="667.26" width="2.1" height="2.1" fill="#1f2f9e"/>
<rect x="295.96" y="666.37" width="2.1" height="2.1" fill="#1f2f9e"/>
<rect x="301.84" y="669.76" width="2.1" height="2.1" fill="#1f2f9e"/>
<rect x="310.39" y="666.37" width="2.1" height="2.1" fill="#1f2f9e"/>
<rect x="335.86" y="665.30" width="2.1" height="2.1" fill="#1f2f9e"/>
<rect x="347.97" y="669.22" width="2.1" height="2.1" fill="#1f2f9e"/>
<rect x="271.74" y="674.74" width="2.1" height="2.1" fill="#1f2f9e"/>
<rect x="272.28" y="676.88" width="2.1" height="2.1" fill="#1f2f9e"/>
<rect x="290.09" y="675.99" width="2.1" height="2.1" fill="#1f2f9e"/>
<rect x="306.65" y="674.39" width="2.1" height="2.1" fill="#1f2f9e"/>
<rect x="320.90" y="672.78" width="2.1" height="2.1" fill="#1f2f9e"/>
<rect x="271.21" y="681.33" width="2.1" height="2.1" fill="#1f2f9e"/>
<rect x="287.24" y="679.91" width="2.1" height="2.1" fill="#1f2f9e"/>
<rect x="291.15" y="681.15" width="2.1" height="2.1" fill="#1f2f9e"/>
<rect x="295.25" y="681.87" width="2.1" height="2.1" fill="#1f2f9e"/>
<rect x="303.27" y="679.02" width="2.1" height="2.1" fill="#1f2f9e"/>
<rect x="304.69" y="681.15" width="2.1" height="2.1" fill="#1f2f9e"/>
<rect x="315.73" y="679.20" width="2.1" height="2.1" fill="#1f2f9e"/>
<rect x="311.46" y="682.58" width="2.1" height="2.1" fill="#1f2f9e"/>
<rect x="312.70" y="684.54" width="2.1" height="2.1" fill="#1f2f9e"/>
<rect x="278.87" y="683.47" width="2.1" height="2.1" fill="#1f2f9e"/>
<rect x="284.03" y="683.47" width="2.1" height="2.1" fill="#1f2f9e"/>
<rect x="298.46" y="684.00" width="2.1" height="2.1" fill="#1f2f9e"/>
<rect x="315.91" y="685.25" width="2.1" height="2.1" fill="#1f2f9e"/>
<rect x="316.27" y="687.03" width="2.1" height="2.1" fill="#1f2f9e"/>
<rect x="322.14" y="683.47" width="2.1" height="2.1" fill="#1f2f9e"/>
<rect x="325.35" y="682.58" width="2.1" height="2.1" fill="#1f2f9e"/>
<rect x="341.73" y="685.43" width="2.1" height="2.1" fill="#1f2f9e"/>
<rect x="243.25" y="685.43" width="2.1" height="2.1" fill="#1f2f9e"/>
<rect x="277.98" y="688.46" width="2.1" height="2.1" fill="#1f2f9e"/>
<rect x="285.63" y="688.46" width="2.1" height="2.1" fill="#1f2f9e"/>
<rect x="285.10" y="689.88" width="2.1" height="2.1" fill="#1f2f9e"/>
<rect x="287.41" y="690.24" width="2.1" height="2.1" fill="#1f2f9e"/>
<rect x="277.09" y="691.66" width="2.1" height="2.1" fill="#1f2f9e"/>
<rect x="294.89" y="688.99" width="2.1" height="2.1" fill="#1f2f9e"/>
<rect x="297.57" y="689.88" width="2.1" height="2.1" fill="#1f2f9e"/>
<rect x="300.42" y="690.77" width="2.1" height="2.1" fill="#1f2f9e"/>
<rect x="302.55" y="689.53" width="2.1" height="2.1" fill="#1f2f9e"/>
<rect x="303.09" y="692.02" width="2.1" height="2.1" fill="#1f2f9e"/>
<rect x="309.50" y="688.81" width="2.1" height="2.1" fill="#1f2f9e"/>
<rect x="310.03" y="690.59" width="2.1" height="2.1" fill="#1f2f9e"/>
<rect x="272.63" y="693.44" width="2.1" height="2.1" fill="#1f2f9e"/>
<rect x="284.21" y="694.33" width="2.1" height="2.1" fill="#1f2f9e"/>
<rect x="289.02" y="694.51" width="2.1" height="2.1" fill="#1f2f9e"/>
<rect x="296.50" y="695.05" width="2.1" height="2.1" fill="#1f2f9e"/>
<rect x="299.70" y="696.29" width="2.1" height="2.1" fill="#1f2f9e"/>
<rect x="299.88" y="696.83" width="2.1" height="2.1" fill="#1f2f9e"/>
<rect x="327.13" y="695.22" width="2.1" height="2.1" fill="#1f2f9e"/>
<rect x="245.92" y="698.61" width="2.1" height="2.1" fill="#1f2f9e"/>
<rect x="281.18" y="699.68" width="2.1" height="2.1" fill="#1f2f9e"/>
<rect x="284.74" y="700.57" width="2.1" height="2.1" fill="#1f2f9e"/>
<rect x="296.68" y="699.14" width="2.1" height="2.1" fill="#1f2f9e"/>
<rect x="294.00" y="702.17" width="2.1" height="2.1" fill="#1f2f9e"/>
<rect x="305.94" y="703.24" width="2.1" height="2.1" fill="#1f2f9e"/>
<rect x="330.87" y="700.75" width="2.1" height="2.1" fill="#1f2f9e"/>
<rect x="343.34" y="707.16" width="2.1" height="2.1" fill="#1f2f9e"/>
<line x1="244.20" y1="680.60" x2="349.00" y2="686.60" stroke="#111" stroke-width="1.0" />
<rect x="24.40" y="745.50" width="154.30" height="102.70" fill="none" stroke="#222" stroke-width="1.1" rx="0" />
<line x1="21.80" y1="848.20" x2="24.40" y2="848.20" stroke="#000" stroke-width="1" />
<text x="20.80" y="851.20" font-size="8.5" fill="#000" text-anchor="end" >0</text>
<line x1="21.80" y1="826.48" x2="24.40" y2="826.48" stroke="#000" stroke-width="1" />
<text x="20.80" y="829.48" font-size="8.5" fill="#000" text-anchor="end" >20</text>
<line x1="21.80" y1="804.76" x2="24.40" y2="804.76" stroke="#000" stroke-width="1" />
<text x="20.80" y="807.76" font-size="8.5" fill="#000" text-anchor="end" >40</text>
<line x1="21.80" y1="783.04" x2="24.40" y2="783.04" stroke="#000" stroke-width="1" />
<text x="20.80" y="786.04" font-size="8.5" fill="#000" text-anchor="end" >60</text>
<line x1="21.80" y1="761.32" x2="24.40" y2="761.32" stroke="#000" stroke-width="1" />
<text x="20.80" y="764.32" font-size="8.5" fill="#000" text-anchor="end" >80</text>
<line x1="24.40" y1="848.20" x2="24.40" y2="850.80" stroke="#000" stroke-width="1" />
<text x="24.40" y="858.00" font-size="8.7" fill="#000" text-anchor="middle" >0.1</text>
<line x1="63.90" y1="848.20" x2="63.90" y2="850.80" stroke="#000" stroke-width="1" />
<text x="63.90" y="858.00" font-size="8.7" fill="#000" text-anchor="middle" >1</text>
<line x1="103.40" y1="848.20" x2="103.40" y2="850.80" stroke="#000" stroke-width="1" />
<text x="103.40" y="858.00" font-size="8.7" fill="#000" text-anchor="middle" >10</text>
<line x1="142.90" y1="848.20" x2="142.90" y2="850.80" stroke="#000" stroke-width="1" />
<text x="142.90" y="858.00" font-size="8.7" fill="#000" text-anchor="middle" >100</text>
<line x1="36.29" y1="848.20" x2="36.29" y2="850.00" stroke="#000" stroke-width="0.7" />
<line x1="43.25" y1="848.20" x2="43.25" y2="850.00" stroke="#000" stroke-width="0.7" />
<line x1="48.18" y1="848.20" x2="48.18" y2="850.00" stroke="#000" stroke-width="0.7" />
<line x1="52.01" y1="848.20" x2="52.01" y2="850.00" stroke="#000" stroke-width="0.7" />
<line x1="55.14" y1="848.20" x2="55.14" y2="850.00" stroke="#000" stroke-width="0.7" />
<line x1="57.78" y1="848.20" x2="57.78" y2="850.00" stroke="#000" stroke-width="0.7" />
<line x1="60.07" y1="848.20" x2="60.07" y2="850.00" stroke="#000" stroke-width="0.7" />
<line x1="62.09" y1="848.20" x2="62.09" y2="850.00" stroke="#000" stroke-width="0.7" />
<line x1="75.79" y1="848.20" x2="75.79" y2="850.00" stroke="#000" stroke-width="0.7" />
<line x1="82.75" y1="848.20" x2="82.75" y2="850.00" stroke="#000" stroke-width="0.7" />
<line x1="87.68" y1="848.20" x2="87.68" y2="850.00" stroke="#000" stroke-width="0.7" />
<line x1="91.51" y1="848.20" x2="91.51" y2="850.00" stroke="#000" stroke-width="0.7" />
<line x1="94.64" y1="848.20" x2="94.64" y2="850.00" stroke="#000" stroke-width="0.7" />
<line x1="97.28" y1="848.20" x2="97.28" y2="850.00" stroke="#000" stroke-width="0.7" />
<line x1="99.57" y1="848.20" x2="99.57" y2="850.00" stroke="#000" stroke-width="0.7" />
<line x1="101.59" y1="848.20" x2="101.59" y2="850.00" stroke="#000" stroke-width="0.7" />
<line x1="115.29" y1="848.20" x2="115.29" y2="850.00" stroke="#000" stroke-width="0.7" />
<line x1="122.25" y1="848.20" x2="122.25" y2="850.00" stroke="#000" stroke-width="0.7" />
<line x1="127.18" y1="848.20" x2="127.18" y2="850.00" stroke="#000" stroke-width="0.7" />
<line x1="131.01" y1="848.20" x2="131.01" y2="850.00" stroke="#000" stroke-width="0.7" />
<line x1="134.14" y1="848.20" x2="134.14" y2="850.00" stroke="#000" stroke-width="0.7" />
<line x1="136.78" y1="848.20" x2="136.78" y2="850.00" stroke="#000" stroke-width="0.7" />
<line x1="139.07" y1="848.20" x2="139.07" y2="850.00" stroke="#000" stroke-width="0.7" />
<line x1="141.09" y1="848.20" x2="141.09" y2="850.00" stroke="#000" stroke-width="0.7" />
<line x1="154.79" y1="848.20" x2="154.79" y2="850.00" stroke="#000" stroke-width="0.7" />
<line x1="161.75" y1="848.20" x2="161.75" y2="850.00" stroke="#000" stroke-width="0.7" />
<line x1="166.68" y1="848.20" x2="166.68" y2="850.00" stroke="#000" stroke-width="0.7" />
<line x1="170.51" y1="848.20" x2="170.51" y2="850.00" stroke="#000" stroke-width="0.7" />
<line x1="173.64" y1="848.20" x2="173.64" y2="850.00" stroke="#000" stroke-width="0.7" />
<line x1="176.28" y1="848.20" x2="176.28" y2="850.00" stroke="#000" stroke-width="0.7" />
<text x="104.00" y="741.00" font-size="8.9" fill="#000" text-anchor="middle" >ΔR1-R3/ΔR9-R11</text>
<text x="28.60" y="760.70" font-size="8.9"><tspan font-style="italic">r</tspan> = -0.252</text>
<text x="27.10" y="775.20" font-size="8.9"><tspan font-style="italic">p</tspan> = 0.077</text>
<rect x="116.70" y="762.03" width="2.1" height="2.1" fill="#1f2f9e"/>
<rect x="132.59" y="773.59" width="2.1" height="2.1" fill="#1f2f9e"/>
<rect x="105.78" y="776.48" width="2.1" height="2.1" fill="#1f2f9e"/>
<rect x="111.07" y="783.87" width="2.1" height="2.1" fill="#1f2f9e"/>
<rect x="80.40" y="789.33" width="2.1" height="2.1" fill="#1f2f9e"/>
<rect x="90.84" y="790.13" width="2.1" height="2.1" fill="#1f2f9e"/>
<rect x="129.38" y="789.81" width="2.1" height="2.1" fill="#1f2f9e"/>
<rect x="132.59" y="792.54" width="2.1" height="2.1" fill="#1f2f9e"/>
<rect x="139.50" y="793.67" width="2.1" height="2.1" fill="#1f2f9e"/>
<rect x="149.94" y="788.85" width="2.1" height="2.1" fill="#1f2f9e"/>
<rect x="103.85" y="797.68" width="2.1" height="2.1" fill="#1f2f9e"/>
<rect x="77.83" y="800.09" width="2.1" height="2.1" fill="#1f2f9e"/>
<rect x="146.73" y="799.77" width="2.1" height="2.1" fill="#1f2f9e"/>
<rect x="154.43" y="800.57" width="2.1" height="2.1" fill="#1f2f9e"/>
<rect x="155.72" y="805.39" width="2.1" height="2.1" fill="#1f2f9e"/>
<rect x="131.15" y="802.98" width="2.1" height="2.1" fill="#1f2f9e"/>
<rect x="132.11" y="804.10" width="2.1" height="2.1" fill="#1f2f9e"/>
<rect x="136.93" y="804.75" width="2.1" height="2.1" fill="#1f2f9e"/>
<rect x="114.13" y="805.55" width="2.1" height="2.1" fill="#1f2f9e"/>
<rect x="119.10" y="807.00" width="2.1" height="2.1" fill="#1f2f9e"/>
<rect x="142.87" y="807.80" width="2.1" height="2.1" fill="#1f2f9e"/>
<rect x="79.92" y="808.28" width="2.1" height="2.1" fill="#1f2f9e"/>
<rect x="88.27" y="811.01" width="2.1" height="2.1" fill="#1f2f9e"/>
<rect x="136.77" y="811.01" width="2.1" height="2.1" fill="#1f2f9e"/>
<rect x="123.28" y="813.42" width="2.1" height="2.1" fill="#1f2f9e"/>
<rect x="124.40" y="814.06" width="2.1" height="2.1" fill="#1f2f9e"/>
<rect x="126.81" y="812.62" width="2.1" height="2.1" fill="#1f2f9e"/>
<rect x="148.81" y="811.97" width="2.1" height="2.1" fill="#1f2f9e"/>
<rect x="147.37" y="813.10" width="2.1" height="2.1" fill="#1f2f9e"/>
<rect x="118.46" y="814.38" width="2.1" height="2.1" fill="#1f2f9e"/>
<rect x="90.68" y="815.19" width="2.1" height="2.1" fill="#1f2f9e"/>
<rect x="97.91" y="816.95" width="2.1" height="2.1" fill="#1f2f9e"/>
<rect x="101.76" y="816.95" width="2.1" height="2.1" fill="#1f2f9e"/>
<rect x="108.67" y="817.59" width="2.1" height="2.1" fill="#1f2f9e"/>
<rect x="144.48" y="815.51" width="2.1" height="2.1" fill="#1f2f9e"/>
<rect x="141.59" y="817.43" width="2.1" height="2.1" fill="#1f2f9e"/>
<rect x="150.90" y="817.11" width="2.1" height="2.1" fill="#1f2f9e"/>
<rect x="164.07" y="814.38" width="2.1" height="2.1" fill="#1f2f9e"/>
<rect x="166.00" y="816.95" width="2.1" height="2.1" fill="#1f2f9e"/>
<rect x="94.69" y="820.81" width="2.1" height="2.1" fill="#1f2f9e"/>
<rect x="89.56" y="822.57" width="2.1" height="2.1" fill="#1f2f9e"/>
<rect x="102.88" y="824.66" width="2.1" height="2.1" fill="#1f2f9e"/>
<rect x="114.45" y="823.86" width="2.1" height="2.1" fill="#1f2f9e"/>
<rect x="115.57" y="822.09" width="2.1" height="2.1" fill="#1f2f9e"/>
<rect x="128.74" y="819.04" width="2.1" height="2.1" fill="#1f2f9e"/>
<rect x="132.92" y="818.72" width="2.1" height="2.1" fill="#1f2f9e"/>
<rect x="133.88" y="818.24" width="2.1" height="2.1" fill="#1f2f9e"/>
<rect x="139.82" y="820.65" width="2.1" height="2.1" fill="#1f2f9e"/>
<rect x="145.44" y="819.84" width="2.1" height="2.1" fill="#1f2f9e"/>
<rect x="157.00" y="821.45" width="2.1" height="2.1" fill="#1f2f9e"/>
<rect x="157.65" y="823.38" width="2.1" height="2.1" fill="#1f2f9e"/>
<rect x="154.11" y="823.86" width="2.1" height="2.1" fill="#1f2f9e"/>
<rect x="162.62" y="825.14" width="2.1" height="2.1" fill="#1f2f9e"/>
<rect x="132.11" y="823.38" width="2.1" height="2.1" fill="#1f2f9e"/>
<rect x="134.84" y="824.66" width="2.1" height="2.1" fill="#1f2f9e"/>
<rect x="147.21" y="826.27" width="2.1" height="2.1" fill="#1f2f9e"/>
<rect x="150.10" y="824.82" width="2.1" height="2.1" fill="#1f2f9e"/>
<rect x="155.24" y="826.59" width="2.1" height="2.1" fill="#1f2f9e"/>
<rect x="130.35" y="826.75" width="2.1" height="2.1" fill="#1f2f9e"/>
<rect x="130.83" y="827.87" width="2.1" height="2.1" fill="#1f2f9e"/>
<rect x="136.45" y="827.87" width="2.1" height="2.1" fill="#1f2f9e"/>
<rect x="142.23" y="829.16" width="2.1" height="2.1" fill="#1f2f9e"/>
<rect x="140.78" y="831.73" width="2.1" height="2.1" fill="#1f2f9e"/>
<rect x="139.82" y="833.65" width="2.1" height="2.1" fill="#1f2f9e"/>
<rect x="152.19" y="831.24" width="2.1" height="2.1" fill="#1f2f9e"/>
<rect x="155.08" y="832.69" width="2.1" height="2.1" fill="#1f2f9e"/>
<rect x="155.40" y="833.81" width="2.1" height="2.1" fill="#1f2f9e"/>
<rect x="93.89" y="830.92" width="2.1" height="2.1" fill="#1f2f9e"/>
<rect x="116.05" y="832.69" width="2.1" height="2.1" fill="#1f2f9e"/>
<rect x="124.56" y="832.37" width="2.1" height="2.1" fill="#1f2f9e"/>
<rect x="125.21" y="833.17" width="2.1" height="2.1" fill="#1f2f9e"/>
<rect x="112.04" y="836.86" width="2.1" height="2.1" fill="#1f2f9e"/>
<rect x="117.18" y="837.03" width="2.1" height="2.1" fill="#1f2f9e"/>
<rect x="117.82" y="837.99" width="2.1" height="2.1" fill="#1f2f9e"/>
<rect x="132.11" y="836.06" width="2.1" height="2.1" fill="#1f2f9e"/>
<rect x="132.92" y="837.03" width="2.1" height="2.1" fill="#1f2f9e"/>
<rect x="140.62" y="839.27" width="2.1" height="2.1" fill="#1f2f9e"/>
<rect x="144.80" y="839.92" width="2.1" height="2.1" fill="#1f2f9e"/>
<rect x="161.82" y="843.61" width="2.1" height="2.1" fill="#1f2f9e"/>
<line x1="78.80" y1="807.50" x2="167.20" y2="824.40" stroke="#111" stroke-width="1.0" />
<rect x="198.40" y="745.50" width="154.10" height="102.70" fill="none" stroke="#222" stroke-width="1.1" rx="0" />
<line x1="195.80" y1="848.20" x2="198.40" y2="848.20" stroke="#000" stroke-width="1" />
<text x="194.80" y="851.20" font-size="8.5" fill="#000" text-anchor="end" >0</text>
<line x1="195.80" y1="826.48" x2="198.40" y2="826.48" stroke="#000" stroke-width="1" />
<text x="194.80" y="829.48" font-size="8.5" fill="#000" text-anchor="end" >20</text>
<line x1="195.80" y1="804.76" x2="198.40" y2="804.76" stroke="#000" stroke-width="1" />
<text x="194.80" y="807.76" font-size="8.5" fill="#000" text-anchor="end" >40</text>
<line x1="195.80" y1="783.04" x2="198.40" y2="783.04" stroke="#000" stroke-width="1" />
<text x="194.80" y="786.04" font-size="8.5" fill="#000" text-anchor="end" >60</text>
<line x1="195.80" y1="761.32" x2="198.40" y2="761.32" stroke="#000" stroke-width="1" />
<text x="194.80" y="764.32" font-size="8.5" fill="#000" text-anchor="end" >80</text>
<line x1="198.40" y1="848.20" x2="198.40" y2="850.80" stroke="#000" stroke-width="1" />
<text x="198.40" y="858.00" font-size="8.7" fill="#000" text-anchor="middle" >0.1</text>
<line x1="238.00" y1="848.20" x2="238.00" y2="850.80" stroke="#000" stroke-width="1" />
<text x="238.00" y="858.00" font-size="8.7" fill="#000" text-anchor="middle" >1</text>
<line x1="277.60" y1="848.20" x2="277.60" y2="850.80" stroke="#000" stroke-width="1" />
<text x="277.60" y="858.00" font-size="8.7" fill="#000" text-anchor="middle" >10</text>
<line x1="317.20" y1="848.20" x2="317.20" y2="850.80" stroke="#000" stroke-width="1" />
<text x="317.20" y="858.00" font-size="8.7" fill="#000" text-anchor="middle" >100</text>
<line x1="210.32" y1="848.20" x2="210.32" y2="850.00" stroke="#000" stroke-width="0.7" />
<line x1="217.29" y1="848.20" x2="217.29" y2="850.00" stroke="#000" stroke-width="0.7" />
<line x1="222.24" y1="848.20" x2="222.24" y2="850.00" stroke="#000" stroke-width="0.7" />
<line x1="226.08" y1="848.20" x2="226.08" y2="850.00" stroke="#000" stroke-width="0.7" />
<line x1="229.21" y1="848.20" x2="229.21" y2="850.00" stroke="#000" stroke-width="0.7" />
<line x1="231.87" y1="848.20" x2="231.87" y2="850.00" stroke="#000" stroke-width="0.7" />
<line x1="234.16" y1="848.20" x2="234.16" y2="850.00" stroke="#000" stroke-width="0.7" />
<line x1="236.19" y1="848.20" x2="236.19" y2="850.00" stroke="#000" stroke-width="0.7" />
<line x1="249.92" y1="848.20" x2="249.92" y2="850.00" stroke="#000" stroke-width="0.7" />
<line x1="256.89" y1="848.20" x2="256.89" y2="850.00" stroke="#000" stroke-width="0.7" />
<line x1="261.84" y1="848.20" x2="261.84" y2="850.00" stroke="#000" stroke-width="0.7" />
<line x1="265.68" y1="848.20" x2="265.68" y2="850.00" stroke="#000" stroke-width="0.7" />
<line x1="268.81" y1="848.20" x2="268.81" y2="850.00" stroke="#000" stroke-width="0.7" />
<line x1="271.47" y1="848.20" x2="271.47" y2="850.00" stroke="#000" stroke-width="0.7" />
<line x1="273.76" y1="848.20" x2="273.76" y2="850.00" stroke="#000" stroke-width="0.7" />
<line x1="275.79" y1="848.20" x2="275.79" y2="850.00" stroke="#000" stroke-width="0.7" />
<line x1="289.52" y1="848.20" x2="289.52" y2="850.00" stroke="#000" stroke-width="0.7" />
<line x1="296.49" y1="848.20" x2="296.49" y2="850.00" stroke="#000" stroke-width="0.7" />
<line x1="301.44" y1="848.20" x2="301.44" y2="850.00" stroke="#000" stroke-width="0.7" />
<line x1="305.28" y1="848.20" x2="305.28" y2="850.00" stroke="#000" stroke-width="0.7" />
<line x1="308.41" y1="848.20" x2="308.41" y2="850.00" stroke="#000" stroke-width="0.7" />
<line x1="311.07" y1="848.20" x2="311.07" y2="850.00" stroke="#000" stroke-width="0.7" />
<line x1="313.36" y1="848.20" x2="313.36" y2="850.00" stroke="#000" stroke-width="0.7" />
<line x1="315.39" y1="848.20" x2="315.39" y2="850.00" stroke="#000" stroke-width="0.7" />
<line x1="329.12" y1="848.20" x2="329.12" y2="850.00" stroke="#000" stroke-width="0.7" />
<line x1="336.09" y1="848.20" x2="336.09" y2="850.00" stroke="#000" stroke-width="0.7" />
<line x1="341.04" y1="848.20" x2="341.04" y2="850.00" stroke="#000" stroke-width="0.7" />
<line x1="344.88" y1="848.20" x2="344.88" y2="850.00" stroke="#000" stroke-width="0.7" />
<line x1="348.01" y1="848.20" x2="348.01" y2="850.00" stroke="#000" stroke-width="0.7" />
<line x1="350.67" y1="848.20" x2="350.67" y2="850.00" stroke="#000" stroke-width="0.7" />
<text x="279.00" y="741.00" font-size="8.9" fill="#000" text-anchor="middle" >Spectrin repeats_ΔR1-R3/ΔR9-R11</text>
<text x="202.50" y="760.70" font-size="8.9"><tspan font-style="italic">r</tspan> = -0.485</text>
<text x="201.00" y="775.20" font-size="8.9"><tspan font-style="italic">p</tspan> &lt; 0.0001</text>
<rect x="257.14" y="750.77" width="2.1" height="2.1" fill="#1f2f9e"/>
<rect x="260.70" y="758.96" width="2.1" height="2.1" fill="#1f2f9e"/>
<rect x="280.47" y="776.41" width="2.1" height="2.1" fill="#1f2f9e"/>
<rect x="274.95" y="787.81" width="2.1" height="2.1" fill="#1f2f9e"/>
<rect x="275.84" y="787.63" width="2.1" height="2.1" fill="#1f2f9e"/>
<rect x="291.87" y="787.28" width="2.1" height="2.1" fill="#1f2f9e"/>
<rect x="286.52" y="792.98" width="2.1" height="2.1" fill="#1f2f9e"/>
<rect x="304.33" y="792.26" width="2.1" height="2.1" fill="#1f2f9e"/>
<rect x="261.59" y="795.65" width="2.1" height="2.1" fill="#1f2f9e"/>
<rect x="265.15" y="796.72" width="2.1" height="2.1" fill="#1f2f9e"/>
<rect x="297.92" y="797.43" width="2.1" height="2.1" fill="#1f2f9e"/>
<rect x="305.58" y="798.85" width="2.1" height="2.1" fill="#1f2f9e"/>
<rect x="318.58" y="799.03" width="2.1" height="2.1" fill="#1f2f9e"/>
<rect x="273.88" y="800.63" width="2.1" height="2.1" fill="#1f2f9e"/>
<rect x="296.32" y="801.88" width="2.1" height="2.1" fill="#1f2f9e"/>
<rect x="279.58" y="804.20" width="2.1" height="2.1" fill="#1f2f9e"/>
<rect x="294.89" y="806.33" width="2.1" height="2.1" fill="#1f2f9e"/>
<rect x="301.84" y="806.15" width="2.1" height="2.1" fill="#1f2f9e"/>
<rect x="307.01" y="807.22" width="2.1" height="2.1" fill="#1f2f9e"/>
<rect x="310.03" y="809.00" width="2.1" height="2.1" fill="#1f2f9e"/>
<rect x="314.66" y="810.25" width="2.1" height="2.1" fill="#1f2f9e"/>
<rect x="320.18" y="805.98" width="2.1" height="2.1" fill="#1f2f9e"/>
<rect x="240.04" y="806.69" width="2.1" height="2.1" fill="#1f2f9e"/>
<rect x="280.11" y="809.54" width="2.1" height="2.1" fill="#1f2f9e"/>
<rect x="281.00" y="812.57" width="2.1" height="2.1" fill="#1f2f9e"/>
<rect x="297.03" y="810.96" width="2.1" height="2.1" fill="#1f2f9e"/>
<rect x="309.14" y="811.68" width="2.1" height="2.1" fill="#1f2f9e"/>
<rect x="311.46" y="812.57" width="2.1" height="2.1" fill="#1f2f9e"/>
<rect x="311.99" y="814.70" width="2.1" height="2.1" fill="#1f2f9e"/>
<rect x="297.39" y="814.35" width="2.1" height="2.1" fill="#1f2f9e"/>
<rect x="323.75" y="813.46" width="2.1" height="2.1" fill="#1f2f9e"/>
<rect x="319.83" y="814.53" width="2.1" height="2.1" fill="#1f2f9e"/>
<rect x="273.70" y="814.70" width="2.1" height="2.1" fill="#1f2f9e"/>
<rect x="277.62" y="814.70" width="2.1" height="2.1" fill="#1f2f9e"/>
<rect x="277.98" y="816.66" width="2.1" height="2.1" fill="#1f2f9e"/>
<rect x="286.52" y="815.24" width="2.1" height="2.1" fill="#1f2f9e"/>
<rect x="287.77" y="814.70" width="2.1" height="2.1" fill="#1f2f9e"/>
<rect x="265.15" y="817.37" width="2.1" height="2.1" fill="#1f2f9e"/>
<rect x="299.88" y="817.73" width="2.1" height="2.1" fill="#1f2f9e"/>
<rect x="306.83" y="815.77" width="2.1" height="2.1" fill="#1f2f9e"/>
<rect x="307.90" y="817.02" width="2.1" height="2.1" fill="#1f2f9e"/>
<rect x="316.98" y="819.16" width="2.1" height="2.1" fill="#1f2f9e"/>
<rect x="276.73" y="821.65" width="2.1" height="2.1" fill="#1f2f9e"/>
<rect x="293.11" y="820.22" width="2.1" height="2.1" fill="#1f2f9e"/>
<rect x="310.03" y="820.94" width="2.1" height="2.1" fill="#1f2f9e"/>
<rect x="311.81" y="821.83" width="2.1" height="2.1" fill="#1f2f9e"/>
<rect x="321.07" y="821.47" width="2.1" height="2.1" fill="#1f2f9e"/>
<rect x="289.55" y="824.14" width="2.1" height="2.1" fill="#1f2f9e"/>
<rect x="309.14" y="823.79" width="2.1" height="2.1" fill="#1f2f9e"/>
<rect x="312.35" y="825.57" width="2.1" height="2.1" fill="#1f2f9e"/>
<rect x="315.38" y="826.46" width="2.1" height="2.1" fill="#1f2f9e"/>
<rect x="316.27" y="825.03" width="2.1" height="2.1" fill="#1f2f9e"/>
<rect x="320.90" y="826.46" width="2.1" height="2.1" fill="#1f2f9e"/>
<rect x="325.17" y="827.35" width="2.1" height="2.1" fill="#1f2f9e"/>
<rect x="326.06" y="829.13" width="2.1" height="2.1" fill="#1f2f9e"/>
<rect x="324.64" y="830.02" width="2.1" height="2.1" fill="#1f2f9e"/>
<rect x="330.16" y="823.43" width="2.1" height="2.1" fill="#1f2f9e"/>
<rect x="329.62" y="831.27" width="2.1" height="2.1" fill="#1f2f9e"/>
<rect x="248.95" y="825.92" width="2.1" height="2.1" fill="#1f2f9e"/>
<rect x="254.47" y="824.14" width="2.1" height="2.1" fill="#1f2f9e"/>
<rect x="281.72" y="827.70" width="2.1" height="2.1" fill="#1f2f9e"/>
<rect x="286.88" y="826.81" width="2.1" height="2.1" fill="#1f2f9e"/>
<rect x="305.76" y="825.92" width="2.1" height="2.1" fill="#1f2f9e"/>
<rect x="301.48" y="829.49" width="2.1" height="2.1" fill="#1f2f9e"/>
<rect x="278.69" y="830.02" width="2.1" height="2.1" fill="#1f2f9e"/>
<rect x="306.83" y="831.98" width="2.1" height="2.1" fill="#1f2f9e"/>
<rect x="311.81" y="832.51" width="2.1" height="2.1" fill="#1f2f9e"/>
<rect x="316.80" y="833.58" width="2.1" height="2.1" fill="#1f2f9e"/>
<rect x="319.47" y="832.51" width="2.1" height="2.1" fill="#1f2f9e"/>
<rect x="320.36" y="834.47" width="2.1" height="2.1" fill="#1f2f9e"/>
<rect x="320.72" y="835.36" width="2.1" height="2.1" fill="#1f2f9e"/>
<rect x="294.18" y="833.58" width="2.1" height="2.1" fill="#1f2f9e"/>
<rect x="291.87" y="837.32" width="2.1" height="2.1" fill="#1f2f9e"/>
<rect x="297.21" y="838.03" width="2.1" height="2.1" fill="#1f2f9e"/>
<rect x="297.92" y="838.92" width="2.1" height="2.1" fill="#1f2f9e"/>
<rect x="295.96" y="841.06" width="2.1" height="2.1" fill="#1f2f9e"/>
<rect x="305.58" y="838.03" width="2.1" height="2.1" fill="#1f2f9e"/>
<rect x="316.09" y="838.92" width="2.1" height="2.1" fill="#1f2f9e"/>
<rect x="341.56" y="844.09" width="2.1" height="2.1" fill="#1f2f9e"/>
<line x1="241.00" y1="794.30" x2="342.70" y2="834.00" stroke="#111" stroke-width="1.0" />
<text transform="translate(14.9,510.9) rotate(-90)" font-size="10.4" text-anchor="middle">Actin flow speed (nm/s)</text>
<text x="42.10" y="581.50" font-size="10.4" fill="#000" >Expression of xTalin1-EGFP</text>
<text x="69.8" y="591.5" font-size="10.4">(molecules/μm<tspan font-size="7" dy="-3.8">2</tspan><tspan dy="3.8">)</tspan></text>
<text x="355.80" y="480.50" font-size="17" fill="#000" font-weight="bold" >f</text>
<text x="387.8" y="480.5" font-size="10">**<tspan font-style="italic">p</tspan> &lt; 0.01</text>
<rect x="387.30" y="489.40" width="296.40" height="196.40" fill="none" stroke="#444" stroke-width="1.1" rx="0" />
<line x1="383.80" y1="685.80" x2="387.30" y2="685.80" stroke="#000" stroke-width="1" />
<text x="382.30" y="688.90" font-size="8.8" fill="#000" text-anchor="end" >0</text>
<line x1="383.80" y1="639.60" x2="387.30" y2="639.60" stroke="#000" stroke-width="1" />
<text x="382.30" y="642.70" font-size="8.8" fill="#000" text-anchor="end" >20</text>
<line x1="383.80" y1="593.40" x2="387.30" y2="593.40" stroke="#000" stroke-width="1" />
<text x="382.30" y="596.50" font-size="8.8" fill="#000" text-anchor="end" >40</text>
<line x1="383.80" y1="547.20" x2="387.30" y2="547.20" stroke="#000" stroke-width="1" />
<text x="382.30" y="550.30" font-size="8.8" fill="#000" text-anchor="end" >60</text>
<line x1="383.80" y1="501.00" x2="387.30" y2="501.00" stroke="#000" stroke-width="1" />
<text x="382.30" y="504.10" font-size="8.8" fill="#000" text-anchor="end" >80</text>
<text transform="translate(367.8,585) rotate(-90)" font-size="10.6" text-anchor="middle">Actin flow speed (nm/s)</text>
<line x1="402.30" y1="685.80" x2="402.30" y2="688.40" stroke="#000" stroke-width="0.9" />
<line x1="431.87" y1="685.80" x2="431.87" y2="688.40" stroke="#000" stroke-width="0.9" />
<line x1="461.44" y1="685.80" x2="461.44" y2="688.40" stroke="#000" stroke-width="0.9" />
<line x1="491.01" y1="685.80" x2="491.01" y2="688.40" stroke="#000" stroke-width="0.9" />
<line x1="520.58" y1="685.80" x2="520.58" y2="688.40" stroke="#000" stroke-width="0.9" />
<line x1="550.15" y1="685.80" x2="550.15" y2="688.40" stroke="#000" stroke-width="0.9" />
<line x1="579.72" y1="685.80" x2="579.72" y2="688.40" stroke="#000" stroke-width="0.9" />
<line x1="609.29" y1="685.80" x2="609.29" y2="688.40" stroke="#000" stroke-width="0.9" />
<line x1="638.86" y1="685.80" x2="638.86" y2="688.40" stroke="#000" stroke-width="0.9" />
<line x1="668.43" y1="685.80" x2="668.43" y2="688.40" stroke="#000" stroke-width="0.9" />
<circle cx="402.26" cy="611.14" r="1.2" fill="#1f4fb0"/>
<circle cx="402.26" cy="623.40" r="1.2" fill="#1f4fb0"/>
<circle cx="402.26" cy="631.57" r="1.2" fill="#1f4fb0"/>
<circle cx="402.26" cy="635.66" r="1.2" fill="#1f4fb0"/>
<circle cx="405.94" cy="643.02" r="1.2" fill="#1f4fb0"/>
<circle cx="398.17" cy="645.88" r="1.2" fill="#1f4fb0"/>
<circle cx="402.26" cy="645.88" r="1.2" fill="#1f4fb0"/>
<circle cx="394.50" cy="648.54" r="1.2" fill="#1f4fb0"/>
<circle cx="409.42" cy="648.54" r="1.2" fill="#1f4fb0"/>
<circle cx="398.17" cy="651.19" r="1.2" fill="#1f4fb0"/>
<circle cx="402.26" cy="651.60" r="1.2" fill="#1f4fb0"/>
<circle cx="405.94" cy="651.19" r="1.2" fill="#1f4fb0"/>
<circle cx="397.15" cy="655.69" r="1.2" fill="#1f4fb0"/>
<circle cx="400.63" cy="657.73" r="1.2" fill="#1f4fb0"/>
<circle cx="404.31" cy="657.73" r="1.2" fill="#1f4fb0"/>
<circle cx="407.98" cy="657.12" r="1.2" fill="#1f4fb0"/>
<circle cx="398.58" cy="660.80" r="1.2" fill="#1f4fb0"/>
<circle cx="402.26" cy="660.80" r="1.2" fill="#1f4fb0"/>
<circle cx="405.94" cy="661.82" r="1.2" fill="#1f4fb0"/>
<circle cx="400.22" cy="672.04" r="1.2" fill="#1f4fb0"/>
<circle cx="403.90" cy="673.06" r="1.2" fill="#1f4fb0"/>
<circle cx="402.26" cy="677.56" r="1.2" fill="#1f4fb0"/>
<line x1="392.70" y1="650.92" x2="411.90" y2="650.92" stroke="#555" stroke-width="1.5" />
<line x1="402.30" y1="635.21" x2="402.30" y2="666.86" stroke="#444" stroke-width="1.1" />
<line x1="396.70" y1="635.21" x2="407.90" y2="635.21" stroke="#333" stroke-width="1.2" />
<line x1="396.70" y1="666.86" x2="407.90" y2="666.86" stroke="#333" stroke-width="1.2" />
<circle cx="431.90" cy="562.29" r="1.2" fill="#7a1a8c"/>
<circle cx="431.90" cy="581.09" r="1.2" fill="#7a1a8c"/>
<circle cx="431.90" cy="594.79" r="1.2" fill="#7a1a8c"/>
<circle cx="431.90" cy="608.28" r="1.2" fill="#7a1a8c"/>
<circle cx="433.33" cy="611.14" r="1.2" fill="#7a1a8c"/>
<circle cx="428.83" cy="614.20" r="1.2" fill="#7a1a8c"/>
<circle cx="435.37" cy="614.20" r="1.2" fill="#7a1a8c"/>
<circle cx="431.90" cy="619.31" r="1.2" fill="#7a1a8c"/>
<circle cx="427.81" cy="625.03" r="1.2" fill="#7a1a8c"/>
<circle cx="431.90" cy="626.06" r="1.2" fill="#7a1a8c"/>
<circle cx="434.96" cy="624.62" r="1.2" fill="#7a1a8c"/>
<circle cx="428.83" cy="631.57" r="1.2" fill="#7a1a8c"/>
<circle cx="431.90" cy="632.19" r="1.2" fill="#7a1a8c"/>
<circle cx="435.37" cy="634.84" r="1.2" fill="#7a1a8c"/>
<circle cx="429.85" cy="637.30" r="1.2" fill="#7a1a8c"/>
<circle cx="431.90" cy="643.02" r="1.2" fill="#7a1a8c"/>
<circle cx="433.33" cy="648.95" r="1.2" fill="#7a1a8c"/>
<circle cx="429.85" cy="649.97" r="1.2" fill="#7a1a8c"/>
<circle cx="433.33" cy="663.86" r="1.2" fill="#7a1a8c"/>
<circle cx="429.85" cy="666.52" r="1.2" fill="#7a1a8c"/>
<line x1="422.27" y1="625.28" x2="441.47" y2="625.28" stroke="#555" stroke-width="1.5" />
<line x1="431.87" y1="598.48" x2="431.87" y2="652.07" stroke="#444" stroke-width="1.1" />
<line x1="426.27" y1="598.48" x2="437.47" y2="598.48" stroke="#333" stroke-width="1.2" />
<line x1="426.27" y1="652.07" x2="437.47" y2="652.07" stroke="#333" stroke-width="1.2" />
<circle cx="461.53" cy="564.74" r="1.2" fill="#b650bc"/>
<circle cx="461.53" cy="572.31" r="1.2" fill="#b650bc"/>
<circle cx="461.53" cy="587.84" r="1.2" fill="#b650bc"/>
<circle cx="461.53" cy="594.79" r="1.2" fill="#b650bc"/>
<circle cx="461.53" cy="612.77" r="1.2" fill="#b650bc"/>
<circle cx="462.96" cy="619.92" r="1.2" fill="#b650bc"/>
<circle cx="461.53" cy="624.01" r="1.2" fill="#b650bc"/>
<circle cx="458.47" cy="626.46" r="1.2" fill="#b650bc"/>
<circle cx="465.21" cy="629.53" r="1.2" fill="#b650bc"/>
<circle cx="458.47" cy="635.66" r="1.2" fill="#b650bc"/>
<circle cx="463.57" cy="635.66" r="1.2" fill="#b650bc"/>
<circle cx="455.81" cy="639.95" r="1.2" fill="#b650bc"/>
<circle cx="459.49" cy="640.36" r="1.2" fill="#b650bc"/>
<circle cx="466.64" cy="640.36" r="1.2" fill="#b650bc"/>
<circle cx="461.53" cy="643.02" r="1.2" fill="#b650bc"/>
<circle cx="458.47" cy="646.49" r="1.2" fill="#b650bc"/>
<circle cx="465.21" cy="646.49" r="1.2" fill="#b650bc"/>
<circle cx="461.53" cy="652.01" r="1.2" fill="#b650bc"/>
<circle cx="461.53" cy="658.35" r="1.2" fill="#b650bc"/>
<circle cx="461.53" cy="667.13" r="1.2" fill="#b650bc"/>
<line x1="451.84" y1="626.66" x2="471.04" y2="626.66" stroke="#555" stroke-width="1.5" />
<line x1="461.44" y1="599.64" x2="461.44" y2="653.46" stroke="#444" stroke-width="1.1" />
<line x1="455.84" y1="599.64" x2="467.04" y2="599.64" stroke="#333" stroke-width="1.2" />
<line x1="455.84" y1="653.46" x2="467.04" y2="653.46" stroke="#333" stroke-width="1.2" />
<circle cx="490.76" cy="530.41" r="1.2" fill="#16803a"/>
<circle cx="490.76" cy="563.72" r="1.2" fill="#16803a"/>
<circle cx="488.71" cy="569.85" r="1.2" fill="#16803a"/>
<circle cx="492.80" cy="572.92" r="1.2" fill="#16803a"/>
<circle cx="488.71" cy="592.33" r="1.2" fill="#16803a"/>
<circle cx="492.80" cy="595.81" r="1.2" fill="#16803a"/>
<circle cx="490.76" cy="610.11" r="1.2" fill="#16803a"/>
<circle cx="485.65" cy="612.77" r="1.2" fill="#16803a"/>
<circle cx="495.87" cy="613.79" r="1.2" fill="#16803a"/>
<circle cx="488.10" cy="619.31" r="1.2" fill="#16803a"/>
<circle cx="491.16" cy="619.92" r="1.2" fill="#16803a"/>
<circle cx="490.76" cy="623.40" r="1.2" fill="#16803a"/>
<circle cx="487.69" cy="625.65" r="1.2" fill="#16803a"/>
<circle cx="494.23" cy="628.10" r="1.2" fill="#16803a"/>
<circle cx="490.76" cy="630.14" r="1.2" fill="#16803a"/>
<circle cx="487.69" cy="635.66" r="1.2" fill="#16803a"/>
<circle cx="494.64" cy="635.66" r="1.2" fill="#16803a"/>
<circle cx="490.76" cy="639.34" r="1.2" fill="#16803a"/>
<circle cx="487.69" cy="642.81" r="1.2" fill="#16803a"/>
<circle cx="495.87" cy="643.02" r="1.2" fill="#16803a"/>
<circle cx="489.12" cy="646.08" r="1.2" fill="#16803a"/>
<circle cx="492.19" cy="646.49" r="1.2" fill="#16803a"/>
<circle cx="485.65" cy="650.58" r="1.2" fill="#16803a"/>
<circle cx="490.76" cy="650.58" r="1.2" fill="#16803a"/>
<circle cx="485.65" cy="656.71" r="1.2" fill="#16803a"/>
<circle cx="488.10" cy="657.73" r="1.2" fill="#16803a"/>
<circle cx="490.76" cy="657.73" r="1.2" fill="#16803a"/>
<circle cx="494.23" cy="657.12" r="1.2" fill="#16803a"/>
<circle cx="495.87" cy="655.28" r="1.2" fill="#16803a"/>
<circle cx="489.12" cy="663.86" r="1.2" fill="#16803a"/>
<circle cx="492.19" cy="665.91" r="1.2" fill="#16803a"/>
<circle cx="490.76" cy="670.61" r="1.2" fill="#16803a"/>
<line x1="481.41" y1="625.28" x2="500.61" y2="625.28" stroke="#555" stroke-width="1.5" />
<line x1="491.01" y1="592.71" x2="491.01" y2="657.39" stroke="#444" stroke-width="1.1" />
<line x1="485.41" y1="592.71" x2="496.61" y2="592.71" stroke="#333" stroke-width="1.2" />
<line x1="485.41" y1="657.39" x2="496.61" y2="657.39" stroke="#333" stroke-width="1.2" />
<circle cx="520.39" cy="569.44" r="1.2" fill="#f26a1b"/>
<circle cx="522.43" cy="580.68" r="1.2" fill="#f26a1b"/>
<circle cx="518.76" cy="583.55" r="1.2" fill="#f26a1b"/>
<circle cx="518.76" cy="599.08" r="1.2" fill="#f26a1b"/>
<circle cx="517.12" cy="605.21" r="1.2" fill="#f26a1b"/>
<circle cx="520.80" cy="606.03" r="1.2" fill="#f26a1b"/>
<circle cx="523.86" cy="608.28" r="1.2" fill="#f26a1b"/>
<circle cx="517.12" cy="612.77" r="1.2" fill="#f26a1b"/>
<circle cx="520.80" cy="612.77" r="1.2" fill="#f26a1b"/>
<circle cx="517.12" cy="617.47" r="1.2" fill="#f26a1b"/>
<circle cx="522.43" cy="617.88" r="1.2" fill="#f26a1b"/>
<circle cx="520.39" cy="621.56" r="1.2" fill="#f26a1b"/>
<circle cx="523.86" cy="621.97" r="1.2" fill="#f26a1b"/>
<circle cx="517.12" cy="626.06" r="1.2" fill="#f26a1b"/>
<circle cx="522.43" cy="630.14" r="1.2" fill="#f26a1b"/>
<circle cx="518.76" cy="633.82" r="1.2" fill="#f26a1b"/>
<circle cx="523.86" cy="634.84" r="1.2" fill="#f26a1b"/>
<circle cx="520.39" cy="637.70" r="1.2" fill="#f26a1b"/>
<circle cx="517.12" cy="641.79" r="1.2" fill="#f26a1b"/>
<circle cx="520.80" cy="642.00" r="1.2" fill="#f26a1b"/>
<circle cx="523.86" cy="641.38" r="1.2" fill="#f26a1b"/>
<circle cx="518.76" cy="645.47" r="1.2" fill="#f26a1b"/>
<circle cx="520.80" cy="648.95" r="1.2" fill="#f26a1b"/>
<circle cx="518.76" cy="655.08" r="1.2" fill="#f26a1b"/>
<circle cx="522.43" cy="656.30" r="1.2" fill="#f26a1b"/>
<circle cx="517.12" cy="667.54" r="1.2" fill="#f26a1b"/>
<circle cx="520.39" cy="670.20" r="1.2" fill="#f26a1b"/>
<circle cx="523.86" cy="668.36" r="1.2" fill="#f26a1b"/>
<line x1="510.98" y1="625.74" x2="530.18" y2="625.74" stroke="#555" stroke-width="1.5" />
<line x1="520.58" y1="599.17" x2="520.58" y2="652.07" stroke="#444" stroke-width="1.1" />
<line x1="514.98" y1="599.17" x2="526.18" y2="599.17" stroke="#333" stroke-width="1.2" />
<line x1="514.98" y1="652.07" x2="526.18" y2="652.07" stroke="#333" stroke-width="1.2" />
<circle cx="549.89" cy="620.21" r="1.2" fill="#1f4fb0"/>
<circle cx="549.89" cy="629.19" r="1.2" fill="#1f4fb0"/>
<circle cx="547.04" cy="637.95" r="1.2" fill="#1f4fb0"/>
<circle cx="553.61" cy="637.95" r="1.2" fill="#1f4fb0"/>
<circle cx="549.89" cy="641.67" r="1.2" fill="#1f4fb0"/>
<circle cx="549.89" cy="646.05" r="1.2" fill="#1f4fb0"/>
<circle cx="548.14" cy="649.33" r="1.2" fill="#1f4fb0"/>
<circle cx="549.89" cy="649.33" r="1.2" fill="#1f4fb0"/>
<circle cx="547.04" cy="653.28" r="1.2" fill="#1f4fb0"/>
<circle cx="553.61" cy="653.28" r="1.2" fill="#1f4fb0"/>
<circle cx="548.14" cy="656.56" r="1.2" fill="#1f4fb0"/>
<circle cx="553.61" cy="657.00" r="1.2" fill="#1f4fb0"/>
<circle cx="546.39" cy="661.38" r="1.2" fill="#1f4fb0"/>
<circle cx="549.89" cy="661.38" r="1.2" fill="#1f4fb0"/>
<circle cx="552.52" cy="661.38" r="1.2" fill="#1f4fb0"/>
<circle cx="548.14" cy="667.51" r="1.2" fill="#1f4fb0"/>
<circle cx="551.42" cy="667.51" r="1.2" fill="#1f4fb0"/>
<line x1="540.55" y1="650.69" x2="559.75" y2="650.69" stroke="#555" stroke-width="1.5" />
<line x1="550.15" y1="637.75" x2="550.15" y2="664.32" stroke="#444" stroke-width="1.1" />
<line x1="544.55" y1="637.75" x2="555.75" y2="637.75" stroke="#333" stroke-width="1.2" />
<line x1="544.55" y1="664.32" x2="555.75" y2="664.32" stroke="#333" stroke-width="1.2" />
<circle cx="579.67" cy="544.89" r="1.2" fill="#7a1a8c"/>
<circle cx="579.67" cy="562.41" r="1.2" fill="#7a1a8c"/>
<circle cx="576.16" cy="598.54" r="1.2" fill="#7a1a8c"/>
<circle cx="579.67" cy="599.63" r="1.2" fill="#7a1a8c"/>
<circle cx="583.61" cy="598.54" r="1.2" fill="#7a1a8c"/>
<circle cx="572.22" cy="612.55" r="1.2" fill="#7a1a8c"/>
<circle cx="576.16" cy="613.21" r="1.2" fill="#7a1a8c"/>
<circle cx="579.67" cy="616.05" r="1.2" fill="#7a1a8c"/>
<circle cx="583.61" cy="614.30" r="1.2" fill="#7a1a8c"/>
<circle cx="586.89" cy="613.21" r="1.2" fill="#7a1a8c"/>
<circle cx="579.67" cy="623.72" r="1.2" fill="#7a1a8c"/>
<circle cx="579.67" cy="630.72" r="1.2" fill="#7a1a8c"/>
<circle cx="576.16" cy="634.01" r="1.2" fill="#7a1a8c"/>
<circle cx="582.08" cy="634.66" r="1.2" fill="#7a1a8c"/>
<circle cx="579.67" cy="637.73" r="1.2" fill="#7a1a8c"/>
<circle cx="576.16" cy="640.14" r="1.2" fill="#7a1a8c"/>
<circle cx="582.08" cy="640.58" r="1.2" fill="#7a1a8c"/>
<circle cx="574.41" cy="645.39" r="1.2" fill="#7a1a8c"/>
<circle cx="579.67" cy="645.61" r="1.2" fill="#7a1a8c"/>
<circle cx="584.92" cy="644.96" r="1.2" fill="#7a1a8c"/>
<circle cx="576.16" cy="650.43" r="1.2" fill="#7a1a8c"/>
<circle cx="579.67" cy="649.33" r="1.2" fill="#7a1a8c"/>
<circle cx="576.16" cy="655.25" r="1.2" fill="#7a1a8c"/>
<circle cx="579.67" cy="655.90" r="1.2" fill="#7a1a8c"/>
<circle cx="583.17" cy="655.47" r="1.2" fill="#7a1a8c"/>
<circle cx="579.67" cy="666.19" r="1.2" fill="#7a1a8c"/>
<circle cx="579.67" cy="672.98" r="1.2" fill="#7a1a8c"/>
<line x1="570.12" y1="628.28" x2="589.32" y2="628.28" stroke="#555" stroke-width="1.5" />
<line x1="579.72" y1="598.02" x2="579.72" y2="658.31" stroke="#444" stroke-width="1.1" />
<line x1="574.12" y1="598.02" x2="585.32" y2="598.02" stroke="#333" stroke-width="1.2" />
<line x1="574.12" y1="658.31" x2="585.32" y2="658.31" stroke="#333" stroke-width="1.2" />
<circle cx="609.23" cy="538.76" r="1.2" fill="#b650bc"/>
<circle cx="609.23" cy="585.18" r="1.2" fill="#b650bc"/>
<circle cx="609.23" cy="593.94" r="1.2" fill="#b650bc"/>
<circle cx="609.23" cy="601.38" r="1.2" fill="#b650bc"/>
<circle cx="609.23" cy="614.96" r="1.2" fill="#b650bc"/>
<circle cx="607.26" cy="623.06" r="1.2" fill="#b650bc"/>
<circle cx="610.54" cy="623.06" r="1.2" fill="#b650bc"/>
<circle cx="612.73" cy="621.96" r="1.2" fill="#b650bc"/>
<circle cx="606.16" cy="627.44" r="1.2" fill="#b650bc"/>
<circle cx="609.23" cy="627.88" r="1.2" fill="#b650bc"/>
<circle cx="611.64" cy="626.34" r="1.2" fill="#b650bc"/>
<circle cx="610.54" cy="631.82" r="1.2" fill="#b650bc"/>
<circle cx="609.23" cy="649.77" r="1.2" fill="#b650bc"/>
<circle cx="609.23" cy="661.82" r="1.2" fill="#b650bc"/>
<circle cx="609.23" cy="675.61" r="1.2" fill="#b650bc"/>
<line x1="599.69" y1="619.73" x2="618.89" y2="619.73" stroke="#555" stroke-width="1.5" />
<line x1="609.29" y1="586.24" x2="609.29" y2="653.46" stroke="#444" stroke-width="1.1" />
<line x1="603.69" y1="586.24" x2="614.89" y2="586.24" stroke="#333" stroke-width="1.2" />
<line x1="603.69" y1="653.46" x2="614.89" y2="653.46" stroke="#333" stroke-width="1.2" />
<circle cx="638.79" cy="562.41" r="1.2" fill="#16803a"/>
<circle cx="636.82" cy="587.37" r="1.2" fill="#16803a"/>
<circle cx="640.76" cy="585.40" r="1.2" fill="#16803a"/>
<circle cx="638.79" cy="597.88" r="1.2" fill="#16803a"/>
<circle cx="638.79" cy="605.54" r="1.2" fill="#16803a"/>
<circle cx="636.82" cy="612.11" r="1.2" fill="#16803a"/>
<circle cx="642.07" cy="614.30" r="1.2" fill="#16803a"/>
<circle cx="635.07" cy="619.34" r="1.2" fill="#16803a"/>
<circle cx="638.79" cy="619.34" r="1.2" fill="#16803a"/>
<circle cx="640.76" cy="623.06" r="1.2" fill="#16803a"/>
<circle cx="636.82" cy="626.34" r="1.2" fill="#16803a"/>
<circle cx="638.79" cy="629.63" r="1.2" fill="#16803a"/>
<circle cx="642.07" cy="628.53" r="1.2" fill="#16803a"/>
<circle cx="638.79" cy="632.47" r="1.2" fill="#16803a"/>
<circle cx="635.07" cy="636.85" r="1.2" fill="#16803a"/>
<circle cx="638.79" cy="637.29" r="1.2" fill="#16803a"/>
<circle cx="644.04" cy="636.85" r="1.2" fill="#16803a"/>
<circle cx="635.07" cy="642.77" r="1.2" fill="#16803a"/>
<circle cx="638.79" cy="642.77" r="1.2" fill="#16803a"/>
<circle cx="642.07" cy="642.77" r="1.2" fill="#16803a"/>
<circle cx="636.82" cy="646.05" r="1.2" fill="#16803a"/>
<circle cx="638.79" cy="649.99" r="1.2" fill="#16803a"/>
<circle cx="638.79" cy="655.90" r="1.2" fill="#16803a"/>
<circle cx="636.82" cy="659.19" r="1.2" fill="#16803a"/>
<circle cx="638.79" cy="671.89" r="1.2" fill="#16803a"/>
<circle cx="638.79" cy="680.21" r="1.2" fill="#16803a"/>
<line x1="629.26" y1="628.28" x2="648.46" y2="628.28" stroke="#555" stroke-width="1.5" />
<line x1="638.86" y1="602.41" x2="638.86" y2="655.08" stroke="#444" stroke-width="1.1" />
<line x1="633.26" y1="602.41" x2="644.46" y2="602.41" stroke="#333" stroke-width="1.2" />
<line x1="633.26" y1="655.08" x2="644.46" y2="655.08" stroke="#333" stroke-width="1.2" />
<circle cx="668.35" cy="583.65" r="1.2" fill="#f26a1b"/>
<circle cx="668.35" cy="598.97" r="1.2" fill="#f26a1b"/>
<circle cx="666.38" cy="614.74" r="1.2" fill="#f26a1b"/>
<circle cx="670.32" cy="616.93" r="1.2" fill="#f26a1b"/>
<circle cx="668.35" cy="627.00" r="1.2" fill="#f26a1b"/>
<circle cx="668.35" cy="632.26" r="1.2" fill="#f26a1b"/>
<circle cx="668.35" cy="637.29" r="1.2" fill="#f26a1b"/>
<circle cx="666.38" cy="640.58" r="1.2" fill="#f26a1b"/>
<circle cx="670.32" cy="641.67" r="1.2" fill="#f26a1b"/>
<circle cx="665.28" cy="646.71" r="1.2" fill="#f26a1b"/>
<circle cx="668.35" cy="647.14" r="1.2" fill="#f26a1b"/>
<circle cx="671.41" cy="646.71" r="1.2" fill="#f26a1b"/>
<circle cx="666.38" cy="650.43" r="1.2" fill="#f26a1b"/>
<circle cx="670.32" cy="650.43" r="1.2" fill="#f26a1b"/>
<circle cx="668.35" cy="653.71" r="1.2" fill="#f26a1b"/>
<circle cx="665.28" cy="658.09" r="1.2" fill="#f26a1b"/>
<circle cx="670.32" cy="658.09" r="1.2" fill="#f26a1b"/>
<circle cx="666.38" cy="662.47" r="1.2" fill="#f26a1b"/>
<circle cx="668.35" cy="669.70" r="1.2" fill="#f26a1b"/>
<circle cx="668.35" cy="681.08" r="1.2" fill="#f26a1b"/>
<line x1="658.83" y1="642.14" x2="678.03" y2="642.14" stroke="#555" stroke-width="1.5" />
<line x1="668.43" y1="619.27" x2="668.43" y2="665.01" stroke="#444" stroke-width="1.1" />
<line x1="662.83" y1="619.27" x2="674.03" y2="619.27" stroke="#333" stroke-width="1.2" />
<line x1="662.83" y1="665.01" x2="674.03" y2="665.01" stroke="#333" stroke-width="1.2" />
<line x1="389.40" y1="499.20" x2="523.40" y2="499.20" stroke="#5a5a5a" stroke-width="1.6" />
<text x="469.50" y="498.60" font-size="11" fill="#444" text-anchor="middle" >**</text>
<line x1="389.40" y1="512.90" x2="501.60" y2="512.90" stroke="#5a5a5a" stroke-width="1.6" />
<text x="453.90" y="512.30" font-size="11" fill="#444" text-anchor="middle" >**</text>
<line x1="389.40" y1="526.10" x2="473.80" y2="526.10" stroke="#5a5a5a" stroke-width="1.6" />
<text x="438.20" y="525.50" font-size="11" fill="#444" text-anchor="middle" >**</text>
<line x1="389.40" y1="539.80" x2="438.90" y2="539.80" stroke="#5a5a5a" stroke-width="1.6" />
<text x="413.80" y="539.20" font-size="11" fill="#444" text-anchor="middle" >**</text>
<line x1="539.20" y1="511.90" x2="651.60" y2="511.90" stroke="#5a5a5a" stroke-width="1.6" />
<text x="602.70" y="512.70" font-size="11" fill="#444" text-anchor="middle" >**</text>
<line x1="539.20" y1="525.20" x2="624.00" y2="525.20" stroke="#5a5a5a" stroke-width="1.6" />
<text x="587.20" y="526.00" font-size="11" fill="#444" text-anchor="middle" >**</text>
<line x1="539.20" y1="538.40" x2="589.10" y2="538.40" stroke="#5a5a5a" stroke-width="1.6" />
<text x="562.80" y="539.20" font-size="11" fill="#444" text-anchor="middle" >**</text>
<line x1="539.20" y1="498.70" x2="674.00" y2="498.70" stroke="#5a5a5a" stroke-width="1.6" />
<text x="613.70" y="496.20" font-size="9.6" fill="#444" text-anchor="middle" >n.s.</text>
<text transform="translate(407.10,696.00) rotate(-45)" font-size="7.9" text-anchor="end">WT</text>
<text transform="translate(436.67,696.00) rotate(-45)" font-size="7.9" text-anchor="end">ΔR1-R11</text>
<text transform="translate(466.24,696.00) rotate(-45)" font-size="7.9" text-anchor="end">Spectrin repeats_ΔR1-R11</text>
<text transform="translate(495.81,696.00) rotate(-45)" font-size="7.9" text-anchor="end">ΔR1-R3/ΔR9-R11</text>
<text transform="translate(525.38,696.00) rotate(-45)" font-size="7.9" text-anchor="end">Spectrin repeats_ΔR1-R3/ΔR9-R11</text>
<text transform="translate(554.95,696.00) rotate(-45)" font-size="7.9" text-anchor="end">WT</text>
<text transform="translate(584.52,696.00) rotate(-45)" font-size="7.9" text-anchor="end">ΔR1-R11</text>
<text transform="translate(614.09,696.00) rotate(-45)" font-size="7.9" text-anchor="end">Spectrin repeats_ΔR1-R11</text>
<text transform="translate(643.66,696.00) rotate(-45)" font-size="7.9" text-anchor="end">ΔR1-R3/ΔR9-R11</text>
<text transform="translate(673.23,696.00) rotate(-45)" font-size="7.9" text-anchor="end">Spectrin repeats_ΔR1-R3/ΔR9-R11</text>
<line x1="384.70" y1="787.20" x2="526.40" y2="787.20" stroke="#000" stroke-width="1.3" />
<line x1="533.20" y1="787.20" x2="674.40" y2="787.20" stroke="#000" stroke-width="1.3" />
<text x="455.70" y="799.00" font-size="10.3" fill="#000" text-anchor="middle" >Medium Expression</text>
<text x="455.8" y="810.5" font-size="10.45" text-anchor="middle">(25-90 molecules/μm<tspan font-size="7" dy="-3.6">2</tspan><tspan dy="3.6">)</tspan></text>
<text x="604.00" y="799.00" font-size="10.3" fill="#000" text-anchor="middle" >High Expression</text>
<text x="603.6" y="810.5" font-size="10.45" text-anchor="middle">( &gt; 90 molecules/μm<tspan font-size="7" dy="-3.6">2</tspan><tspan dy="3.6">)</tspan></text>
</svg>
</body></html>
